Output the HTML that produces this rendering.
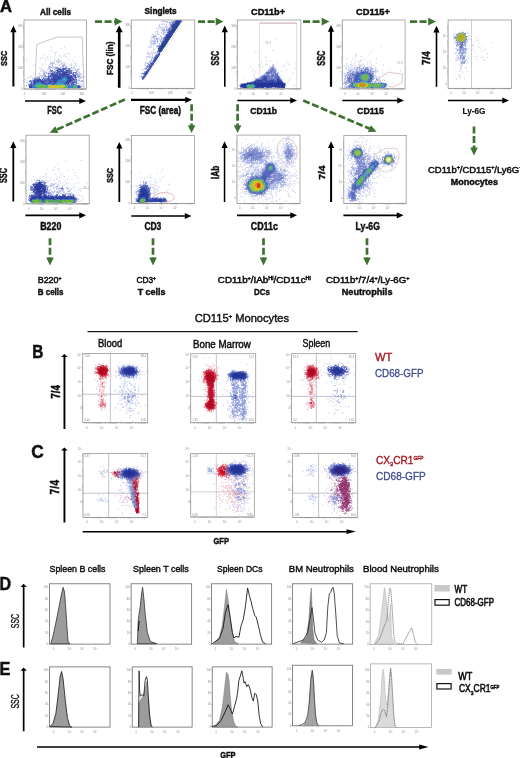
<!DOCTYPE html>
<html><head><meta charset="utf-8"><style>
html,body{margin:0;padding:0;background:#fff;width:520px;height:758px;overflow:hidden}
svg{display:block;font-family:"Liberation Sans", sans-serif}
</style></head><body>
<svg width="520" height="758" viewBox="0 0 520 758">
<defs><filter id="bl" x="-5%" y="-5%" width="110%" height="110%"><feGaussianBlur stdDeviation=".35"/></filter><filter id="tx" x="0" y="0" width="100%" height="100%"><feGaussianBlur stdDeviation=".25"/></filter></defs>
<rect width="520" height="758" fill="#fff"/>
<rect x="24" y="20" width="62.5" height="69" fill="#fff" stroke="#9a9a9a" stroke-width="0.8"/>
<rect x="131.3" y="20" width="63.4" height="68.4" fill="#fff" stroke="#9a9a9a" stroke-width="0.8"/>
<rect x="237.3" y="20" width="63.5" height="68.8" fill="#fff" stroke="#9a9a9a" stroke-width="0.8"/>
<rect x="342.3" y="20" width="62.8" height="68.8" fill="#fff" stroke="#9a9a9a" stroke-width="0.8"/>
<rect x="448.1" y="20" width="63.4" height="68.4" fill="#fff" stroke="#9a9a9a" stroke-width="0.8"/>
<rect x="26" y="135.2" width="63.2" height="68.6" fill="#fff" stroke="#9a9a9a" stroke-width="0.8"/>
<rect x="131.4" y="135.4" width="63" height="68" fill="#fff" stroke="#9a9a9a" stroke-width="0.8"/>
<rect x="237" y="135.1" width="63" height="68.3" fill="#fff" stroke="#9a9a9a" stroke-width="0.8"/>
<rect x="343.8" y="135.4" width="62.4" height="68" fill="#fff" stroke="#9a9a9a" stroke-width="0.8"/>
<path d="M12.4 86.6V32.3H10.3L13.4 25.6L16.5 32.3H14.4V86.6Z" fill="#000"/>
<path d="M117.9 87.8V32.2H115.7L119.2 25.5L122.7 32.2H120.5V87.8Z" fill="#000"/>
<path d="M224 86.7V32.2H221.7L224.8 25.5L227.9 32.2H225.6V86.7Z" fill="#000"/>
<path d="M329.9 86.7V31.7H327.9L331 25L334.1 31.7H332.1V86.7Z" fill="#000"/>
<path d="M435.7 86.7V32.5H433.4L436.5 25.8L439.6 32.5H437.3V86.7Z" fill="#000"/>
<path d="M25 100.2H79.3V97.9L86 101L79.3 104.1V101.8H25Z" fill="#000"/>
<path d="M131 98.7H185.3V96.7L192 99.8L185.3 102.9V100.9H131Z" fill="#000"/>
<path d="M237.3 99.7H290.3V97.4L297 100.5L290.3 103.6V101.3H237.3Z" fill="#000"/>
<path d="M342.3 99.7H397.3V97.4L404 100.5L397.3 103.6V101.3H342.3Z" fill="#000"/>
<path d="M448 99.7H502.3V97.4L509 100.5L502.3 103.6V101.3H448Z" fill="#000"/>
<path d="M12.4 201.5V148H10.2L13.3 141.3L16.4 148H14.2V201.5Z" fill="#000"/>
<path d="M118.4 202V148.6H116.2L119.3 141.9L122.4 148.6H120.2V202Z" fill="#000"/>
<path d="M223.8 202V148H221.5L224.6 141.3L227.7 148H225.3V202Z" fill="#000"/>
<path d="M330.1 202V148H328L331.1 141.3L334.2 148H332.1V202Z" fill="#000"/>
<path d="M25.4 214.5H79.3V212.2L86 215.3L79.3 218.4V216.2H25.4Z" fill="#000"/>
<path d="M131.3 215.2H184.8V212.9L191.5 216L184.8 219.1V216.8H131.3Z" fill="#000"/>
<path d="M237 214.5H290.3V212.2L297 215.3L290.3 218.4V216.2H237Z" fill="#000"/>
<path d="M343.4 214.5H396.8V212.2L403.5 215.3L396.8 218.4V216.2H343.4Z" fill="#000"/>
<line x1="95" y1="21.6" x2="115.2" y2="21.6" stroke="#3f7232" stroke-width="2.7" stroke-dasharray="7 2.6"/>
<path d="M122.5 21.6L114.7 25.4L114.7 17.8Z" fill="#3f7232"/>
<line x1="198" y1="21.6" x2="216.2" y2="21.6" stroke="#3f7232" stroke-width="2.7" stroke-dasharray="7 2.6"/>
<path d="M223.5 21.6L215.7 25.4L215.7 17.8Z" fill="#3f7232"/>
<line x1="303" y1="21.6" x2="322.2" y2="21.6" stroke="#3f7232" stroke-width="2.7" stroke-dasharray="7 2.6"/>
<path d="M329.5 21.6L321.7 25.4L321.7 17.8Z" fill="#3f7232"/>
<line x1="410" y1="21.6" x2="428.7" y2="21.6" stroke="#3f7232" stroke-width="2.7" stroke-dasharray="7 2.6"/>
<path d="M436 21.6L428.2 25.4L428.2 17.8Z" fill="#3f7232"/>
<line x1="125" y1="99.4" x2="56.4" y2="129.8" stroke="#3f7232" stroke-width="2.7" stroke-dasharray="7 2.6"/>
<path d="M49.7 132.8L55.3 126.2L58.4 133.1Z" fill="#3f7232"/>
<line x1="191.6" y1="104.2" x2="191.6" y2="125.7" stroke="#3f7232" stroke-width="2.7" stroke-dasharray="7 2.6"/>
<path d="M191.6 133L187.8 125.2L195.4 125.2Z" fill="#3f7232"/>
<line x1="237.6" y1="104.2" x2="237.6" y2="125.7" stroke="#3f7232" stroke-width="2.7" stroke-dasharray="7 2.6"/>
<path d="M237.6 133L233.8 125.2L241.4 125.2Z" fill="#3f7232"/>
<line x1="303.2" y1="100.5" x2="369.9" y2="128.8" stroke="#3f7232" stroke-width="2.7" stroke-dasharray="7 2.6"/>
<path d="M376.6 131.7L367.9 132.1L370.9 125.2Z" fill="#3f7232"/>
<line x1="474" y1="126.4" x2="474" y2="148.1" stroke="#3f7232" stroke-width="2.7" stroke-dasharray="7 2.6"/>
<path d="M474 155.4L470.2 147.6L477.8 147.6Z" fill="#3f7232"/>
<line x1="50" y1="238.2" x2="50" y2="258.1" stroke="#3f7232" stroke-width="2.7" stroke-dasharray="7 2.6"/>
<path d="M50 265.4L46.2 257.6L53.8 257.6Z" fill="#3f7232"/>
<line x1="153" y1="238.2" x2="153" y2="258.1" stroke="#3f7232" stroke-width="2.7" stroke-dasharray="7 2.6"/>
<path d="M153 265.4L149.2 257.6L156.8 257.6Z" fill="#3f7232"/>
<line x1="263.5" y1="238.2" x2="263.5" y2="258.1" stroke="#3f7232" stroke-width="2.7" stroke-dasharray="7 2.6"/>
<path d="M263.5 265.4L259.7 257.6L267.3 257.6Z" fill="#3f7232"/>
<line x1="367" y1="238.2" x2="367" y2="258.1" stroke="#3f7232" stroke-width="2.7" stroke-dasharray="7 2.6"/>
<path d="M367 265.4L363.2 257.6L370.8 257.6Z" fill="#3f7232"/>
<rect x="87.5" y="331.1" width="270.2" height="1.1" fill="#000"/>
<path d="M63.5 429V356.9H61.1L64.4 354L67.8 356.9H65.4V429Z" fill="#000"/>
<path d="M63.5 522.5V450.4H61.1L64.4 447.5L67.8 450.4H65.4V522.5Z" fill="#000"/>
<rect x="82.7" y="353.4" width="65" height="69.3" fill="#fff" stroke="#9a9a9a" stroke-width="0.8"/>
<rect x="190.7" y="353.7" width="65" height="69" fill="#fff" stroke="#9a9a9a" stroke-width="0.8"/>
<rect x="291.4" y="353.7" width="64.3" height="69" fill="#fff" stroke="#9a9a9a" stroke-width="0.8"/>
<rect x="83" y="453.4" width="64.7" height="64" fill="#fff" stroke="#9a9a9a" stroke-width="0.8"/>
<rect x="190.7" y="453.4" width="63.6" height="63.6" fill="#fff" stroke="#9a9a9a" stroke-width="0.8"/>
<rect x="292.7" y="453.4" width="65" height="64" fill="#fff" stroke="#9a9a9a" stroke-width="0.8"/>
<path d="M82.7 530.9H346.5V529.2L355.9 531.6L346.5 534V532.4H82.7Z" fill="#000"/>
<path d="M22.8 647.5V587H20.5L23.6 583.8L26.8 587H24.5V647.5Z" fill="#000"/>
<path d="M22.8 731.2V670.7H20.5L23.6 667.5L26.8 670.7H24.5V731.2Z" fill="#000"/>
<rect x="49.4" y="583.8" width="60.6" height="60.3" fill="#fff" stroke="#555" stroke-width="0.7"/>
<rect x="131.1" y="583.8" width="60.6" height="60.3" fill="#fff" stroke="#555" stroke-width="0.7"/>
<rect x="211.5" y="583.8" width="60.2" height="60.3" fill="#fff" stroke="#555" stroke-width="0.7"/>
<rect x="292.5" y="583.8" width="60.2" height="60.3" fill="#fff" stroke="#555" stroke-width="0.7"/>
<rect x="49.4" y="666.9" width="60.6" height="60.2" fill="#fff" stroke="#555" stroke-width="0.7"/>
<rect x="132.2" y="666.9" width="59.9" height="60.2" fill="#fff" stroke="#555" stroke-width="0.7"/>
<rect x="212.2" y="666.9" width="59.9" height="60.2" fill="#fff" stroke="#555" stroke-width="0.7"/>
<rect x="292.5" y="665.2" width="59.9" height="60.6" fill="#fff" stroke="#555" stroke-width="0.7"/>
<rect x="370.1" y="583.8" width="61.7" height="60.6" fill="#fff" stroke="#9a9a9a" stroke-width="0.7"/>
<rect x="370.5" y="663.9" width="61" height="63.5" fill="#fff" stroke="#9a9a9a" stroke-width="0.7"/>
<rect x="434.4" y="585" width="15.4" height="6.5" fill="#c8c8c8"/>
<rect x="435" y="599.6" width="14.2" height="5.6" fill="#fff" stroke="#111" stroke-width="1.2"/>
<rect x="436.3" y="669" width="15.4" height="5.6" fill="#c8c8c8"/>
<rect x="436.9" y="683.6" width="14.2" height="5.4" fill="#fff" stroke="#111" stroke-width="1.2"/>
<path d="M37 746.2H419.1V744.6L428.5 747L419.1 749.4V747.8H37Z" fill="#000"/>
<path d="M36.8 44.6L56.3 37.2L82.2 37L84 88.3L34.8 88.3Z" fill="none" stroke="#a8a0a8" stroke-width="0.6"/>
<g filter="url(#bl)">
<path stroke="#c2c8ea" stroke-width="1" d="M64 46.8h1m-14 .2h1m8.4 1.2h1m-10.5 2.6h1m3.8 1.5h1m-2.5 .1h1m.1 1.2h1m10.8 0h1m1.4 .7h1m-6.7 .3h1m-20.8 .4h1m14 .6h1m-5.1 .1h1m6.4 .3h1m1.3 0h1m.4 .4h1m-19.8 .4h1m12.1 .6h1m13 0h1m-28.9 .1h1m2.7 0h1m-9 .3h1m-3 .8h1m16.5 0h1m-3.9 .1h1m-10.5 .1h1m11.4 .5h1m9.8 0h1m-21.8 .2h1m9.5 .2h1m12.8 .3h1m-22.5 .3h1m-6.4 .1h1m8 0h1m-29.2 .2h1m27.3 .5h1m-4.5 .1h1m7.8 .1h1m-1.6 .3h1m13.9 0h1m-35.3 .3h1m24.4 .2h1m-2.6 .6h1m-6.3 .3h1m16.8 .1h1m-5.7 .6h1m1.8 .1h1m-30.9 .1h1m21.9 0h1m7.3 .2h1m-6.3 .4h1m-15.6 .1h1m25.3 .2h1m-23.2 .1h1m10.7 .1h1m-38.6 .1h1m7.9 0h1m27.8 .5h1m2.5 .2h1m.3 0h1m1.7 .8h1m-5.5 .6h1m-34.4 .8h1m-2.7 .3h1m39 .4h1m-39.2 .5h1m2.3 .7h1m-4.7 .3h1m41.6 1h1m.5 .5h1m-45.4 .1h1m-2.7 1.2h1m41.9 .8h1m-49.2 .2h1m1.5 .7h1m2.3 .1h1m42.2 .2h1m-52.3 1.2h1m-.1 .3h1m51.9 .2h1m-57.2 .4h1m54.9 .1h1m-55.4 .4h1m-3.7 .4h1m-3.1 1.4h1m.3 1.5h1m-.8 1.4h1m54.5 1.5h1m-57.4 1.6h1m56.5 1.2h1"/>
<path stroke="#98a2da" stroke-width="1" d="M53.9 62.7h1m-3.7 .3h1m-.2 0h1m-3 .1h1m10.6 .1h1m-9.4 .2h1m-2.1 .5h1m-2.7 .1h1m9.8 0h1m1.8 0h1m-15.6 .3h1m13.2 .1h1m-2 .6h1m-11.7 .1h1m-1.1 .1h1m6.3 0h1m4.1 0h1m-3.2 .4h1m1.9 0h1m-2.9 .2h1m-2.2 .3h1m-14.4 .2h1m3.1 .1h1m-4.5 .3h1m-.2 .1h1m4.2 .3h1m-5.4 .1h1m-3 .1h1m17 .1h1m3.3 0h1m-21.2 .1h1m1.7 0h1m19 0h1m-20 .3h1m-6.9 .5h1m-.8 0h1m22.8 .3h1m-21.3 .2h1m17.2 0h1m-22.1 .1h1m24.2 .3h1m-21.2 .1h1m22.9 0h1m-2.1 .3h1m-2.9 .2h1m-29 .1h1m26.5 .2h1m-33.5 .2h1m28.9 .1h1m3.6 .1h1m-24.1 .4h1m22.8 0h1m-35.6 .4h1m32.5 0h1m-.8 .1h1m-32.7 .5h1m3 .1h1m27.6 .1h1m.9 0h1m-36.6 .2h1m1 .1h1m-3.2 .4h1m1.7 .1h1m31.8 .1h1m-34.4 .1h1m1.3 .1h1m-6.3 .2h1m.4 0h1m1.7 .3h1m29.5 .3h1m-38.9 .1h1m3.3 0h1m35.2 .1h1m-1 .2h1m-37.9 .6h1m35.2 .1h1m-39.4 .4h1m-1.3 .2h1m4.2 .3h1m32.6 .1h1m-37.9 .1h1m-5.9 .2h1m42 0h1m-42.9 .1h1m1.4 .7h1m38.5 .1h1m-2.8 .1h1m-38.4 .1h1m39.7 0h1m-48.5 .1h1m44.9 .8h1m-49.3 .3h1m.9 0h1m43.8 .2h1m-1.3 1.2h1m-1.8 .2h1m.3 .1h1m1.8 .2h1m-.8 0h1m-2.1 .5h1m-.1 .1h1m-5.5 .2h1m1.5 .2h1m1.1 .2h1m-56.3 1.3h1m51.8 .2h1m.3 1.7h1m-.2 0h1m-56.4 .7h1m54.3 .5h1"/>
<path stroke="#6474c2" stroke-width="1" d="M62.9 66.6h1m2 .5h1m-2.1 .1h1m-5.5 .2h1m-4.8 .1h1m-.1 0h1m-2.2 .3h1m-.7 0h1m4.9 0h1m-8 .3h1m12.7 .2h1m-12.3 .1h1m0 .1h1m4.9 0h1m-.1 0h1m-7.5 .1h1m-.4 0h1m8.3 .1h1m-14.6 .2h1m5.2 0h1m3.5 0h1m.2 0h1m0 0h1m-1.1 .3h1m.2 0h1m-13.5 .1h1m11.5 0h1m-1.4 .4h1m-20.2 .3h1m-.7 .1h1m-.2 .3h1m-.1 .1h1m-2.5 .1h1m19.6 0h1m-20.1 .1h1m17.7 .1h1m-20.4 .5h1m-1.4 .1h1m19.2 0h1m-.8 .1h1m-19.9 .2h1m17.5 0h1m-.5 0h1m-21.6 .1h1m-2.2 .1h1m.1 0h1m1.6 0h1m20 .6h1m-.1 .1h1m-.2 0h1m-3.8 .2h1m-1.3 .2h1m-.6 0h1m-3 .1h1m.8 0h1m-.8 .2h1m-2.8 .2h1m-24.3 .1h1m-.4 0h1m25.8 .1h1m-.1 0h1m-28.8 .3h1m22.8 0h1m-25.2 .3h1m28.5 0h1m-3 .1h1m-33.2 .7h1m.3 0h1m31 .3h1m-29.4 .1h1m25.7 .2h1m-31.2 .2h1m32.5 0h1m-35.5 .3h1m3.2 .2h1m-2.6 .1h1m29.9 .1h1m-.1 .1h1m-.9 0h1m-34.4 .1h1m1.8 0h1m26.7 0h1m-33.1 .7h1m31.8 .1h1m-38.6 .1h1m3.6 0h1m-8 .2h1m1.7 0h1m35.9 0h1m-1.1 .2h1m-33.4 .1h1m.2 .2h1m-2.4 .1h1m-9.5 .1h1m.4 .1h1m38.2 .2h1m-.3 .4h1m-1 .1h1m-.8 .3h1m-1.5 .1h1m-44 .3h1m42.3 .2h1m-43.8 .2h1m-4 .1h1m44.9 0h1m-1.7 .2h1m-46.6 .2h1m-.2 .1h1m-.6 .1h1m-2.2 .1h1m.3 0h1m-.9 .1h1m-2.9 .2h1m-1 0h1m45.3 0h1m-46.6 .1h1m-.8 0h1m44.4 .1h1m-1.1 .1h1m-.5 .5h1m-.8 .4h1m.5 .4h1m-48.7 .5h1m-2.4 .8h1m-1 .5h1"/>
<path stroke="#4050ae" stroke-width="1" d="M63.6 68.4h1m-1.6 .2h1m-.5 .1h1m-1.7 .2h1m-1.3 .1h1m-.6 0h1m-.7 0h1m.1 .1h1m-.9 0h1m-8.2 .1h1m0 0h1m3 0h1m1.4 0h1m-.5 .1h1m-7.1 .2h1m.2 0h1m-1.4 .1h1m-.3 0h1m-2.6 .1h1m3.1 0h1m-5.4 .2h1m1.5 0h1m-3.6 .1h1m.8 0h1m1.8 0h1m-3.1 .1h1m-5.4 .1h1m5.5 0h1m-6.2 .1h1m1.4 0h1m.2 0h1m4.6 0h1m-2.4 .1h1m2.8 0h1m-13.9 .1h1m11.1 0h1m-13.7 .1h1m8.7 0h1m-4.2 .1h1m2.5 0h1m.1 0h1m0 0h1m-8.7 .1h1m4.9 0h1m.4 0h1m-11.7 .1h1m9.5 0h1m-8.6 .1h1m.5 .1h1m-.4 0h1m2.5 0h1m-11.4 .1h1m1 .1h1m1.4 0h1m5.1 0h1m-9.2 .1h1m-.3 0h1m.3 0h1m2.7 0h1m-6.6 .1h1m1.2 0h1m0 0h1m-.9 0h1m.6 0h1m3.4 0h1m-3.9 .1h1m3.7 0h1m-.1 0h1m-12.8 .1h1m1 0h1m8.3 0h1m-12.4 .1h1m2.4 0h1m.3 .1h1m2.2 0h1m-.7 0h1m1.5 0h1m-12.5 .1h1m5.5 0h1m4.8 0h1m-12.5 .1h1m-.2 0h1m.6 0h1m-7 .1h1m3.3 0h1m-5.1 .1h1m3.9 0h1m10.2 0h1m-14.5 .1h1m8.4 0h1m-1.7 .1h1m.3 0h1m-.6 0h1m-12.6 .1h1m-.1 0h1m1.7 0h1m5.5 .1h1m-9.7 .1h1m.8 0h1m8.5 0h1m-.6 0h1m-10.1 .1h1m9.3 0h1m-11 .1h1m-8.8 .1h1m-1 0h1m.3 0h1m2.9 0h1m9.2 0h1m2.1 0h1m-.7 0h1m-15 .1h1m8.2 0h1m-13.7 .1h1m1.1 0h1m-2 .1h1m12.7 0h1m0 0h1m-19.7 .1h1m-.9 0h1m-.8 0h1m1 0h1m5.2 0h1m-8.5 .2h1m4.5 0h1m1 0h1m6.1 0h1m-10.7 .1h1m1.1 0h1m-6.3 .1h1m1.6 0h1m2.7 0h1m-7.7 .2h1m5 0h1m13.2 0h1m-20.9 .1h1m14.8 0h1m-18.9 .1h1m3.3 0h1m.9 0h1m9.6 .1h1m4.2 0h1m-23.3 .1h1m15.7 0h1m-13.9 .1h1m1.2 0h1m-.4 0h1m-.3 0h1m.3 0h1m-.5 0h1m6.3 0h1m-14.8 .1h1m14.6 0h1m2.5 0h1m-21.1 .1h1m16.1 0h1m-19.3 .1h1m-.2 0h1m.2 0h1m-.7 0h1m.6 0h1m-3.6 .1h1m2 0h1m-5.4 .1h1m.8 0h1m18.8 0h1m.8 0h1m-24.7 .1h1m-.3 0h1m21.8 .1h1m-.5 0h1m-.8 0h1m-23.6 .1h1m14.8 0h1m-17.7 .2h1m17.5 0h1m-18.9 .1h1m18 0h1m-22.3 .1h1m.9 0h1m20.9 0h1m.4 0h1m-26 .1h1m1.7 .1h1m17.5 0h1m.7 0h1m-3 .1h1m1.1 0h1m.5 .2h1m-26.2 .1h1m-.3 0h1m23.9 0h1m-26.3 .2h1m2.2 0h1m-2.5 .1h1m18.6 0h1m.1 0h1m1.7 .1h1m-4.2 .1h1m-20.3 .1h1m-5.5 .1h1m-.2 0h1m-1.3 .1h1m-.7 .2h1m3.2 0h1m20.7 0h1m-3.9 .1h1m2.6 0h1m-4.9 .1h1m0 0h1m-23.5 .1h1m.4 .1h1m22 0h1m-26.9 .1h1m23.3 .1h1m-36.1 .1h1m34 0h1m-27.9 .1h1m1.1 0h1m-9.8 .2h1m8 0h1m-1 0h1m22.7 0h1m-21 .1h1m-6.4 .1h1m25.7 0h1m-25.3 .1h1m1.7 0h1m20.7 0h1m-24.5 .1h1m.8 .1h1m-.2 0h1m-4.7 .1h1m-11.8 .1h1m10.2 0h1m-15.5 .1h1m6.7 0h1m3.4 0h1m24.2 0h1m-33.9 .1h1m-.9 0h1m8.5 0h1m23.6 0h1m-38.7 .1h1m1.1 0h1m-.7 0h1m1.9 0h1m30.1 0h1m-.3 0h1m1.2 0h1m-28 .1h1m2.6 0h1m-12.7 .1h1m4.4 0h1m26.2 0h1m1.3 0h1m-35.7 .1h1m-.3 0h1m.9 0h1m7.6 0h1m-.9 0h1m21.5 0h1m-.8 0h1m-38.3 .1h1m.1 0h1m5.4 0h1m-.3 0h1m1.7 0h1m-.7 0h1m.5 0h1m-.9 0h1m2.1 0h1m-9 .1h1m0 0h1m2.7 0h1m.1 0h1m.8 0h1m20.3 0h1m-37.4 .1h1m9.5 0h1m.1 0h1m-.9 0h1m.2 0h1m-8.1 .1h1m5 0h1m-14.9 .1h1m12.9 0h1m.8 0h1m-18 .1h1m9.5 0h1m27.6 0h1m-31 .1h1m1.1 0h1m-.4 0h1m27.8 0h1m-41.5 .1h1m11.9 0h1m-5.8 .1h1m-7.6 .1h1m6.2 0h1m2.2 0h1m4.2 0h1m-5 .1h1m-12.9 .1h1m-.8 0h1m9.9 0h1m24.5 0h1m-.1 0h1m-25 .1h1m.9 0h1m19.5 0h1m-29 .1h1m-.4 0h1m26.9 0h1m-39.4 .1h1m13.2 0h1m1.2 0h1m20.5 0h1m.5 0h1m1.7 0h1m-31.1 .1h1m3.5 0h1m-.5 0h1m-6.2 .1h1m-12.7 .1h1m11.7 0h1m4.4 0h1m-8.9 .1h1m.4 0h1m.4 0h1m2.1 0h1m-.2 0h1m.2 0h1m19.1 0h1m-24.1 .1h1m2.3 .1h1m-18.7 .1h1m14.7 0h1m21.8 0h1m.7 0h1m-41.3 .1h1m-.9 0h1m13 0h1m25.8 0h1m-29 .1h1m25.2 0h1m-26.2 .1h1m24.7 0h1m-42.6 .1h1m13.6 .1h1m22.7 0h1m3.8 0h1m-.8 .1h1m-5.5 .1h1m-22.6 .1h1m-5.1 .1h1m27.4 0h1m-25.6 .1h1m-3.7 .1h1m22.2 0h1m1.4 0h1m.1 0h1m-.3 0h1m-42.8 .1h1m.3 .1h1m39.1 0h1m-27.2 .1h1m.4 0h1m27.3 .1h1m-4.6 .1h1m-5 .1h1m1 0h1m.6 0h1m-27.5 .1h1m.1 0h1m26 0h1m-43.7 .1h1m39.4 0h1m-25.7 .1h1m-15.5 .1h1m-3.3 .1h1m.7 0h1m-1.6 .3h1m-1.3 .2h1m-.7 .1h1m-3 .5h1m0 .4h1m-2 .2h1m.1 .1h1m47.9 0h1m-1.3 .1h1m-1.2 .1h1m0 .2h1m-1.9 .1h1m-.5 .3h1m-.4 0h1m-.8 .1h1m-2 .1h1m-1.1 .1h1m-50 .1h1m-.9 0h1m-.7 0h1m48.3 0h1m-1.3 .1h1m-.1 .1h1m-51.3 .1h1m48 .1h1"/>
<path stroke="#3444a4" stroke-width="1" d="M62.5 72.1h1m-.9 .1h1m1 .3h1m-.8 .1h1m-3.4 .2h1m.6 0h1m-2.3 .1h1m1 0h1m-3.5 .1h1m.5 0h1m-.7 0h1m-.4 0h1m.3 0h1m-4.6 .1h1m.2 .2h1m-3.3 .1h1m2.5 .1h1m-2.8 .2h1m.3 0h1m-2.6 .1h1m-.5 0h1m-.5 0h1m-1 0h1m-.7 0h1m-2.8 .2h1m-.3 0h1m1.6 0h1m-.1 .1h1m-7.2 .1h1m.5 0h1m1.1 0h1m-2.6 .1h1m2 0h1m.4 0h1m-6.6 .1h1m-.5 0h1m4 0h1m-3.2 .1h1m-5.1 .1h1m3.3 0h1m-1.5 .1h1m1 .1h1m-4.5 .1h1m-8.1 .1h1m6.4 0h1m2.4 0h1m-.8 0h1m.7 0h1m-15.1 .1h1m4.3 0h1m1.3 0h1m-6.8 .1h1m2.7 0h1m3.9 0h1m-12.2 .1h1m6.2 0h1m.9 .1h1m4.5 0h1m-1 0h1m-12.5 .1h1m-.6 0h1m5 0h1m.6 0h1m1.7 0h1m-13.4 .1h1m-.4 0h1m-.2 0h1m.2 0h1m7.4 0h1m-11.5 .1h1m5.8 0h1m0 0h1m.8 0h1m-5.8 .1h1m0 0h1m2 0h1m-1.9 .1h1m2.5 0h1m.1 0h1m-10.2 .1h1m.6 0h1m-.1 0h1m2.6 0h1m-11.4 .1h1m10.9 0h1m1.7 0h1m-14.3 .1h1m-.1 0h1m.3 0h1m-.5 0h1m2.5 0h1m1.9 0h1m-12.2 .1h1m3.7 0h1m8.9 0h1m-.5 0h1m.4 0h1m-15.1 .1h1m7.4 0h1m-9.4 .1h1m-.3 0h1m2 0h1m7.5 0h1m-13.9 .1h1m3.4 0h1m2.2 0h1m0 0h1m-.4 0h1m-.7 0h1m.7 0h1m-12.6 .1h1m-.1 0h1m1.5 0h1m3.8 0h1m1.6 0h1m-.8 0h1m-13.2 .1h1m4.1 0h1m-.9 0h1m1.1 0h1m0 0h1m-.8 0h1m-.6 0h1m1.5 0h1m2.9 0h1m.3 0h1m-12.9 .1h1m.5 0h1m3 0h1m.4 0h1m-.9 0h1m-.8 0h1m.9 0h1m.1 0h1m-15.8 .1h1m.8 0h1m.8 0h1m9.7 0h1m-15.5 .1h1m5.5 0h1m-.9 0h1m5.5 0h1m2.8 0h1m-.3 0h1m-17.4 .1h1m6.5 0h1m-.4 0h1m1.5 0h1m2.8 0h1m-16 .1h1m.8 0h1m.5 0h1m-1 0h1m-.1 0h1m8.3 0h1m-.7 0h1m-.2 0h1m-9.5 .1h1m5 0h1m-.8 0h1m3.8 0h1m-16 .1h1m.3 0h1m1.9 0h1m1.9 0h1m5.3 0h1m-.3 0h1m-16.9 .1h1m3.6 0h1m-.5 0h1m-.5 0h1m2.1 0h1m-1 0h1m-2 .1h1m3 0h1m.6 0h1m1.5 0h1m-17.9 .1h1m1.6 0h1m2.5 0h1m8.2 0h1m-.8 0h1m.7 0h1m-12.5 .1h1m-.5 0h1m5.3 0h1m2.4 0h1m-16 .1h1m.9 0h1m1.8 0h1m1.7 0h1m.7 0h1m3.2 0h1m.4 0h1m-.3 0h1m-15.2 .1h1m1.9 0h1m7.3 0h1m-1 0h1m.4 0h1m1.9 0h1m-19.4 .1h1m13.9 0h1m-13.5 .1h1m1 0h1m-.3 0h1m.8 0h1m1.5 0h1m6 0h1m.2 0h1m-.6 0h1m-11.2 .1h1m5.1 0h1m-8.9 .1h1m-.3 0h1m6.6 0h1m-8 .1h1m-.5 0h1m7.6 0h1m-16.2 .1h1m2.4 0h1m-.2 0h1m1.9 0h1m-.1 0h1m-.6 0h1m7 0h1m-18.2 .1h1m.1 0h1m.2 0h1m1.6 0h1m-.6 0h1m.9 0h1m0 0h1m-1 0h1m-.9 0h1m6.1 0h1m-16.1 .1h1m-.6 0h1m3.8 0h1m2.7 0h1m4.2 0h1m-14.1 .1h1m-.5 0h1m1.8 0h1m.2 0h1m-.9 0h1m8.1 0h1m-.5 0h1m-16.2 .1h1m4.6 0h1m-1 0h1m8.6 0h1m-14.8 .1h1m.3 0h1m2.9 0h1m6.9 0h1m.7 0h1m-17.8 .1h1m-.3 0h1m2.8 0h1m-.7 0h1m11.5 0h1m-.8 0h1m-.3 0h1m-16.2 .1h1m-.4 0h1m-.6 0h1m-.2 0h1m1.5 0h1m6.5 0h1m-12.5 .1h1m-.2 0h1m3.3 0h1m7.2 0h1m.1 0h1m-16.9 .1h1m-2.6 .1h1m2.6 0h1m3.5 0h1m-.9 0h1m9.1 0h1m-18 .1h1m-.8 0h1m-.9 0h1m-1 0h1m.3 0h1m-.3 0h1m.1 0h1m-.9 .1h1m-4.3 .1h1m0 0h1m-.3 0h1m-.3 0h1m-19 .1h1m11.7 0h1m.4 0h1m-.1 0h1m-.4 0h1m-18 .1h1m-.1 0h1m28 0h1m-28 .1h1m13.7 0h1m10.4 0h1m.4 0h1m-.6 0h1m.9 0h1m-34 .1h1m.9 0h1m.1 0h1m15.4 0h1m12.1 0h1m-.4 0h1m-1 0h1m-13.3 .1h1m.7 0h1m10.4 0h1m-16.8 .1h1m12.1 0h1m-32.5 .1h1m-.1 0h1m-.6 0h1m16.4 0h1m1.5 0h1m9.5 0h1m1.3 0h1m-34.1 .1h1m16.3 0h1m-.7 0h1m3.8 0h1m5.3 0h1m.1 0h1m.1 0h1m-32 .1h1m.9 0h1m12.2 0h1m-.2 0h1m-.5 0h1m2.5 0h1m-.8 0h1m10.1 0h1m-.2 0h1m-33.3 .1h1m15.8 0h1m-.5 0h1m-.4 0h1m10.3 0h1m.6 0h1m.4 0h1m-36 .1h1m-.1 0h1m5 0h1m13.4 0h1m-20.8 .1h1m.2 0h1m-.5 0h1m1.8 0h1m11 0h1m.1 0h1m12.3 0h1m1.8 0h1m-33.8 .1h1m1.2 0h1m-.3 0h1m11.5 0h1m-.3 0h1m1 0h1m-21.2 .1h1m5.9 0h1m8.7 0h1m.4 0h1m13.2 0h1m1.3 0h1m-31.9 .1h1m-4.2 .1h1m3.8 0h1m.4 0h1m9.2 0h1m14.8 0h1m-30.3 .1h1m2.8 0h1m12.8 0h1m.6 0h1m-3.2 .1h1m-.4 0h1m-.6 0h1m.1 0h1m11.4 0h1m-36 .1h1m2.3 0h1m16.5 0h1m10 0h1m0 0h1m0 0h1m-34.8 .1h1m4.1 0h1m.5 0h1m8.3 0h1m4.2 0h1m-.9 0h1m.5 0h1m7.3 0h1m-31.6 .1h1m.1 0h1m-.3 0h1m3.7 0h1m-.8 0h1m-.7 0h1m-.9 0h1m11.2 0h1m10.3 0h1m-.4 0h1m-32.7 .1h1m8.4 0h1m5.2 0h1m1 0h1m3.2 0h1m-.7 0h1m7 0h1m1.6 0h1m-32.5 .1h1m3.6 0h1m-.2 0h1m-.7 0h1m12.7 0h1m-.9 0h1m.9 0h1m-.9 0h1m9.5 0h1m-.1 0h1m-.4 0h1m-33.5 .1h1m2.4 0h1m1.9 0h1m20.7 0h1m1 0h1m.2 0h1m-29.1 .1h1m9.7 0h1m2.9 0h1m9.7 0h1m-25.5 .1h1m.3 0h1m-.5 0h1m1 0h1m4.3 0h1m-.5 0h1m13.2 0h1m1.3 0h1m-31.8 .1h1m-.8 0h1m-.4 0h1m-.5 0h1m3.4 0h1m10.1 0h1m11 0h1m-22.8 .1h1m8.3 0h1m0 0h1m.3 0h1m.2 0h1m8.7 0h1m.3 0h1m.2 0h1m-34.4 .1h1m-.1 0h1m0 0h1m-.1 0h1m1.3 0h1m-.2 0h1m2 0h1m5.5 0h1m16.4 0h1m-.7 0h1m-34.4 .1h1m4.4 0h1m26.3 0h1m0 0h1m-25.3 .1h1m19.7 0h1m1.1 0h1m-3.5 .1h1m-30.5 .1h1m8.8 0h1m4.2 0h1m1.9 0h1m12.9 0h1m-.9 0h1m.3 0h1m-27 .1h1m.1 0h1m7 0h1m3.1 0h1m8.4 0h1m-.6 0h1m-21 .1h1m3 0h1m2.3 0h1m.4 0h1m7.2 0h1m2.9 0h1m-31.9 .1h1m7.9 0h1m-.3 0h1m4.6 0h1m-.9 0h1m.4 0h1m3 0h1m8.1 0h1m-.6 0h1m.9 0h1m.1 0h1m-.8 0h1m-35.3 .1h1m19.4 0h1m-21 .1h1m-.5 0h1m7.5 0h1m-.9 0h1m18 0h1m.5 0h1m-21.5 .1h1m-9.2 .1h1m6.1 0h1m2.5 0h1m1.9 0h1m4.6 0h1m1.2 0h1m9.3 0h1m-32.2 .1h1m17.1 0h1m12.5 0h1m-33.4 .1h1m-.9 0h1m14.7 0h1m23.5 0h1m-6.4 .1h1m5.4 0h1m-30.4 .1h1m-2.3 .1h1m1.5 0h1m4.2 0h1m17.5 0h1m-39 .1h1m10.9 0h1m4 0h1m16.4 0h1m.1 0h1m-16 .1h1m18.9 0h1m-1 0h1m-39.8 .1h1m17.4 .1h1m17.2 0h1m.2 0h1m-.4 0h1m-21 .1h1m12.8 0h1m1.3 .3h1m7.9 0h1m-47.4 .2h1m39.8 0h1m-1 0h1m-41.7 .1h1m-1.6 .1h1m-.3 0h1m38.9 0h1m-39.7 .1h1m-2.3 .1h1m35.9 0h1m.2 0h1m-38.9 .1h1m-.7 0h1m-1.3 .1h1m44.9 .1h1m-1.1 .1h1m-48.6 .1h1m.7 0h1m44.5 0h1m-1 0h1m-48.2 .1h1m-1.8 .1h1m-.4 0h1m-1 0h1m-.9 0h1m.8 0h1m44.5 0h1m-.3 0h1m-.9 0h1m-49.7 .1h1m-1 0h1m-.9 0h1m.2 0h1m-.2 0h1m-3.3 .1h1m1.3 0h1m-2.2 .1h1m-.9 0h1m-.7 0h1m-2.1 .1h1m.7 0h1m1.5 0h1m33.1 0h1m-.5 0h1m-38.9 .1h1m1 0h1m-.4 0h1m.4 0h1m-.1 0h1m-.4 0h1m31 0h1m-.2 0h1m1.9 0h1m5 0h1m-.9 0h1m-47.1 .1h1m2.3 0h1m-1 0h1m-.7 0h1m36.2 0h1m-.3 0h1m-1 0h1m3.8 0h1m-48.7 .1h1m-.5 0h1m-.1 0h1m-.1 0h1m-.5 0h1m-.4 0h1m-.3 0h1m-.7 0h1m-.3 0h1m31.4 0h1m-.8 0h1m-.6 0h1m-.8 0h1m-.7 0h1m2.7 0h1m4.3 0h1m-47.2 .1h1m1.2 0h1m-.6 0h1m-.9 0h1m0 0h1m-1 0h1m-.4 0h1m31.2 0h1m-.4 0h1m-.6 0h1m2.6 0h1m-42.4 .1h1m36.7 0h1m2.7 0h1m3.6 0h1"/>
<path stroke="#3c84c4" stroke-width="1" d="M64.7 77h1m-.8 .1h1m-1.3 .1h1m-2.2 .3h1m-1.4 .3h1m.8 0h1m-2.8 .2h1m-1 0h1m-.9 0h1m1.4 0h1m-1.5 .1h1m-1.9 .1h1m-.8 0h1m.6 0h1m-4.2 .2h1m-.8 0h1m-1 .1h1m-.8 0h1m-.9 .2h1m-.2 0h1m0 0h1m-.4 0h1m-.8 0h1m-3.1 .1h1m.3 0h1m-3.2 .1h1m.8 0h1m-.1 0h1m-3.6 .2h1m1.7 0h1m-.8 0h1m-5.1 .1h1m2.8 0h1m.3 0h1m-6.6 .1h1m3.9 .1h1m-1.6 .1h1m-.4 0h1m-5.4 .1h1m.2 0h1m1.4 0h1m-4.5 .1h1m3 0h1m-4.2 .1h1m-2.5 .1h1m.5 0h1m-.8 0h1m1.5 0h1m-1 .1h1m-8.1 .1h1m1.2 .1h1m.7 0h1m-2.5 .1h1m.8 0h1m-.5 0h1m.5 0h1m.5 0h1m-2 .1h1m-.9 0h1m-.6 0h1m-5.2 .1h1m1.9 0h1m-1.4 .1h1m-1 0h1m-.9 .1h1m-.6 0h1m-2.8 .1h1m-2.1 .1h1m.1 0h1m-.1 0h1m-.4 0h1m.2 0h1m-8 .1h1m3.6 0h1m-5.2 .1h1m-1 0h1m3.7 0h1m0 0h1m.1 0h1m-7.9 .1h1m2.2 0h1m-1 0h1m-4 .1h1m-.3 0h1m-.4 0h1m-2.5 .1h1m2.7 0h1m-6.1 .1h1m.3 0h1m-.7 0h1m-.6 0h1m-.2 0h1m1 0h1m-.8 0h1m.1 0h1m-.1 0h1m0 .1h1m-5.9 .1h1m-.3 0h1m0 0h1m.4 0h1m-6.8 .1h1m.4 0h1m-.6 0h1m-.8 0h1m.1 0h1m.4 0h1m-1 0h1m1.1 0h1m-.3 0h1m.1 0h1m-9.2 .1h1m-.2 0h1m2.2 0h1m.3 0h1m-26.3 .1h1m18.8 0h1m.2 0h1m-.5 0h1m1.7 0h1m-.3 0h1m-6.3 .1h1m.5 0h1m.5 0h1m-1 0h1m1 0h1m-.2 0h1m-25.7 .1h1m19.5 0h1m-.8 0h1m3 0h1m-25.4 .1h1m18.5 0h1m-.5 0h1m.3 0h1m1.6 0h1m-24.9 .1h1m23.3 0h1m-.4 0h1m-7 .1h1m2.3 0h1m-3.5 .1h1m2 0h1m-.6 0h1m-2.7 .1h1m1.3 0h1m-5.5 .1h1m1.2 0h1m1.5 0h1m-25.5 .1h1m20.3 0h1m1.8 0h1m.9 0h1m-25.3 .1h1m16 0h1m-.6 0h1m-.8 0h1m3.2 0h1m-26.5 .1h1m-.7 0h1m2.4 0h1m-.7 0h1m15.6 0h1m-.7 0h1m-20.8 .1h1m19.9 0h1m0 0h1m-.8 0h1m-22.3 .1h1m18.4 0h1m.7 0h1m-24 .1h1m-.1 0h1m-.6 0h1m-.6 0h1m-.7 0h1m20.4 0h1m-.5 0h1m-24.9 .1h1m-.1 0h1m-.4 0h1m.7 0h1m-.4 0h1m15.7 0h1m-21.3 .1h1m1.4 0h1m-.3 0h1m-.4 0h1m16.4 0h1m-.7 0h1m2.3 0h1m-26.4 .1h1m0 0h1m1 0h1m-.9 0h1m-.7 0h1m-.4 0h1m-.7 0h1m15.5 0h1m-.3 0h1m-21.9 .1h1m2.8 0h1m-.1 0h1m17.7 0h1m-.2 0h1m-.4 0h1m-25.4 .2h1m.2 0h1m.5 0h1m.3 0h1m-.8 0h1m10 0h1m12.2 0h1m-30.6 .1h1m-.7 0h1m6.2 0h1m11 0h1m-20.6 .1h1m13.9 0h1m.5 0h1m3.5 0h1m-.5 0h1m6.2 0h1m-.9 0h1m-.4 0h1m-30 .1h1m4.8 0h1m8.5 0h1m3 0h1m4.4 0h1m4.2 0h1m-24.6 .1h1m.4 0h1m10.5 0h1m7 0h1m-7.4 .1h1m-.9 0h1m-14.8 .1h1m20.4 0h1m-21.2 .1h1m11.1 0h1m8.5 0h1m-30.5 .1h1m4.2 0h1m1.6 0h1m16 0h1m0 0h1m2.2 0h1m-22.4 .1h1m20.1 0h1m-.5 0h1m.6 .1h1m-20.9 .1h1m-1 .1h1m-14.8 .1h1m13.6 0h1m17.6 0h1m-.1 0h1m-34.6 .1h1m-.3 0h1m39.1 0h1m-.4 0h1m-28.3 .1h1m-.9 0h1m18.2 .1h1m-22.1 .1h1m29 0h1m-1.6 .1h1m-.8 0h1m-3 .1h1m-.3 0h1m-41.7 .1h1m32.7 0h1m-.3 0h1m-.8 0h1m.6 0h1m1.4 0h1m-.2 0h1m-41 .1h1m-.5 0h1m-.6 0h1m0 0h1m-.9 0h1m32.4 0h1m-.5 0h1m-37.6 .1h1m-.7 0h1m.3 0h1m35.6 0h1m.8 0h1m3.2 0h1m-44.3 .1h1m36.1 0h1m-.5 0h1m-1 0h1m-.8 0h1m-.7 0h1m-37.5 .1h1m31.8 0h1m-.2 0h1m.4 0h1m.6 0h1m-.7 0h1m-.7 0h1m3.8 0h1m-.7 0h1m-.9 0h1m-45.8 .1h1m-1 0h1m-.6 0h1m-1 0h1m-.7 0h1m.5 0h1m33.6 0h1m-.4 0h1m-.8 0h1m-.4 0h1m-.9 0h1m-.9 0h1m1.2 0h1m2.6 0h1m-45.4 .1h1m.7 0h1m32.8 0h1m0 0h1m-.2 0h1m.8 0h1m.4 0h1m-.8 0h1m3.1 0h1m-45.6 .1h1m-.6 0h1m-1 0h1m.3 0h1m-.8 0h1m-.7 0h1m32.7 0h1m3.8 0h1m-1 0h1m-41.5 .1h1m-.3 0h1m-.9 0h1m-.2 0h1m32.3 0h1m-.9 0h1m-1 0h1m-.5 0h1m-.4 0h1m.2 0h1m-.2 0h1m-.8 0h1m5.2 0h1m-44.7 .1h1m-.3 0h1m-.3 0h1m32.2 0h1m-1 0h1m1.1 0h1m-.6 0h1m-.9 0h1m-1 0h1m-.6 0h1m-.1 0h1m-.6 0h1m-.5 0h1m-36.6 .1h1m-.5 0h1m30.8 0h1m1.5 0h1m-.1 0h1m2.1 0h1m-.4 0h1m-.7 0h1m-41.3 .1h1m-.5 0h1m-.9 0h1m28.5 0h1m-.6 0h1m1.9 0h1m-.7 0h1m-1 0h1m-.3 0h1m1.7 0h1m-.7 0h1m-.1 0h1m-.5 0h1m-.8 0h1m-.7 0h1m-.5 0h1m-40.8 .1h1m.4 0h1m30.6 0h1m-.8 0h1m-.1 0h1m-.7 0h1m2.4 0h1m-.9 0h1m-.9 0h1m-.4 0h1m-.7 0h1m-39.2 .1h1m7.6 0h1m22.6 0h1m0 0h1m-1 0h1m3.4 0h1m.5 0h1m-1 0h1m-1 0h1m-1 0h1m-.3 0h1m-1 0h1m-40.3 .1h1m-.9 0h1m-.9 0h1m6.7 0h1m-.8 0h1m19.9 0h1m1.9 0h1m-.8 0h1m-.5 0h1m2 0h1m1.2 0h1m-.9 0h1m-.3 0h1m-.9 0h1m-11.2 .1h1m-.2 0h1m1.3 0h1m.4 0h1m-.7 0h1"/>
<path stroke="#44aac4" stroke-width="1" d="M63.8 79.2h1m-.9 0h1m-1.1 .1h1m-.4 0h1m-.5 0h1m-2.3 .1h1m.4 0h1m-1 0h1m-2.3 .2h1m-.3 .2h1m-.5 0h1m-2.7 .1h1m-.5 0h1m-.2 .1h1m-7.5 3.4h1m-.1 .2h1m-1.8 .1h1m-.8 0h1m-1.2 .2h1m-.5 0h1m-21 .1h1m0 0h1m17.1 0h1m-20.1 .1h1m-.9 0h1m-.8 0h1m-.4 0h1m-.9 0h1m-1 0h1m18.8 0h1m-.7 0h1m-24.1 .1h1m2.7 0h1m16.2 0h1m-20.1 .1h1m20.2 0h1m-24.5 .1h1m3.3 0h1m16 .1h1m.7 0h1m-23.9 .1h1m-.1 0h1m19.5 0h1m-.9 0h1m-22.5 .1h1m21.7 0h1m-.4 0h1m-20.7 .1h1m-4.4 .1h1m-.1 0h1m-.3 0h1m18.2 0h1m1.7 0h1m-23.6 .1h1m27.5 .1h1m-31.3 .1h1m12.1 0h1m15.6 .1h1m-30.9 .1h1m12.7 0h1m-14.1 .3h1m-1.8 .1h1m8.8 .1h1m2.2 .1h1m-.2 0h1m25.5 0h1m-39.5 .1h1m8.3 0h1m-1 0h1m19.1 0h1m-31.1 .1h1m36.7 0h1m-39.3 .1h1m8.8 0h1m0 0h1m27.7 0h1m-.4 0h1m-.7 0h1m-41.3 .1h1m9.5 0h1m19.1 0h1m-.8 0h1m5.7 0h1m1.2 0h1m-.6 0h1m-31 .1h1m-.9 0h1m19.5 0h1m-.6 0h1m-.8 0h1m5.5 0h1m-.9 0h1m.5 0h1m-.7 0h1m-.9 0h1m-41 .1h1m-.8 0h1m-1 0h1m8.5 0h1m-1 0h1m-1 0h1m-.9 0h1m-.5 0h1m19.3 0h1m6.8 0h1m.3 0h1m-.7 0h1m-.8 0h1m-1 0h1m-.9 0h1m-40.2 .1h1m35.7 0h1m-.7 0h1m.8 0h1m-40.1 .1h1m7.9 0h1m-.7 0h1m-.9 0h1m-.2 0h1m-.8 0h1m-.7 0h1m-.9 0h1m18.6 0h1m-1 0h1m5.4 0h1m-.9 0h1m-.2 0h1m.3 0h1m-40.8 .1h1m-.4 0h1m-.9 0h1m-.4 0h1m9.2 0h1m25.5 0h1m-1 0h1m-.8 0h1m-35.8 .1h1m1.6 0h1m-.6 0h1m-.5 0h1m.3 0h1m-.2 0h1m.5 0h1m-.6 0h1m27.8 0h1m-.9 0h1m-.4 0h1m-37.6 .1h1m-.9 0h1m-.7 0h1m-.9 0h1m2 0h1m-.6 0h1m-.5 0h1m-.7 0h1m1.3 0h1m-.9 0h1m-.9 0h1m-.9 0h1m-.8 0h1m-.6 0h1m-.4 0h1m-.9 0h1m16.3 0h1m-1 0h1m-.8 0h1m-.4 0h1m-28.6 .1h1m-.8 0h1m-.2 0h1m-.7 0h1m-.7 0h1m-.6 0h1m-.6 0h1m-.6 0h1m-.8 0h1m.5 0h1m-.5 0h1m3.3 0h1m-1 0h1m-.6 0h1m16.4 0h1m-27.8 .1h1m-.7 0h1m.9 0h1m.6 0h1m-.7 0h1m-.7 0h1m.1 0h1m-.9 0h1m-.3 0h1m.9 0h1m-.9 0h1m-.8 0h1m-.9 0h1m-.9 0h1m17 0h1m-27.4 .1h1m1.9 0h1m.5 0h1m.3 0h1m.9 0h1m-.9 0h1m-.7 0h1m-.7 0h1m-9.8 .1h1m-.9 0h1m-.9 0h1m2.3 0h1m1.8 0h1m2 0h1"/>
<path stroke="#66b850" stroke-width="1" d="M41.5 85h1m1 0h1m16 0h1m-19.5 .1h1m20 0h1m-2.7 .1h1m-26.1 .1h1m4.6 0h1m6.9 0h1m.9 0h1m-16.6 .1h1m-.2 0h1m-.2 0h1m-.1 .1h1m21.4 0h1m-.7 0h1m-25.8 .1h1m-.8 0h1m-1 0h1m3.5 0h1m-.6 0h1m0 0h1m6.8 0h1m-.5 0h1m6.8 0h1m-.8 0h1m-.3 0h1m-.9 0h1m-16.9 .1h1m7.5 0h1m1.9 0h1m.9 0h1m.6 0h1m-20.1 .1h1m3.3 0h1m8.8 0h1m-.6 0h1m1.6 0h1m-.6 0h1m-.3 0h1m.4 0h1m1.1 0h1m0 0h1m-26.5 .1h1m-.9 0h1m0 0h1m-.3 0h1m2.4 0h1m-.8 0h1m7.8 0h1m4.5 0h1m.8 0h1m-.3 0h1m-.5 0h1m.9 0h1m-.9 0h1m-.9 0h1m0 0h1m.5 0h1m-1 0h1m-.2 0h1m-27.9 .1h1m.2 0h1m-.5 0h1m-1 0h1m-.8 0h1m.2 0h1m-.4 0h1m-.5 0h1m-.9 0h1m.6 0h1m5.6 0h1m-.2 0h1m1.5 0h1m.8 0h1m-.7 0h1m6.8 0h1m-.5 0h1m-.4 0h1m-28.6 .1h1m-.8 0h1m0 0h1m-.6 0h1m0 0h1m-.9 0h1m.4 0h1m-.9 0h1m-1 0h1m-.7 0h1m-.7 0h1m-1 0h1m1.2 0h1m19.2 0h1m8.9 0h1m-37 .1h1m-.9 0h1m.4 0h1m0 0h1m-.7 0h1m-.2 0h1m-.4 0h1m-.8 0h1m1 0h1m-8.3 .1h1m-.3 0h1m0 0h1m-.5 0h1m-.9 0h1m-.9 0h1m.4 0h1m-.7 0h1m1.2 0h1m.2 0h1m19.3 0h1m-.5 0h1m7.6 0h1m-36.6 .1h1m-.7 0h1m.2 0h1m-.3 0h1m2.8 0h1m-.8 0h1m1.3 0h1m-.6 0h1m16 0h1m-.9 0h1m-.8 0h1m-.1 0h1m7.9 0h1m-36.9 .1h1m-.8 0h1m-.3 0h1m-.7 0h1m0 0h1m-1 0h1m-.5 0h1m-.2 0h1m-.5 0h1m-.7 0h1m-.8 0h1m-1 0h1m-.9 0h1m-.7 0h1m-.9 0h1m-.9 0h1m2.5 0h1m-.8 0h1m-.6 0h1m15.8 0h1m.2 0h1m7.1 0h1m-.8 0h1m-38.1 .1h1m-.9 0h1m-.4 0h1m.1 0h1m-1 0h1m.2 0h1m-.8 0h1m-.8 0h1m-.8 0h1m-1 0h1m0 0h1m-.9 0h1m-.6 0h1m-.1 0h1m.3 0h1m-.7 0h1m18.9 0h1m-.2 0h1m-28.3 .1h1m-1 0h1m2.4 0h1m.6 0h1m-.8 0h1m-.6 0h1m-1 0h1m-.9 0h1m19.4 0h1m-.4 0h1m-.9 0h1m-.2 0h1m7.7 0h1m-37.5 .1h1m-.1 0h1m.8 0h1m-.6 0h1m-.6 0h1m1 0h1m-.1 0h1m-.9 0h1m2.2 0h1m15.5 0h1m-1 0h1m-.5 0h1m-.7 0h1m-.1 0h1m7.2 0h1m-.8 0h1m-.9 0h1m-.7 0h1m-1 0h1m-37.6 .1h1m-.3 0h1m-.5 0h1m-.5 0h1m.3 0h1m-.6 0h1m-.4 0h1m-1 0h1m-.7 0h1m-.3 0h1m-.5 0h1m2.5 0h1m-.7 0h1m-.8 0h1m15.8 0h1m-.7 0h1m-.6 0h1m-.5 0h1m-.7 0h1m7.4 0h1m-.9 0h1m-.8 0h1m-1 0h1m-37.9 .1h1m-.7 0h1m3.1 0h1m.1 0h1m-.8 0h1m-.9 0h1m-.8 0h1m-.8 0h1m-1 0h1m0 0h1m-.9 0h1m1.4 0h1m7 0h1m.1 0h1m-.2 0h1m.2 0h1m.1 0h1m-.7 0h1m-.9 0h1m-1 0h1m.6 0h1m-.8 0h1m-.6 0h1m-.9 0h1m.4 0h1m-.8 0h1m-.4 0h1m-.9 0h1m.5 0h1m-18.4 .1h1m-.9 0h1m-.8 0h1m-.9 0h1m-1 0h1m2.3 0h1m-.7 0h1m-.1 0h1m-.1 0h1m-.7 0h1m-.9 0h1m1.4 0h1m-.9 0h1m.3 0h1m-.9 0h1m-.6 0h1m-.1 0h1m-.2 0h1m0 0h1m.1 0h1m-1 0h1m-.9 0h1m-1 0h1m-.1 0h1m-.7 0h1m-.8 0h1m-.6 0h1m-1 0h1m-17.6 .1h1m-.1 0h1m-.3 0h1m1.4 0h1m-.4 0h1m-.4 0h1m-.9 0h1m-.1 0h1m-.4 0h1m-.8 0h1m-.5 0h1m.2 0h1m-.9 0h1m-.8 0h1m-.2 0h1m-.7 0h1m.1 0h1m-.9 0h1m0 0h1m-.4 0h1m-.7 0h1m-.8 0h1m-.7 0h1m-.3 0h1m-.6 0h1m-.6 0h1m-.9 0h1m-.8 0h1m-.6 0h1m-.8 0h1m-1 0h1m-16 .1h1m-.8 0h1m-.7 0h1m3.6 0h1m-1 0h1m-.6 0h1m-.9 0h1m.3 0h1m-.9 0h1m-.7 0h1m.1 0h1m.4 0h1m1.5 0h1m-.7 0h1m-1 0h1m-.2 0h1m0 0h1m.2 0h1m-16.9 .1h1m-.6 0h1m-.7 0h1m2.4 0h1m-.3 0h1m-.9 0h1m-.7 0h1m-.2 0h1m-.4 0h1m-.5 0h1m-.9 0h1m-.5 0h1m.4 0h1m-.6 0h1m-.6 0h1m1.4 0h1m.5 0h1m-.9 0h1m-.8 0h1m-.7 0h1m-.7 0h1m.1 0h1m-12.9 .1h1m.2 0h1m0 0h1m.9 0h1m-.3 0h1m-.7 0h1m-.3 0h1m.5 0h1m-.8 0h1m-.4 0h1"/>
<path stroke="#c4cc34" stroke-width="1" d="M49.7 86h1m1.3 0h1m-.2 0h1m2.2 0h1m1 0h1m2.5 0h1m.5 0h1m-15.5 .1h1m-1 0h1m-1 0h1m.4 0h1m2.3 0h1m.4 0h1m.9 0h1m.1 0h1m-.8 0h1m.1 0h1m2.3 0h1m-.3 0h1m-.2 0h1m-16.5 .1h1m4.7 0h1m-.5 0h1m-.9 0h1m-.1 0h1m.6 0h1m-.4 0h1m-.3 0h1m.9 0h1m-.6 0h1m-.2 0h1m.9 0h1m-.7 0h1m-15.3 .1h1m1.8 0h1m-.3 0h1m-.8 0h1m-.7 0h1m-.8 0h1m.4 0h1m-.1 0h1m3 0h1m-.7 0h1m-1 0h1m.7 0h1m0 0h1m-.8 0h1m-.8 0h1m-1 0h1m-.5 0h1m-16.4 .1h1m-.8 0h1m-.9 0h1m3.7 0h1m.8 0h1m2.2 0h1m.5 0h1m0 0h1m-.4 0h1m-1 0h1m0 0h1m.1 0h1m-15.7 .1h1m-.6 0h1m-1 0h1m-.4 0h1m2.4 0h1m-1 0h1m-.1 0h1m.8 0h1m-.7 0h1m-.7 0h1m-.9 0h1m-.6 0h1m-.6 0h1m-.7 0h1m-.3 0h1m-1 0h1m-.4 0h1m-.7 0h1m-.5 0h1m-.2 0h1m0 0h1m.1 0h1m-.8 0h1m-15.3 .1h1m-.5 0h1m-1 0h1m-.9 0h1m2 0h1m-.9 0h1m-.4 0h1m-.5 0h1m-.5 0h1m-.7 0h1m.2 0h1m-.9 0h1m-.6 0h1m-1 0h1m.1 0h1m.1 0h1m-.3 0h1m-.9 0h1m-.5 0h1m-.8 0h1m-.9 0h1m-.8 0h1m-.6 0h1m-.5 0h1m-.2 0h1m-.6 0h1m-.5 0h1m-1 0h1m-.9 0h1m-.5 0h1m-1 0h1m-.9 0h1m-15 .1h1m-.7 0h1m-.6 0h1m1.2 0h1m-.9 0h1m-.1 0h1m-.8 0h1m-.9 0h1m-.6 0h1m-1 0h1m-.6 0h1m-.4 0h1m.6 0h1m-.4 0h1m-.6 0h1m-.7 0h1m1.1 0h1m-.7 0h1m-.9 0h1m-.7 0h1m-.9 0h1m-.9 0h1m.4 0h1m-14.7 .1h1m-.3 0h1m-.9 0h1m-.9 0h1m-.7 0h1m-.9 0h1m-.8 0h1m1.8 0h1m-.9 0h1m-1 0h1m-.7 0h1m-1 0h1m-.6 0h1m-.5 0h1m-.3 0h1m-.8 0h1m-.7 0h1m-.9 0h1m-.9 0h1m-.6 0h1m-.8 0h1m-.1 0h1m-.7 0h1m-1 0h1m-.8 0h1m-.7 0h1m.3 0h1m0 0h1m-.5 0h1m-.9 0h1m-.8 0h1m.1 0h1m-.7 0h1m-14.7 .1h1m.1 0h1m-.7 0h1m1.6 0h1m-.3 0h1m-.5 0h1m-.8 0h1m-.7 0h1m-.5 0h1m-.5 0h1m-1 0h1m-.8 0h1m-.8 0h1m1.4 0h1m-1 0h1m-.4 0h1m-.9 0h1m.6 0h1m-.2 0h1m.5 0h1m-.9 0h1m-.7 0h1m-15 .1h1m-.6 0h1m1.4 0h1m-.5 0h1m.2 0h1m0 0h1m.5 0h1m-.9 0h1m-.8 0h1m2.6 0h1m-10.9 .1h1m-.4 0h1m-.3 0h1m-.5 0h1m-.9 0h1m-1.8 .1h1m-.8 0h1m-.8 0h1m-.7 0h1m-.9 0h1m-2.1 .1h1m-.9 0h1m-.8 0h1m-.6 0h1m-2.3 .1h1m-.9 0h1m-.9 0h1m-.4 0h1m-1.5 .1h1m-.8 0h1m.1 0h1m-.9 0h1"/>
<path stroke="#f0b424" stroke-width="1" d="M50 86h1m.8 0h1m-1.5 .1h1m-1.3 .1h1m-1.7 .2h1m-.9 0h1m-.3 0h1m-.7 .1h1m-2.4 .1h1m.1 0h1m-.5 0h1m-.8 0h1m-2.1 .1h1m-.9 0h1m-.9 0h1m-1.9 .1h1m-1 0h1m-.8 0h1m-.8 0h1m-.9 0h1m-.5 0h1m-.3 0h1m-2.2 .1h1m-.9 0h1m-.8 0h1m-.9 0h1m-.4 0h1m-.7 0h1m-1 0h1m-1 0h1m-2.7 .1h1m-.7 0h1m-.1 0h1m-.9 0h1m-.7 0h1"/>
</g>
<path d="M143.8 80.5L163 52.5L183.5 20.3" fill="none" stroke="#efe2b8" stroke-width="0.8"/>
<g filter="url(#bl)">
<path stroke="#b8c0e8" stroke-width="1" d="M165 20.9h1m-2.8 .1h1m-3.2 .1h1m1.3 .3h1m1.1 0h1m-4.9 .1h1m.3 0h1m0 0h1m2.1 .1h1m-.8 0h1m-1.1 .7h1m.6 .1h1m-3.6 .1h1m2.1 0h1m-4.1 .3h1m-3.7 .8h1m-.3 .7h1m-3.3 .1h1m-3.6 .1h1m1.5 0h1m3.5 .1h1m-3.5 .1h1m-5.7 .9h1m-1.4 .7h1m5.3 0h1m-5.7 .7h1m.6 .1h1m-3.7 .1h1m2.3 0h1m-2.6 .1h1m1.7 0h1m-8.3 1.2h1m3.2 0h1m-3.4 .4h1m-1.1 .1h1m2.4 .6h1m-1.5 .8h1m-5 1h1m-.6 0h1m-3.3 .3h1m1.1 .5h1m3.2 .2h1m-4.8 .7h1m-2.7 .4h1m5.1 .1h1m-5 .5h1m-.8 .1h1m-6.6 .3h1m1.5 .2h1m2.4 .2h1m.7 1.1h1m-.1 0h1m-1.6 .3h1m-5.1 .4h1m-5.6 .4h1m-.5 .9h1m6.4 0h1m.3 0h1m-3.9 .1h1m.1 1h1m-9.3 .1h1m.7 .8h1m-3.2 .5h1m-.8 .2h1m-.3 1h1m-2.4 .8h1m-.9 .1h1m6.2 .2h1m-1.3 .2h1m-6.7 .2h1m-1.3 .8h1m1.9 .5h1m-3.6 .1h1m1 .7h1m1.8 .1h1m-6.5 .5h1m4.7 .2h1m-6.8 .4h1m-2.4 .4h1m.4 0h1m.1 .7h1m-3.9 .1h1m4 1.4h1m-.9 .4h1m-1.7 1.6h1m-6.6 .9h1m2.6 .3h1m-.3 .2h1m2.1 .5h1m-8.2 .1h1m4.4 0h1m.2 .1h1m.3 0h1m-4.1 .1h1m-4.2 .2h1m-2 .1h1m-2.1 .4h1m.4 0h1m2.1 0h1m-3 .3h1m1.6 1.2h1m-3.3 .6h1m-1.9 .2h1m-1.9 .2h1m3.5 .1h1m-2.6 .2h1m-5.5 .2h1m-.7 .2h1m.2 0h1m.5 .5h1m.7 .8h1m-5.9 .4h1m-1.8 3.5h1m.8 .5h1m-1.7 .5h1m-2.5 .2h1m-1.8 1.3h1m-.9 3.9h1m-2 .9h1m-2.8 .9h1m-1.6 3h1m-.5 1.1h1m-3.4 1.2h1"/>
<path stroke="#96a0da" stroke-width="1" d="M171.3 21.2h1m.8 .2h1m-2.8 .2h1m-1.4 .7h1m-2 .1h1m-1.5 1.1h1m-.7 1h1m-.6 .5h1m-2.3 .1h1m-3.9 .9h1m.5 .8h1m-2.6 .6h1m-.7 0h1m-1.1 .1h1m1.9 .1h1m-4 .3h1m-3.3 .5h1m3.2 .3h1m-.7 0h1m-.9 0h1m-5.4 .5h1m1.8 0h1m-.9 .3h1m-5.9 .1h1m1 .1h1m-1.5 .3h1m-1.3 .2h1m2.2 0h1m-1.4 .2h1m-4.2 .2h1m.4 0h1m-2.5 .9h1m1.6 .3h1m-2.3 .4h1m-.1 .6h1m-2.6 .2h1m-1 .6h1m-1.2 .4h1m.3 1h1m-10.7 .8h1m-2.1 .2h1m-1.5 .2h1m-.6 .1h1m-1.2 .3h1m.2 0h1m-.1 .1h1m7.6 0h1m-13.4 .3h1m1.6 .1h1m-1.6 .4h1m7 .2h1m-6.5 .8h1m-.2 0h1m-3.7 .2h1m1.9 0h1m3.4 .3h1m-.1 0h1m-8.5 .1h1m.3 .2h1m3.5 .3h1m-3.9 .1h1m-1.8 .8h1m-.8 .3h1m2.3 0h1m-8.6 .2h1m.7 0h1m4.2 0h1m-8.8 .1h1m1.9 0h1m1.5 0h1m-4.5 .5h1m.4 0h1m3.9 0h1m-7.3 .1h1m2.5 0h1m-3.7 1.1h1m-1.3 .5h1m-2.7 .1h1m-.4 .3h1m5.1 0h1m-5.6 .1h1m-3.1 .1h1m5.4 0h1m-.7 .6h1m-3.1 1.4h1m.2 0h1m-1.5 .1h1m-2.2 1.3h1m-2.2 5.3h1m.8 .4h1m-6.6 4.7h1m-.6 .2h1m-1.7 2.3h1m-1.6 .5h1m-2.3 .8h1m-1.6 .9h1m-2.2 1h1m-.9 .5h1m-.6 .4h1m-3.8 1.2h1m-.4 1.7h1m-1.4 .3h1m-.3 .4h1m-2.2 .1h1m-1.4 .9h1m-.7 0h1m-3.9 4.1h1m-2 3.6h1m-1.4 .8h1"/>
<path stroke="#6a7ac6" stroke-width="1" d="M180.2 20.8h1m-.9 .1h1m-.6 0h1m-1.3 .1h1m-1 0h1m-.7 0h1m-7.4 .1h1m5.1 0h1m-6.4 .1h1m4.4 .1h1m-7.7 .3h1m-.6 0h1m-.1 .1h1m-2.5 .5h1m-2 .2h1m-1.3 .1h1m-.4 0h1m-1.6 .8h1m-.8 .3h1m-.7 0h1m-3.1 .3h1m.4 .5h1m-2 .4h1m-1.2 .6h1m-1.4 .8h1m-1 .5h1m-.5 .1h1m-2.2 .9h1m-.5 .1h1m-2.3 .6h1m-1.2 .6h1m-1.1 .3h1m-.8 .2h1m-1.9 .4h1m-2.6 .2h1m.8 .2h1m-.2 0h1m-.7 .3h1m-3 .3h1m-.2 .1h1m-1.7 .9h1m-1.1 .7h1m-1.4 .1h1m-.9 .4h1m-1.7 1.3h1m-1.6 .3h1m-2.9 2.8h1m-1.6 .8h1m.1 .4h1m-2.5 .1h1m-.5 .4h1m-2.5 1.8h1m-.9 .8h1m-.9 0h1m-2.2 1.4h1m-4.3 3.3h1m-1.1 5.9h1m-2 1.8h1m-1.7 1h1m-1.3 .3h1m-1.5 .8h1m-.9 0h1m-.8 .2h1m-2 .9h1m-1.2 .3h1m-3.6 2.6h1m-.8 .3h1m-2.4 1.6h1m-.3 .5h1m-2 .6h1m-.5 .1h1m-2.8 1h1m-.5 .3h1m-2.6 .9h1m-1.7 .5h1m-1.3 .5h1m-.1 .2h1m-1.7 .5h1m-.3 .1h1m-2.7 1h1m-.3 1h1m-2.1 2.6h1m-2.3 .1h1m-1.9 1.5h1m-1.2 .2h1m-1.3 .2h1m-1.7 2.6h1m-.9 1.6h1m-.7 .6h1m-1.2 .1h1m-1.1 .1h1m-.5 0h1m-.8 .1h1"/>
<path stroke="#4858b0" stroke-width="1" d="M176.7 20.8h1m-2.1 .3h1m-.5 0h1m2.8 0h1m-5.4 .1h1m-.8 0h1m3.6 0h1m-1 .4h1m-1.9 .1h1m-4.6 .1h1m3.3 0h1m-1.4 .2h1m-5.6 .1h1m3.4 0h1m-1.1 .7h1m-6.5 .2h1m4.5 0h1m-6.7 .2h1m4.2 1h1m-7.6 .1h1m-.9 .1h1m-.3 .1h1m-2.6 .9h1m-.8 .1h1m-.7 .3h1m-.7 0h1m-1.9 .2h1m-.6 0h1m-1.2 .6h1m-1 .3h1m-.5 .1h1m-1.3 .5h1m-.9 .3h1m-2.6 1.4h1m-.9 .4h1m-2.1 .5h1m4.3 .1h1m-6.5 1.4h1m-1.5 .1h1m-.7 .2h1m-1.3 .1h1m-1.9 .3h1m0 .1h1m-.9 0h1m-2.1 .3h1m-.4 .1h1m-.2 0h1m-1 0h1m-1.9 .9h1m-1.6 .3h1m2.8 0h1m-5.1 .3h1m-.2 0h1m-2 .1h1m3.5 0h1m-.5 0h1m-6.3 .1h1m-.5 0h1m3.2 .1h1m-5.7 .1h1m-.3 0h1m-1.9 .1h1m.4 .1h1m-2.7 .1h1m-1 0h1m4.1 0h1m-6.6 .2h1m4.2 0h1m-1 0h1m-1.2 .1h1m-1.4 .2h1m-1 0h1m-5.7 .2h1m3.7 0h1m-1 0h1m-.6 .1h1m-5.8 .3h1m3.3 .4h1m-6 .3h1m-.4 0h1m-2.1 .5h1m-.6 .1h1m-1.7 .2h1m-.5 .1h1m-.9 .2h1m-1.4 .6h1m-.9 0h1m-.8 .5h1m2.5 0h1m-5.5 .3h1m3.3 .2h1m-5.1 .5h1m-1.4 .1h1m-.7 .3h1m-1.6 .4h1m-1.8 .1h1m-.2 0h1m-1.3 .4h1m-1.2 .3h1m-1.6 .1h1m-.2 0h1m-2.5 .3h1m-.7 0h1m-1.2 1.1h1m-1.4 .1h1m-1.3 .8h1m-.1 0h1m2.7 0h1m-5.5 .7h1m-1.1 .2h1m-2.7 1.1h1m-1.9 .3h1m-.3 .3h1m-1.5 .6h1m-.5 .5h1m-1 .1h1m-2.5 .5h1m-.4 .2h1m-1.1 1.8h1m1.4 .8h1m-4.3 .1h1m-.9 .5h1m.5 .5h1m-1.3 1.6h1m-.7 0h1m-.9 .2h1m-.8 0h1m-2.4 .1h1m-.4 .1h1m-.8 0h1m-.7 0h1m-1 .1h1m-1.7 .1h1m-.6 .1h1m-.9 0h1m-1.4 .1h1m-1 0h1m-.9 0h1m-.7 .2h1m-3.3 .2h1m.1 .1h1m-1 0h1m-.1 0h1m-2.2 .1h1m-.9 0h1m-.9 0h1m-.1 .1h1m-1.6 .1h1m-.8 .2h1m-1.4 .1h1m-.8 0h1m-1.1 .1h1m-.7 0h1m-2.4 .1h1m.5 0h1m-1.7 .1h1m-.4 .1h1m-3.1 .1h1m.5 0h1m-.7 .1h1m-1 0h1m-.9 0h1m-1.2 .1h1m-1.6 .2h1m-.4 0h1m-1.3 .1h1m-2.7 .1h1m.6 .1h1m-1 0h1m-1.6 .1h1m-.8 .1h1m-1.7 .1h1m-2.6 .1h1m1.5 0h1m-.8 0h1m-1.9 .1h1m-2.1 .1h1m.3 0h1m-1 0h1m-2.5 .1h1m-1 0h1m-.1 .1h1m-.8 0h1m-.8 0h1m-1.2 .2h1m-2.1 .2h1m.2 .1h1m-.7 .1h1m-1.5 .1h1m-.8 0h1m-3.7 .2h1m1.3 0h1m-.5 0h1m-1.7 .1h1m-.8 0h1m-1.8 .1h1m-.1 0h1m-.8 0h1m-1.3 .1h1m-.7 0h1m-2.9 .4h1m.5 .1h1m-3 .3h1m.8 0h1m-1.1 .3h1m-1.5 .1h1m-2.1 .1h1m-.9 0h1m-.4 0h1m-.5 0h1m-1.1 .1h1m-.9 0h1m-.9 .1h1m-1.4 .1h1m-1.2 .1h1m-.7 0h1m-.9 0h1m-2.8 .1h1m.4 0h1m-.8 0h1m-1 .1h1m-1.4 .1h1m-2 .2h1m.2 0h1m-1.5 .1h1m-.7 0h1m-1.3 .2h1m-.7 0h1m-1.9 .1h1m-.8 .2h1m-.5 0h1m-1.6 .1h1m-.4 0h1m-1.4 .1h1m-1 0h1m-.7 0h1m-2 .1h1m-1 0h1m-.3 0h1m-1.9 .2h1m-1.5 .1h1m-.2 .2h1m-.8 0h1m-1.3 .1h1m-.7 0h1m-1.3 .2h1m-.9 0h1m-.9 .1h1m-.9 0h1m-3.1 .4h1m.6 0h1m-2.5 .1h1m-.7 0h1m-.9 .1h1m-.9 0h1m-.2 0h1m-.6 0h1m-2.9 .1h1m-1 0h1m0 0h1m-1.1 .1h1m-.8 0h1m-.9 0h1m-.5 0h1m-1.2 .1h1m-1.1 .2h1m-1.7 .1h1m-.5 0h1m-3.4 .1h1m.4 0h1m.3 0h1m-1.3 .1h1m-1.5 .1h1m-.9 0h1m-1 0h1m-1 .3h1m-2.2 .3h1m0 0h1m-.9 0h1m-1.7 .1h1m-.7 0h1m-1.4 .1h1m-1.2 .1h1m-.8 0h1m-.7 0h1m-.7 0h1m-.8 0h1m-1.8 .2h1m-.2 0h1m-1.5 .1h1m-3.4 .2h1m-.6 0h1m.1 .1h1m-.1 0h1m-1.7 .3h1m-.5 0h1m-2.5 .1h1m-.4 0h1m-1.4 .1h1m-.6 0h1m-.1 0h1m-3.5 .1h1m-.9 0h1m1 0h1m-.9 .1h1m-1 0h1m-1.4 .2h1m-2 .1h1m-.3 0h1m-1.2 .1h1m-.5 .1h1m-.8 0h1m-1.2 .1h1m-1.8 .1h1m-.4 0h1m-1.7 .1h1m-.7 0h1m-.7 .1h1m-.9 0h1m-2.3 .1h1m.2 0h1m-.9 0h1m-1 .1h1m-2.2 .1h1m-.2 .2h1m-1.7 .1h1m-.6 0h1m-1 0h1m-.9 0h1m-1.2 .6h1m-2 .1h1m-.2 0h1m-1.5 .2h1m-.6 0h1m-1.3 .1h1m-.5 0h1m-1.5 .1h1m-2.2 .1h1m-.2 0h1m-1.2 .1h1m-.9 0h1m-.3 0h1m-1.8 .1h1m-1.6 .1h1m0 .1h1m-1.3 .1h1m-1.1 .2h1m-1.6 .2h1m-.7 .1h1m-2.2 .1h1m.2 0h1m-1.6 .1h1m-.2 0h1m-.8 0h1m-1 0h1m-1 .1h1m-2.1 .1h1m-.5 0h1m-.6 0h1m-.8 0h1m-2.3 .2h1m-.5 .1h1m-.9 .2h1m-.8 0h1m-1.6 .1h1m-.9 0h1m-2.2 .1h1m-.5 0h1m-.2 .1h1m-1.3 .2h1m-.5 0h1m-1.1 .1h1m-2.8 .1h1m.6 0h1m-2.9 .1h1m.4 0h1m-.8 0h1m-.8 0h1m-3.5 .1h1m.8 0h1m-.7 0h1m-1.4 .1h1m-.9 0h1m-.9 .4h1m-1.9 .2h1m0 .1h1m-2.4 .1h1m-1.7 .1h1m.9 .2h1m-1.1 .1h1m-3 .2h1m-1.8 .1h1m.3 0h1m-1.1 .4h1m-.3 0h1m-1 0h1m-.8 0h1m-1 .1h1m-.8 0h1m-1.8 .1h1m-.8 .1h1m-1 .2h1m-1 0h1m-1.3 .2h1m-.9 .1h1m-1.6 .2h1m-.8 0h1m-.8 0h1m-1.5 .1h1m-1 0h1m-.7 0h1m-1.5 .1h1m-.2 0h1m-.8 0h1m-1.3 .1h1m-1.4 .1h1m-.9 .2h1m-1.3 .1h1m-1.7 .1h1m0 .1h1m-1.4 .2h1m-.7 0h1m-1.5 .2h1m-.7 0h1m-1.7 .2h1m-.3 0h1m-2.2 .1h1m-.4 0h1m-.8 .1h1m-1.5 .1h1m-.5 0h1m-.9 .1h1m-.9 0h1m-2.1 .3h1m-1.4 .1h1m-.4 0h1m-.9 0h1m-1 0h1m-.9 .1h1m-1.1 .1h1m-1.2 .1h1m-.9 0h1m-.9 0h1m-1.3 .1h1m-1 .1h1m-1 0h1m-.9 .1h1m-.9 0h1m-1.3 .1h1m-1.3 .1h1m-1.1 .1h1m-.7 .1h1m-.9 0h1m-1.2 .1h1m-.7 0h1"/>
<path stroke="#3444a2" stroke-width="1" d="M177.2 21h1m-.4 0h1m-.5 .1h1m-.3 0h1m-2 .1h1m-.8 0h1m-.7 0h1m-3.2 .1h1m-.5 0h1m-.6 .1h1m.2 0h1m-2.8 .1h1m.3 0h1m-.7 0h1m-1.2 .1h1m-2.5 .1h1m-.6 0h1m0 0h1m-.4 0h1m-2.6 .1h1m1.2 0h1m-2.9 .1h1m-.1 0h1m-3.5 .1h1m-.5 0h1m.3 .1h1m.6 0h1m-2.6 .1h1m-.8 0h1m-2.1 .1h1m.5 0h1m-1 0h1m-1 .1h1m-.6 0h1m-.2 0h1m-4 .1h1m.2 0h1m-2 .1h1m.7 0h1m-.8 .1h1m-.5 0h1m-3.6 .1h1m-1.6 .1h1m-.8 0h1m0 0h1m0 0h1m-.7 0h1m-3.6 .1h1m.8 0h1m.1 0h1m-.2 0h1m-1.3 .1h1m-4.8 .1h1m-.7 0h1m1.5 0h1m-.7 0h1m-.3 0h1m-4.4 .1h1m1.4 0h1m-.9 0h1m-.8 0h1m-3.3 .1h1m-.6 0h1m1.5 .1h1m-3.8 .1h1m.9 0h1m-1.5 .1h1m-.8 0h1m-1 0h1m-.6 0h1m-.2 .1h1m-5.1 .1h1m-.5 .1h1m-1.9 .1h1m2.1 0h1m-3.7 .1h1m-.9 0h1m0 .1h1m-1.2 .1h1m-.8 0h1m1.3 0h1m-3.5 .1h1m.8 0h1m-4.6 .1h1m1.4 0h1m.3 0h1m-3.6 .1h1m-.6 0h1m-2.6 .2h1m-.6 0h1m.4 0h1m-1 0h1m-.9 0h1m-.9 .1h1m1.2 0h1m-.9 0h1m-5.3 .2h1m1.8 0h1m-4.6 .1h1m-.8 0h1m2.9 0h1m-.8 0h1m-.9 0h1m-5.8 .1h1m-.4 0h1m.8 0h1m.4 0h1m-.1 0h1m-.3 0h1m-5.5 .1h1m.8 0h1m1.1 0h1m-.8 0h1m-1.8 .1h1m-.8 0h1m-3.7 .1h1m1.5 0h1m-4.7 .1h1m-.7 0h1m-.8 0h1m2.9 0h1m-1.6 .2h1m-1 0h1m-3.8 .1h1m1.3 0h1m-.8 0h1m-1.2 .1h1m-3.6 .1h1m1 0h1m.2 0h1m-4.3 .1h1m2.5 0h1m-5.4 .1h1m0 0h1m1 0h1m.2 0h1m-4.2 .1h1m-.6 0h1m-2.7 .1h1m2.3 0h1m-1.4 .1h1m-.1 0h1m-.9 0h1m-4.4 .1h1m-.2 0h1m1.7 0h1m-5 .1h1m-.4 0h1m-1 0h1m0 0h1m.6 0h1m-.9 0h1m-.3 0h1m-2 .1h1m-.8 .1h1m-4.2 .1h1m2.7 .1h1m-4.1 .1h1m-1.5 .1h1m1.9 0h1m-.8 0h1m-.3 0h1m-1.8 .3h1m-3.6 .1h1m-1.3 .1h1m-.4 0h1m.4 0h1m-1 0h1m-.8 0h1m-4.4 .1h1m2.1 0h1m-.1 0h1m-.8 0h1m-5.2 .1h1m-.8 0h1m.4 0h1m1.7 0h1m-1 .2h1m-1.6 .1h1m-.8 0h1m-4 .1h1m1.9 0h1m-3 .1h1m-2.7 .2h1m2.3 .1h1m-.7 0h1m-4.1 .2h1m-1.1 .2h1m2.1 0h1m-1.6 .1h1m-.8 .2h1m-3.6 .2h1m1 .1h1m-.7 0h1m-4.8 .1h1m.8 .1h1m-.5 0h1m-.5 .1h1m-.2 0h1m-3.1 .1h1m-.3 0h1m-.2 0h1m-1 0h1m-.9 0h1m-.7 0h1m-4.5 .1h1m2.1 0h1m-3.5 .1h1m-.6 0h1m.2 0h1m-.9 0h1m-.8 0h1m-.5 0h1m-.6 .1h1m-4.5 .1h1m.1 0h1m-.9 0h1m-.9 0h1m-.1 0h1m-2.1 .1h1m.3 0h1m-1.8 .1h1m.8 0h1m-2.6 .1h1m-3.4 .1h1m.9 0h1m-.6 0h1m-.3 .1h1m-1 0h1m-.6 0h1m-.8 0h1m-3.4 .1h1m-.7 0h1m-2.6 .1h1m.7 0h1m-.5 0h1m-.1 0h1m-.7 0h1m-.7 0h1m-4.2 .1h1m.1 0h1m-.4 0h1m.5 0h1m-.9 .1h1m-.9 0h1m-2.4 .1h1m-3.2 .1h1m-.7 0h1m-.4 0h1m-1.4 .1h1m0 0h1m.3 0h1m-.7 0h1m-.9 0h1m-2.1 .1h1m-3.3 .1h1m-.1 0h1m-.8 0h1m-.3 0h1m-.8 0h1m-2.6 .2h1m-.8 0h1m-.9 0h1m.9 .1h1m-4 .1h1m.5 0h1m.4 0h1m-.6 0h1m-1.6 .2h1m-3.4 .1h1m-.4 0h1m.6 .2h1m-.9 0h1m-.8 0h1m-4.3 .1h1m1.1 0h1m-1 .1h1m-.8 .1h1m-2.7 .1h1m1.6 0h1m-3.5 .1h1m-.3 0h1m.1 0h1m-.5 0h1m-3.6 .1h1m-.5 0h1m1.4 0h1m-2.1 .1h1m-.8 0h1m-2.8 .1h1m.4 0h1m-3.4 .1h1m-.6 0h1m-1.2 .2h1m.5 0h1m-1.1 .2h1m-.6 .3h1m-.7 .1h1m-3.2 .1h1m-1.7 .1h1m-.6 0h1m-.1 0h1m0 0h1m-4.5 .1h1m-.3 0h1m-.1 0h1m.6 .1h1m-2.7 .1h1m.9 0h1m-4.2 .1h1m.9 .1h1m-2.2 .1h1m1.3 0h1m-.9 .1h1m-1.6 .1h1m-4 .1h1m-.6 0h1m.1 0h1m-.1 0h1m-.1 0h1m-.4 0h1m-1.6 .1h1m-3.3 .1h1m-.3 .1h1m-.8 0h1m-2.3 .1h1m-.9 0h1m2.1 0h1m-.8 0h1m-2.8 .1h1m.6 0h1m-.9 .1h1m-4.1 .1h1m-.2 0h1m-.1 0h1m-1.6 .1h1m-.8 0h1m-.2 0h1m-.1 0h1m-4 .1h1m-.9 0h1m-.7 0h1m-.3 .1h1m-.7 0h1m-.9 0h1m.2 0h1m-1 0h1m-5.5 .1h1m2.2 0h1m-.1 0h1m-1.3 .1h1m-.9 0h1m-3.9 .1h1m-.6 0h1m.5 0h1m-.4 0h1m-.5 0h1m-.6 0h1m-2.8 .1h1m-.8 0h1m-2 .2h1m.6 0h1m-.7 0h1m-1 0h1m-.9 0h1m-.9 0h1m-3.5 .2h1m.5 0h1m-2.7 .1h1m.5 0h1m-2.8 .1h1m-.5 0h1m-.4 0h1m.1 0h1m-.7 0h1m-.8 0h1m-.7 0h1m-4.3 .1h1m2.1 0h1m-2.9 .1h1m.1 0h1m-.8 0h1m-3.8 .1h1m-.5 0h1m-1 0h1m.5 .1h1m.1 0h1m-1.6 .1h1m-.5 0h1m-3.5 .1h1m-.5 0h1m-.6 0h1m.9 0h1m-3.1 .1h1m-.9 0h1m.9 0h1m-2.4 .2h1m-.8 0h1m0 0h1m-2.8 .1h1m.4 0h1m-3.9 .1h1m-.4 0h1m1.2 .1h1m-1 0h1m-2.9 .3h1m-1 .1h1m.4 0h1m-3.8 .1h1m2.2 0h1m-3.3 .1h1m1.3 .1h1m-1.2 .2h1m-1 .1h1m-3.8 .1h1m-1 .1h1m1.4 0h1m-3.3 .2h1m-1.2 .2h1m-1.6 .1h1m2.2 0h1m-1.7 .1h1m-.6 .1h1m-1.4 .1h1m-1.2 .1h1m-.8 0h1m-2.6 .2h1m.1 0h1m-.9 .1h1m-.6 0h1m-1 0h1m-3.3 .1h1m-.8 0h1m.7 .1h1m-3.1 .1h1m1.1 0h1m-3.6 .1h1m-.8 0h1m-.7 0h1m-1.5 .1h1m.6 0h1m-.6 0h1m-.7 0h1m-3.5 .2h1m1.6 0h1m-3.4 .2h1m1.1 0h1m-.9 0h1m-1.3 .1h1m-.8 0h1m-3 .1h1m-.7 0h1m.4 0h1m-.8 0h1m-3.7 .1h1m2.5 0h1m-3.6 .1h1m.3 .1h1m-3.7 .1h1m1.1 0h1m-.8 0h1m-.5 0h1m-1.2 .1h1m-2.8 .1h1m.1 0h1m-.3 0h1m-1.6 .1h1m-1.6 .1h1m.3 0h1m-1 0h1m-.7 0h1m-3.3 .1h1m.8 0h1m-2.7 .1h1m-2.1 .1h1m-.9 0h1m-.4 0h1m-.1 0h1m-2 .1h1m-2.2 .1h1m-.8 0h1m.7 0h1m-.2 .1h1m-.2 0h1m-1.2 .2h1m-4 .1h1m1.4 0h1m-.8 0h1m-.8 0h1m-.8 0h1m-3.8 .2h1m1.5 0h1m-3.5 .1h1m1.4 .3h1m-1.6 .2h1m-1 .1h1m-1.1 .1h1m-.3 0h1m-2.3 .1h1m-.4 .1h1m-.7 0h1m-1 0h1m-1.5 .1h1m-.8 .1h1m-.8 .1h1m-.9 .1h1m-5.1 .1h1m-.6 0h1m-1 0h1m-.7 .1h1m1.6 0h1m-3.8 .1h1m2.2 0h1m-4.9 .1h1m-.5 .1h1m-.6 0h1m-.8 .2h1m1.4 .1h1m-4.8 .1h1m-.8 0h1m-.5 0h1m-.8 0h1m1.2 .1h1m-.3 0h1m-4.6 .2h1m-.9 0h1m1.8 0h1m-1.3 .2h1m-.5 0h1m-1 .1h1m-.9 .1h1m-4.5 .1h1m2.3 .1h1m-4.7 .5h1m-1.7 .1h1m-.7 .2h1m-.6 .2h1m-1 0h1m-1.1 .3h1m1.4 0h1m-.8 0h1m-1 0h1m-1.2 .1h1m-3.8 .1h1m1.7 0h1m-.7 0h1m-.9 .2h1m-3.7 .1h1m1.3 .1h1m-.8 0h1m-1 0h1m-4.2 .1h1m-.1 0h1m-1.5 .2h1m1.1 0h1m-.5 0h1m-1.8 .1h1m-.3 0h1m-2.9 .1h1m.2 .1h1m-.8 0h1m-3.3 .1h1m-.8 0h1m-.7 0h1m.8 0h1m-3.2 .1h1m-1 .1h1m.9 0h1m-1 0h1m-.8 0h1m-.7 0h1m-2.9 .1h1m-.9 0h1m.2 0h1m-2.9 .1h1m-.6 0h1m.5 0h1m-2.5 .1h1m-.9 .1h1m-.9 0h1m0 .1h1m-2.1 .1h1m0 .2h1m-1 .1h1m-1 0h1m-1.4 .1h1m-.8 0h1m-.5 0h1m-1.2 .1h1m-.8 0h1m-2 .2h1m-1.5 .1h1m-5 7.1h1m-1 0h1m-.6 .2h1m-1.1 .1h1m-.9 .1h1m-1.2 .1h1m-1.6 .1h1m0 .1h1m-1.9 .2h1m-9.5 13.1h1m-.7 0h1m-1.4 .1h1m-.7 .1h1m-.9 0h1m-1.8 .1h1m-1 .1h1m-.6 0h1m-.9 0h1m-.7 0h1m-1.3 .1h1m-.9 .1h1m-1.4 .1h1m-1 0h1m-.7 .1h1"/>
<path stroke="#2a4a8c" stroke-width="1" d="M176.6 23.2h1m-.5 .5h1m-.9 .2h1m-1 .2h1m-1.8 .1h1m-.4 .1h1m-1.7 .1h1m-.7 0h1m-.4 .1h1m-1.4 .1h1m-.8 0h1m-1.2 .2h1m-.7 0h1m-1.5 .1h1m-1.6 .2h1m-.7 .3h1m-1.3 .1h1m-1.1 .2h1m-1.2 .1h1m-1 0h1m-.6 .1h1m-2.3 .4h1m-.7 0h1m-1.1 .1h1m-.9 .2h1m-1.3 .1h1m-1.2 .1h1m-.8 0h1m-.6 0h1m-.9 .2h1m-2.4 .3h1m-.1 0h1m-2.4 .1h1m.4 0h1m-2.4 .1h1m0 .1h1m-.6 .1h1m-.7 .2h1m-2.5 .1h1m-.9 0h1m-.9 0h1m.2 0h1m-2.6 .1h1m-.3 0h1m-.9 .1h1m-1.9 .1h1m-.7 0h1m-1.3 .3h1m-.2 0h1m-1.2 .1h1m-1.1 .1h1m-.9 0h1m-.9 .1h1m-1.8 .1h1m-1.3 .1h1m-.8 0h1m-.7 .1h1m-.7 0h1m-.6 .1h1m-1.6 .1h1m-.6 0h1m-1 0h1m-1.8 .1h1m-1.4 .1h1m-.1 0h1m-.9 0h1m-.6 0h1m-2.2 .1h1m-.7 0h1m-.4 .1h1m-.6 0h1m-2.5 .1h1m0 0h1m-.8 0h1m-7.6 9.4h1m-2 .1h1m-.4 0h1m-.8 0h1m-1.6 .1h1m-.6 0h1m-.9 .1h1m-1.5 .1h1m-.8 0h1m-1.3 .1h1m-.2 0h1m-2.9 .2h1m-.7 0h1m.2 0h1m-.9 .1h1m-1 0h1m-.8 .1h1m-2.6 .1h1m-.6 0h1m-.2 0h1m-.9 0h1m-1.5 .1h1m-.8 0h1m-1.8 .1h1m.1 .1h1m-2.4 .1h1m.1 .1h1m-.5 0h1m-1 0h1m-1.9 .1h1m-.5 .1h1m-2 .1h1m-.7 0h1m-1.5 .1h1m-.9 0h1m-.7 0h1m-.9 0h1m-1.1 .1h1m-.8 0h1m-.7 0h1m-1.3 .4h1m-1.5 .1h1m-1 0h1m-2 .2h1m-1.2 .1h1m-.7 .1h1m-1 0h1m-1.3 .1h1m-.3 .3h1m-.9 0h1m-1.3 .1h1m-.8 0h1m-1 .2h1m-1.9 1.2h1m-2.2 .1h1m-.4 0h1m-.9 0h1m-.9 .1h1m-1 .1h1m-1.2 .1h1m-.5 0h1m-.7 .1h1m-3 .1h1m-.7 0h1m-1 .1h1m.2 0h1m-2.5 .1h1m-.6 0h1m-1 0h1m-.1 0h1m-.9 0h1m-1.7 .1h1m-2.7 .1h1m-.8 0h1m.3 0h1m-2.2 .1h1m-1.2 .1h1m-.9 0h1m.7 0h1m-2.5 .1h1m0 0h1m-2.3 .1h1m-.1 0h1m-.5 0h1m-.9 0h1m-1.6 .1h1m-1.6 .1h1m-.1 0h1m-.8 0h1m-2.4 .1h1m-.2 .1h1m-.8 0h1m-1.9 .1h1m-.9 .2h1m-1.1 .1h1m.4 0h1m-2.4 .1h1m.1 0h1m-.8 0h1m-2.2 .1h1m-.7 0h1m-.6 0h1m-.9 0h1m-1 0h1m-.3 0h1m-2.4 .2h1m.2 .2h1m-.7 0h1m-.9 0h1m-4 .1h1m.9 0h1m-2.3 .2h1m-1 0h1m-.9 0h1m-.2 0h1m-.7 0h1m-2.1 .1h1m-.8 .1h1m-.5 0h1m-1.4 .1h1m-1.5 .1h1m-.9 0h1m0 0h1m-.6 0h1m-2.3 .1h1m-.9 0h1m-.3 0h1m-1.2 .1h1m-.4 0h1m-1 0h1m-1 .1h1m-2 .2h1m-.9 0h1m-1.3 .2h1m-.7 0h1m-.3 0h1m-3.5 .1h1m-.8 0h1m.1 0h1m-.4 0h1m-.8 0h1m-.4 .1h1m-1.3 .1h1m-2.8 .1h1m-.5 0h1m-.7 0h1m-.7 0h1m-2.7 .1h1m-.9 0h1m-.5 0h1m.6 0h1m-.9 0h1m-.7 0h1m-3.4 .2h1m-.9 0h1m.2 0h1m-1.3 .1h1m-.8 0h1m-2.3 .1h1m.3 0h1m-.7 .1h1m-1 0h1m-2.6 .1h1m-.6 0h1m-.4 0h1m-.6 0h1m-1.7 .1h1m-.7 0h1m-.9 0h1m-.6 0h1m-2.6 .1h1m.6 0h1m-1 0h1m-2.5 .1h1m0 0h1m-.8 0h1m-1.9 .1h1m-1.2 .1h1m-.5 .1h1m0 0h1m-2.4 .2h1m-.6 0h1m-1.7 .1h1m-.3 .1h1m-1.3 .2h1m-.9 .1h1m-1.3 .1h1m-.5 0h1m-1.2 .1h1"/>
</g>
<path d="M259.6 87.7V23.1H296.6V87.7" fill="none" stroke="#d0c4c8" stroke-width=".6"/><path d="M259.6 23.1H296.6" stroke="#c49aa4" stroke-width=".7"/>
<g filter="url(#bl)">
<path stroke="#c2c8ea" stroke-width="1" d="M274.8 39h1m-3.6 11.5h1m-18 1.2h1m2.1 1.2h1m5.9 4.5h1m3.8 3.3h1m-4.7 .1h1m-6.1 1.5h1m14.4 .3h1m9.6 0h1m6.9 1.2h1m-30.3 .3h1m-.3 .1h1m4.7 .2h1m15.3 0h1m-30.6 .3h1m12.6 .1h1m-16 .3h1m14.9 0h1m-9.4 .1h1m17.8 .6h1m-1.3 .6h1m-34.6 .2h1m17.7 0h1m-7.4 .3h1m6.7 0h1m-11.1 .3h1m-.8 .3h1m34 1.3h1m-43.1 .7h1m32 .9h1m-35.1 .7h1m28.3 .7h1m-27.3 .1h1m36.8 1.4h1m-39.9 .8h1m-1.1 .7h1m26.7 1h1m-28.5 1.4h1m-11.2 1.5h1m45 0h1m-37.8 .2h1m28.6 .1h1m4.8 1.2h1m-1.8 2.5h1m5.6 2.8h1"/>
<path stroke="#98a2da" stroke-width="1" d="M273 65.4h1m-2 .8h1m.2 .1h1m-1.8 .4h1m-1.6 .2h1m-.6 .1h1m-.7 0h1m-3 .1h1m.2 .2h1m-.3 0h1m-.1 .6h1m-.6 0h1m-3.9 .1h1m-1.3 .1h1m-.3 0h1m-1.9 .2h1m2.3 0h1m-.7 .3h1m-5.7 .1h1m4.6 .1h1m-5.9 .1h1m4.4 .4h1m-1 .3h1m-6.3 .1h1m-3.2 .1h1m-.2 .2h1m-.6 .2h1m4.6 .1h1m.4 0h1m-2.2 .1h1m-7.4 .1h1m-.6 .1h1m5.6 0h1m-1.2 .1h1m-1.3 .2h1m-.4 .1h1m-8.6 .3h1m-1.1 .2h1m5.9 0h1m-9.6 .5h1m-.8 .1h1m10 .2h1m-1.4 .4h1m-.7 .8h1m-1.3 .1h1m-1.6 .4h1m.3 0h1m-14.3 .1h1m-2 .6h1m-.3 .1h1m-4.1 1.6h1m-1.6 .2h1m-.2 0h1m-3.6 .7h1m20 .3h1m-22.5 .8h1m-3.7 .1h1m1.6 .2h1m-2.9 .3h1m-16.4 5h1m43.9 1.5h1m-47.3 .1h1"/>
<path stroke="#6070c0" stroke-width="1" d="M273.1 68.3h1m-2.8 .1h1m.3 .2h1m-1.5 .3h1m-.9 .1h1m0 .1h1m-3.3 .1h1m-.2 .1h1m-1.3 .2h1m-.1 0h1m-1.7 .2h1m.7 .4h1m-1.3 .1h1m-3.7 .1h1m0 0h1m-.1 .1h1m0 .1h1m-.6 0h1m-4.6 .2h1m.5 .1h1m1.8 .1h1m-6.5 .4h1m.8 0h1m2.2 0h1m-2.3 .1h1m-3.1 .1h1m-.7 0h1m.2 .1h1m-2.2 .1h1m2 .1h1m-.6 0h1m-6.5 .2h1m-1.2 .1h1m2.4 0h1m1.8 0h1m-8.4 .1h1m6.9 0h1m-8.1 .2h1m-.7 0h1m2.1 0h1m-5.6 .1h1m2.4 0h1m2.9 0h1m-6.3 .1h1m1 0h1m-2.9 .1h1m-.9 0h1m.7 0h1m1.5 0h1m-7 .1h1m3 0h1m-4.6 .1h1m-3.1 .2h1m2.8 0h1m.9 0h1m1.2 0h1m-8.8 .1h1m-.7 0h1m-.9 0h1m1 .1h1m-.2 0h1m-2.8 .1h1m-.4 0h1m-1.5 .1h1m-.9 0h1m-.8 0h1m5.4 0h1m.3 .1h1m-.6 0h1m-2.4 .1h1m-.2 0h1m-.9 0h1m-8.9 .1h1m1.7 0h1m-2 .1h1m-3.6 .1h1m3.6 0h1m-5.9 .1h1m5.3 0h1m-.4 0h1m1.2 0h1m.4 0h1m-9.4 .1h1m3.1 .1h1m2.3 .1h1m-3.4 .1h1m2.2 0h1m-.9 0h1m-.8 .1h1m-11.1 .1h1m7.7 0h1m-5.2 .1h1m-.5 0h1m2.6 0h1m.5 0h1m-.5 0h1m-2.8 .1h1m0 0h1m-8.9 .1h1m-.8 0h1m2.7 0h1m-.9 0h1m2.6 0h1m-12.5 .1h1m10.4 0h1m-9.5 .1h1m6.7 0h1m-3.8 .1h1m-4.8 .1h1m3.5 0h1m-.8 .1h1m-.5 0h1m.9 0h1m.6 0h1m-13.7 .1h1m-.7 0h1m1.4 0h1m5.3 0h1m.7 0h1m-10 .1h1m-4.4 .1h1m.7 0h1m-.1 0h1m.6 0h1m4.3 0h1m.9 0h1m-7.5 .1h1m2.6 0h1m-9.7 .1h1m.8 0h1m1.1 0h1m1.3 0h1m.1 0h1m2.8 0h1m.5 0h1m-1 0h1m.3 0h1m.1 0h1m-16.7 .1h1m3.8 0h1m-.5 0h1m3 0h1m-.4 0h1m2.9 0h1m-.2 0h1m-.7 0h1m.5 0h1m-16.7 .1h1m8.1 0h1m.7 0h1m.1 0h1m-.5 0h1m-13.1 .1h1m4.7 0h1m.7 0h1m-.3 0h1m6.4 0h1m-12.5 .1h1m.3 0h1m6.8 0h1m.3 0h1m-1 0h1m-13.2 .1h1m.7 0h1m3 0h1m-9.6 .1h1m-.3 0h1m1.4 0h1m5.4 0h1m1.6 0h1m-13.4 .1h1m-.9 0h1m.7 0h1m6.6 0h1m-10.3 .1h1m2.9 0h1m0 0h1m4.2 0h1m1 0h1m2.6 0h1m-15.6 .1h1m-.1 0h1m.2 0h1m.3 0h1m-1 0h1m.8 0h1m8 0h1m-.1 0h1m-18.3 .1h1m.9 0h1m-.7 0h1m6.5 0h1m.7 0h1m-.4 0h1m-11.5 .1h1m11.2 0h1m1 0h1m-9 .1h1m0 0h1m.6 0h1m3 0h1m-8 .1h1m-.6 0h1m4.1 0h1m2.5 0h1m.2 0h1m-18.2 .1h1m5.9 0h1m2.3 0h1m5.9 0h1m-.9 0h1m-.7 0h1m-2.8 .1h1m0 0h1m-9.7 .1h1m6.1 0h1m.7 0h1m-.6 0h1m-.2 0h1m-3.3 .1h1m-.1 0h1m-12.4 .1h1m.8 0h1m-.7 0h1m8.7 0h1m-10.5 .1h1m5.5 0h1m1.2 0h1m-3 .1h1m-14.6 .1h1m5.4 0h1m-.8 0h1m1.3 0h1m-.8 0h1m4.2 0h1m-16.5 .1h1m10.4 0h1m1.9 0h1m.2 0h1m-17.2 .1h1m6.6 0h1m1 0h1m-1.3 .1h1m8.6 0h1m-20 .1h1m6.7 0h1m-.4 0h1m7.2 0h1m-16.1 .1h1m7.3 0h1m3.1 0h1m-14.8 .1h1m5.9 0h1m2 0h1m2 0h1m-13.4 .1h1m5.5 .1h1m6 0h1m-.9 0h1m5.2 0h1m-10.9 .1h1m.5 0h1m0 0h1m-12.5 .1h1m-.5 0h1m6.9 0h1m1.3 0h1m2.5 0h1m-19.3 .1h1m-.5 0h1m7.9 0h1m7.6 0h1m-.9 0h1m-14.5 .1h1m5.1 0h1m2.5 0h1m1.2 0h1m-7.6 .1h1m6.2 0h1m-18.8 .1h1m1.1 0h1m0 0h1m11.9 0h1m-.6 0h1m-13.9 .1h1m11.9 0h1m-.2 0h1m-.6 0h1m-19.4 .1h1m1.1 0h1m1.8 0h1m7.5 0h1m1.7 0h1m1.8 0h1m-16.6 .1h1m12 0h1m2.6 0h1m-6.3 .1h1m-1.9 .1h1m-14.2 .1h1m-2 .1h1m25.1 0h1m-.9 0h1m-26.1 .1h1m11.3 0h1m11.5 .2h1m-7.5 .1h1m-.5 0h1m4.6 .1h1m-13.2 .1h1m5.9 0h1m-21.5 .1h1m-.9 0h1m11.7 0h1m5 0h1m.7 0h1m-21.9 .1h1m.6 0h1m24.6 .2h1m-29.1 .4h1m-1.2 .1h1m-.8 0h1m-.4 0h1m-4.1 .3h1m-2.6 .5h1m-2.6 .1h1m-1.2 .1h1m2.2 0h1m-1.5 .2h1m-3.3 .1h1m1.7 0h1m33 .3h1m-41.6 .3h1m-1.4 .3h1m39.9 .1h1m-.8 .1h1m-45 .2h1m-.7 .1h1m-1 .4h1m-2.2 .4h1m-.8 .6h1m-.6 .2h1m-1.2 .3h1m-1.1 .1h1m-.6 .8h1"/>
<path stroke="#3848a8" stroke-width="1" d="M263.7 77.1h1m-.2 0h1m-1.9 .1h1m1.1 .1h1m-.5 0h1m-3.2 .1h1m-.3 0h1m0 .1h1m-.7 0h1m-2.7 .1h1m.2 .2h1m-2.7 .1h1m-.8 0h1m-.8 0h1m.5 .1h1m-2.6 .1h1m-2.8 .1h1m13.1 0h1m-14.5 .1h1m-.5 0h1m-.3 0h1m0 .1h1m11.6 0h1m-.7 .1h1m-.7 0h1m-15.5 .3h1m-.9 0h1m-.6 0h1m.4 0h1m-3.7 .2h1m0 0h1m.3 0h1m-1 0h1m-3.6 .1h1m13.5 .1h1m.3 0h1m-14.8 .1h1m11.9 0h1m-13.4 .1h1m-.1 0h1m9.3 0h1m.3 0h1m-14 .1h1m-2.4 .1h1m13.2 0h1m-16.1 .1h1m.9 0h1m-.7 0h1m-.5 0h1m13.2 0h1m-17.5 .1h1m.3 0h1m12.3 0h1m-.3 0h1m-16.1 .1h1m.1 0h1m11.7 0h1m-.7 0h1m-.9 0h1m.8 0h1m-2.1 .1h1m.9 0h1m-24 .1h1m3.4 0h1m2.5 0h1m1.4 0h1m11 0h1m-22.8 .1h1m1.3 0h1m-.2 0h1m8.7 0h1m-.7 0h1m.8 0h1m4.6 0h1m-13.7 .1h1m-.9 0h1m1 0h1m2.6 0h1m-.6 0h1m5.6 0h1m-21.1 .1h1m1.1 0h1m-.3 0h1m.2 0h1m1.2 0h1m-.1 0h1m-.5 0h1m-.8 0h1m5.3 0h1m4.6 0h1m-17 .1h1m-.9 0h1m-.4 0h1m7.7 0h1m.9 0h1m6.6 0h1m-23.9 .1h1m.7 0h1m3.9 0h1m-.9 0h1m2 0h1m9.7 0h1m-21.2 .1h1m-.3 0h1m.1 0h1m-.8 0h1m3.4 0h1m7.4 0h1m2.9 0h1m1.7 0h1m-.5 0h1m-24.1 .1h1m-.4 0h1m1 0h1m5.7 0h1m-.2 0h1m1.8 0h1m-.1 0h1m-.5 0h1m.4 0h1m2.3 0h1m.5 0h1m1 0h1m-.4 0h1m-22.4 .1h1m1.8 0h1m.2 0h1m.6 0h1m6 0h1m-.5 0h1m-.9 0h1m-.8 0h1m-15.4 .1h1m-.7 0h1m-.6 0h1m.4 0h1m-.9 0h1m5.1 0h1m.9 0h1m1.9 0h1m7.8 0h1m-.6 0h1m-21 .1h1m3.9 0h1m-.5 0h1m-.4 0h1m2.2 0h1m7.6 0h1m-.7 0h1m-22.8 .1h1m-.5 0h1m-.9 0h1m5.6 0h1m5 0h1m1.2 0h1m.9 0h1m-1 0h1m.1 0h1m2.4 0h1m1.1 0h1m-.8 0h1m-24.4 .1h1m3.6 0h1m.3 0h1m7.9 0h1m1.6 0h1m1.1 0h1m.5 0h1m-.6 0h1m-.9 0h1m-.7 0h1m0 0h1m-.8 0h1m-.4 0h1m-24.4 .1h1m2.4 0h1m4 0h1m3.8 0h1m.7 0h1m-.5 0h1m3.9 0h1m1.5 0h1m-21.8 .1h1m-.4 0h1m1.3 0h1m.1 0h1m.9 0h1m.7 0h1m-.2 0h1m1.9 0h1m6.9 0h1m-.7 0h1m.9 0h1m-.8 0h1m-24.1 .1h1m-.7 0h1m-.4 0h1m0 0h1m-.3 0h1m1 0h1m-.4 0h1m9.8 0h1m-19.1 .1h1m-.4 0h1m2.5 0h1m-.5 0h1m8.4 0h1m6.6 0h1m-22.7 .1h1m-.7 0h1m-.4 0h1m.4 0h1m-.2 0h1m9 0h1m-.7 0h1m9.4 0h1m-.7 0h1m-.6 0h1m0 0h1m-1 0h1m-.1 0h1m-27 .1h1m5.5 0h1m-1 0h1m7.2 0h1m-.8 0h1m.4 0h1m1.8 0h1m1.6 0h1m2.4 0h1m-29.4 .1h1m2.3 0h1m2.6 0h1m.7 0h1m4.3 0h1m2.8 0h1m6.2 0h1m1.7 0h1m1.1 0h1m-25.2 .1h1m9.6 0h1m.9 0h1m-15.4 .1h1m12 0h1m-.5 0h1m.1 0h1m-19.8 .1h1m4.4 0h1m.4 0h1m8.6 0h1m.7 0h1m2.6 0h1m-20.6 .1h1m-.2 0h1m3.8 0h1m5.3 0h1m.2 0h1m-14.3 .1h1m12.5 0h1m-14.8 .1h1m-.6 0h1m.8 0h1m1 0h1m1.4 0h1m0 0h1m0 0h1m-.3 0h1m.2 0h1m0 0h1m-.2 0h1m5.8 0h1m0 0h1m-.1 0h1m-.2 0h1m6 0h1m-28.8 .1h1m1.6 0h1m.9 0h1m8.1 0h1m1.2 0h1m-.5 0h1m-1 0h1m.2 0h1m1.1 0h1m-17.9 .1h1m0 0h1m.8 0h1m-1 0h1m-.6 0h1m.1 0h1m1.7 0h1m-1 0h1m-.6 0h1m2.6 0h1m-.2 0h1m-14.8 .1h1m.1 0h1m-.5 0h1m.2 0h1m-.1 0h1m6.5 0h1m-.7 0h1m.9 0h1m-.8 0h1m-.1 0h1m1.9 0h1m-.7 0h1m1.2 0h1m-16 .1h1m2.3 0h1m2.8 0h1m2.8 0h1m2.8 0h1m-28.1 .2h1m-2.3 .3h1m-1.3 .1h1m37.2 .1h1m-40.5 .1h1m38.3 0h1m-43 .3h1m-.4 .1h1m-.6 .1h1m-2.1 .2h1m-.5 .3h1m-.8 0h1m-.4 .1h1m-1 0h1m-2.3 .1h1m.7 0h1m-3 .2h1m-1.1 .4h1m-.9 0h1m-1.1 .3h1m-1 0h1m-.9 0h1m-1.4 .1h1m.2 .1h1m-2.1 .2h1m-.2 0h1m-2.3 .2h1m.5 0h1m-2.3 .1h1m-.8 0h1m-.8 0h1m-1.6 .1h1m.5 0h1m-.9 .1h1m-1.1 .1h1m-.8 0h1m-2.2 .1h1m14.9 0h1m-.6 0h1m.4 0h1m8.1 0h1m1.5 0h1m6.9 0h1m.9 0h1m-24.5 .1h1m-.9 0h1m2.1 0h1m10.5 0h1m2.9 0h1m2 0h1m-.6 0h1m-.2 0h1m-23.7 .1h1m2.1 0h1m2.2 0h1m-.9 0h1m1.8 0h1m-.8 0h1m1.3 0h1m-.7 0h1m1.5 0h1m2.7 0h1m1.3 0h1m.5 0h1m4 0h1m-.7 0h1m-.9 0h1m-41.8 .1h1m13 0h1m3 0h1m.2 0h1m-.3 0h1m2.4 0h1m-1 0h1m0 0h1m1.2 0h1"/>
<path stroke="#2a3a9a" stroke-width="1" d="M277.2 82.1h1m-.9 0h1m1.3 0h1m-2.2 .1h1m.8 0h1m-.7 0h1m-6.2 .1h1m.6 0h1m0 .1h1m-.3 0h1m-3.4 .1h1m3.3 0h1m-1 .1h1m-.4 0h1m-3.4 .1h1m.3 0h1m-3.6 .1h1m-.3 0h1m1.8 0h1m-5.5 .1h1m-.1 0h1m.4 0h1m.1 0h1m-25.8 .1h1m14.9 0h1m-.8 0h1m5 0h1m-1 0h1m1.7 0h1m-1 0h1m-.7 0h1m-.7 0h1m-.8 0h1m0 0h1m-.8 0h1m-30.2 .1h1m-.9 0h1m-.3 0h1m.6 0h1m2.4 0h1m3 0h1m.1 0h1m2 0h1m2.3 0h1m1.5 0h1m-.9 0h1m1 0h1m1.2 0h1m.9 0h1m.1 0h1m-25.8 .1h1m1.2 0h1m-.7 0h1m3.2 0h1m-1 0h1m-.9 0h1m-.6 0h1m-.3 0h1m1.4 0h1m-.2 0h1m4.5 0h1m-.3 0h1m-.9 0h1m1.4 0h1m-.7 0h1m1.5 0h1m-.5 0h1m-.9 0h1m3.5 0h1m-.8 0h1m-34.7 .1h1m-.2 0h1m4.2 0h1m.7 0h1m4.2 0h1m-.3 0h1m-.7 0h1m-.2 0h1m-.3 0h1m.2 0h1m8.2 0h1m1.6 0h1m-.1 0h1m-.2 0h1m.3 0h1m.1 0h1m-.3 0h1m-33.5 .1h1m-.4 0h1m2.9 0h1m-.4 0h1m-.9 0h1m-.2 0h1m.2 0h1m.9 0h1m.8 0h1m-.4 0h1m.4 0h1m.3 0h1m.5 0h1m1.8 0h1m-.6 0h1m-.1 0h1m1.9 0h1m-.2 0h1m.2 0h1m-.7 0h1m-.9 0h1m-.4 0h1m2 0h1m-.8 0h1m1.1 0h1m-.6 0h1m.2 0h1m-34.8 .1h1m1.5 0h1m1.2 0h1m-.7 0h1m.5 0h1m3.4 0h1m-.7 0h1m2.2 0h1m1.8 0h1m.3 0h1m1.9 0h1m.6 0h1m-.5 0h1m1.5 0h1m6.5 0h1m.1 0h1m-36.5 .1h1m.9 0h1m-.6 0h1m4.2 0h1m1.4 0h1m.4 0h1m0 0h1m.1 0h1m-.6 0h1m4.5 0h1m1.2 0h1m1.6 0h1m-.3 0h1m-.3 0h1m-.6 0h1m-.3 0h1m-.2 0h1m.5 0h1m.8 0h1m1.5 0h1m-34.2 .1h1m3.2 0h1m1.7 0h1m-.7 0h1m.8 0h1m-.9 0h1m1.6 0h1m.8 0h1m-.7 0h1m-.4 0h1m-.5 0h1m4.4 0h1m-.7 0h1m2 0h1m-.4 0h1m1 0h1m.6 0h1m.3 0h1m-.6 0h1m1.2 0h1m-.1 0h1m-.9 0h1m-33.2 .1h1m.7 0h1m.1 0h1m-.5 0h1m-.5 0h1m6.2 0h1m-.7 0h1m1.6 0h1m-.7 0h1m0 0h1m-.5 0h1m0 0h1m-.5 0h1m-.6 0h1m-.3 0h1m0 0h1m5.6 0h1m-.3 0h1m1 0h1m2.8 0h1m-.6 0h1m-.9 0h1m.1 0h1m-35.6 .1h1m-.9 0h1m2.9 0h1m1.4 0h1m1.1 0h1m-.4 0h1m-.9 0h1m-.8 0h1m2 0h1m-.4 0h1m2.2 0h1m-.6 0h1m.1 0h1m.8 0h1m.6 0h1m-.5 0h1m-.7 0h1m.4 0h1m.4 0h1m-.2 0h1m-.8 0h1m-.5 0h1m-.2 0h1m-.3 0h1m-.4 0h1m-.5 0h1m1 0h1m-.1 0h1m-1 0h1m0 0h1m-.2 0h1m-.9 0h1m.8 0h1m-36.8 .1h1m-.4 0h1m-1 0h1m1.2 0h1m-.3 0h1m.2 0h1m.7 0h1m1.9 0h1m.9 0h1m.3 0h1m-.1 0h1m2.2 0h1m1.5 0h1m.2 0h1m0 0h1m.2 0h1m-.8 0h1m.6 0h1m1.2 0h1m-.7 0h1m-.2 0h1m-.9 0h1m.6 0h1m-.2 0h1m-.9 0h1m-.8 0h1m-.5 0h1m-.3 0h1m.5 0h1m1.3 0h1m.3 0h1m-31.2 .1h1m2.1 0h1m-.3 0h1m2.8 0h1m-1 0h1m-.1 0h1m1.5 0h1m-.4 0h1m.1 0h1m.3 0h1m-.8 0h1m2.2 0h1m-.6 0h1m.1 0h1m-.6 0h1m-.2 0h1m-.7 0h1m1 0h1m-.7 0h1m2 0h1m.1 0h1m-.6 0h1m.4 0h1m.5 0h1m-.6 0h1m-.9 0h1m-39.8 .1h1m.6 0h1m.2 0h1m.3 0h1m-.8 0h1m1 0h1m-.9 0h1m-.1 0h1m.7 0h1m1.8 0h1m-.6 0h1m.1 0h1m-.2 0h1m.8 0h1m-.6 0h1m-.8 0h1m.2 0h1m-.7 0h1m-.5 0h1m-.9 0h1m-1 0h1m-.9 0h1m-.6 0h1m-.5 0h1m-.9 0h1m0 0h1m.2 0h1m-.2 0h1m-.9 0h1m.2 0h1m.7 0h1m1.8 0h1m-.4 0h1m-.1 0h1m-.7 0h1m-.9 0h1m-.2 0h1m-.2 0h1m-.5 0h1m-.7 0h1m-.4 0h1m-.1 0h1m0 0h1m.3 0h1m-.2 0h1m-.9 0h1m-.7 0h1m-.5 0h1m-1 0h1m-41.3 .1h1m4.6 0h1m3.8 0h1m6 0h1m-.9 0h1m-.6 0h1m1.1 0h1m.1 0h1m.1 0h1m-.8 0h1m-.6 0h1m.8 0h1m-.3 0h1m-.8 0h1m-1 0h1m-.9 0h1m-.9 0h1m-.2 0h1m-.3 0h1m.8 0h1m.2 0h1m-.5 0h1m.2 0h1m-.8 0h1m.1 0h1m1.7 0h1m1.8 0h1m-.6 0h1m-36.4 .1h1m-.6 0h1m-.5 0h1m1.3 0h1m0 0h1m1.9 0h1m-.9 0h1m-.1 0h1m.8 0h1m-.6 0h1m.5 0h1m-.2 0h1m-.9 0h1m.3 0h1m-1 0h1m2.4 0h1m-.9 0h1m-.6 0h1m-.1 0h1m.8 0h1m1 0h1m-.5 0h1m-.2 0h1m-.4 0h1m-1 0h1m1.1 0h1m1.3 0h1m.2 0h1m-.2 0h1m-.6 0h1m-.6 0h1m-.8 0h1m-.7 0h1m-.9 0h1m-.5 0h1m-.7 0h1m.8 0h1m.5 0h1m-.7 0h1m-40.3 .1h1m0 0h1m0 0h1m1 0h1m0 0h1m-.6 0h1m-.3 0h1m.3 0h1m1.5 0h1m-.5 0h1m-.6 0h1m2.8 0h1m-.8 0h1m1.4 0h1m.6 0h1m-.5 0h1m-.7 0h1m-.4 0h1m-.8 0h1m.4 0h1m-.9 0h1m-.6 0h1m-.3 0h1m-.5 0h1m-.8 0h1m-.2 0h1m-.4 0h1m-.1 0h1m-.8 0h1m-.9 0h1m-.2 0h1m-.8 0h1m0 0h1m.2 0h1m1.1 0h1m-.7 0h1m-.6 0h1m.6 0h1m-.5 0h1m-.7 0h1m-.6 0h1m0 0h1m-.9 0h1m-.6 0h1m-36.7 .1h1m-.1 0h1m-.7 0h1m.1 0h1m-.2 0h1m-.9 0h1m.3 0h1m.6 0h1m2.3 0h1m-.8 0h1m-.6 0h1m2.1 0h1m1.1 0h1m-.5 0h1m-.8 0h1m-.2 0h1m.2 0h1m-.7 0h1m-.7 0h1m-1 0h1m-.5 0h1m-.5 0h1m-.9 0h1m-.9 0h1m-.1 0h1m.2 0h1m1.4 0h1m1.9 0h1m-.4 0h1m-.3 0h1m.8 0h1m-.4 0h1m-.8 0h1m.9 0h1m-.2 0h1m-1 0h1m.5 0h1m-.2 0h1m-.6 0h1m.3 0h1m-39.9 .1h1m-.6 0h1m0 0h1m-.5 0h1m1.5 0h1m-.1 0h1m-.7 0h1m-1 0h1m1.4 0h1m.2 0h1m2.9 0h1m-.9 0h1m-.2 0h1m3.1 0h1m3.4 0h1m2.4 0h1m-.4 0h1m-.1 0h1m-.4 0h1m.1 0h1m-1 0h1m-.6 0h1m-.9 0h1m-.1 0h1m-.4 0h1m-.4 0h1m-.7 0h1m-.6 0h1m-.6 0h1m.8 0h1m-.6 0h1m.1 0h1m-.2 0h1m-.1 0h1m-.8 0h1m.3 0h1m-41.1 .1h1m1.8 0h1m-.3 0h1m-.7 0h1m-.8 0h1m-.2 0h1m.1 0h1m.2 0h1m-.6 0h1m-.4 0h1m5.1 0h1m-.2 0h1m.6 0h1m-1 0h1m-.7 0h1m-.8 0h1m.9 0h1m-.8 0h1m-.6 0h1m-.6 0h1m-.1 0h1m-.3 0h1m-.4 0h1m-.4 0h1m0 0h1m-.4 0h1m1.1 0h1m-.6 0h1m-1 0h1m.8 0h1m-.8 0h1m3.3 0h1m.1 0h1m-.4 0h1m.1 0h1m0 0h1m-.9 0h1m.2 0h1m.8 0h1m-41 .1h1m2.8 0h1m0 0h1m2.8 0h1m.6 0h1m-1 0h1m-.5 0h1m1.8 0h1m2.5 0h1m-.7 0h1m.3 0h1m-.6 0h1m.7 0h1m-.5 0h1m-.9 0h1m-.9 0h1m1.6 0h1m-.8 0h1m-.9 0h1m-.9 0h1m-.3 0h1m-1 0h1m-.1 0h1m3.6 0h1m.2 0h1m-.5 0h1m-1 0h1m.2 0h1m-1 0h1m0 0h1m-.4 0h1m.6 0h1m-.9 0h1m-.7 0h1m-.1 0h1m-.4 0h1m-.7 0h1m-.7 0h1m-.5 0h1m-39.7 .1h1m3.6 0h1m-.2 0h1m5.2 0h1m-.6 0h1m1 0h1m-.5 0h1m-.6 0h1m-.6 0h1m-.5 0h1m-.6 0h1m.2 0h1m-.6 0h1m.5 0h1m4.1 0h1m2 0h1m.2 0h1m-.4 0h1m-.6 0h1m-.3 0h1m-.7 0h1m.1 0h1m.9 0h1m-.6 0h1m-.3 0h1m.9 0h1m.8 0h1m.1 0h1m-40.6 .1h1m9.1 0h1m1.7 0h1m-.4 0h1m.2 0h1m-.5 0h1m-.5 0h1m-.8 0h1m.4 0h1m-.9 0h1m-.6 0h1m-.1 0h1m-.7 0h1m-.9 0h1m1 0h1m2.8 0h1m2.3 0h1m-.1 0h1m-.6 0h1m3.3 0h1m-.7 0h1m-.9 0h1m-.8 0h1m-.6 0h1m-.2 0h1m-.9 0h1m-.7 0h1m-.3 0h1m-.7 0h1m-.3 0h1m-.2 0h1m-41.8 .1h1m-.4 0h1m-1 0h1m.2 0h1m10.3 0h1m-.8 0h1m-.6 0h1m1.8 0h1m-.8 0h1m.5 0h1m-.6 0h1m-.3 0h1m-.6 0h1m2.6 0h1m.6 0h1m.8 0h1m-1 0h1m.6 0h1m1.8 0h1m-.2 0h1m-.5 0h1m-.2 0h1m-.7 0h1m-1 0h1m-.5 0h1m-.7 0h1m.5 0h1m2.6 0h1m.4 0h1m-.9 0h1m-.9 0h1m-.8 0h1m-.9 0h1m-.9 0h1m-.3 0h1m-41.2 .1h1m-.6 0h1m-.7 0h1m10 0h1m.1 0h1m-.9 0h1m.1 0h1m-.2 0h1m-.3 0h1m.4 0h1m-.3 0h1m-.6 0h1m-.3 0h1m-1 0h1m-.9 0h1m.1 0h1m-.7 0h1m-.8 0h1m1.9 0h1m-.5 0h1m.2 0h1m-1 0h1m.5 0h1m1.4 0h1m-.3 0h1m-.2 0h1m.4 0h1m-.6 0h1m-.3 0h1m-.1 0h1m-.8 0h1m2.8 0h1m-.7 0h1m-.8 0h1m-1 0h1m-.9 0h1m-41.6 .1h1m-.8 0h1m-.2 0h1m-.7 0h1m-.2 0h1m-.5 0h1m0 0h1m-.2 0h1m7.6 0h1m1.4 0h1m2.5 0h1m-.6 0h1m1.5 0h1m2.6 0h1m-.3 0h1m.7 0h1m-.7 0h1m-.5 0h1m-.5 0h1m-.9 0h1m.2 0h1m1.7 0h1m-1 0h1m-.9 0h1m0 0h1m-.8 0h1m-.5 0h1m-.9 0h1m.5 0h1m-.2 0h1m-1 0h1m-.4 0h1m.4 0h1m-.6 0h1m-.2 0h1m-.9 0h1m-40.3 .1h1m.7 0h1m-.9 0h1m9.1 0h1m-1 0h1m-.6 0h1m-1 0h1m-.5 0h1m.7 0h1m.1 0h1m-.6 0h1m-.5 0h1m-.3 0h1m-.9 0h1m.1 0h1m-.7 0h1m-.9 0h1m1 0h1m-.4 0h1m1.2 0h1m-.4 0h1m.3 0h1m.9 0h1m0 0h1m2.1 0h1m.1 0h1m-.4 0h1m-.9 0h1m-.1 0h1m-.5 0h1m-.6 0h1m2.5 0h1m-1 0h1m-1 0h1m-.6 0h1m-1 0h1m-.9 0h1m-.8 0h1m-.8 0h1m-.8 0h1m-42 .1h1m-.6 0h1m1 0h1m-.8 0h1m-.1 0h1m-.5 0h1m-1 0h1m-.9 0h1m-.8 0h1m8.7 0h1m-.8 0h1m-.8 0h1m-.7 0h1m-.7 0h1m-.8 0h1m.8 0h1m.2 0h1m-.8 0h1m-.5 0h1m-.4 0h1m-.7 0h1m-.5 0h1m-.8 0h1m.6 0h1m.7 0h1m-.2 0h1m-.9 0h1m-.6 0h1m-.3 0h1m-.5 0h1m-.7 0h1m-1 0h1m-.7 0h1m.5 0h1m2 0h1m-.1 0h1m-.8 0h1m.8 0h1m-.7 0h1m2.1 0h1m.4 0h1m-.2 0h1m.2 0h1m-40.7 .1h1m-.3 0h1m-.6 0h1m.1 0h1m-.9 0h1m-.9 0h1m-.9 0h1m-.7 0h1m-1 0h1m8.7 0h1m.4 0h1m.8 0h1m-.7 0h1m1.6 0h1m-.7 0h1m-1 0h1m-.5 0h1m-.2 0h1m.2 0h1m-.9 0h1m.4 0h1m-.2 0h1m-.7 0h1m-.2 0h1m.5 0h1m-.7 0h1m-.2 0h1m-.8 0h1m1.5 0h1m1 0h1m-.4 0h1m.8 0h1m-.4 0h1m.2 0h1m1.5 0h1m0 0h1m-.8 0h1m-.9 0h1m-42.7 .1h1m-.7 0h1m.1 0h1m.7 0h1m-1 0h1m.1 0h1m8 0h1m-.4 0h1m-.4 0h1m-.5 0h1m3.7 0h1m0 0h1m-1 0h1m-.7 0h1m2.5 0h1m0 0h1m-.3 0h1m-.3 0h1m-.8 0h1m-.9 0h1m.5 0h1m-.4 0h1m-.7 0h1m-.9 0h1m-.5 0h1m.4 0h1m.3 0h1m-.4 0h1m-.3 0h1m1.8 0h1m-.4 0h1m.9 0h1m-.8 0h1m-.4 0h1m-.7 0h1m-.4 0h1m-.8 0h1m-41.9 .1h1m-1 0h1m2.2 0h1m-.9 0h1m-.8 0h1m-.3 0h1m-.9 0h1m7.2 0h1m.6 0h1m-.3 0h1m-.9 0h1m.1 0h1m1.1 0h1m.8 0h1m1.7 0h1m-.1 0h1m-.4 0h1m-.8 0h1m-1 0h1m1 0h1m.2 0h1m-.4 0h1m-1 0h1m-.9 0h1m-.7 0h1m-.2 0h1m4.6 0h1m4.2 0h1m-.7 0h1m-.9 0h1m.2 0h1m-41.6 .1h1m-.6 0h1m-.9 0h1m-.9 0h1m-.5 0h1m.5 0h1m-.6 0h1m-.8 0h1m7.2 0h1m-.6 0h1m-.2 0h1m-.7 0h1m-.6 0h1m-.6 0h1m1.5 0h1m-.8 0h1m-.6 0h1m-1 0h1m-.1 0h1m.1 0h1m-.8 0h1m1.4 0h1m2.4 0h1m.6 0h1m-.5 0h1m0 0h1m-.8 0h1m-1 0h1m-.9 0h1m-1 0h1m.3 0h1m.5 0h1m-.6 0h1m-.3 0h1m.1 0h1m-.1 0h1m.7 0h1m.2 0h1m-1 0h1m-.3 0h1m-.2 0h1m-.7 0h1m-.9 0h1m-.9 0h1m-.5 0h1m-40.8 .1h1m-.8 0h1m-.2 0h1m10 0h1m-.4 0h1m-.3 0h1m0 0h1m-.8 0h1m-.9 0h1m.2 0h1m-.9 0h1m-1 0h1m-.8 0h1m0 0h1m-.8 0h1m-.6 0h1m1.3 0h1m.9 0h1m-.1 0h1m.7 0h1m-.4 0h1m1.3 0h1m-.7 0h1m.1 0h1m0 0h1m.5 0h1m.8 0h1m-.5 0h1m1.2 0h1m-.4 0h1m-.1 0h1m-.8 0h1m-.5 0h1m-.3 0h1m.6 0h1m-40.9 .1h1m0 0h1m-.6 0h1m-.3 0h1m-.9 0h1m-.5 0h1m-.5 0h1m7.7 0h1m1.3 0h1m1.2 0h1m-.6 0h1m.2 0h1m-.3 0h1m-.3 0h1m-.7 0h1m-.6 0h1m-.6 0h1m-.6 0h1m1.1 0h1m-.4 0h1m-.7 0h1m-.8 0h1m-.4 0h1m.4 0h1m-.5 0h1m-.9 0h1m2.3 0h1m-.8 0h1m-.9 0h1m.5 0h1m-1 0h1m.2 0h1m-.5 0h1m-.4 0h1m.4 0h1m-.4 0h1m-.6 0h1m-.3 0h1m.9 0h1m-.7 0h1m0 0h1m-41.8 .1h1m-.8 0h1m-.7 0h1m-.8 0h1m-.4 0h1m-1 0h1m-.7 0h1m-.6 0h1m.4 0h1m-.9 0h1m-1 0h1m7.5 0h1m-.5 0h1m-.8 0h1m-1 0h1m0 0h1m.4 0h1m.9 0h1m.2 0h1m.8 0h1m.2 0h1m-.9 0h1m-.3 0h1m-.1 0h1m.9 0h1m-.7 0h1m-.7 0h1m.8 0h1m-.1 0h1m0 0h1m.9 0h1m1.9 0h1m0 0h1m.9 0h1m-.4 0h1m0 0h1m-.5 0h1m-.7 0h1m-.5 0h1m-.9 0h1m-40.3 .1h1m.1 0h1m-.7 0h1m.3 0h1m7.5 0h1m-1 0h1m-.6 0h1m-.8 0h1m-.4 0h1m-.6 0h1m0 0h1m1.8 0h1m-.7 0h1m-.5 0h1m.3 0h1m-.8 0h1m.2 0h1m-.8 0h1m-.6 0h1m1 0h1m-.7 0h1m-.3 0h1m.8 0h1m.8 0h1m-.9 0h1m-.8 0h1m1.5 0h1m0 0h1m-.8 0h1m4.5 0h1m-.7 0h1m-.6 0h1m-.8 0h1m-.4 0h1m-.7 0h1m-.5 0h1m-.5 0h1m-.7 0h1m-.8 0h1m-.7 0h1m-1 0h1m-.5 0h1m-41.8 .1h1m-.3 0h1m-.9 0h1m-.9 0h1m-1 0h1m-.9 0h1m-.9 0h1m-.5 0h1m.2 0h1m-.9 0h1m7.3 0h1m-.8 0h1m-.5 0h1m.3 0h1m.3 0h1m.3 0h1m-.7 0h1m1 0h1m-.5 0h1m.4 0h1m-.6 0h1m-.8 0h1m-.7 0h1m-.2 0h1m-.9 0h1m-1 0h1m0 0h1m4.4 0h1m-.4 0h1m-.8 0h1m.7 0h1m.3 0h1m-.3 0h1m2.7 0h1m.3 0h1m-.6 0h1m-.6 0h1m-.8 0h1m-1 0h1m-.2 0h1m-.4 0h1m-.3 0h1m-42.4 .1h1m-.3 0h1m-.7 0h1m-.8 0h1m-.2 0h1m-.5 0h1m-1 0h1m-.8 0h1m-.9 0h1m-.9 0h1m8.1 0h1m2.2 0h1m1.3 0h1m-.6 0h1m-.2 0h1m-.7 0h1m-.3 0h1m.1 0h1m-.1 0h1m-.8 0h1m.3 0h1m.1 0h1m-.5 0h1m-.7 0h1m-.5 0h1m-.2 0h1m-.8 0h1m-.9 0h1m0 0h1m-.8 0h1m1.1 0h1m.3 0h1m2.4 0h1m-.9 0h1m.1 0h1m-.5 0h1m-.8 0h1m-.6 0h1m-.5 0h1m-.6 0h1m-.7 0h1m-1 0h1m-.9 0h1m-.9 0h1m.9 0h1m-.6 0h1m-39.8 .1h1m-.6 0h1m-.2 0h1m-.9 0h1m-1 0h1m-.6 0h1m7.4 0h1m-.3 0h1m-.5 0h1m1 0h1m.1 0h1m-.8 0h1m.4 0h1m-.6 0h1m-.6 0h1m-1 0h1m.5 0h1m2.4 0h1m2.6 0h1m.7 0h1m.6 0h1m1.3 0h1m-1 0h1m0 0h1m-1 0h1m-.7 0h1m1.2 0h1m.9 0h1m-.1 0h1m-.3 0h1m-.4 0h1m.1 0h1m-41.6 .1h1m-.2 0h1m-.7 0h1m9.3 0h1m-.5 0h1m-1 0h1m-.8 0h1m-.6 0h1m-.2 0h1m-.8 0h1m.7 0h1m-.4 0h1m-.8 0h1m.5 0h1m-.9 0h1m.2 0h1m1.3 0h1m.2 0h1m.1 0h1m.7 0h1m2.5 0h1m1.4 0h1m-.6 0h1m3.4 0h1m.3 0h1m-.5 0h1m.3 0h1m-.8 0h1m-41.2 .1h1m-.7 0h1m-.8 0h1m.5 0h1m-1 0h1m-.9 0h1m-.3 0h1m-.5 0h1m-.9 0h1m-1 0h1m-.9 0h1m7.6 0h1m-.9 0h1m-.8 0h1m-.7 0h1m-.5 0h1m1.2 0h1m.5 0h1m.7 0h1m-.7 0h1m-.5 0h1m-.2 0h1m-.6 0h1m-.6 0h1m-1 0h1m2.7 0h1m-.8 0h1m-1 0h1m-.3 0h1m1.6 0h1m.7 0h1m1 0h1m4.4 0h1m-.3 0h1m-.5 0h1m-.9 0h1m-.6 0h1m-.3 0h1m.7 0h1m-41.1 .1h1m.2 0h1m0 0h1m.5 0h1m-.8 0h1m.4 0h1m1.6 0h1m0 0h1m-.8 0h1m.2 0h1m-.6 0h1m-1 0h1m-.9 0h1m-.5 0h1m-.4 0h1m1.2 0h1m-1 0h1m-.7 0h1m.4 0h1m2 0h1m4.8 0h1m6.3 0h1m.5 0h1m.8 0h1m1 0h1m-.6 0h1m-.2 0h1m-.3 0h1m-1 0h1m-.9 0h1m-.2 0h1m-40.1 .1h1m.2 0h1m-.8 0h1m-.9 0h1m-.9 0h1m-.1 0h1m-.6 0h1m-.6 0h1m-.8 0h1m-.9 0h1m-.6 0h1m1.7 0h1m-.9 0h1m-.7 0h1m-.1 0h1m-.9 0h1m.6 0h1m-.3 0h1m-.6 0h1m-12.9 .1h1m-.9 0h1m-.3 0h1m-.1 0h1m-.9 0h1m2.2 0h1m-.7 0h1m-.9 0h1m-.7 0h1m1.1 0h1m-.5 0h1m-.9 0h1m-.2 0h1m-.5 0h1m.4 0h1m.6 0h1m24.5 0h1m-.9 0h1m-.9 0h1m.3 0h1m-35.5 .1h1m1.7 0h1m-.8 0h1m-.5 0h1m-.9 0h1m28.2 0h1"/>
<path stroke="#3a7cc0" stroke-width="1" d="M252.4 85h1m-.9 0h1m-.3 .1h1m-.5 0h1m-7.7 .1h1m4.6 0h1m.2 .1h1m-.8 0h1m-8.3 .1h1m5.6 0h1m-.6 0h1m-8.3 .1h1m-1 0h1m5.1 0h1m-6.5 .1h1m4.7 0h1m-.8 0h1m-7.5 .1h1m-.8 0h1m-.9 0h1m-.7 0h1m-1 0h1m4.4 0h1m-.5 0h1m-1 0h1m-.2 0h1m-7.6 .1h1m-.8 0h1m4.2 0h1m-.8 0h1m-.9 0h1m.2 0h1m-8.4 .1h1m5.3 0h1m-.4 0h1m-7.5 .1h1m-.9 0h1m4.3 0h1m-.3 0h1m-.9 0h1m-.6 0h1m-.9 .1h1m-7.5 .1h1m-.9 0h1m5.1 0h1m-.9 0h1m-1 0h1m-7.9 .1h1m-.4 0h1m5.8 0h1m-8.5 .1h1m-.4 0h1m-.8 0h1m5.5 0h1m-.9 0h1m-.7 0h1m-.9 0h1m-8.6 .1h1m-.8 0h1m-.8 0h1m5.4 0h1m-.7 0h1m-7.9 .1h1m-.8 0h1m-1 0h1m5.4 0h1m-.9 0h1m-.7 0h1m-.6 0h1m-8.9 .1h1m-.5 0h1m-.6 0h1m5.4 0h1m-.9 0h1m-1.5 .1h1m-.8 0h1m-1 0h1m-7.9 .1h1m-.5 0h1m5.3 0h1m-.3 0h1m-4.7 .1h1m-.7 0h1m-.8 0h1m-.7 0h1m1.5 0h1m-5 .1h1m-.9 0h1m-.6 0h1m-.9 0h1m-.7 0h1m-1 0h1m-.7 0h1m-1 0h1m-1 0h1m-.9 0h1m-.8 0h1m-2.6 .1h1m-.7 0h1m-.8 0h1m-.8 0h1m-.6 0h1m-.6 0h1m-1.8 .1h1m-.6 0h1m-.8 0h1"/>
<path stroke="#42a8c0" stroke-width="1" d="M247.8 85.1h1m-.5 0h1m1.6 0h1m0 0h1m-.8 0h1m-1 0h1m-5.2 .1h1m-.5 0h1m-.8 0h1m0 0h1m-.3 0h1m-.5 0h1m-.1 0h1m-.8 0h1m-.9 0h1m-.7 0h1m-5.4 .1h1m-.8 0h1m.8 0h1m-.2 0h1m-4.1 .1h1m-1 0h1m0 0h1m1.5 0h1m0 0h1m-5.2 .1h1m-.7 0h1m-.2 0h1m-1 0h1m-.2 0h1m-.3 0h1m-.9 0h1m.3 0h1m-.9 0h1m-5.5 .1h1m-.8 0h1m-.7 0h1m-1 0h1m-.6 0h1m-.4 0h1m-1 0h1m-.4 0h1m-.6 0h1m-.9 0h1m1.1 0h1m-1 0h1m-5.8 .1h1m-.5 0h1m.3 0h1m.6 0h1m-.9 0h1m-.9 0h1m-.8 0h1m-1 0h1m-.9 0h1m-1 0h1m-.2 0h1m-5.5 .1h1m-.8 0h1m-1 0h1m-.7 0h1m-1 0h1m-.7 0h1m-.7 0h1m-.9 0h1m-.9 0h1m-.6 0h1m-.5 0h1m-.4 0h1m-.9 0h1m.2 0h1m-.9 0h1m-4.7 .1h1m-.2 0h1m.4 0h1m-.9 0h1m-.9 0h1m-.4 0h1m-.9 0h1m-.8 0h1m-.8 0h1m-5.1 .1h1m-.6 0h1m-.9 0h1m-.3 0h1m-.2 0h1m-.7 0h1m-.8 0h1m-.9 0h1m-1 0h1m.8 0h1m-.4 0h1m-.5 0h1m-6.6 .1h1m-.9 0h1m3.4 0h1m-.8 0h1m-.5 0h1m-6 .1h1m-.7 0h1m-.9 0h1m3.2 0h1m-.9 0h1m-.9 0h1m-.3 0h1m-.8 0h1m-6.7 .1h1m-1 0h1m-.7 0h1m2.5 0h1m-.8 0h1m-.8 0h1m-.9 0h1m-.8 0h1m-.8 0h1m-.8 0h1m-.8 0h1m-.9 0h1m-.5 0h1m-6.8 .1h1m-.6 0h1m-1 0h1m-1 0h1m-.9 0h1m-.9 0h1m2.2 0h1m-1 0h1m-.9 0h1m-.9 0h1m-.6 0h1m-.4 0h1m-.7 0h1m-.8 0h1m-.8 0h1m-6.3 .1h1m-.9 0h1m-.8 0h1m-1 0h1m-.9 0h1m2.4 0h1m-.5 0h1m-.5 0h1m-.4 0h1m-6.8 .1h1m-.7 0h1m-1 0h1m-1 0h1m-.7 0h1m2.4 0h1m-.9 0h1m-.5 0h1m-.7 0h1m-.3 0h1m-6.7 .1h1m-.9 0h1m3 0h1m-1 0h1m-.8 0h1m-.8 0h1m-.9 0h1m-.9 0h1m.1 0h1m-1 0h1m-6.5 .1h1m-.8 0h1m2.5 0h1m-.6 0h1m-.6 0h1m-.9 0h1m-5.7 .1h1m-.5 0h1m-.9 0h1m2.2 0h1m-.9 0h1m-.7 0h1m-.7 0h1m-.9 0h1m-5.3 .1h1m-1 0h1m-.9 0h1m-.7 0h1m2.1 0h1m-.5 0h1m-.1 0h1"/>
<path stroke="#66b850" stroke-width="1" d="M248.3 86h1m-1 0h1m-.2 0h1m-.6 0h1m0 0h1m-2.6 .1h1m-1 0h1m-.5 0h1m0 0h1m-.9 0h1m-.2 0h1m-3.9 .1h1m-.8 0h1m-.7 0h1m-.9 0h1m-.9 0h1m-1 0h1m-.7 0h1m-.8 0h1m-1 0h1m-.9 0h1m-.9 0h1m-.3 0h1m-.4 0h1m-3.8 .1h1m-.9 0h1m-.6 0h1m-.7 0h1m-.8 0h1m-.7 0h1m0 0h1m-.7 0h1m-3.4 .1h1m-.5 0h1m-.4 0h1m-.9 0h1m-.8 0h1m-.6 0h1m-.4 0h1m-.6 0h1m-3.5 .1h1m-.4 0h1m-.3 0h1m-1 0h1m-.7 0h1m-.4 0h1m-3.5 .1h1m-.9 0h1m-.3 0h1m.2 0h1m-.9 0h1m-.9 0h1m-.4 0h1m-3.8 .1h1m-.3 0h1m-.5 0h1m-.9 0h1m-.7 0h1m-1 0h1m-.5 0h1m-.8 0h1m-3.4 .1h1m-.4 0h1m-.9 0h1m-.6 0h1m-1 0h1m.5 0h1m-3.2 .1h1m-.9 0h1m-.7 0h1m-.8 0h1m-.4 0h1m-1 0h1m-.3 0h1m-1 0h1m-.7 0h1m-.9 0h1m-3.6 .1h1m-.2 0h1m-.9 0h1m-.7 0h1m-.8 0h1m-1 0h1m-.4 0h1m-.6 0h1m-1 0h1"/>
</g>
<path d="M379.4 78.3L387.5 72.2L402.3 74.2L402.3 82.3L392.8 87.2L381 84Z" fill="none" stroke="#c4a4ac" stroke-width="0.6"/>
<g filter="url(#bl)">
<path stroke="#c2c8ea" stroke-width="1" d="M380.9 46.4h1m-11.7 5.4h1m-14.6 1.6h1m10 .9h1m-13.6 .2h1m-.3 1.1h1m4 1h1m-6.9 .5h1m-9.7 1.3h1m4.7 .5h1m23.2 .2h1m-12.4 .2h1m-3.8 .5h1m-7.8 .8h1m4 .1h1m9.1 .5h1m-10.9 .3h1m6.3 .1h1m-9.3 .1h1m-2.4 .1h1m-7.9 .4h1m23.9 .9h1m-22.9 .1h1m-9 .3h1m23.1 .2h1m-4 .2h1m-5.8 .1h1m-4.1 .2h1m-1 .1h1m11.1 0h1m-8.9 .1h1m-14.2 .2h1m-5.3 .1h1m4.1 .1h1m1.3 .1h1m6.7 .1h1m-11.5 .1h1m-4.2 .1h1m34.7 0h1m-23.3 .1h1m-3.2 .1h1m-7 .2h1m-9.6 .1h1m19.1 .3h1m8.4 0h1m-23.8 .1h1m3.6 0h1m-8.1 .6h1m15 0h1m6.1 0h1m-27 .1h1m8.7 .1h1m11.1 .1h1m3.5 0h1m-26.9 .5h1m4.7 .3h1m-4.4 .1h1m1.1 0h1m3.1 0h1m19.7 0h1m-26.6 .2h1m2.4 .1h1m-8 .1h1m29.8 .1h1m-31.6 .3h1m26.7 0h1m-22.7 .1h1m-.4 0h1m21.3 .3h1m-.6 .1h1m-29.8 .3h1m1.1 .2h1m40.1 .3h1m-42.5 .1h1m26.9 .1h1m5.3 .3h1m-7.6 .3h1m23.3 .3h1m-23.2 .1h1m-.9 .2h1m-2.2 .2h1m-1.9 .9h1m5.7 .3h1m-39.8 .6h1m.6 .1h1m28.5 .1h1m-31.7 .1h1m-.1 0h1m29.1 .3h1m8.9 .5h1m.8 .4h1m-44 .3h1m30.5 .6h1m-1.7 .1h1m-31.4 .1h1m-.9 0h1m32.6 .3h1m0 0h1m-3.7 .3h1m1.7 .8h1m-36.1 2.2h1m38.8 0h1m-40.5 .7h1m39.1 .2h1m-4.9 .2h1m.7 .1h1m9.9 2.4h1m-49.2 3.9h1m-1.4 .2h1m-.2 0h1"/>
<path stroke="#98a2da" stroke-width="1" d="M360 66.2h1m-2.2 .1h1m2.5 .7h1m5.3 .1h1m.1 0h1m-11.8 .1h1m-3.3 .3h1m5.2 0h1m1.1 0h1m-9.4 .1h1m.3 .1h1m7.4 .1h1m-10.1 .1h1m4.8 0h1m2.7 0h1m-.6 0h1m-9 .1h1m10.3 0h1m-5.3 .1h1m-.2 0h1m-1.5 .1h1m.5 .1h1m-11.3 .1h1m4.7 0h1m-6.9 .1h1m1.7 0h1m1.6 0h1m7.2 0h1m-17.3 .1h1m5.5 .1h1m2.8 0h1m-6.5 .1h1m11.7 0h1m-5.3 .1h1m.9 .2h1m.5 .1h1m-8.2 .1h1m-2.5 .1h1m.7 0h1m-9 .1h1m5.1 .1h1m8.1 0h1m-18.9 .1h1m1.8 0h1m1.8 0h1m-9.7 .1h1m5.2 0h1m-.4 0h1m1.1 0h1m8 0h1m1 0h1m-21.8 .1h1m6.6 0h1m-3.4 .1h1m.2 .2h1m3.5 0h1m8.3 0h1m-14.7 .2h1m3.3 0h1m7.7 0h1m-18.7 .1h1m7.5 0h1m9.3 0h1m-19.8 .1h1m17.3 .1h1m-13.3 .2h1m11.1 0h1m.4 0h1m.9 0h1m-21.9 .1h1m22.2 0h1m-27.1 .2h1m21.5 0h1m-23.6 .2h1m.5 0h1m1.8 0h1m19 0h1m-.3 0h1m-20.1 .1h1m-5.9 .1h1m1.8 0h1m18.6 .1h1m-1 .1h1m1.6 0h1m-20.3 .1h1m-6.8 .1h1m-.6 0h1m2.9 .2h1m18 .1h1m-25.7 .1h1m2.5 0h1m-5.8 .1h1m4.6 0h1m19.1 0h1m-21.8 .1h1m-5.1 .2h1m-.4 0h1m2.9 0h1m.1 .1h1m-7.3 .1h1m-.2 0h1m.6 .3h1m-.2 .2h1m21.5 .4h1m-24.4 .1h1m-1 0h1m-3.4 .2h1m-.7 0h1m.3 0h1m-2.9 .2h1m.5 .1h1m23.7 0h1m-26 .2h1m24 .4h1m-25.8 .1h1m-3.6 .3h1m1.9 0h1m-3 .1h1m26.6 .1h1m-27.1 .2h1m-3.6 .4h1m.9 .1h1m-2.5 .2h1m.3 .3h1m-2.9 .3h1m29.3 .1h1m-29.3 .2h1m-.9 0h1m25.7 .7h1m-30.4 .1h1m-.1 .1h1m29.9 .1h1m-30.5 .1h1m28 0h1m-4.2 .1h1m-.5 .4h1m2.2 0h1m-.8 0h1m.6 0h1m-6.3 .3h1m-1.2 .1h1m2.5 0h1m-32.3 .1h1m31.2 0h1m-5 .1h1m3 0h1m-1.2 .4h1m-.5 0h1m-1.4 .2h1m-30.7 .1h1m-2.2 .2h1m31.4 0h1m-2.4 .1h1m-31.4 .4h1m27.6 .1h1m-31.5 .2h1m29.5 .3h1m-.1 .2h1m2.1 0h1m-6.8 .1h1m-28.2 .1h1m-.9 0h1m.8 0h1m-1.7 .2h1m-3.2 .3h1m-2 .1h1m.9 0h1m-1.8 .1h1m-1.4 .1h1m.6 0h1m-1 .1h1m-3.8 .1h1m3.6 0h1m-4.7 .1h1m-2 .1h1m2.5 0h1m37.6 .1h1m-39.7 .2h1m1.3 .8h1m-5 .1h1m-.4 .1h1m2.2 .2h1m-1.8 .7h1m-4.5 .3h1m2.4 .4h1m-3.2 .5h1m-.3 0h1m.6 0h1m-2.9 .1h1m-.8 .1h1m.2 0h1m-.4 .1h1m-.4 .1h1m0 0h1m34.9 0h1m-41.3 .1h1m-.3 0h1m.1 0h1m.7 0h1m-1.5 .1h1"/>
<path stroke="#6a7ac4" stroke-width="1" d="M367.2 69h1m-3.5 .1h1m-.6 .1h1m-.3 0h1m-.6 .1h1m-1.8 .1h1m-.7 0h1m.1 0h1m-1.2 .4h1m-.5 .2h1m-7.1 .2h1m-.5 .1h1m1.8 0h1m2.7 0h1m-3.9 .2h1m-1.5 .1h1m-.3 0h1m-5.3 .1h1m-.9 0h1m-.9 .1h1m.2 0h1m1.5 .1h1m-.8 .2h1m-6.7 .1h1m.5 .1h1m5.5 0h1m-1 0h1m1.4 0h1m-.7 0h1m-12.7 .1h1m1.7 0h1m1.1 0h1m.9 .1h1m.9 0h1m-7.6 .1h1m1.7 0h1m3.2 0h1m-2.8 .1h1m.7 .1h1m-.5 0h1m-11.5 .1h1m3.5 0h1m0 0h1m2.1 0h1m4.2 .2h1m-15.9 .1h1m-.7 0h1m-1.7 .1h1m-.8 .1h1m-.6 0h1m-.7 0h1m-1.6 .1h1m12.5 .1h1m-13.2 .2h1m.6 0h1m.3 0h1m6.3 0h1m-11.9 .1h1m-1 0h1m11.7 0h1m-.2 0h1m-13.5 .1h1m-.7 0h1m-5.3 .2h1m1.2 0h1m.7 0h1m10.8 0h1m-12.5 .1h1m-8 .1h1m17.8 0h1m-13.1 .1h1m11 0h1m-18.8 .2h1m-.9 0h1m0 0h1m1.3 0h1m13.9 0h1m-.9 0h1m.6 0h1m-.5 0h1m-17.4 .1h1m15.3 0h1m-17.4 .1h1m-4.2 .3h1m2.2 0h1m-.7 0h1m-.8 0h1m-3.9 .2h1m-.9 0h1m-.9 0h1m-1.5 .1h1m-1 0h1m17 0h1m-.8 0h1m-19.6 .1h1m0 0h1m-.5 0h1m16.8 0h1m-18.7 .1h1m-5.3 .1h1m2 0h1m1 0h1m.3 .1h1m-6.7 .1h1m.6 0h1m-.1 0h1m-3.8 .1h1m3.9 0h1m-3.8 .1h1m-.1 0h1m-3.3 .1h1m.1 .1h1m-3.3 .1h1m2.7 0h1m.1 0h1m-5.3 .1h1m3.4 .1h1m-.7 0h1m15.8 0h1m-23.4 .1h1m1.4 .1h1m1.3 0h1m-1.4 .2h1m-.9 0h1m18.2 .2h1m-2.3 .1h1m.4 0h1m-2.1 .2h1m-21.2 .2h1m18.8 0h1m-23.4 .1h1m1.3 0h1m-2.2 .1h1m-1.9 .1h1m-.9 .1h1m3.6 0h1m17.6 0h1m-21.7 .1h1m-3.1 .1h1m2.2 .1h1m-.2 0h1m-5.7 .1h1m.4 0h1m.7 0h1m18.5 0h1m-24.4 .1h1m-1.8 .2h1m1.7 0h1m2.3 0h1m-6.2 .1h1m-.4 0h1m3.1 0h1m18.6 0h1m-23.3 .2h1m20.3 0h1m-22.9 .1h1m-.5 0h1m20.9 .2h1m-25.7 .1h1m-.5 0h1m1.8 0h1m-.4 0h1m1.2 0h1m-6.6 .1h1m-.2 .1h1m-.1 0h1m2.8 0h1m-1 .1h1m-.5 0h1m-6.8 .1h1m-.2 0h1m1 0h1m-4.3 .1h1m-.9 .1h1m-1 0h1m21.7 0h1m.2 0h1m-23.5 .1h1m20.4 .1h1m-21.5 .2h1m20 .1h1m-20.8 .1h1m-.8 0h1m-1 0h1m-4.7 .1h1m22.7 0h1m-19.1 .2h1m-5.2 .1h1m.6 0h1m19.7 0h1m-18.8 .1h1m-6.1 .1h1m1.5 0h1m-4 .1h1m.2 0h1m2.8 0h1m17.1 0h1m-21.2 .1h1m1.3 0h1m0 0h1m-1.3 .1h1m-5.5 .1h1m.9 .1h1m-3.4 .1h1m-.9 0h1m-.6 0h1m-2.3 .2h1m0 0h1m2.3 0h1m.7 0h1m-3.6 .1h1m1 .1h1m-6.8 .1h1m5.4 0h1m15.4 0h1m-.7 0h1m-.5 0h1m-23 .1h1m3.5 0h1m16.2 0h1m-20.6 .1h1m18.3 0h1m-20.7 .1h1m-.5 0h1m-.9 0h1m-2.8 .2h1m23.9 .1h1m-27.2 .1h1m-.1 0h1m-.7 .2h1m-.1 0h1m-.2 .3h1m25.7 0h1m-27.7 .2h1m25.7 0h1m-29.4 .2h1m.3 .2h1m-.8 .1h1m-1.6 .1h1m33.2 .5h1m.4 .2h1m-36 .1h1m-1.6 .1h1m-1.1 .3h1m-.4 0h1m33.7 0h1m-37.1 .4h1m-1.8 .8h1m1 .2h1m33.1 0h1m-37.5 .3h1m-.2 .1h1m0 0h1m33.5 0h1m-37.1 .2h1m-1.2 .2h1m-.5 .1h1m-.9 0h1m33.6 .1h1m-.5 0h1m-.9 0h1m-34.9 .1h1m-.4 0h1m-.4 0h1m31 0h1"/>
<path stroke="#4a5ab2" stroke-width="1" d="M363.7 72.1h1m-.5 0h1m.2 0h1m-5.1 .1h1m.3 .1h1m-.6 0h1m1.4 0h1m-5.2 .1h1m-1 0h1m.9 0h1m1.1 0h1m1 0h1m-5.7 .2h1m1.3 0h1m-.7 0h1m.1 0h1m-5 .1h1m-2.7 .1h1m.6 0h1m-2.1 .1h1m1.4 0h1m.8 0h1m-7.8 .1h1m1.4 0h1m.8 0h1m2.1 0h1m-4.9 .1h1m-.8 0h1m-.7 0h1m-3.2 .1h1m2.8 0h1m-3.5 .1h1m.7 0h1m-1.9 .1h1m4.6 0h1m-1.6 .1h1m-.7 0h1m-9.1 .1h1m-1 0h1m6.4 0h1m1.4 0h1m-6.6 .1h1m1.9 0h1m-3.8 .1h1m2.2 0h1m.2 0h1m-9.3 .1h1m5.7 0h1m-.4 0h1m-9.8 .1h1m1.1 0h1m-.8 0h1m1.6 0h1m3.4 0h1m-11.1 .1h1m-.8 0h1m10 0h1m-.7 0h1m-12 .2h1m9.4 0h1m-.3 0h1m-13.4 .1h1m.7 0h1m9.4 0h1m-11.8 .1h1m10.3 0h1m-.6 0h1m-.6 .1h1m-13 .1h1m10.4 0h1m-11 .1h1m8.8 0h1m-.7 0h1m-10.7 .1h1m-1.5 .1h1m-.7 0h1m-.4 0h1m8.1 .1h1m.1 .2h1m-15.2 .1h1m.3 0h1m-.6 0h1m11.3 0h1m-14.2 .1h1m-.9 .1h1m12.9 0h1m-14.1 .1h1m-.1 0h1m9.9 0h1m.4 0h1m-13.4 .1h1m11.3 0h1m-16.2 .1h1m0 0h1m-.8 0h1m-.8 0h1m12.5 0h1m-1.4 .1h1m-17.1 .1h1m.7 0h1m-1.1 .1h1m12.8 0h1m-.3 0h1m-.8 0h1m-15.8 .1h1m-.5 0h1m-.4 0h1m-.4 0h1m-.4 0h1m-3.9 .1h1m13.2 0h1m-14.5 .1h1m.2 0h1m12.5 0h1m-14.5 .1h1m1.1 0h1m9.2 0h1m-.7 0h1m-.7 0h1m-13.1 .1h1m-1.9 .1h1m12.7 0h1m-12.7 .1h1m-.9 .1h1m-1.1 .1h1m-4.3 .2h1m-.4 0h1m1.2 0h1m11.4 0h1m-15.3 .1h1m-.9 0h1m13.3 .1h1m-17.1 .1h1m.9 0h1m.9 0h1m10.1 0h1m-13.8 .1h1m-1.2 .1h1m-2.9 .1h1m3.2 0h1m10.8 0h1m-16.8 .1h1m3.2 0h1m9.8 .1h1m-16.2 .1h1m13.8 0h1m-.1 0h1m-15.7 .1h1m0 .1h1m-.1 0h1m-.8 0h1m-.8 .1h1m-4 .1h1m-.1 0h1m13.4 0h1m-.4 0h1m-14.6 .1h1m.1 0h1m-.3 0h1m9.7 0h1m-16.3 .1h1m-.4 0h1m-.4 0h1m-1.1 .1h1m1.6 0h1m9.3 .1h1m-.7 0h1m-14.7 .1h1m.7 0h1m-.9 0h1m1.2 0h1m8.1 0h1m-13.1 .1h1m-.2 0h1m1 0h1m9.6 0h1m-14.7 .1h1m2 0h1m-5.1 .1h1m2.4 0h1m0 0h1m9.5 0h1m-16.3 .1h1m13.1 0h1m.4 0h1m-16.3 .1h1m2.9 0h1m8.9 0h1m-.8 0h1m-15.4 .1h1m.1 0h1m1 0h1m-3.9 .1h1m4.3 0h1m7.5 0h1m.6 0h1m-14.9 .1h1m-.9 0h1m-.8 0h1m1.4 0h1m-3.4 .1h1m.4 0h1m9.8 0h1m-14.9 .1h1m1.5 0h1m2.6 0h1m-6.2 .1h1m12.4 .1h1m-13.2 .1h1m1.4 0h1m-.3 0h1m-.7 0h1m8.1 0h1m-9.8 .1h1m8.3 0h1m-14.2 .1h1m-2.3 .2h1m3.6 0h1m7.9 0h1m-14.8 .1h1m1 .1h1m11.4 0h1m-1 0h1m-13.8 .1h1m-.9 0h1m1.6 0h1m7.3 0h1m-12.5 .2h1m2.1 0h1m.8 0h1m-7.1 .1h1m-.3 0h1m-.2 0h1m11.9 0h1m-15.6 .1h1m-.2 0h1m11.2 0h1m-11.3 .2h1m-2.2 .1h1m.8 0h1m.1 0h1m7.7 0h1m.1 0h1m-14 .1h1m4.3 0h1m-4.4 .1h1m1.4 0h1m7.8 0h1m-13.7 .1h1m-4.5 .2h1m4.4 0h1m10.7 0h1m-17.6 .1h1m-.6 0h1m14.1 0h1m-15.7 .2h1m-1 .3h1m.4 0h1m-.4 0h1m.6 0h1m-1.6 .1h1m22.9 0h1m-.4 .1h1m-10.5 .1h1m-21 .1h1m18.7 0h1m9.9 0h1m-31.7 .2h1m27.3 0h1m-9.4 .1h1m7.6 0h1m-.2 0h1m-1.4 .1h1m-.4 .1h1m-1 0h1m.3 0h1m-5 .1h1m.7 .1h1m2.1 0h1m-32.6 .1h1m32.2 0h1m-1.8 .3h1m-33.4 .1h1m31.9 .3h1m-1.4 .1h1m-.8 0h1m-.9 0h1m-.6 0h1m-1.3 .2h1m-34.2 .3h1m-.5 .1h1m32 0h1m-35.6 .1h1m33.5 0h1m-35.3 .1h1m-.6 0h1m.2 0h1m-1.1 .1h1m31.2 0h1m-33.4 .3h1m31.2 0h1m-1.4 .1h1m-32.5 .1h1m30.5 0h1m-32.5 .1h1m30.5 .1h1m-33.4 .3h1m1.2 .2h1m1.4 0h1m14.2 0h1m-.5 0h1m.8 0h1m2.7 0h1m-.4 0h1m.3 0h1m-26.9 .1h1m-.9 0h1m-1 0h1m3.7 0h1m8.4 0h1m-.6 0h1m1.5 0h1m.4 0h1m-.5 0h1m6 0h1m-.6 0h1m-1 0h1m.8 0h1m-.1 0h1m-.3 0h1m-31.6 .1h1m-.6 0h1m-1 0h1m1.1 0h1m.2 0h1m10.2 0h1m.5 0h1m.8 0h1m-.5 0h1m-.6 0h1m-.2 0h1m-.9 0h1m.1 0h1m-1 0h1m2.2 0h1m5.4 0h1m-30.1 .1h1m2.6 0h1m11.9 0h1m2.7 0h1m2 0h1"/>
<path stroke="#4a80bc" stroke-width="1" d="M364.7 73h1m-.3 .1h1m-.8 0h1m-1.8 .1h1m-.5 .1h1m-1.6 .3h1m.1 .1h1m-1.3 .1h1m-.8 0h1m-.6 .1h1m-.9 0h1m-.9 0h1m-6.2 .1h1m2.7 0h1m-4.7 .1h1m1.4 0h1m2 0h1m-3.9 .1h1m2.1 0h1m-4.7 .2h1m-2.9 .1h1m-.6 0h1m-.6 0h1m-.3 0h1m-3.1 .1h1m-.9 0h1m4.7 0h1m-.5 0h1m-5.6 .1h1m.7 0h1m1.6 0h1m-7.2 .1h1m1 0h1m0 0h1m-.2 0h1m1.7 0h1m-7.2 .1h1m2.7 0h1m-5.5 .1h1m-.2 0h1m-.7 .1h1m-.7 0h1m6.7 .2h1m-.9 0h1m-1.4 .1h1m-8.5 .1h1m6.5 0h1m-1 .1h1m-9.8 .1h1m.1 0h1m-1 0h1m-.7 0h1m-2.1 .1h1m-.6 0h1m-2.1 .1h1m8.3 0h1m-10.3 .1h1m-.8 .1h1m7.9 0h1m-1 0h1m-1 .4h1m-1 0h1m-.5 0h1m-10.4 .2h1m8.2 .1h1m-10.3 .1h1m8.7 .1h1m-1.8 .1h1m-9.9 .2h1m8.2 0h1m-.8 0h1m-10.4 .3h1m-.9 0h1m7.8 0h1m-.9 0h1m-9.5 .1h1m-.8 .2h1m-.9 0h1m7.8 0h1m-1 0h1m-10.5 .2h1m.7 0h1m-2.9 .1h1m8.6 0h1m-9.4 .1h1m-.5 0h1m6.9 0h1m-9.2 .1h1m-2 .2h1m-.8 .1h1m.2 0h1m-1.5 .1h1m6.6 .2h1m-.4 0h1m-9.2 .1h1m5.7 0h1m-7.5 .2h1m-.7 .1h1m5.9 0h1m-1.8 .1h1m-7.1 .1h1m-.6 0h1m-.5 0h1m4.4 0h1m-7.3 .1h1m-.1 .1h1m-.8 0h1m-1.1 .2h1m.1 0h1m2.1 0h1m-5.2 .1h1m-.8 0h1m3.9 0h1m-.6 0h1m-6.9 .2h1m4.8 0h1m-6.9 .1h1m3.6 0h1m.5 0h1m-1.9 .1h1m-.9 0h1m-6.4 .1h1m-.8 0h1m-.8 0h1m4.3 0h1m-.8 0h1m-5.7 .1h1m3.6 0h1m-1.5 .2h1m-6.3 .1h1m1.6 0h1m-.1 0h1m.8 0h1m-5.5 .1h1m-.2 0h1m.7 0h1m-.1 0h1m-4.2 .1h1m-.2 0h1m-.2 0h1m.2 0h1m-2.8 .1h1m1.9 0h1m-5.2 .1h1m.8 0h1m-.4 .1h1m-2.2 .1h1m-2.5 .1h1m-1.2 .1h1m-.1 0h1m.1 0h1m2.4 0h1m-4.3 .1h1m.9 0h1m.2 0h1m-9.2 .1h1m.3 0h1m2.2 0h1m.5 0h1m1.5 .3h1m-.3 0h1m-9.9 .2h1m7.4 .1h1m-9.9 .1h1m8.1 .1h1m-2 .1h1m-7.5 .1h1m8.9 .1h1m-16.7 .1h1m13.4 0h1m4.7 .1h1m.2 0h1m-7.7 .1h1m3.8 .1h1m-5.2 .1h1m-16.1 .1h1m13.4 0h1m6 0h1m-.1 0h1m-4.1 .1h1m-.2 0h1m.9 0h1m.1 0h1m-24.5 .1h1m18.5 0h1m-.9 0h1m1.5 0h1m-.5 0h1m.1 0h1m-1 0h1m-9.9 .1h1m.4 0h1m2.4 0h1m3.3 0h1m5 0h1m-3.4 .1h1m.2 .1h1m-.1 0h1m-.8 0h1m-31.8 .1h1m28.6 0h1m-.3 0h1m-32 .1h1m-.8 0h1m-.3 0h1m29.4 0h1m-2.1 .1h1m-30.2 .1h1m27.5 0h1m-.5 0h1m-.9 0h1m-.6 0h1m-.8 0h1m-2.1 .1h1m-.8 0h1m-.9 0h1m-.9 0h1m-.6 0h1m.4 0h1m-1 0h1m-3.1 .1h1m.4 0h1m-3 .1h1m-.1 0h1m-.3 0h1m-.7 0h1m-.9 0h1m-.2 0h1m-32.7 .1h1m-.5 0h1m-.8 .1h1m29.3 0h1m-1 .1h1m-31.9 .1h1m-.8 0h1m-.8 0h1m29.5 0h1m-.4 0h1m-32.4 .1h1m29.9 0h1m-31.7 .1h1m-.9 0h1m29.4 0h1m-31.6 .1h1m-1 0h1m30.1 0h1m-32.4 .1h1m-.9 0h1m-.6 0h1m29.7 0h1m-1 0h1m-.5 .1h1m-32.8 .1h1m-.8 .1h1m-.3 0h1m-.8 .1h1m25.9 0h1m.2 0h1m-.1 0h1m-29.9 .1h1m16.4 0h1m7.4 0h1m.1 0h1m-.1 0h1m-.6 0h1m-30.1 .1h1m-1 0h1m-.7 0h1m-.2 0h1m24.8 0h1m-.8 0h1m-.9 0h1m-.9 0h1m0 0h1m.5 0h1m-1 0h1m-.9 0h1m-29.9 .1h1m-.4 0h1m24.3 0h1m-.6 0h1m-.3 0h1m.8 0h1m-29.8 .1h1m-.8 0h1m16.5 0h1m-.7 0h1m6.7 0h1m.5 0h1m0 0h1m.3 0h1m-2.8 .1h1m-29.5 .1h1m16.7 0h1m9.1 0h1m.5 0h1m-.9 0h1m-29.9 .1h1m17.2 0h1m8.6 0h1m.3 0h1m-.9 0h1m-3.7 .1h1m.2 0h1m-.6 0h1m-.2 0h1m-16.7 .1h1m-.7 0h1m3 0h1m-13 .1h1m4.6 0h1m1 0h1m-.6 0h1m7.2 0h1m-.2 0h1m-.8 0h1m-18.2 .1h1m1.2 0h1m3.3 0h1m-.3 0h1m-.7 0h1m-.3 0h1m-.9 0h1m7.2 0h1"/>
<path stroke="#5aa8a8" stroke-width="1" d="M365.6 74.1h1m-2.1 .5h1m.5 .1h1m-2.6 .2h1m-.3 .1h1m.1 0h1m.3 0h1m-5.8 .1h1m3.1 0h1m-5.7 .1h1m0 0h1m2.3 0h1m-5.1 .1h1m3.7 0h1m-.9 0h1m-1 0h1m-1.2 .1h1m-.3 0h1m-.5 0h1m-7.7 .1h1m-.8 0h1m-.6 0h1m4.7 0h1m-7 .1h1m5.2 0h1m-.8 0h1m-6.6 .1h1m3.6 0h1m-1.4 .1h1m-.6 0h1m-.6 0h1m-6.9 .1h1m-.7 0h1m-.7 0h1m-2 .1h1m5.1 0h1m-6.7 .1h1m-1 0h1m5.5 0h1m-8.5 .1h1m-.9 0h1m-.6 0h1m-.4 0h1m5.4 0h1m-7.8 .1h1m0 0h1m4.1 0h1m-8 .1h1m.1 .1h1m-.8 0h1m-.8 0h1m4.5 0h1m-6.7 .2h1m4.9 0h1m-7.7 .1h1m-.7 0h1m-.5 0h1m-1.7 .1h1m-.4 0h1m5 0h1m-.4 0h1m-7.1 .1h1m-.9 .1h1m-1 0h1m-1.9 .2h1m-.9 0h1m5.4 .1h1m-8 .1h1m.2 0h1m-2.5 .1h1m-.7 0h1m-.9 0h1m-.4 0h1m-.7 0h1m-1 0h1m-.9 0h1m4.8 0h1m-.6 0h1m-7 .2h1m4.8 0h1m-1.3 .1h1m-7.8 .1h1m-.3 0h1m-.9 0h1m5.6 0h1m-7.6 .1h1m5.6 0h1m-7.7 .1h1m5.2 0h1m-1.1 .2h1m-7.3 .1h1m-.5 0h1m-.6 0h1m4.9 0h1m-1.4 .1h1m-7 .3h1m.2 .1h1m1.9 0h1m.2 0h1m-2.3 .1h1m-3.6 .1h1m-.7 0h1m1.3 0h1m.4 0h1m-5.2 .1h1m-.9 0h1m1.6 0h1m-2.8 .1h1m1.1 0h1m-.5 0h1m-4.7 .1h1m2 0h1m-.4 0h1m-4.3 .1h1m-.8 0h1m1.8 0h1m-.4 0h1m-1 0h1m-4.9 .1h1m1.9 0h1m-2.4 .1h1m.3 0h1m-.8 0h1m-3.8 .1h1m1.6 0h1m-.6 0h1m-.2 0h1m-4.1 .1h1m0 .1h1m-.8 0h1m-.4 0h1m-2.8 .1h1m-1.1 .1h1m-.2 .1h1m-.1 0h1m-.2 0h1m-.7 0h1m-3.4 .2h1m-.2 0h1m-2.3 .1h1m-.5 0h1m-1.4 .1h1m1.6 0h1m-.9 0h1m-4.9 1.2h1m-.2 .1h1m-1.7 .1h1m.6 0h1m.6 0h1m-1 0h1m-4.3 .1h1m2.8 0h1m-2.3 .1h1m.3 0h1m-4.8 .1h1m2.7 .2h1m-5.1 .1h1m2.1 0h1m-.4 .1h1m-9.4 .5h1m0 0h1m-1.7 .1h1m-1.1 .1h1m-1.7 .1h1m.2 0h1m9.3 0h1m-13.5 .2h1m-.4 0h1m-.6 0h1m-4.1 .1h1m13.6 0h1m4.2 0h1m-21.1 .1h1m-.7 0h1m16.8 0h1m1.6 0h1m-21.6 .1h1m16.8 0h1m-.8 0h1m6.2 0h1m-.1 0h1m.6 0h1m-11.9 .1h1m2.1 0h1m3.9 0h1m.2 0h1m-.2 0h1m-27.8 .1h1m-1 0h1m-.1 0h1m14.4 0h1m-.3 0h1m.2 0h1m5.6 0h1m-.1 0h1m-.7 0h1m-26.9 .1h1m-.8 0h1m15.5 0h1m-.8 0h1m-.3 0h1m.9 0h1m4.1 0h1m-7.6 .1h1m.1 0h1m-.3 0h1m-.5 0h1m-.7 0h1m2.4 0h1m-.9 0h1m-.8 0h1m.1 0h1m-.5 0h1m-.7 0h1m-27.3 .1h1m-.1 0h1m-1 0h1m15.8 0h1m5.6 0h1m.6 0h1m-.7 0h1m-.7 0h1m-.1 0h1m-28.5 .1h1m15.9 0h1m.6 0h1m5 0h1m1.1 0h1m.2 0h1m-10.8 .1h1m.4 0h1m-.4 0h1m-1 0h1m-.3 0h1m-1 0h1m2.4 0h1m-.7 0h1m-1 0h1m.6 0h1m.1 0h1m-.7 0h1m-28.2 .1h1m16.1 0h1m-.3 0h1m-.9 0h1m-.9 0h1m-.9 0h1m-.7 0h1m.7 0h1m-.9 0h1m-1 0h1m6.2 0h1m-.9 0h1m-28.2 .1h1m16.6 0h1m8.1 0h1m1.1 0h1m-.5 0h1m-30.6 .1h1m-.5 0h1m17 0h1m-1 0h1m6.9 0h1m-.2 0h1m-1 0h1m-.6 0h1m-.7 0h1m-.5 0h1m-.3 0h1m-12.1 .1h1m-.7 0h1m-.5 0h1m6.3 0h1m-1 0h1m-.9 0h1m-.4 0h1m1.3 0h1m-30.1 .1h1m-.9 0h1m17.6 0h1m6.6 0h1m-.7 0h1m-.1 0h1m.5 0h1m-29.8 .1h1m-1 0h1m17.3 0h1m6.4 0h1m.4 0h1m-1 0h1m.3 0h1m-1 0h1m.1 0h1m-30.2 .1h1m15.3 0h1m.2 0h1m-.7 0h1m-1 0h1m7.4 0h1m-.2 0h1m-28.5 .1h1m17.6 0h1m-.9 0h1m7.5 0h1m.8 0h1m-.7 0h1m-12.3 .1h1m7 0h1m-27.1 .1h1m-.9 0h1m17.4 0h1m6.4 0h1m-.6 0h1m-25.7 .1h1m16.9 0h1m2.5 0h1m-.4 0h1m-.2 0h1m.7 0h1m1.5 0h1m-.8 0h1m-.2 0h1m-26.8 .1h1m10.3 0h1m.8 0h1m1.8 0h1m-.6 0h1m-.3 0h1m2.6 0h1m-.1 0h1m-24.6 .1h1m.7 0h1m11.6 0h1m2.3 0h1m-.9 0h1m-.3 0h1m2.4 0h1m-23.2 .1h1m.4 0h1m-.7 0h1m11.1 0h1m8.1 0h1m.1 0h1m-24 .1h1m-.1 0h1m11.2 0h1m-.9 0h1m3.3 0h1m-.5 0h1m2 0h1m-.7 0h1m.6 0h1m-11.3 .1h1m9 0h1m-.6 0h1m-6.6 .1h1m2.4 0h1m-.3 0h1m-.5 0h1m-.5 0h1m-24 .1h1m.5 0h1m-1 0h1m15 0h1m-.7 0h1m-.5 0h1m3.8 0h1m-23.4 .1h1m-.2 0h1m18.6 0h1m-.1 0h1m-.7 0h1m-.7 0h1m-.9 0h1m-22.2 .1h1m11.3 0h1m-.5 0h1m2.3 0h1m2.6 0h1m-15.3 .1h1m6.4 0h1m2.5 0h1m-.6 0h1m-12.5 .1h1m-1.2 .1h1m.3 0h1m-1 0h1m-.8 0h1m-2 .1h1m.1 0h1"/>
<path stroke="#78b850" stroke-width="1" d="M364.5 75.1h1m-.7 0h1m-2.4 .1h1m-.3 0h1m-.5 0h1m-.7 0h1m.3 0h1m-2.9 .1h1m-.8 0h1m.1 0h1m-2.5 .1h1m.1 0h1m-.4 .1h1m-3.3 .1h1m-.7 0h1m.8 0h1m-3.2 .1h1m.7 0h1m-.9 0h1m-2.3 .1h1m-1 0h1m1.1 0h1m-.8 0h1m-3.9 .1h1m.3 0h1m-.6 0h1m.1 0h1m-4.2 .1h1m-.3 0h1m-.7 0h1m-.7 0h1m1.1 0h1m-2.8 .1h1m0 0h1m.4 0h1m-3.3 .1h1m-.5 0h1m.6 0h1m-3.3 .1h1m-.5 0h1m-.2 0h1m-.6 0h1m-.5 0h1m-5 .1h1m-.8 0h1m-.6 0h1m-.2 0h1m-1 0h1m-.3 0h1m-.1 0h1m-2.8 .1h1m1.2 0h1m.2 0h1m-4.8 .1h1m.1 0h1m.4 0h1m.1 0h1m-3.7 .1h1m-.2 0h1m-.6 0h1m-.9 0h1m-.8 0h1m-.9 0h1m.1 0h1m-5.1 .1h1m-.2 0h1m.7 0h1m.4 0h1m-1 0h1m-4.7 .1h1m.9 0h1m-.8 0h1m-.5 0h1m-.3 0h1m-.8 0h1m-4.3 .1h1m.7 0h1m0 0h1m-3.5 .1h1m-.4 0h1m1.2 0h1m-.3 0h1m-5.2 .1h1m.2 0h1m.1 0h1m-.4 0h1m-1 0h1m.5 0h1m-5.6 .1h1m.1 0h1m-.8 0h1m-.7 0h1m-.3 0h1m-.8 0h1m-.9 0h1m1 0h1m-3 .1h1m-.9 .1h1m-3.7 .1h1m-.6 0h1m-.7 0h1m-.9 0h1m-.2 0h1m-1 0h1m-.5 0h1m0 0h1m.2 0h1m-.9 0h1m-4.2 .1h1m-.1 0h1m-3.2 .1h1m-.2 0h1m-.3 0h1m2.3 0h1m-3.9 .1h1m-.1 0h1m-.9 0h1m-.3 0h1m-.8 0h1m-.3 0h1m-2.9 .1h1m-.9 0h1m-.7 0h1m0 0h1m-4.1 .1h1m.2 0h1m-2.7 .1h1m-.3 0h1m-.1 0h1m-.8 0h1m0 0h1m-.4 0h1m-1 0h1m-.4 0h1m-4.3 .1h1m1.9 0h1m-4.9 .1h1m-.2 0h1m.4 0h1m-1 0h1m-.5 0h1m-.9 0h1m-3.7 .1h1m-.4 0h1m.3 0h1m.4 0h1m-4.5 .1h1m-1 0h1m2.5 0h1m-.9 .1h1m-4.6 .1h1m-.6 0h1m-1.4 .1h1m1.1 0h1m.5 0h1m-.4 0h1m-3.5 .1h1m-.9 0h1m-.8 0h1m-.9 0h1m-.8 0h1m-.6 .1h1m-1.2 .2h1m-1.5 .2h1m-1.2 .1h1m-.2 0h1m-.8 .2h1m-1.8 .1h1m-.9 0h1m-3.5 3.1h1m-2.4 .2h1m.6 .1h1m.2 .1h1m-6.2 .1h1m6.1 0h1m.3 0h1m-8.6 .1h1m1.8 0h1m2.5 0h1m-5.3 .1h1m-.8 0h1m3.7 0h1m-6.9 .1h1m5.1 0h1m-8.1 .1h1m-.2 0h1m-.8 0h1m-.7 0h1m.4 0h1m1.9 0h1m1.1 0h1m-12.8 .1h1m2.7 0h1m.3 0h1m.4 0h1m1 0h1m-.7 0h1m2 0h1m-.6 0h1m8.3 0h1m-22.6 .1h1m11.5 0h1m8.8 0h1m-22.8 .1h1m-.3 0h1m10.9 0h1m-.7 0h1m6.3 0h1m-21.7 .1h1m-.9 0h1m-1 0h1m-.9 0h1m-.6 0h1m-.5 0h1m11.6 0h1m-.7 0h1m-.6 0h1m6.2 0h1m-.6 0h1m-22.8 .1h1m-.4 0h1m.4 0h1m9.7 0h1m.6 0h1m5.2 0h1m-.1 0h1m-21.8 .1h1m.5 0h1m10.5 0h1m-.6 0h1m-.8 0h1m5 0h1m-21.4 .1h1m.1 0h1m-.3 0h1m10.9 0h1m-.9 0h1m-.9 0h1m6.1 0h1m-.7 0h1m-.2 0h1m-22.7 .1h1m-.4 0h1m.3 0h1m10.5 0h1m5.7 0h1m-.8 0h1m0 0h1m-.5 0h1m-23.6 .1h1m-.6 0h1m-.4 0h1m-.9 0h1m-.8 0h1m11.6 0h1m6.7 0h1m-.7 0h1m-21.8 .1h1m-.9 0h1m-.6 0h1m.2 0h1m10.3 0h1m5.3 0h1m-1 0h1m.3 0h1m-.4 0h1m-1 0h1m-.7 0h1m-23.6 .1h1m.3 0h1m-.5 0h1m-.9 0h1m-1 0h1m-1 0h1m-.7 0h1m-.8 0h1m-1 0h1m9.8 0h1m-.7 0h1m.4 0h1m-.9 0h1m2 0h1m1.3 0h1m-.7 0h1m-.9 0h1m-.9 0h1m.2 0h1m-.7 0h1m-1 0h1m.2 0h1m-.6 0h1m-.6 0h1m-25.1 .1h1m-.3 0h1m-.3 0h1m-.4 0h1m9.9 0h1m-1 0h1m-.5 0h1m-.3 0h1m0 0h1m2.1 0h1m.4 0h1m-.5 0h1m-.8 0h1m-.9 0h1m0 0h1m-1 0h1m1.6 0h1m-.6 0h1m-24.1 .1h1m-.2 0h1m10.6 0h1m-.6 0h1m-.9 0h1m-.5 0h1m-.4 0h1m-.9 0h1m1.6 0h1m-.7 0h1m-.7 0h1m-.4 0h1m.1 0h1m-.8 0h1m-.7 0h1m-.8 0h1m-.9 0h1m-.9 0h1m-.6 0h1m-.9 0h1m-1 0h1m-.2 0h1m-1 0h1m.1 0h1m-24.9 .1h1m-1 0h1m.1 0h1m.4 0h1m10.4 0h1m-.9 0h1m-.7 0h1m-1 0h1m.3 0h1m1.7 0h1m.8 0h1m-.7 0h1m1.1 0h1m-.9 0h1m-.7 0h1m-.9 0h1m-.1 0h1m-.1 0h1m-24.4 .1h1m-.6 0h1m-.9 0h1m0 0h1m-1 0h1m9.6 0h1m-.8 0h1m-.5 0h1m-.9 0h1m-.6 0h1m-.4 0h1m3.1 0h1m-.9 0h1m-.9 0h1m-.4 0h1m-.4 0h1m-.6 0h1m-.6 0h1m1.7 0h1m-25.2 .1h1m-.5 0h1m-.9 0h1m-.6 0h1m-.9 0h1m-.3 0h1m-.2 0h1m9.4 0h1m-.1 0h1m-1 0h1m.3 0h1m-.7 0h1m-1 0h1m1.4 0h1m-.4 0h1m-.9 0h1m-.6 0h1m-.9 0h1m-.9 0h1m0 0h1m-.6 0h1m-1 0h1m-.8 0h1m2.1 0h1m-.2 0h1m-25.8 .1h1m.8 0h1m-1 0h1m-.6 0h1m-.6 0h1m9.9 0h1m-1 0h1m6.6 0h1m.2 0h1m.4 0h1m-.9 0h1m-.2 0h1m-.9 0h1m-25.7 .1h1m-.8 0h1m12.9 0h1m-.2 0h1m-.8 0h1m-.5 0h1m1.8 0h1m-.9 0h1m.6 0h1m-.7 0h1m-.1 0h1m-.4 0h1m0 0h1m.4 0h1m-24.1 .1h1m-.6 0h1m-.8 0h1m10.2 0h1m-.6 0h1m-.9 0h1m-.3 0h1m-.2 0h1m-.9 0h1m-.7 0h1m-.7 0h1m-.8 0h1m2.9 0h1m-.6 0h1m-.3 0h1m-.7 0h1m-.4 0h1m-.7 0h1m-.4 0h1m-.9 0h1m-21.4 .1h1m-.7 0h1m-.9 0h1m9.5 0h1m0 0h1m-.4 0h1m-.8 0h1m-.1 0h1m2.4 0h1m-.2 0h1m-.9 0h1m-.5 0h1m-1 0h1m1.7 0h1m0 0h1m-25.2 .1h1m.6 0h1m1.5 0h1m6.5 0h1m1.2 0h1m-.1 0h1m-.6 0h1m5 0h1m-.8 0h1m.4 0h1m0 0h1m-.8 0h1m-13 .1h1m-.1 0h1m-.9 0h1m6.3 0h1m-.7 0h1m-.8 0h1m-18.9 .1h1m-.3 0h1m7 0h1m.2 0h1m-.9 0h1m-9.5 .1h1m5.7 0h1m1.2 0h1m6 0h1m-.5 0h1m-18.9 .1h1m7.7 0h1m-9.5 .1h1m-.4 0h1m-.2 0h1m5.5 0h1m1.1 0h1m-.4 0h1m5.6 0h1m-.8 0h1m0 0h1m-.9 0h1m-1 0h1m-18 .1h1m-1 0h1m15.2 0h1m-.2 0h1m-1 0h1m-19.8 .1h1m9.4 0h1m6.3 0h1m-18.5 .1h1m7.1 0h1m.6 0h1m-.2 0h1m5.4 0h1m-.8 0h1m-18.2 .1h1m.6 0h1m6.8 0h1m6.5 0h1m.7 0h1m-19.7 .1h1"/>
<path stroke="#b0c438" stroke-width="1" d="M362.7 83.3h1m-.8 .1h1m-.8 .5h1m-.9 0h1m-5.6 .1h1m3.2 0h1m-6.2 .1h1m7.1 0h1m-8.8 .1h1m-.4 0h1m6.9 0h1m-.2 0h1m-.9 0h1m-10 .1h1m-.4 0h1m-2.5 .1h1m-1 0h1m-.4 0h1m6.8 0h1m.1 0h1m-8.7 .1h1m5.5 0h1m-.5 0h1m-.9 0h1m-.7 0h1m-.8 0h1m-.9 0h1m-10.5 .1h1m-.7 0h1m-.8 0h1m-.2 0h1m-.7 0h1m-.9 0h1m6.2 0h1m-.2 0h1m-9.6 .1h1m-.8 0h1m5.8 0h1m-.8 0h1m-.6 0h1m-.7 0h1m-9.2 .1h1m-.9 0h1m-.1 0h1m-.9 0h1m5.4 0h1m-.8 0h1m-.3 0h1m-.6 0h1m-10 .1h1m-.6 0h1m-1 0h1m6 0h1m-.9 0h1m-.8 0h1m-.6 0h1m-9.3 .1h1m-.7 0h1m6.2 0h1m-.6 0h1m.1 0h1m-9.8 .1h1m-.9 0h1m7.3 0h1m-.9 0h1m-9.4 .1h1m7.4 0h1m-.5 0h1m-10.2 .1h1m-.9 0h1m-.8 0h1m7.3 0h1m-.9 0h1m-10.2 .1h1m-.7 .1h1m7.7 0h1m-.9 0h1m-.6 0h1m-.6 0h1m-10.5 .2h1m7.6 0h1m-.6 0h1m-10.3 .1h1m-.9 0h1m7.9 0h1m-.6 0h1m-.7 0h1m-10.3 .1h1m7.6 0h1m-7.9 .1h1m1.5 0h1m.3 0h1m-.3 0h1m-.7 0h1m-.7 0h1m-.6 0h1m-6 .1h1m-.8 0h1m-.9 0h1m.3 0h1m-.9 0h1m-.6 0h1m-.9 0h1m-.8 0h1m.5 0h1m-.8 0h1m.2 0h1m-6.1 .1h1m.3 0h1m-.7 0h1m-.8 0h1m-.8 0h1m.9 0h1m-.7 0h1m-.6 0h1m-6.2 .1h1m0 0h1m-1 0h1m-.8 0h1m-.3 0h1m-.4 0h1m-1.6 .1h1m-.3 0h1m-3.2 .1h1m2.2 0h1m-4.1 .1h1m-.7 0h1m1.6 0h1m-.7 0h1m-.9 0h1m-.3 0h1m-.9 0h1m-.4 0h1m-.5 0h1m-6.5 .1h1m-.8 0h1m-.8 0h1m3.7 0h1m-.8 0h1m-6.4 .1h1m1.5 0h1m-.2 0h1m.6 0h1m-5.6 .1h1m1.2 0h1m-.3 0h1m-1 0h1m-1.7 .1h1m.1 0h1m.9 0h1"/>
<path stroke="#d8c030" stroke-width="1" d="M364.8 84.1h1m-.7 0h1m-6.2 .1h1m3.9 0h1m-1.2 .1h1m-.4 0h1m-6.9 .1h1m-.2 0h1m4.2 0h1m-6.8 .1h1m-.5 0h1m3.5 0h1m-.9 0h1m-1 0h1m-6.2 .1h1m-.4 0h1m-.8 0h1m3.4 0h1m-.9 0h1m-.7 0h1m-6.7 .1h1m-.8 0h1m4.3 0h1m-.9 0h1m-6.6 .1h1m-.9 0h1m-.2 0h1m3.1 0h1m-.8 0h1m-.9 0h1m-.8 0h1m-6.3 .1h1m-.3 0h1m3.3 0h1m-.9 0h1m-.3 0h1m-6.9 .1h1m-1 0h1m-1 0h1m-1 0h1m4.3 0h1m-7.2 .1h1m5 0h1m-.4 0h1m.1 0h1m-8.7 .1h1m-.8 0h1m5.2 0h1m-.5 0h1m-1 0h1m-7.4 .1h1m5.8 0h1m-.6 0h1m-8.7 .1h1m-.8 0h1m-.6 0h1m-.9 0h1m-.9 0h1m4.6 0h1m-.7 0h1m-.4 0h1m-.7 0h1m-8.7 .1h1m-.5 0h1m-.9 0h1m-.8 0h1m4.2 0h1m-1 0h1m-.7 0h1m-.9 0h1m-.7 0h1m-7.5 .1h1m-.9 0h1m-.4 0h1m6 0h1m-8.7 .1h1m-.6 0h1m4.5 0h1m-.6 0h1m-.9 0h1m-.8 0h1m-.9 0h1m-1 0h1m-.8 0h1m-.6 0h1m-8.4 .1h1m-.6 0h1m4.6 0h1m-6.8 .1h1m-.9 0h1m-.7 0h1m4.8 0h1m-.1 0h1m-.8 0h1m-.9 0h1m-.9 0h1m-8.6 .1h1m-.6 0h1m4.5 0h1m.3 0h1m-.6 0h1"/>
<path stroke="#c89428" stroke-width="1" d="M360.4 84h1m-.4 0h1m-1.5 .1h1m2.6 0h1m-4.7 .1h1m-.5 0h1m-.6 0h1m-.4 0h1m-.9 0h1m-.2 0h1m-.5 0h1m-.3 0h1m-4 .1h1m-.1 0h1m-.3 0h1m.1 0h1m-4 .1h1m-.8 0h1m.8 0h1m-.9 0h1m-.9 0h1m-.8 0h1m-.7 0h1m-.9 0h1m-.6 0h1m-4.2 .1h1m-.9 0h1m-.9 0h1m.6 0h1m.1 0h1m-4.1 .1h1m-.3 0h1m-.5 0h1m-1 0h1m-.3 0h1m-.8 0h1m.5 0h1m-4.7 .1h1m-.7 0h1m1 0h1m-.8 0h1m-.9 0h1m-.5 0h1m-.5 0h1m-3.1 .1h1m-.9 0h1m.3 0h1m-.9 0h1m-.9 0h1m-3.3 .1h1m-.5 0h1m-.9 0h1m-.8 0h1m-.9 0h1m-.8 0h1m-.9 0h1m-.9 0h1m-.9 0h1m-.7 0h1m-.9 0h1m-.7 0h1m-.4 0h1m-.9 0h1m-5.2 .1h1m-.8 0h1m-.5 0h1m-1 0h1m0 0h1m-.5 0h1m-.8 0h1m-.8 0h1m-.2 0h1m-.9 0h1m-.2 0h1m-5.5 .1h1m-.9 0h1m-.2 0h1m-.3 0h1m-.8 0h1m-.8 0h1m-.7 0h1m-1 0h1m.7 0h1m-.8 0h1m-.6 0h1m-5 .1h1m-.8 0h1m-.8 0h1m-1 0h1m-.9 0h1m-.7 0h1m-.7 0h1m-.6 0h1m-.9 0h1m-.9 0h1m-.2 0h1m-.8 0h1m-.7 0h1m-.8 0h1m-.6 0h1m-.7 0h1m-.8 0h1m-5.8 .1h1m-1 0h1m-.8 0h1m-.3 0h1m-.5 0h1m.3 0h1m-.9 0h1m-.4 0h1m-.8 0h1m-.9 0h1m-.3 0h1m-5.5 .1h1m-.9 0h1m-1 0h1m0 0h1m-.6 0h1m-.9 0h1m.2 0h1m-.7 0h1m-.9 0h1m-.6 0h1m-.7 0h1m-.8 0h1m-.2 0h1m-5.9 .1h1m-.9 0h1m-.9 0h1m-.8 0h1m-.1 0h1m-.9 0h1m-.8 0h1m-.2 0h1m-.7 0h1m-.7 0h1m-.6 0h1m.1 0h1m-4 .1h1m-1 0h1m-.9 0h1m-.2 0h1m0 0h1m-.8 0h1m-.6 0h1m-.9 0h1m-.9 0h1m-.9 0h1m-.4 0h1m-5.3 .1h1m-.3 0h1m-.7 0h1m-.8 0h1m.5 0h1m-.9 0h1m-.8 0h1m-.7 0h1m-4.5 .1h1m-.9 0h1m.3 0h1m-.9 0h1m-.3 0h1m-.9 0h1m-.7 0h1m-.2 0h1m-.4 0h1m-4.5 .1h1m-1 0h1m-.9 0h1m.4 0h1m-.3 0h1m-.6 0h1m-.8 0h1m-.1 0h1m-.8 0h1m-5.2 .1h1m0 0h1m.6 0h1m-.9 0h1m-.7 0h1"/>
</g>
<rect x="471" y="20" width=".6" height="68.4" fill="#aaa"/>
<g filter="url(#bl)">
<path stroke="#c2c8ea" stroke-width="1" d="M468.2 30.2h1m-8.9 .2h1m5.7 1.7h1m-13.8 1.3h1m11.6 .1h1m-14.2 .6h1m-1.6 1.1h1m14.4 0h1m-2.3 1.3h1m-15.4 .3h1m22.2 1h1m-9.1 .6h1m-15 .7h1m12.8 .3h1m1.1 .2h1m7.5 .5h1m-2.7 .2h1m-6.4 .7h1m-17.8 .6h1m18.4 .2h1m-19.7 .5h1m35.4 .4h1m-14.6 .2h1m-24.3 .5h1m16.8 1.5h1m8.4 .1h1m-10.9 .2h1m-.4 .8h1m-17.3 .2h1m8.2 .3h1m11.7 .9h1m.7 .7h1m-24.5 .2h1m-2 .2h1m12 0h1m-3.1 .2h1m-10.5 .6h1m14.2 0h1m11.8 .1h1m-29.3 .7h1m9.5 0h1m13.6 .8h1m-8.2 .4h1m-18.9 .7h1m8.6 0h1m-1.3 .9h1m-12 .1h1m-.1 0h1m-1.8 .3h1m1.7 0h1m28.5 .7h1m-23.4 .3h1m.9 .8h1m-10.9 .6h1m-.4 .1h1m-.3 .8h1m17.6 0h1m-3.8 .2h1m6 .1h1m.7 .5h1m3.9 0h1m-31.5 .4h1m-1.8 .2h1m11.7 0h1m-11.8 .3h1m8.7 .6h1m8 .4h1m-22.5 .1h1m.6 0h1m-1.9 .2h1m1.1 0h1m7.1 .1h1m17.2 .1h1m-27.2 .2h1m6.3 0h1m-.6 0h1m16.7 .2h1m-24.3 .1h1m-4.9 .4h1m2.9 .6h1m5.9 1h1m-1.8 .6h1m-6.3 1.2h1m-2.9 .8h1m2 .5h1m-2 .2h1m-1.6 .7h1m-.9 .1h1m4 .9h1m-5.9 .6h1m-.4 .5h1m3.3 .2h1m-5.2 1.4h1m-2.1 .1h1m5.7 1.2h1m-8.4 .2h1m2 .7h1m-5.7 2.7h1m1.7 0h1m-2.3 1.4h1m-.8 1.2h1m-4.2 1.4h1m6.9 0h1"/>
<path stroke="#8a98d4" stroke-width="1" d="M462.8 32.3h1m.6 .9h1m-.6 .3h1m-1.3 .3h1m-9.5 .7h1m9.6 2.2h1m-13.6 .3h1m-1.1 .2h1m.1 .7h1m-1.5 .4h1m-1.9 .2h1m.9 1.8h1m-.5 .2h1m8.7 .5h1m.2 0h1m-3.3 1h1m-9.3 .2h1m.6 .1h1m-2.6 .3h1m-.1 .1h1m-.8 .2h1m7.7 0h1m-1.9 .2h1m-7.4 .1h1m-3.1 .1h1m6.8 0h1m-.8 .6h1m-6.7 .1h1m-.8 .1h1m-3.1 .1h1m-1.1 .1h1m2 0h1m1.8 0h1m-6.1 .2h1m6.2 .1h1m-6.9 .1h1m-3.7 .1h1m.1 0h1m1.6 0h1m1.3 0h1m.7 .1h1m-8.5 .4h1m2.3 0h1m3.4 0h1m-2.4 .1h1m-.8 0h1m-6 .1h1m5.9 .2h1m-.9 0h1m-9.1 .1h1m-1.8 .1h1m2.6 .7h1m-1.5 .2h1m2.3 .2h1m-4.7 .2h1m-.8 .1h1m1.6 .1h1m-.8 .4h1m.1 0h1m-5.2 .1h1m-.5 0h1m-1 .3h1m2.9 0h1m.9 0h1m-5.3 .1h1m-2.2 .1h1m3.4 0h1m-.1 .3h1m-.6 .1h1m-3.4 .1h1m-1.3 .1h1m-1.1 .2h1m-2.3 .1h1m-1.3 .1h1m.6 0h1m-.6 0h1m2 .1h1m-9 .1h1m1.2 0h1m3.4 0h1m-.9 .1h1m-6.1 .1h1m.8 0h1m-3.2 .1h1m-.1 .1h1m-.7 0h1m.2 .1h1m-5.2 .1h1m4.2 0h1m0 .2h1m-4.3 .1h1m1.9 0h1m.7 0h1m-6.9 .1h1m.2 0h1m-.8 .2h1m-4 .2h1m1.9 .4h1m2 .2h1m-1.9 .2h1m1.3 0h1m-6.4 .2h1m3 0h1m-4.1 .1h1m.5 0h1m2.2 .2h1m-1.6 .1h1m-5.8 .1h1m-.7 0h1m.2 .1h1m-.6 .4h1m-.5 0h1m.4 0h1m-2.5 .1h1m-.6 0h1m1.9 .3h1m-3.7 .1h1m-4.2 .2h1m-1.9 .1h1m.6 0h1m2.4 0h1m-2.2 .5h1m-1.6 .1h1m-2.9 .7h1m1.7 0h1m-1.4 .2h1m-1.9 .1h1m2.5 .2h1m-5 .1h1m-1.1 .1h1m2 .3h1m-1.1 .2h1m-4 .1h1m3.5 .1h1m-2.3 .2h1m-4.1 .1h1m1.1 .1h1m-.1 0h1m-3.2 .1h1m2.2 .1h1m-2.4 .3h1m-3.5 .1h1m-.4 0h1m1.6 .1h1m-2.5 .1h1m-4.7 .2h1m.6 0h1m2 .4h1m-.1 0h1m-2.5 .1h1m-3.3 .3h1m-1.7 .1h1m2.8 0h1m-.8 0h1m-.3 .2h1m-2.7 .2h1m-1.9 .1h1m-.8 0h1m.1 .6h1m-1.8 .1h1m1.2 1.2h1m-.3 .1h1m-2.2 .1h1m.3 0h1m-4.2 .2h1m-.8 .2h1m-.8 .3h1m.9 .2h1m-2 .1h1m-2.8 .3h1m1.6 .1h1m-3.6 .1h1m-1.3 .1h1m1.7 .1h1m-4.3 .2h1m2.1 0h1m-.8 .1h1m-2.9 .4h1"/>
<path stroke="#5868b8" stroke-width="1" d="M462 32.4h1m-4.5 .9h1m-.8 .5h1m-.7 0h1m3.8 0h1m-1.6 .2h1m.7 .6h1m-9 .4h1m-.9 .1h1m-2.5 .9h1m9.2 .5h1m-1.1 .1h1m-1.3 .6h1m-10.7 .2h1m-.6 .2h1m-1.1 .5h1m-1.2 .2h1m8.9 .4h1m-10.8 .2h1m9.1 .2h1m-1.7 .3h1m-.6 0h1m-1.4 .2h1m-9.9 .5h1m6.9 .2h1m-.8 0h1m-.8 .1h1m-8.4 1.3h1m-.8 0h1m4.9 0h1m-.9 0h1m.3 .2h1m-2.1 .1h1m-2 .1h1m-4.2 .1h1m.8 0h1m-1.9 .1h1m-.8 0h1m-.2 0h1m-1.5 .1h1m.6 .1h1m.3 .1h1m-2.9 .2h1m-.9 .3h1m-3 .2h1m.7 .3h1m-.5 .1h1m-2.6 .2h1m.2 .4h1m-1.7 .1h1m-.8 0h1m-1.4 .7h1m-.5 0h1m-1.1 .3h1m-1.1 .4h1m-.4 .1h1m-2.2 .4h1m-.3 .2h1m-2.1 .1h1m-.7 .2h1m.4 0h1m-1.7 .2h1m-1.9 .1h1m-.5 .6h1m-.9 .2h1m-.8 0h1"/>
<path stroke="#7fa6b8" stroke-width="1" d="M459.8 33h1m-1.6 .1h1m1 .2h1m-2.2 .1h1m-1 .1h1m2.1 .1h1m-3.7 .1h1m-2 .1h1m-.3 0h1m.3 0h1m.7 0h1m-3.4 .1h1m1.3 0h1m-6.2 .1h1m3.1 0h1m0 0h1m-6.5 .2h1m-1.2 .4h1m-.5 .1h1m-.7 0h1m4.5 0h1m-1 .2h1m-.6 0h1m-.6 .5h1m-1.1 .4h1m-9 .2h1m-.2 0h1m6.3 0h1m-.4 .2h1m-9.4 .2h1m-.6 0h1m6.8 0h1m-1.5 .1h1m-.3 0h1m-1.6 .1h1m-8.3 .1h1m6.5 0h1m-8.7 .1h1m6.4 0h1m-.3 0h1m-1.7 2.3h1m-.5 0h1m-.6 .2h1m-1.9 .1h1m-.7 0h1m-9.2 .2h1m.3 .6h1m-.6 0h1m5 0h1m-1.6 .1h1m-6.8 .2h1m-.7 0h1m4.2 .1h1m-4.5 .5h1m-.9 .2h1m-1.2 .2h1m-1.4 .1h1m-1 0h1m-.4 0h1m1.8 .1h1m-4.4 .1h1m0 0h1m-1.8 .1h1"/>
<path stroke="#98b460" stroke-width="1" d="M458.4 34h1m3.5 .1h1m-1.3 .1h1m-5 .1h1m2.5 0h1m-.4 .1h1m-.9 0h1m-5.2 .3h1m3.2 .1h1m-1.6 .1h1m.9 .2h1m-7.3 .1h1m5 0h1m-7 .1h1m4.5 .1h1m-.7 .1h1m-7 .1h1m-.7 0h1m4.9 .1h1m-.8 0h1m-7.2 .1h1m-1 0h1m-1 0h1m-1.7 .1h1m-.5 0h1m-1.8 1.1h1m6.9 0h1m-8.8 .1h1m6.5 .1h1m-1 0h1m-.7 .1h1m-8.7 .1h1m6.2 0h1m-.9 0h1m-1 0h1m-.8 0h1m-.6 0h1m-9 .1h1m-.9 0h1m6.4 0h1m-9.3 .2h1m-.5 0h1m-1.5 .1h1m-.6 0h1m-.4 0h1m-1.6 .1h1m-.9 0h1m-1 .1h1m-.9 0h1m-1 0h1m7.2 0h1m-9 .1h1m6.4 0h1m-8.2 .2h1m-2 .1h1m-1 .1h1m7.1 0h1m-9 .1h1m7 0h1m-.7 0h1m-.9 0h1m-.8 .2h1m-9.3 .1h1m-.3 .2h1m-.9 0h1m-.7 0h1m-.5 0h1m4.9 0h1m-1 .2h1m-7.5 .1h1m4.8 0h1m-7 .1h1m-.9 0h1m-1 0h1m-.8 0h1m-1.2 .1h1m4.8 0h1m-6.7 .1h1m5.5 0h1m-7 .1h1m4.4 0h1m-6.7 .1h1m-.6 0h1m-.7 .3h1m-.5 0h1m2.2 0h1m-.6 0h1m-.4 0h1m-2 .1h1m-.5 0h1m-.6 0h1m-5.8 .1h1m3.3 .1h1m-.7 0h1m-1.2 .1h1m-.6 .1h1m-2.3 .3h1m-.9 0h1m-2.3 .1h1m-.9 0h1m-1.4 .1h1m.4 0h1m-.7 .2h1m-.8 .1h1m-1.3 .1h1m-.8 0h1m-1.4 .1h1"/>
<path stroke="#aab83c" stroke-width="1" d="M459.7 34h1m.7 .1h1m-.5 0h1m-3.7 .1h1m-.3 0h1m-.9 .1h1m-1 0h1m-.7 0h1m-.5 0h1m-.8 0h1m-.5 0h1m-2 .1h1m-.5 0h1m-.7 0h1m-.5 0h1m-3.1 .1h1m0 0h1m-.5 0h1m-2.7 .1h1m-1 0h1m1.3 0h1m-1 0h1m-.9 0h1m-.9 0h1m-.9 0h1m-3 .1h1m-.1 0h1m.1 0h1m-2.6 .1h1m0 0h1m-.8 0h1m-2.9 .1h1m-.4 0h1m-.9 0h1m-.9 0h1m-1 0h1m-2.8 .1h1m-.7 0h1m.2 0h1m.7 0h1m-.4 0h1m-2.5 .1h1m-.8 0h1m-3.9 .1h1m-.3 0h1m-.9 0h1m-.8 0h1m-.7 0h1m-.9 0h1m1.9 0h1m-5 .1h1m-.6 0h1m-.7 0h1m2 0h1m-1 0h1m-5 .1h1m2.4 0h1m-.2 0h1m-.8 0h1m-2 .1h1m.1 0h1m-5.5 .1h1m.2 0h1m-1 0h1m1.1 0h1m.4 0h1m-6 .1h1m-.9 0h1m-.5 0h1m-.8 0h1m-.7 0h1m2.1 0h1m-4.4 .1h1m-.6 0h1m-.9 0h1m2.5 0h1m-5.7 .1h1m-.7 0h1m-.4 0h1m-.5 0h1m1.2 0h1m-2.8 .1h1m.1 0h1m.8 0h1m-.8 0h1m-.5 0h1m-5.6 .1h1m2.1 0h1m-.7 0h1m-.7 0h1m-.2 0h1m-.9 0h1m-6.1 .1h1m-.7 0h1m-.9 0h1m2.9 0h1m-6.6 .1h1m.8 0h1m3 0h1m-.5 0h1m-6.8 .1h1m.2 0h1m2.8 0h1m0 0h1m-5.7 .1h1m2.2 0h1m-5.8 .1h1m4 0h1m-.4 0h1m-.2 0h1m-6.7 .1h1m3.2 0h1m-1 0h1m-.1 0h1m-6.8 .1h1m-.2 0h1m-.6 0h1m2.7 0h1m-.4 0h1m-.3 0h1m-.8 0h1m-7.5 .1h1m-.9 0h1m3.7 0h1m-.1 0h1m-.9 0h1m-6.3 .1h1m3.7 0h1m-.4 0h1m-.1 0h1m-7.5 .1h1m4 0h1m-5.6 .1h1m-1.1 .1h1m4.6 0h1m-7.2 .1h1m-.2 0h1m3.3 0h1m.1 0h1m-.7 0h1m-.8 0h1m-2.8 .1h1m0 0h1m-.3 0h1m-7.4 .1h1m-.8 0h1m5.5 0h1m-2.1 .1h1m-.7 0h1m-6.4 .1h1m-1.5 .1h1m3.9 0h1m.2 0h1m-7.2 .1h1m4.9 0h1m-1 0h1m-.9 .1h1m-6.7 .1h1m-.4 0h1m-.7 0h1m2.9 0h1m-1 0h1m-.8 0h1m-6.2 .1h1m-1 0h1m-.7 0h1m-.5 0h1m2.9 0h1m-.6 0h1m-5.2 .1h1m3.1 0h1m0 0h1m-6.3 .1h1m3.7 0h1m-.8 0h1m-.8 0h1m-6.8 .1h1m-.9 0h1m.1 0h1m4.1 0h1m-.9 0h1m-6.2 .1h1m-.9 0h1m2.8 0h1m.6 0h1m-7 .1h1m0 0h1m3 0h1m-6.8 .1h1m-.5 0h1m-.9 0h1m4.7 0h1m-7 .1h1m-.2 0h1m-.6 0h1m1.5 0h1m.2 0h1m-1 0h1m-.8 0h1m-.7 0h1m-.6 0h1m-.9 0h1m-5.1 .1h1m.8 0h1m.3 0h1m-4.3 .1h1m-.5 0h1m-.7 0h1m.3 0h1m-.7 0h1m-.1 0h1m-1 0h1m-.8 0h1m-.8 0h1m-1.4 .1h1m-4.6 .1h1m2.3 0h1m-.6 0h1m-.6 0h1m-5.5 .1h1m-.4 0h1m-.7 0h1m-.3 0h1m.5 0h1m-4 .1h1m-.8 0h1m-.4 0h1m-.9 0h1m2.2 0h1m-4.2 .1h1m2.3 0h1m-.9 0h1m-4.8 .1h1m-.8 0h1m-.6 0h1m1.2 0h1m-.8 0h1m-.7 0h1m-.4 0h1m-1.8 .1h1m-4.9 .1h1m1 0h1m-.1 0h1m.4 0h1m-3.2 .1h1m-.5 0h1m-.7 0h1m-.7 0h1m-.6 0h1m-3.6 .1h1m-1 0h1m-.9 0h1m-.9 0h1m-.5 0h1m-.8 0h1m-.9 0h1m-.2 0h1m-.5 0h1m-.9 0h1m-2.9 .1h1m-.7 0h1m-.5 0h1m0 0h1m-.5 0h1m-3.6 .1h1m-.4 0h1m-1 0h1m-1.7 .1h1m-.6 0h1m-.2 0h1m-.5 0h1m-2.7 .1h1m.2 0h1m-.9 0h1m-.7 0h1m0 0h1m-3 .1h1m.9 0h1m-.8 0h1m-3.1 .1h1m.4 0h1m-1 0h1m-.9 0h1m-1.6 .1h1m-1 0h1m-2.2 .1h1m1.1 0h1"/>
<path stroke="#b4ac30" stroke-width="1" d="M460.3 35h1m-.5 .1h1m-1.3 .1h1m-.9 0h1m-.8 0h1m-1.4 .1h1m-.6 .1h1m-.9 0h1m-.8 0h1m-1.1 .1h1m-1.2 .1h1m-1.7 .1h1m-.9 0h1m-1 .2h1m-.5 0h1m-1.7 .1h1m-.1 0h1m-.8 0h1m-.9 0h1m-1.9 .1h1m-1 0h1m-1.8 .1h1m1.5 0h1m-1.7 .1h1m-1.3 .1h1m-.5 0h1m-.9 0h1m-3.3 .1h1m-.6 0h1m-.9 0h1m-.9 0h1m-.3 0h1m-2.1 .1h1m-.6 0h1m-.6 0h1m-.8 0h1m-2.4 .1h1m0 0h1m-.3 0h1m-.3 0h1m-.8 0h1m-3.4 .1h1m-.8 0h1m-.9 0h1m-.5 0h1m.5 0h1m-2.6 .1h1m-.8 0h1m-2.8 .1h1m1 0h1m.3 0h1m-4.5 .1h1m-1 0h1m-.5 0h1m-.3 0h1m-.7 0h1m-.8 0h1m-.6 0h1m-1 0h1m-.5 0h1m-1 0h1m-.9 0h1m-3.6 .1h1m-.5 0h1m.6 0h1m-1 0h1m-.8 0h1m-1 0h1m-2.4 .1h1m0 0h1m-.8 0h1m-.3 0h1m-.3 0h1m-4.1 .1h1m-.9 0h1m-.5 0h1m-.5 0h1m.6 0h1m-.9 0h1m-.9 0h1m-.9 0h1m-4.1 .1h1m-.5 0h1m-.8 0h1m.3 0h1m-.2 0h1m-4.2 .1h1m-.2 0h1m-.2 0h1m-.2 0h1m-.5 0h1m-.2 0h1m-4.6 .1h1m-.8 0h1m-1 0h1m-1 0h1m-.7 0h1m-.6 0h1m-.6 0h1m-1.6 .1h1m-.5 0h1m-.9 0h1m-.7 0h1m.2 0h1m-3.2 .1h1m-.7 0h1m-.1 0h1m-.7 0h1m-1 0h1m-.8 0h1m-.4 0h1m-.7 0h1m-1.8 .1h1m-.7 0h1m-.9 0h1m-.6 0h1m-2.4 .1h1m-.9 0h1m.4 0h1m-.6 0h1m-3.5 .1h1m1.6 0h1m-3.6 .1h1m.3 0h1m-.4 0h1m-2.9 .1h1m-.8 0h1m1.1 0h1m-.9 0h1m-2.1 .1h1m-.8 0h1m-.9 0h1m-.2 0h1m-3.6 .1h1m-.8 0h1m-.6 0h1m-.5 0h1m-.9 0h1m-2.4 .1h1m-.7 0h1m-1 0h1m-.2 0h1m-.5 0h1m.1 0h1m-3.4 .1h1m-.1 0h1m-.6 0h1m0 0h1m-2 .1h1m-.6 0h1m-1.6 .1h1m-1.4 .1h1m-.8 .1h1m-.6 .1h1m-1.4 .2h1m-.7 0h1m-.9 0h1m-1.1 .1h1m-1.3 .2h1m-.9 0h1m-.3 0h1"/>
</g>
<ellipse cx="75" cy="198.5" rx="8.5" ry="3.5" fill="none" stroke="#cfc4c4" stroke-width="0.5" transform="rotate(0 75 198.5)"/>
<g filter="url(#bl)">
<path stroke="#c2c8ea" stroke-width="1" d="M65.2 160.2h1m13.4 0h1m.7 .1h1m-24.6 4h1m-3.9 3.5h1m2.9 1h1m-13.2 .6h1m10.5 .1h1m-6.6 .3h1m18.9 .1h1m-20.5 .3h1m13.8 .1h1m6.1 2.5h1m-15.8 .2h1m-15.3 .9h1m16.2 .2h1m-18.8 .3h1m9.3 0h1m4.3 1.2h1m13.1 0h1m-32.7 .8h1m19.5 .2h1m-23 .2h1m-9.7 .1h1m30.3 .1h1m-8.5 .1h1m19.6 .2h1m-19 .3h1m-14.9 .2h1m3.4 .2h1m-11 .1h1m-3.8 .4h1m19.2 0h1m-18.8 .5h1m31.2 .1h1m-16.3 .4h1m9.7 .2h1m-36.6 .3h1m31.4 0h1m-30.6 .4h1m15.1 0h1m2.8 0h1m-9.8 .1h1m12.8 .1h1m-12.6 .3h1m9.3 .3h1m-11.1 .4h1m-20.4 .1h1m36.4 .7h1m-6.7 .2h1m-6 .2h1m12.1 0h1m6.5 0h1m-13.3 .1h1m14.2 0h1m7.4 .2h1m-37.1 .4h1m14.3 .2h1m-11.4 .1h1m3.1 0h1m-3.4 .1h1m14.4 .2h1m-15.5 .5h1m4.7 .7h1m-36.7 .3h1m32.8 .6h1m9.6 .6h1m.4 0h1m-22.3 .7h1m23.8 .3h1m-25.3 .5h1m-.5 .2h1m16.8 0h1m7.2 0h1m6.3 .1h1m-18.5 .3h1m-20.7 .4h1m4.9 .2h1m13.8 .2h1m9.1 0h1m-3.2 .2h1m-51.8 .3h1m22.5 0h1m22 .2h1m-5.1 .2h1m-3.1 .3h1m10.9 .4h1m-14.1 .4h1m8.6 .3h1m-48.4 .8h1m48.5 6.8h1"/>
<path stroke="#98a2da" stroke-width="1" d="M36.5 180.3h1m4.9 .2h1m-1.5 .1h1m-6.7 .1h1m-.5 0h1m3.5 .3h1m1.7 .8h1m.9 .7h1m-1.3 .3h1m-1.5 .1h1m-1 .3h1m5.4 .6h1m1.4 .3h1m-2.4 .2h1m0 0h1m-2.1 .8h1m-3.3 .2h1m6.7 .2h1m-8.9 .2h1m.3 0h1m-21.7 .3h1m15.8 0h1m-17.3 .1h1m21.3 .1h1m8 .1h1m-6.1 .3h1m-7.5 .2h1m4.4 0h1m-.3 0h1m-9.5 .2h1m6.1 .2h1m-8.9 .3h1m18.1 0h1m-5.7 .1h1m-4.4 .1h1m.7 .4h1m5.4 0h1m-11.2 .3h1m2.4 .2h1m-2.1 .2h1m3.7 0h1m3.5 .1h1m-1.8 .1h1m-10.3 .4h1m3.9 .5h1m-15.1 .3h1m9.6 .1h1m.5 0h1m.7 .1h1m-32.8 .1h1m17.1 .2h1m19.4 .5h1m-15.7 .1h1m1.8 .1h1m2 .1h1m-7.2 .1h1m5 0h1m1.6 0h1m-12 .1h1m15.4 0h1m-13 .3h1m1.8 0h1m4.1 .1h1m-12.6 .1h1m5.7 0h1m-29.2 .4h1m18.1 0h1m2.7 .1h1m3.1 0h1m-.9 .1h1m4.4 .1h1m-7.6 .1h1m-6.1 .2h1m8.2 0h1m4.7 .1h1m3.3 0h1m-10.9 .1h1m6.5 .2h1m1 .1h1m-6.8 .1h1m4.3 0h1m-38.8 .1h1m36.3 .1h1m-12.1 .1h1m13.1 0h1m-20.6 .1h1m13.7 .2h1m-.6 0h1m4.1 .1h1m-44.7 .2h1m42.2 .3h1m-18.5 .2h1m18.3 .1h1m-46.8 1.9h1m-.6 .7h1m48 .8h1"/>
<path stroke="#6070c0" stroke-width="1" d="M38.3 180.4h1m-.4 .1h1m-1 0h1m-1 1.3h1m.1 .2h1m-.3 0h1m1.8 .2h1m-1.6 .1h1m-2.9 .1h1m.5 .1h1m-7.2 .1h1m-.9 .1h1m6.4 0h1m-.4 0h1m-10.3 .1h1m5.6 .1h1m-7.1 .2h1m7.1 .3h1m-.9 .2h1m-11.1 .3h1m0 .1h1m-3.3 .2h1m.2 0h1m9.5 .1h1m-11.6 .1h1m-2 .1h1m-.7 0h1m10.5 .4h1m.3 .5h1m-1.4 .1h1m-.6 .5h1m-1.2 .3h1m-15.5 .2h1m0 .3h1m-.7 0h1m-.6 .1h1m-3.1 .3h1m15 0h1m-.7 .2h1m-16.3 .1h1m-1.9 .2h1m-.9 .2h1m-.5 .4h1m28.9 .1h1m-1 .1h1m-.1 0h1m-33 .1h1m1 0h1m-.1 .1h1m28.5 0h1m-17 .2h1m13.8 .1h1m-31.3 .1h1m14.5 0h1m-.5 0h1m13.8 .1h1m-30.3 .3h1m-.6 .1h1m12.9 0h1m-17.6 .1h1m15.3 0h1m-1 .2h1m-16.2 .1h1m-.6 .4h1m-1.3 .1h1m.2 0h1m13.3 .3h1m-14.8 1h1m12.2 0h1m-14.2 .3h1m13 0h1m-15.5 .1h1m15.4 0h1m-1.7 .1h1m-15.9 .3h1m11.1 .1h1m-.9 .1h1m3.1 .5h1m-3.9 .1h1m.9 .3h1m-1.1 .1h1m-1.7 .1h1m-2.7 .1h1m9.3 .3h1m7.8 0h1m-20.8 .1h1m4.5 0h1m10.3 0h1m6.7 .1h1m-14.2 .1h1m4.9 0h1m-.7 0h1m-33 .1h1m1.2 .1h1m15.6 .2h1m6.5 .1h1m-10.6 .1h1m0 0h1m6.3 0h1m2.4 .1h1m12.7 0h1m-25.5 .3h1m6.2 0h1m15.9 0h1m-44.5 .2h1m21.4 0h1m-.3 0h1m14.6 0h1m-39.6 .1h1m.1 0h1m18.6 0h1m14.1 0h1m5.4 0h1m-3.2 .1h1m-39.3 .1h1m27.1 0h1m-6.5 .1h1m16.8 0h1m-42.3 .1h1m42.3 .7h1m-.9 .1h1m-45.3 .1h1m44.6 .1h1m-1.3 .6h1m.4 .1h1m-1 1.1h1m-1.5 .2h1m-.8 0h1m-.4 .2h1m-.6 .3h1m-49.5 .1h1m46.3 1.9h1"/>
<path stroke="#3848a8" stroke-width="1" d="M40.8 182.3h1m-3.4 .1h1m-.1 0h1m-1.5 .1h1m.2 .4h1m-3 .2h1m-.4 0h1m-2.2 .1h1m-.6 .1h1m1.4 .3h1m-3.8 .1h1m-1 .3h1m3.1 .2h1m-8.1 .1h1m-.2 0h1m-.5 0h1m-.9 .1h1m-2.4 .3h1m6.6 0h1m-.8 0h1m.1 0h1m-10.2 .1h1m.7 0h1m4.4 .2h1m-9.1 .2h1m-1 .1h1m-.7 .1h1m8.5 .1h1m-1.2 .2h1m-.6 0h1m-.3 .1h1m-2.7 .3h1m.6 0h1m.2 0h1m-2.5 .1h1m-.3 0h1m-11.3 .4h1m8.8 0h1m-.4 .2h1m-1.4 .1h1m-.7 .4h1m-1.1 .1h1m.2 0h1m-2.3 .3h1m.3 0h1m-1.3 .2h1m-2.7 .1h1m-.4 .1h1m-1 .3h1m.2 .3h1m-2.3 .2h1m-.2 0h1m-.6 0h1m-12.7 .2h1m-.9 .1h1m10.2 .2h1m-11.2 .2h1m9.1 0h1m-10.8 .1h1m-1.1 .2h1m9.6 .1h1m-11.4 .2h1m8.4 .1h1m-.5 0h1m-.6 0h1m-12.5 .6h1m-.8 0h1m-1.6 .3h1m-.8 0h1m10 0h1m-11.6 .1h1m7.7 0h1m.7 0h1m-12 .1h1m9.8 .3h1m-1.6 .1h1m0 0h1m-.7 0h1m-.1 0h1m-.5 0h1m-12.2 .2h1m-.4 0h1m6 0h1m-9.8 .1h1m10.6 0h1m-.6 .1h1m-12.1 .2h1m6.8 0h1m.3 0h1m-1.1 .1h1m-.2 .1h1m-10.7 .5h1m6.9 0h1m-8.8 .1h1m6.9 0h1m-8.4 .1h1m-.7 0h1m6.6 0h1m-7.5 .1h1m-2.8 .1h1m6.6 0h1m-.6 0h1m-2 .1h1m-.9 0h1m1.3 0h1m-2.7 .1h1m-7.7 .1h1m6.8 0h1m-10.3 .1h1m-.3 .1h1m7.8 .2h1m-8.4 .1h1m6.5 0h1m-.7 .3h1m-9.1 .1h1m-1.4 .1h1m.8 0h1m6.4 0h1m-2.7 .1h1m-9.4 .1h1m5.8 0h1m-5.6 .1h1m-5.1 .1h1m3.1 0h1m-4.3 .1h1m10.4 0h1m17.9 0h1m-.8 0h1m-30.1 .1h1m-.7 0h1m7.2 0h1m-1.6 .1h1m-.8 0h1m12.6 0h1m-12.6 .1h1m1.8 0h1m-17.4 .1h1m2.5 0h1m7.5 0h1m1.4 0h1m9.6 0h1m4.2 0h1m-.3 0h1m-1 0h1m.5 0h1m-2.3 .2h1m.3 0h1m-.8 0h1m-33.7 .1h1m-.5 0h1m-.2 0h1m.3 0h1m6.3 0h1m3.1 0h1m1.3 0h1m14.1 0h1m-32.1 .1h1m3.4 0h1m6.5 0h1m19.3 0h1m-30.8 .1h1m9.7 0h1m3.4 0h1m-16.6 .1h1m7.6 0h1m6.4 0h1m.8 0h1m2.2 0h1m.1 0h1m13.1 0h1m-20.8 .1h1m3.9 0h1m4 0h1m4.3 0h1m.3 0h1m1.8 0h1m.3 0h1m-40.3 .1h1m25.8 0h1m1.1 0h1m9.5 0h1m1.2 0h1m-43.5 .1h1m.1 0h1m2.2 0h1m14.6 0h1m.1 0h1m.1 0h1m2.2 0h1m1.9 0h1m1.4 0h1m2.3 0h1m4.1 0h1m1.9 0h1m-32.1 .1h1m10.1 0h1m-.7 0h1m4.3 0h1m5.3 0h1m3.6 0h1m.1 0h1m-39.6 .1h1m1.3 0h1m16.6 0h1m3.6 0h1m2 0h1m-.6 0h1m-.6 0h1m1.2 0h1m4.4 0h1m-37.5 .1h1m20.8 0h1m-.8 0h1m4.2 0h1m10.5 0h1m-27.8 .1h1m3.7 0h1m-.9 0h1m-.3 0h1m2.2 0h1m1.4 0h1m.4 0h1m1.1 0h1m-.2 0h1m2 0h1m1.9 0h1m3.1 0h1m-.9 0h1m-35.1 .1h1m15.7 0h1m8.2 0h1m-.2 0h1m3.8 0h1m.3 0h1m-25.6 .1h1m13.2 0h1m4.7 0h1m9.3 0h1m-18.9 .1h1m-.8 .4h1m17.6 0h1m-.5 0h1m-2.8 .1h1m-42.2 .2h1m40.2 .1h1m-.2 0h1m-5.7 .1h1m-40.1 .1h1m-.3 .2h1m43.3 .2h1m-.3 .1h1m-46.7 1.2h1m-.4 .4h1m-.9 .5h1m45.1 0h1"/>
<path stroke="#2c3c9c" stroke-width="1" d="M38.4 183.3h1m-.4 0h1m-.7 .1h1m-1.3 .1h1m-.5 .1h1m-2.4 .1h1m.6 0h1m-1.7 .1h1m-.2 .2h1m-2.1 .1h1m-1.5 .1h1m-.8 0h1m-.8 0h1m0 0h1m.2 .1h1m-.9 0h1m-1 .1h1m-5.2 .1h1m-1.4 .1h1m.9 0h1m-1.3 .1h1m1.2 0h1m-4.3 .1h1m2.9 0h1m-2.2 .1h1m-3.7 .3h1m2.2 0h1m-4.8 .1h1m.2 0h1m.3 0h1m1 0h1m-5.1 .1h1m-1.1 .1h1m.2 0h1m.6 0h1m1.7 0h1m-4.7 .1h1m-.2 0h1m1.4 0h1m-5.9 .1h1m1.4 0h1m1.5 0h1m-5.3 .1h1m2.2 0h1m-2.6 .1h1m.7 0h1m-5.2 .1h1m4.7 0h1m-7.9 .1h1m3.4 0h1m-5.6 .1h1m.2 0h1m.6 0h1m2.4 0h1m-.4 0h1m-8.2 .1h1m-.1 0h1m-.5 0h1m.4 0h1m-.1 0h1m-.3 0h1m3 0h1m-8 .1h1m-2.4 .1h1m3.9 0h1m-6.1 .1h1m2.3 0h1m-.4 0h1m-.9 0h1m3.6 0h1m-9.4 .1h1m-.1 0h1m.6 0h1m-3.8 .1h1m4.4 0h1m.1 0h1m-.7 0h1m-1.9 .1h1m-6.5 .1h1m1.3 0h1m1.6 0h1m.3 0h1m-7.4 .1h1m1.3 0h1m-.7 0h1m0 0h1m-.7 0h1m-.7 0h1m-.5 0h1m.1 0h1m1.4 0h1m-7.4 .1h1m-1.9 .1h1m-.3 0h1m-.3 0h1m.9 0h1m.6 0h1m-4 .1h1m-1 0h1m3.4 0h1m-7.4 .1h1m.2 0h1m-.8 0h1m1.7 0h1m-.8 0h1m-.7 0h1m-.8 0h1m-6.9 .1h1m-.3 0h1m.8 0h1m.1 0h1m.1 0h1m.3 0h1m-1.9 .1h1m1.3 0h1m-7.9 .1h1m.4 0h1m.4 0h1m-3 .1h1m.6 0h1m.9 0h1m.8 0h1m-.2 0h1m-7.1 .1h1m-.6 0h1m-.7 0h1m.4 0h1m-.5 0h1m0 0h1m-.9 0h1m2.8 0h1m-3.3 .1h1m-7.1 .1h1m2.2 0h1m2.5 0h1m-1 0h1m-7.8 .1h1m1.2 0h1m1.6 0h1m.7 0h1m-7 .1h1m1.1 0h1m.1 0h1m-1 0h1m-3.5 .1h1m.4 0h1m-.5 .1h1m1.2 0h1m-.4 0h1m-.9 .1h1m-.4 0h1m0 0h1m-5 .1h1m1 0h1m1.6 0h1m-7.6 .1h1m2.1 .1h1m-.9 0h1m-.6 0h1m-.9 0h1m-.7 0h1m1.3 0h1m-7.7 .1h1m.6 0h1m0 0h1m0 0h1m-5 .1h1m0 .1h1m-.7 0h1m0 0h1m3.9 0h1m-4.6 .1h1m2.6 0h1m-.6 0h1m-.3 0h1m-9.5 .1h1m0 0h1m.9 0h1m-.1 0h1m-.7 0h1m3.2 0h1m-8.8 .1h1m.3 0h1m-.8 0h1m-.3 0h1m5 0h1m-8.1 .1h1m2.5 0h1m1.4 0h1m-.1 0h1m-7.3 .1h1m.9 0h1m-.5 0h1m-1 0h1m-4.6 .1h1m2.3 0h1m-2 .1h1m3 0h1m-.9 0h1m-5.1 .1h1m3.5 0h1m-5.4 .1h1m.2 0h1m-.3 0h1m-4 .1h1m-.6 0h1m2.2 0h1m-3.1 .1h1m.3 0h1m-.2 0h1m.4 0h1m.8 0h1m-9.5 .1h1m-.5 0h1m0 0h1m-.2 0h1m4 0h1m.2 .1h1m-9.8 .1h1m.1 0h1m-.5 0h1m2.4 0h1m-1 0h1m-5.2 .1h1m1.1 .1h1m.1 0h1m2.5 0h1m-7.2 .1h1m.3 0h1m0 0h1m0 0h1m-2.5 .1h1m4.3 0h1m-2.7 .1h1m.2 0h1m-3.2 .1h1m-1.7 .1h1m-.5 0h1m-4.6 .1h1m.3 0h1m0 0h1m-3.5 .1h1m-.2 0h1m.2 0h1m-.8 0h1m1.3 0h1m-.9 0h1m-3.1 .1h1m-2.4 .1h1m1.2 0h1m-1.8 .1h1m.5 0h1m-5.3 .1h1m-.8 0h1m-.9 .1h1m-1.9 .1h1m.5 0h1m1.9 .1h1m-1 0h1m-2.9 .1h1m-.1 0h1m-.8 0h1m-3.4 .1h1m-.5 0h1m.6 0h1m-1.5 .1h1m-.7 .1h1m-.8 0h1m-3.9 .1h1m-.8 0h1m-.3 .1h1m.8 0h1m-3 .1h1m2.8 0h1m-5.6 .1h1m0 0h1m.6 0h1m-1.1 .2h1m-.1 .3h1m-1 .3h1m-.8 0h1m-3.2 .1h1m0 0h1m-1 0h1m-.6 0h1m-.9 0h1m-.9 0h1m.1 0h1m-.4 0h1m-4.8 .1h1m2.7 0h1m-2.4 .1h1m-.6 0h1m-1 .1h1m-1 0h1m-.4 0h1m-3.4 .3h1m.8 .1h1m-1 0h1m-2 .1h1m.9 0h1m-3.2 .2h1m-.9 .1h1m-1.6 .2h1m-.5 0h1m.3 0h1m-.8 .3h1m-2.8 .3h1m-.3 .1h1m-2.4 .1h1m1.4 .1h1m0 0h1m-9.7 .1h1m2 0h1m.6 0h1m.3 0h1m1.6 0h1m1.6 0h1m-.1 0h1m-8.9 .1h1m-.9 0h1m.5 0h1m-.5 0h1m4.4 0h1m-.3 0h1m.5 0h1m-.5 0h1m-9.5 .1h1m.7 0h1m-.8 0h1m3.6 0h1m-6 .2h1m4 0h1m.9 0h1m-11.7 .1h1m1.6 0h1m5.7 0h1m16.9 0h1m-27.5 .1h1m2.1 0h1m22.7 0h1m-18.4 .1h1m16.9 0h1m-24.5 .1h1m-.4 0h1m-7.5 .1h1m.2 0h1m2.6 0h1m.5 0h1m1 0h1m1.2 0h1m9.4 0h1m-22.6 .1h1m.7 0h1m7.5 0h1m-.3 0h1m-.9 0h1m-.9 0h1m3.5 0h1m1.6 0h1m-.2 0h1m-.3 0h1m1.6 0h1m.6 0h1m-.1 0h1m-.8 0h1m.9 0h1m.4 0h1m0 0h1m5.5 0h1m.6 0h1m-34.2 .1h1m.7 0h1m3.3 0h1m1 0h1m1.2 0h1m1.9 0h1m4.3 0h1m-.8 0h1m.2 0h1m-.5 0h1m-.8 0h1m1.9 0h1m-.5 0h1m-.1 0h1m1 0h1m.6 0h1m-.1 0h1m-.7 0h1m-.7 0h1m1.5 0h1m-39.5 .1h1m1.3 0h1m1.6 0h1m.8 0h1m-1 0h1m-.8 0h1m-.6 0h1m3.7 0h1m.2 0h1m10.7 0h1m-.2 0h1m1.6 0h1m5.7 0h1m2.7 0h1m-.7 0h1m-40.4 .1h1m-.8 0h1m-.1 0h1m-.1 0h1m1.8 0h1m1.3 0h1m2.1 0h1m2.8 0h1m-.5 0h1m-.7 0h1m-.6 0h1m4.3 0h1m-.5 0h1m4.2 0h1m5.8 0h1m4.2 0h1m-39.3 .1h1m4.9 0h1m-.5 0h1m-.8 0h1m-.1 0h1m-.4 0h1m1.9 0h1m3.1 0h1m2 0h1m1.7 0h1m3.4 0h1m-.7 0h1m-.6 0h1m2.8 0h1m3.1 0h1m4.4 0h1m-36.8 .1h1m1.5 0h1m-.8 0h1m-.3 0h1m1.1 0h1m2 0h1m.9 0h1m.7 0h1m5 0h1m-.9 0h1m-.4 0h1m9.2 0h1m1.7 0h1m-36.2 .1h1m.7 0h1m-.6 0h1m2.9 0h1m-.4 0h1m.2 0h1m-.7 0h1m-.7 0h1m-.3 0h1m-.7 0h1m3.5 0h1m.2 0h1m2.7 0h1m8.5 0h1m3.2 0h1m1.3 0h1m2.4 0h1m-26.1 .1h1m-.1 0h1m-.8 0h1m-.6 0h1m8.5 0h1m-.7 0h1m1.7 0h1m1.9 0h1m-.8 0h1m-.5 0h1m.3 0h1m-31.8 .1h1m-1 0h1m-.9 0h1m-.8 0h1m.3 0h1m2 0h1m.1 0h1m1.8 0h1m.6 0h1m-.9 0h1m-.1 0h1m3.8 0h1m-.9 0h1m.3 0h1m3.1 0h1m5.1 0h1m-.5 0h1m2.4 0h1m1.7 0h1m4.5 0h1m-35.3 .1h1m-.7 0h1m2.4 0h1m-.1 0h1m1.7 0h1m2.5 0h1m0 0h1m.4 0h1m1.5 0h1m1.6 0h1m4.7 0h1m-.4 0h1m.7 0h1m.1 0h1m3.3 0h1m1.6 0h1m-.9 0h1m-40.7 .1h1m-.1 0h1m1.5 0h1m4 0h1m2.3 0h1m.4 0h1m.7 0h1m5 0h1m2.3 0h1m5.6 0h1m-.1 0h1m-31.8 .1h1m-.1 0h1m-.5 0h1m-.7 0h1m.2 0h1m-.9 0h1m2.3 0h1m-.7 0h1m7.7 0h1m.2 0h1m-.3 0h1m.2 0h1m-.6 0h1m3.5 0h1m-.4 0h1m2.2 0h1m1.4 0h1m8.9 0h1m-41 .1h1m1 0h1m.2 0h1m1.5 0h1m.1 0h1m-.4 0h1m-.9 0h1m3.9 0h1m-.4 0h1m4 0h1m-.7 0h1m6.8 0h1m7.7 0h1m.6 0h1m.6 0h1m-40.4 .1h1m7 0h1m2.4 0h1m3.4 0h1m.2 0h1m.9 0h1m1.5 0h1m3.6 0h1m.7 0h1m1.9 0h1m.4 0h1m-.6 0h1m3 0h1m-.1 0h1m-38.1 .1h1m2.7 0h1m2.3 0h1m1.5 0h1m1.4 0h1m3.8 0h1m10.2 0h1m.9 0h1m.8 0h1m2.3 0h1m-.8 0h1m3.5 0h1m-.8 0h1m-39.6 .1h1m-.7 0h1m0 0h1m1.3 0h1m-.9 0h1m7.3 0h1m-.7 0h1m1 0h1m-.3 0h1m2.7 0h1m.8 0h1m5.2 0h1m4.8 0h1m.1 0h1m-.4 0h1m-1 0h1m3.5 0h1m-.2 0h1m.2 0h1m-41 .1h1m-.2 0h1m-.8 0h1m-.2 0h1m.3 0h1m6.7 0h1m1.3 0h1m2.5 0h1m5.2 0h1m-.6 0h1m3.6 0h1m7.6 0h1m1.7 0h1m-41.1 .1h1m.2 0h1m3.6 0h1m7.6 0h1m-.5 0h1m3.8 0h1m2 0h1m1.5 0h1m-.4 0h1m5.2 0h1m-.5 0h1m-1 0h1m.1 0h1m-.7 0h1m-.3 0h1m-37.9 .1h1m-.9 0h1m-.2 0h1m-.4 0h1m-.9 0h1m.3 0h1m1.8 0h1m1.7 0h1m1 0h1m-.6 0h1m.7 0h1m1.3 0h1m.3 0h1m-.4 0h1m-.2 0h1m-.6 0h1m-.7 0h1m4.1 0h1m.4 0h1m3.9 0h1m-.4 0h1m6.3 0h1m5.3 0h1m-44.5 .1h1m-.9 0h1m-.9 0h1m5.4 0h1m6 0h1m2.2 0h1m22 0h1m.1 0h1m-.5 0h1m.9 0h1m-33.5 .1h1m.9 0h1m-.1 0h1m23.7 0h1m5.2 0h1m-23.6 .1h1m.8 0h1m-.9 0h1m4.9 0h1m-.8 0h1m7.1 0h1m4.1 0h1m-32.4 .1h1m-.2 0h1m6.3 0h1m10.6 0h1m-30.9 .1h1m10.2 0h1m-.9 0h1m6 0h1m-20.6 .1h1m21.9 0h1m-2.3 .1h1m.5 0h1m-.3 0h1m-.7 0h1m6.2 0h1m-19.2 .1h1m-12.8 .1h1m18.1 0h1m7.5 0h1m-29.8 .1h1m37.2 0h1m-38.9 .3h1m42.3 .2h1m-1 .1h1m-45 .3h1m-.4 0h1m42.7 0h1m-44.8 .1h1m41.3 .2h1m-43.1 .1h1m41.4 .1h1m-.6 0h1m-43.8 .1h1m-1 0h1m41.1 0h1m-.9 0h1m-.9 .1h1m-.1 0h1m-.9 0h1m-44.5 .1h1m41.6 0h1m-.4 0h1m-1.3 .1h1m-.7 0h1m-30.8 .3h1m11.4 0h1m.9 0h1m1.2 0h1m-.8 0h1m.3 0h1m-10.8 .1h1m4.4 0h1m.9 0h1m4.8 0h1"/>
<path stroke="#3a70b8" stroke-width="1" d="M37.3 198.2h1m-1.3 .2h1m-.4 .1h1m-1.4 .1h1m-.8 0h1m-.9 0h1m-1.3 .1h1m-.5 .2h1m-1.5 .1h1m-2.8 .2h1m1 0h1m-.7 0h1m5.6 0h1m12.2 0h1m3.9 0h1m.4 0h1m3 0h1m.7 0h1m-36.4 .1h1m5.2 0h1m3.1 0h1m1 0h1m1.3 0h1m8.7 0h1m4.7 0h1m6.5 0h1m-40.5 .1h1m-.2 0h1m-.1 0h1m12.3 0h1m8.1 0h1m5.1 0h1m6 0h1m-37.3 .1h1m1.9 0h1m3.3 0h1m3.5 0h1m.5 0h1m8.4 0h1m-.8 0h1m-.6 0h1m9.6 0h1m-35.6 .1h1m.8 0h1m-.2 0h1m3.2 0h1m-.3 0h1m0 0h1m24.4 0h1m.2 0h1m-32.9 .1h1m20.9 0h1m6.3 0h1m5.5 0h1m-.8 0h1m-37.4 .1h1m-.9 0h1m10.4 0h1m.2 0h1m15.7 0h1m-32 .1h1m3.2 0h1m10.7 0h1m6.5 0h1m.7 0h1m4 0h1m1.7 0h1m3.4 0h1m-37.8 .1h1m5.3 0h1m6 0h1m8.2 0h1m.8 0h1m-.6 0h1m5.7 0h1m3.1 0h1m-1 0h1m-30.1 .1h1m2.9 0h1m2.8 0h1m.7 0h1m13.3 0h1m-1 0h1m5.2 0h1m-.3 0h1m-33.9 .1h1m18.1 0h1m-.2 0h1m6.6 0h1m1.4 0h1m-25.4 .1h1m-12.9 .1h1m40.7 0h1m-.4 0h1m-32.4 .1h1m-11.4 .1h1m40.3 0h1m-32.7 .1h1m-.9 0h1m-.3 0h1m-.9 0h1m.6 0h1m-13.3 .1h1m11.3 0h1m28.5 0h1m-42.8 .1h1m-.9 0h1m9.5 0h1m30.6 0h1m-43.7 .1h1m-.6 0h1m-.8 0h1m-1 0h1m8.6 0h1m-1 0h1m.2 0h1m-.5 0h1m-.3 0h1m-.9 0h1m28.4 0h1m-.9 0h1m-.9 0h1m-1 0h1m-43.3 .1h1m-.8 0h1m-.9 0h1m9.6 0h1m-.7 0h1m-.3 0h1m-.5 0h1m28.4 0h1m-.8 0h1m-.7 0h1m-.5 0h1m-43.8 .1h1m-.8 0h1m-.8 0h1m8.6 0h1m-1 0h1m-.8 0h1m.4 0h1m-1 0h1m-.9 0h1m-.8 0h1m.5 0h1m-1 0h1m-14.6 .1h1m-.6 0h1m8.7 0h1m1.2 0h1m-.6 0h1m-.5 0h1m-.7 0h1m-1 0h1m-.8 0h1m-14.5 .1h1m-.9 0h1m-.4 0h1m-.9 0h1m8.6 0h1m-.8 0h1m-.9 0h1m0 0h1m-.1 0h1m-.9 0h1m-.7 0h1m-.5 0h1m-.9 0h1m-14.4 .1h1m-1 0h1m-.9 0h1m-.7 0h1m8.3 0h1m-.8 0h1m-.9 0h1m-.3 0h1m-.7 0h1m-.7 0h1m-.9 0h1m-.8 0h1m0 0h1m-.5 0h1m-14.4 .1h1m9.4 0h1m-1 0h1m.5 0h1m-.5 0h1m-.7 0h1m-.4 0h1m-.4 0h1m-4.6 .1h1m1 0h1m-3.3 .1h1m-.8 0h1m0 0h1m-.1 0h1m-.4 0h1m.2 0h1m-14.4 .1h1m-.9 0h1m11.9 0h1m-3 .1h1m-.8 0h1m-2 .1h1m-11.1 .1h1m11.7 0h1"/>
<path stroke="#58a860" stroke-width="1" d="M36.2 199.3h1m-.9 .4h1m-.9 .1h1m-1 0h1m-.8 0h1m-.6 .1h1m-1.3 .2h1m-5.4 .1h1m15.9 0h1m5.8 0h1m-8.6 .1h1m4.2 0h1m.4 0h1m1.9 0h1m1.7 0h1m2.1 0h1m4.5 0h1m2.3 0h1m-26.4 .1h1m-.6 0h1m3.9 0h1m1.4 0h1m.3 0h1m-17 .1h1m6.1 0h1m5.3 0h1m1.4 0h1m1.3 0h1m-26.5 .1h1m5.9 0h1m-.1 0h1m-.7 0h1m5.3 0h1m1 0h1m.9 0h1m0 0h1m2 0h1m1.1 0h1m3.8 0h1m.8 0h1m3.7 0h1m-36.7 .1h1m5.2 0h1m-.9 0h1m-.8 0h1m-.1 0h1m-.8 0h1m-.9 0h1m4.1 0h1m-.6 0h1m1.1 0h1m-.6 0h1m-.3 0h1m-.4 0h1m-.3 0h1m.7 0h1m-.2 0h1m2.7 0h1m-.3 0h1m.7 0h1m-.9 0h1m-.8 0h1m1.2 0h1m.6 0h1m-.1 0h1m0 0h1m2.2 0h1m-.9 0h1m-.3 0h1m-.3 0h1m1.5 0h1m-40.7 .1h1m6 0h1m-.9 0h1m-.4 0h1m4.7 0h1m.2 0h1m-.4 0h1m-1 0h1m0 0h1m2.4 0h1m-.2 0h1m-.1 0h1m-1 0h1m1.1 0h1m-.2 0h1m-.5 0h1m.6 0h1m-.8 0h1m-.2 0h1m.4 0h1m-.6 0h1m-.8 0h1m.7 0h1m.5 0h1m3.4 0h1m-.9 0h1m-.6 0h1m1.1 0h1m-.8 0h1m-.9 0h1m-.9 0h1m-41.4 .1h1m-.1 0h1m4.3 0h1m.6 0h1m3.5 0h1m.2 0h1m-.7 0h1m-.9 0h1m-1 0h1m-.9 0h1m1 0h1m-.8 0h1m-.2 0h1m-.2 0h1m-.9 0h1m-1 0h1m.9 0h1m-.4 0h1m-.1 0h1m-.1 0h1m.4 0h1m-.8 0h1m-.6 0h1m-1 0h1m-.8 0h1m-.7 0h1m-.1 0h1m-.9 0h1m-.4 0h1m-1 0h1m-.1 0h1m-1 0h1m0 0h1m-.7 0h1m-.5 0h1m0 0h1m0 0h1m.9 0h1m2.6 0h1m-.6 0h1m-.6 0h1m-.9 0h1m-.8 0h1m-37.9 .1h1m4.4 0h1m.2 0h1m-.5 0h1m0 0h1m-.8 0h1m2.9 0h1m0 0h1m2.7 0h1m-1 0h1m-.6 0h1m-.6 0h1m.3 0h1m-.7 0h1m-1 0h1m-.8 0h1m-.7 0h1m0 0h1m-.9 0h1m-.8 0h1m-1 0h1m-.6 0h1m-.7 0h1m-.5 0h1m-.3 0h1m-.8 0h1m0 0h1m-.1 0h1m.2 0h1m-.8 0h1m-.7 0h1m-.8 0h1m-.6 0h1m-.7 0h1m.4 0h1m.6 0h1m-.2 0h1m-.4 0h1m-.9 0h1m2.6 0h1m-.8 0h1m-.8 0h1m2.4 0h1m-41 .1h1m-.5 0h1m-.8 0h1m4.9 0h1m-.9 0h1m-.7 0h1m-.8 0h1m-.1 0h1m3.3 0h1m-1 0h1m-.4 0h1m-.6 0h1m.5 0h1m-.5 0h1m-.9 0h1m-.7 0h1m-.6 0h1m-.8 0h1m-.5 0h1m-.2 0h1m-1 0h1m-1 0h1m-.6 0h1m-1 0h1m-.8 0h1m-.7 0h1m-.6 0h1m-1 0h1m-.3 0h1m-.2 0h1m-.1 0h1m-.4 0h1m-.7 0h1m-.2 0h1m-.5 0h1m0 0h1m-.7 0h1m-.4 0h1m-.9 0h1m-.7 0h1m-1 0h1m-.6 0h1m-.8 0h1m-.9 0h1m-.9 0h1m-.7 0h1m-.7 0h1m-.7 0h1m.1 0h1m-.6 0h1m.7 0h1m-.3 0h1m-.7 0h1m-.9 0h1m-.8 0h1m-.4 0h1m2.7 0h1m-.3 0h1m2 0h1m-.7 0h1m-1 0h1m-.9 0h1m-40.4 .1h1m-.6 0h1m-.9 0h1m.1 0h1m2 0h1m-1 0h1m0 0h1m-.8 0h1m0 0h1m-.7 0h1m-.7 0h1m-.9 0h1m2.9 0h1m-.7 0h1m-.3 0h1m-.9 0h1m-.5 0h1m-.7 0h1m-.7 0h1m-.7 0h1m-1 0h1m-.9 0h1m-.6 0h1m-.7 0h1m-.2 0h1m-1 0h1m-.5 0h1m-.9 0h1m-.3 0h1m-.7 0h1m-.8 0h1m-.3 0h1m-1 0h1m-.4 0h1m1 0h1m-1 0h1m-.2 0h1m-.5 0h1m-.9 0h1m-.6 0h1m-.6 0h1m-.9 0h1m-.6 0h1m-.7 0h1m-1 0h1m-.8 0h1m-.5 0h1m-.7 0h1m-.9 0h1m-.9 0h1m-.4 0h1m-.9 0h1m.2 0h1m-1 0h1m-.3 0h1m-.8 0h1m-.8 0h1m-1 0h1m-1 0h1m1.1 0h1m-.7 0h1m-.7 0h1m-.7 0h1m.6 0h1m.3 0h1m-.8 0h1m-.4 0h1m0 0h1m.6 0h1m-.8 0h1m-.8 0h1m.9 0h1m-.9 0h1m-41.7 .1h1m-.9 0h1m-.8 0h1m-.8 0h1m-.8 0h1m0 0h1m-.5 0h1m-.8 0h1m-.9 0h1m-.8 0h1m1.2 0h1m-.8 0h1m-.8 0h1m-.5 0h1m-.6 0h1m-.6 0h1m-.9 0h1m-.8 0h1m-.9 0h1m-.2 0h1m-.7 0h1m-.7 0h1m-.8 0h1m3.9 0h1m-.6 0h1m-.9 0h1m-.3 0h1m-.5 0h1m-.8 0h1m-.9 0h1m0 0h1m-1 0h1m-.6 0h1m-.8 0h1m-.4 0h1m-.9 0h1m.2 0h1m-.6 0h1m-.7 0h1m-.7 0h1m-1 0h1m-.7 0h1m-.8 0h1m-1 0h1m-.9 0h1m-.7 0h1m-.9 0h1m-1 0h1m-.9 0h1m0 0h1m-.5 0h1m-.8 0h1m-.7 0h1m.5 0h1m-1 0h1m-.9 0h1m-.7 0h1m-.8 0h1m-.8 0h1m-.9 0h1m-.9 0h1m.3 0h1m-.8 0h1m-.8 0h1m-.9 0h1m-1 0h1m-.5 0h1m-.1 0h1m-.8 0h1m-.7 0h1m-.8 0h1m-1 0h1m-.9 0h1m-1 0h1m-.9 0h1m.1 0h1m-.6 0h1m-.6 0h1m-1 0h1m-1 0h1m-.9 0h1m-.6 0h1m-.7 0h1m-1 0h1m-.3 0h1m-.4 0h1m.3 0h1m-1 0h1m-1 0h1m-1 0h1m-.4 0h1m-.8 0h1m-.5 0h1m-.8 0h1m-.5 0h1m-1 0h1m-.9 0h1m-1 0h1m-.5 0h1m-.7 0h1m-.8 0h1m-1 0h1m-.4 0h1m-.6 0h1m-.8 0h1m.1 0h1m-41.5 .1h1m-.5 0h1m-.6 0h1m-.7 0h1m-.3 0h1m-.6 0h1m2.3 0h1m-.7 0h1m-.8 0h1m-.3 0h1m-.7 0h1m-.8 0h1m-.7 0h1m-.7 0h1m-.5 0h1m-1 0h1m3.6 0h1m-.7 0h1m-1 0h1m-.8 0h1m-1 0h1m-.1 0h1m-1 0h1m0 0h1m-.3 0h1m-.2 0h1m-.4 0h1m-.9 0h1m-.5 0h1m-.7 0h1m-.6 0h1m-.7 0h1m-.9 0h1m-.3 0h1m-.7 0h1m-.8 0h1m-.5 0h1m-1 0h1m-.3 0h1m-.4 0h1m-.8 0h1m-.7 0h1m1.6 0h1m-.6 0h1m-.4 0h1m-.8 0h1m-.9 0h1m-.9 0h1m-.6 0h1m-.6 0h1m.4 0h1m-.2 0h1m.9 0h1m0 0h1m-.9 0h1m-.5 0h1m-.6 0h1m-.8 0h1m.9 0h1m-.8 0h1m-.8 0h1m-.2 0h1m-.6 0h1m-.4 0h1m-.5 0h1m-.7 0h1m.1 0h1m-.9 0h1m-.6 0h1m-.9 0h1m-41.2 .1h1m-1 0h1m-.4 0h1m-.5 0h1m-.5 0h1m2.3 0h1m-.8 0h1m.2 0h1m-.9 0h1m.3 0h1m-.7 0h1m-.5 0h1m-.9 0h1m3.3 0h1m-.9 0h1m-.6 0h1m.3 0h1m1.1 0h1m-.7 0h1m-.6 0h1m-.3 0h1m-.7 0h1m-.8 0h1m-1 0h1m-.9 0h1m-.2 0h1m-.6 0h1m-.9 0h1m-.1 0h1m-.2 0h1m-.6 0h1m-.9 0h1m-.8 0h1m-.2 0h1m-.9 0h1m-1 0h1m-.6 0h1m-1 0h1m-.8 0h1m.8 0h1m-.5 0h1m-.5 0h1m-.8 0h1m0 0h1m-.5 0h1m-.8 0h1m2.8 0h1m-.2 0h1m.7 0h1m-.9 0h1m-.4 0h1m-1 0h1m-.9 0h1m-.9 0h1m.3 0h1m-.1 0h1m-.8 0h1m-.4 0h1m-.8 0h1m-.7 0h1m-.9 0h1m-.9 0h1m-1 0h1m-.9 0h1m-.9 0h1m-.9 0h1m-40.2 .1h1m-1 0h1m-1 0h1m.1 0h1m-.9 0h1m3.3 0h1m.1 0h1m4.7 0h1m-.6 0h1m-.5 0h1m.4 0h1m-.6 0h1m-.5 0h1m-.6 0h1m-.3 0h1m-.5 0h1m-.3 0h1m-.3 0h1m.2 0h1m-.8 0h1m.2 0h1m-.9 0h1m-.2 0h1m-.5 0h1m-.7 0h1m-1 0h1m-1 0h1m-.9 0h1m-.9 0h1m-.5 0h1m-.7 0h1m.8 0h1m.2 0h1m-.5 0h1m-.7 0h1m-.5 0h1m-.1 0h1m.2 0h1m-.1 0h1m-.9 0h1m-.6 0h1m-.7 0h1m-.5 0h1m-.9 0h1m.5 0h1m-.4 0h1m-1 0h1m-.1 0h1m.3 0h1m-.2 0h1m-.7 0h1m-.6 0h1m-.3 0h1m-.9 0h1m-1 0h1m-38.8 .1h1m2.6 0h1m-.7 0h1m-.7 0h1m0 0h1m.1 0h1m-1 0h1m-.8 0h1m3.4 0h1m.9 0h1m-.9 0h1m1.5 0h1m-.9 0h1m-.3 0h1m-.9 0h1m-.8 0h1m-.9 0h1m-.1 0h1m-.4 0h1m-.9 0h1m-.8 0h1m-.7 0h1m0 0h1m-.3 0h1m-.4 0h1m-.9 0h1m-.4 0h1m2.7 0h1m-.3 0h1m-.1 0h1m.8 0h1m-.7 0h1m-.8 0h1m-.5 0h1m-.3 0h1m0 0h1m.2 0h1m1 0h1m-.6 0h1m-.9 0h1m-.3 0h1m-1 0h1m.4 0h1m-.9 0h1m-.7 0h1m-.6 0h1m-.9 0h1m-41 .1h1m.2 0h1m-.9 0h1m3 0h1m-.9 0h1m-.9 0h1m-.8 0h1m-.3 0h1m-.1 0h1m-.9 0h1m-.7 0h1m-.7 0h1m3.6 0h1m1.1 0h1m-.1 0h1m1.1 0h1m-.1 0h1m2.9 0h1m-.9 0h1m-.5 0h1m-.7 0h1m1.3 0h1m.6 0h1m-.8 0h1m-.8 0h1m-.8 0h1m-.9 0h1m3.8 0h1m1.2 0h1m-.7 0h1m.4 0h1m-.2 0h1m0 0h1m-.5 0h1m-38.9 .1h1m.1 0h1m1.3 0h1m.6 0h1m-.3 0h1m-.9 0h1m-.1 0h1m4.6 0h1m-.6 0h1m-.9 0h1m2 0h1m0 0h1m.3 0h1m.8 0h1m-.1 0h1m-.6 0h1m2.3 0h1m2.2 0h1m2.9 0h1m2 0h1m.7 0h1m1.1 0h1m-.2 0h1m-33.8 .1h1m7.6 0h1m-.4 0h1m1.5 0h1m-.3 0h1m1.4 0h1m3.3 0h1m.8 0h1m10.1 0h1m-.5 0h1m-40.5 .1h1m-.8 0h1m-.8 0h1m-.6 0h1m.1 0h1m1.5 0h1m15.9 0h1m10.5 0h1m-33 .1h1m4.8 0h1m7.3 0h1m16.9 0h1m3.8 0h1"/>
<path stroke="#7ab840" stroke-width="1" d="M34.3 200.2h1m0 .1h1m9.8 0h1m-.8 0h1m19.3 0h1m3.5 0h1m-25.5 .1h1m19 0h1m-33.8 .1h1m11.7 0h1m-.6 0h1m17.4 0h1m4.6 0h1m-36.4 .1h1m1 0h1m27.2 0h1m3.8 0h1m.3 0h1m-39.8 .1h1m2.1 0h1m-.4 0h1m-1 0h1m-.3 0h1m8.1 0h1m14.7 0h1m-1 0h1m-.3 0h1m1.2 0h1m-.8 0h1m0 0h1m-.3 0h1m-.4 0h1m2.7 0h1m-34.9 .1h1m-1 0h1m-.6 0h1m24 0h1m-.9 0h1m2.7 0h1m-33.9 .1h1m-.9 0h1m-.5 0h1m-.6 0h1m-.9 0h1m-.8 0h1m-.8 0h1m.4 0h1m-.9 0h1m-1 0h1m-.9 0h1m8.4 0h1m-.9 0h1m-.9 0h1m-.8 0h1m14.6 0h1m-.4 0h1m-.9 0h1m1.3 0h1m0 0h1m-.9 0h1m-1 0h1m-.9 0h1m-.9 0h1m.3 0h1m1.4 0h1m-.4 0h1m-.7 0h1m-.3 0h1m-38.5 .1h1m-1 0h1m-.7 0h1m-1 0h1m-.2 0h1m-.4 0h1m-.8 0h1m-1 0h1m-.5 0h1m-.6 0h1m-.7 0h1m7.9 0h1m-.4 0h1m-.9 0h1m14.9 0h1m1.3 0h1m-.8 0h1m.8 0h1m-.6 0h1m3 0h1m-39.2 .1h1m-1 0h1m-.8 0h1m-1 0h1m-.9 0h1m-.4 0h1m-.6 0h1m-1 0h1m-.6 0h1m-.4 0h1m-.4 0h1m.4 0h1m7.5 0h1m15.2 0h1m1.7 0h1m.2 0h1m-.5 0h1m-1 0h1m-.9 0h1m-.4 0h1m-.8 0h1m-.9 0h1m1.6 0h1m-1 0h1m-.9 0h1m-.5 0h1m-.9 0h1m-1 0h1m-.1 0h1m-40 .1h1m.8 0h1m-.7 0h1m-.9 0h1m-.8 0h1m-.4 0h1m-1 0h1m-.9 0h1m-.5 0h1m-.2 0h1m24 0h1m-.9 0h1m-.9 0h1m-.9 0h1m1.6 0h1m-.8 0h1m-.4 0h1m-.8 0h1m-.1 0h1m1.9 0h1m-.5 0h1m-.8 0h1m-.2 0h1m-1 0h1m-37.4 .1h1m-.6 0h1m-.6 0h1m-.9 0h1m-.9 0h1m-.6 0h1m-.9 0h1m24.4 0h1m-.5 0h1m-1 0h1m-.7 0h1m-.9 0h1m2.4 0h1m-32.4 .1h1m-.4 0h1m-.5 0h1m-1 0h1m-.7 0h1m-1 0h1m-.6 0h1m24.6 0h1m-.9 0h1m-.5 0h1m2.1 0h1m-.9 0h1m-.5 0h1m-.9 0h1m-32.5 .1h1m-.4 0h1m-.4 0h1m-.8 0h1m-.7 0h1m-1 0h1m24 0h1m-.7 0h1m-.6 0h1m-.7 0h1m3 0h1m-32.3 .1h1m-.8 0h1m-.6 0h1m-.8 0h1m-.7 0h1m24.7 0h1m-.9 0h1m2.7 0h1m-.4 0h1m-32.4 .1h1m-.8 0h1m-.8 0h1m-.1 0h1m28.6 0h1m-31.7 .1h1m0 0h1m24.7 0h1m2.9 0h1m-.6 0h1m-5 .1h1m-.8 0h1m-1 0h1m2.2 0h1m-1 0h1m-.7 0h1m-31.6 .1h1m.1 0h1m28.4 0h1m-.7 .1h1"/>
</g>
<ellipse cx="164.3" cy="197.3" rx="10" ry="4.7" fill="none" stroke="#d89090" stroke-width="0.6" transform="rotate(0 164.3 197.3)"/>
<g filter="url(#bl)">
<path stroke="#c2c8ea" stroke-width="1" d="M162.4 169.1h1m-2.4 2.3h1m-22.8 1.4h1m16.7 .6h1m-7.9 2.4h1m11.4 1.3h1m-13.7 .3h1m-3.3 .1h1m2.9 .3h1m-11.4 .5h1m17.7 .3h1m-16.4 .1h1m9.3 1.1h1m4.1 1.4h1m-20.6 .2h1m9.5 .1h1m-3 .2h1m7 .2h1m-3.1 .5h1m.3 .2h1m-6.5 1.2h1m16.7 .2h1m-29.2 .2h1m11.8 .3h1m-15.1 .4h1m29.5 0h1m-19.4 .1h1m-1.9 .2h1m-13.9 .1h1m17.4 .1h1m-2.3 .1h1m-19.2 .1h1m.4 .6h1m20.4 .4h1m-26.1 .1h1m17.3 .1h1m4.6 .2h1m-5.4 .2h1m.6 .6h1m-3.2 .4h1m4.4 .7h1m-3.2 .2h1m-.8 .4h1m12.5 .3h1m-16.9 .1h1m-.1 .2h1m10.7 .1h1m-31.9 .6h1m20.9 .2h1m-4.3 .2h1m1.8 .7h1m9.5 .1h1m-13.6 .4h1m-20.7 .2h1m18.3 .2h1m7.1 .5h1m-28.5 .1h1m17.3 0h1m-.6 .2h1m-18 .2h1m17.3 .6h1m-1.4 .5h1m2.3 1h1m-4.9 .5h1m11.6 .7h1m-32.9 1.3h1"/>
<path stroke="#98a2da" stroke-width="1" d="M143 181.7h1m1.2 0h1m-.9 0h1m-3.3 .5h1m-.7 0h1m1.7 .4h1m-3.8 .2h1m-1.2 .1h1m-.5 0h1m1.6 .1h1m-6.6 1.8h1m-1.5 .4h1m-.6 0h1m5.2 0h1m-8.5 .3h1m-.1 .4h1m-1 0h1m8.7 1.3h1m-.8 .4h1m-1.1 1h1m-13 .2h1m-1.4 1.7h1m11.3 .1h1m-13.2 .4h1m-1.9 .4h1m-.2 .1h1m-2.2 .1h1m-1.1 1.1h1m12.5 .4h1m-14 1.8h1m-.2 .9h1m-1.8 1h1m15 0h1m-16.4 .3h1m22 .2h1m2.7 1.1h1m-29.3 .4h1m-.7 .1h1m-1.2 .1h1m-1.3 2.3h1m-.7 .4h1m29.1 0h1"/>
<path stroke="#6070c0" stroke-width="1" d="M145 183.7h1m-.8 .1h1m-1 .2h1m-3 1.1h1m-.5 0h1m-1.1 .1h1m-1.8 .1h1m.4 0h1m-.6 0h1m-3 .2h1m1.6 0h1m1 0h1m-3.2 .2h1m-.5 0h1m-.6 0h1m-.4 0h1m-3.6 .2h1m-3.5 .1h1m1.8 0h1m-1 0h1m0 0h1m-.7 0h1m0 0h1m-5.7 .1h1m.7 0h1m2.1 0h1m-3.9 .1h1m-2.2 .1h1m1.4 0h1m-4 .1h1m3.2 0h1m-5.8 .1h1m-2 .1h1m.4 0h1m4 .1h1m-7 .1h1m4.5 0h1m-4.8 .1h1m2.6 0h1m-.3 0h1m-7.3 .1h1m5.4 0h1m-.3 .1h1m-.9 0h1m-1.4 .2h1m-8.7 .1h1m6.5 0h1m-8.6 .1h1m7.9 .4h1m-1.3 .3h1m-1.4 .2h1m-.1 .2h1m-1.4 .3h1m-.7 .1h1m-9.5 .2h1m-.7 0h1m7.3 .2h1m-.7 0h1m-.7 .2h1m-2.1 .3h1m0 .2h1m-11.6 .2h1m8.2 .2h1m-.7 .1h1m-.3 .2h1m-.7 .3h1m-11.3 .4h1m8.9 .1h1m-11 .3h1m9.8 0h1m-11.1 .4h1m8.6 .2h1m-11.1 .1h1m8.9 .4h1m-.7 .1h1m-11.4 .2h1m10.6 .2h1m-11.9 .2h1m-2.7 .4h1m11.7 .1h1m-12.1 .1h1m9.3 .1h1m-1.7 .2h1m-11.8 .1h1m9.9 0h1m-.1 0h1m-2.2 .4h1m-.4 .3h1m-.3 .5h1m-12.7 .3h1m-1 0h1m9.7 0h1m-1.4 .9h1m-.2 .4h1m6 0h1m-8.6 .1h1m-.2 0h1m-.4 0h1m4.7 .1h1m.9 .1h1m-5.8 .1h1m9.1 0h1m-15.4 .1h1m-1 .1h1m13.6 0h1m-6.9 .1h1m-1.3 .1h1m-4.7 .1h1m10 .1h1m-.3 0h1m-15.1 .2h1m11.8 .1h1m-28.1 .1h1m24.2 0h1m0 .1h1m.2 .1h1m-1.6 .1h1m-1.9 .1h1m-.4 0h1m-13.3 .1h1m12.2 0h1m.2 .1h1m-.7 .6h1m-1.6 .1h1m-.5 0h1m-.6 0h1m-2 .1h1m.4 0h1m-1.8 .2h1m-1.4 .2h1m-.9 0h1m-1.4 .1h1m-.8 .3h1m-2.1 .1h1m1.3 .1h1m-.8 0h1m-18.7 .1h1m12.6 0h1m.2 0h1m-15.4 .1h1m14.5 0h1m-2.4 .1h1m-13.9 .1h1m11 0h1m-13.4 .1h1m-.4 0h1m-.9 0h1m12.7 0h1"/>
<path stroke="#3848a8" stroke-width="1" d="M142.6 186.6h1m.9 .1h1m-.4 .3h1m-.7 .3h1m-4.7 .1h1m-.4 .1h1m.2 0h1m-.6 0h1m-3.4 .1h1m.9 0h1m.8 .1h1m-3.3 .1h1m-2.4 .3h1m-1.3 .1h1m-.6 0h1m.1 0h1m2.2 0h1m-5.8 .2h1m.3 0h1m-2.1 .1h1m1 0h1m-1 0h1m-1.5 .1h1m.2 0h1m1.4 0h1m-6.2 .1h1m-.3 0h1m1.8 0h1m.3 0h1m.3 0h1m-5.7 .1h1m.6 0h1m-4.3 .1h1m1 0h1m-.8 0h1m-2.9 .2h1m-.9 0h1m.1 .1h1m.5 0h1m0 0h1m-5.3 .1h1m-.4 0h1m-.4 0h1m1.4 0h1m.6 0h1m-2.3 .1h1m.2 0h1m-6.7 .1h1m.3 0h1m-1 0h1m2.6 0h1m-6.1 .1h1m4.4 0h1m-6.3 .2h1m4.2 0h1m-.6 0h1m-.3 0h1m-.3 0h1m-1.3 .1h1m-7.9 .1h1m-.8 0h1m-.1 0h1m4.8 0h1m-8 .1h1m4.1 0h1m-.6 0h1m-6.2 .1h1m3.6 0h1m-.9 0h1m-.1 0h1m-.4 .1h1m-5.7 .1h1m3.2 0h1m-6.4 .2h1m4.8 .2h1m-6.7 .1h1m4.8 0h1m.2 0h1m-2 .1h1m-1.8 .1h1m-.4 0h1m-.8 0h1m-7.4 .1h1m-.6 .1h1m4.8 0h1m.5 .1h1m-.5 0h1m-9.2 .1h1m-1 .1h1m4.5 .2h1m1 0h1m-.7 0h1m-1.1 .2h1m-1.4 .1h1m-.7 0h1m-2.7 .3h1m-6.9 .1h1m5.6 0h1m.1 0h1m-1.9 .2h1m-1 .2h1m-7.9 .2h1m6 .2h1m-1.2 .3h1m.4 .2h1m-2.4 .1h1m-.7 0h1m-8.3 .1h1m6.3 .1h1m-.7 0h1m-.5 0h1m-.8 .2h1m-9.2 .1h1m6.4 0h1m-.3 .1h1m-.5 .4h1m-1.4 .1h1m-10.4 .2h1m8.4 .3h1m-.6 .1h1m-10.5 .4h1m7.6 .3h1m-.4 .1h1m-10.4 .2h1m-.6 .2h1m8.2 0h1m-1.8 .3h1m0 0h1m-11 .1h1m-.2 .1h1m-2 .6h1m12.5 .5h1m-.7 0h1m-4.3 .1h1m4.7 0h1m.3 0h1m-18.4 .1h1m20.3 0h1m-22.9 .2h1m12.7 0h1m2.7 0h1m-4.1 .1h1m1.3 0h1m-.9 0h1m5.3 0h1m-.8 0h1m-3.3 .1h1m-.1 0h1m-10.4 .1h1m-13.1 .1h1m8.8 0h1m5.2 0h1m-.9 0h1m.2 0h1m-.4 0h1m.6 0h1m1 0h1m-.9 0h1m-13 .1h1m4.5 0h1m-.5 0h1m5.3 0h1m-11.1 .1h1m-.7 0h1m4.5 0h1m.6 0h1m.3 0h1m-.3 0h1m-.4 0h1m-8.9 .1h1m.7 0h1m4 0h1m4.8 0h1m-28.9 .1h1m15.4 0h1m3.4 0h1m-5.6 .1h1m3.4 0h1m-.3 0h1m-.5 0h1m.6 0h1m3.2 0h1m-15.6 .1h1m-.7 0h1m8.8 0h1m1.3 0h1m.1 0h1m-.1 0h1m-16.4 .1h1m1.3 0h1m1 0h1m-.5 0h1m1.7 0h1m4.2 0h1m-.6 0h1m-.3 0h1m-11.9 .1h1m-.4 0h1m.2 0h1m-.6 0h1m1.4 0h1m-.7 0h1m1.1 0h1m1.4 0h1m-.7 0h1m-13.7 .1h1m-.8 0h1m.7 0h1m4.8 0h1m-.8 0h1m2.3 0h1m.6 0h1m1.3 0h1m-8.1 .1h1m-.7 0h1m1.2 0h1m-23.1 .1h1m11 0h1m3.2 0h1m.2 0h1m1.6 0h1m.4 0h1m-.5 0h1m-.8 0h1m-.9 0h1m-.6 0h1m-12.8 .1h1m1.6 0h1m5.7 0h1m-.2 0h1m1.6 0h1m3.1 0h1m-14.2 .1h1m-.2 0h1m.5 0h1m.6 0h1m-.1 0h1m1.4 0h1m2.5 0h1m-.9 0h1m-26.6 .1h1m12.7 0h1m-.8 0h1m.2 0h1m.7 0h1m.8 0h1m.1 0h1m3.7 0h1m.1 0h1m-.7 0h1m-14.9 .1h1m1.6 0h1m4.5 0h1m5.9 0h1m-16.7 .1h1m-.7 0h1m-.6 0h1m-.7 0h1m.4 0h1m-.3 0h1m-.9 0h1m.5 0h1m.1 0h1m0 0h1m-.9 0h1m1.9 0h1m4.4 0h1m-13.2 .1h1m-.9 0h1m-.9 0h1m2.2 0h1m1 0h1m.8 0h1m3 0h1m.3 0h1m-27.6 .1h1m9.9 0h1m3.1 0h1m-.1 0h1m7.3 0h1m-.5 0h1m0 0h1m-.1 0h1m-26.9 .1h1m-.9 0h1m9.3 0h1m1.4 0h1m.3 0h1m.1 0h1m-.8 0h1m-.4 0h1m-.4 0h1m-.9 0h1m-.7 0h1m-.3 0h1m-.4 0h1m-.1 0h1m.8 0h1m-22.1 .1h1m10.7 0h1m-.1 0h1m1.9 0h1m-.5 0h1m1.7 0h1m.1 0h1m4.2 0h1m-12.6 .1h1m.8 0h1m1.5 0h1m0 0h1m-.9 0h1m-.4 0h1m-.7 0h1m-.1 0h1m-.3 0h1m3 0h1m-10.7 .1h1m1.3 0h1m-.9 0h1m.4 0h1m3.3 0h1m-24.2 .1h1m14.4 0h1m.2 0h1m-1 0h1m1.1 0h1m.1 0h1m-.7 0h1m-.2 0h1m0 0h1m-13.9 .1h1m5 0h1m4.4 0h1m-.9 0h1m.3 0h1m-12.7 .1h1m-.7 0h1m2.7 0h1m2.8 0h1m4.5 0h1m-24.3 .1h1m7.8 0h1m5.1 0h1m1.3 0h1m4.3 0h1m-.5 0h1m-.9 0h1m-23.8 .1h1"/>
<path stroke="#2c3c9c" stroke-width="1" d="M143.8 189.4h1m-2.7 .2h1m1.1 .1h1m-1.9 .1h1m-.3 .1h1m-3 .2h1m0 0h1m-.4 .1h1m-1.9 .1h1m-.4 0h1m-.1 0h1m-2.2 .1h1m-1.7 .1h1m1 0h1m-1 .1h1m-3.7 .1h1m1.6 0h1m.1 .1h1m-4.6 .1h1m1.1 0h1m-.7 0h1m-2 .1h1m.5 0h1m-4.1 .2h1m-.7 0h1m1.6 0h1m-3.3 .1h1m-1.1 .1h1m-.6 0h1m-.8 0h1m-3.1 .1h1m-.3 0h1m-.1 0h1m1.9 0h1m-5.5 .1h1m-.3 0h1m-.6 0h1m0 .1h1m-.5 0h1m.6 0h1m-4.9 .1h1m-.8 0h1m.7 .1h1m.1 0h1m-3.7 .1h1m.7 0h1m0 0h1m-.7 0h1m-.8 0h1m-4.2 .1h1m0 0h1m-.3 0h1m1.5 0h1m-4.3 .2h1m.5 0h1m.4 0h1m-.7 0h1m-4.6 .1h1m-.4 0h1m-.5 0h1m2 .1h1m-4.9 .1h1m1.4 0h1m0 0h1m-2.6 .1h1m.4 0h1m-4.5 .1h1m-.6 0h1m1.3 0h1m1 0h1m-.9 0h1m-6.1 .1h1m0 .1h1m-.5 .1h1m.2 0h1m-3.7 .1h1m-.4 0h1m-.8 0h1m-.3 0h1m-1 0h1m-2.5 .1h1m.1 0h1m-.8 0h1m1.5 0h1m-.7 0h1m-.3 .1h1m-.8 0h1m-6.3 .1h1m-.5 0h1m.3 0h1m.5 0h1m.4 0h1m-3.5 .1h1m-.9 0h1m-.5 0h1m-.2 0h1m-1 0h1m-.3 0h1m-4.1 .1h1m2.5 0h1m-6.1 .1h1m1.3 0h1m-1.1 .1h1m.6 0h1m-.8 0h1m-.8 0h1m-5.2 .1h1m.1 0h1m.8 0h1m.6 0h1m-.2 0h1m-5.1 .1h1m-.4 0h1m.9 0h1m-.9 0h1m-.8 0h1m-3 .1h1m-.2 0h1m1.8 0h1m-6.7 .1h1m.1 0h1m-.4 0h1m-.4 0h1m-.6 0h1m-.3 0h1m-.8 0h1m.1 0h1m-5.5 .1h1m-.4 0h1m2 0h1m-3.5 .1h1m-.4 0h1m.8 0h1m-.1 0h1m-.2 0h1m-5.6 .1h1m-1 0h1m.8 0h1m-.2 0h1m-.5 0h1m.4 0h1m-7.3 .1h1m2.9 0h1m-.6 0h1m1.9 0h1m-5.5 .1h1m-.5 .1h1m1.7 0h1m-.7 .1h1m.1 0h1m-6.6 .1h1m1 0h1m-.9 0h1m-.8 0h1m.4 0h1m-.5 0h1m-.3 0h1m-6.5 .1h1m2.1 0h1m-.9 0h1m-.9 0h1m.9 0h1m-7.1 .1h1m-.9 0h1m-.6 0h1m-.4 0h1m-.7 0h1m-.4 0h1m.8 0h1m-.9 0h1m-1 0h1m-.8 0h1m-.8 0h1m-.2 0h1m-.3 0h1m-4.5 .1h1m.3 0h1m-.3 0h1m-1 0h1m.7 0h1m-6.7 .1h1m.3 0h1m.9 0h1m1.9 0h1m-7.1 .1h1m2.4 0h1m-4.7 .1h1m4.1 0h1m-.8 0h1m.9 0h1m-7.9 .1h1m-.6 0h1m.4 0h1m1 0h1m.6 0h1m-.5 0h1m-7.2 .1h1m.8 0h1m.9 0h1m1.8 0h1m-7.6 .1h1m-.1 0h1m-.6 0h1m.8 0h1m.8 0h1m-.8 0h1m-.8 0h1m-4.6 .1h1m-.9 0h1m-.1 0h1m-.7 0h1m-.8 0h1m-3.4 .1h1m3 0h1m-.7 0h1m1.3 0h1m-.7 0h1m-1 0h1m-7.5 .1h1m-.9 0h1m-.5 0h1m-.7 0h1m-.6 0h1m.2 0h1m.1 0h1m-.1 0h1m1.2 0h1m-8.2 .1h1m-.7 0h1m.3 0h1m1.2 0h1m-.5 0h1m-5.8 .1h1m2 0h1m-.2 0h1m-.5 0h1m-1 0h1m.2 0h1m-5.5 .1h1m.6 0h1m-.8 0h1m-.2 0h1m0 0h1m-.7 0h1m-.7 0h1m-.2 0h1m-6.8 .1h1m-.6 0h1m-.2 0h1m.8 0h1m-1 0h1m.2 0h1m.1 0h1m-1 0h1m-4.9 .1h1m.5 0h1m0 0h1m.1 0h1m.1 0h1m-4.1 .1h1m-.7 0h1m1.3 0h1m-6.5 .1h1m.6 0h1m1.3 0h1m-.2 0h1m1.5 0h1m-1 0h1m-5.4 .1h1m-.5 0h1m-.5 0h1m-.9 0h1m-.1 0h1m-1.3 .1h1m-.6 0h1m-.2 0h1m-4 .1h1m-.6 0h1m1.9 0h1m-6.4 .1h1m-.5 0h1m.2 0h1m-.3 0h1m.4 .1h1m-1 0h1m.7 0h1m-.9 0h1m-.6 0h1m-.5 0h1m-8.7 .1h1m6 0h1m-8 .1h1m-.3 0h1m-1.9 .1h1m4.7 0h1m.3 0h1m-1.9 .1h1m-5.8 .1h1m3.9 0h1m-.4 0h1m-7.1 .1h1m-.4 0h1m3.4 0h1m-6.1 .1h1m.2 0h1m-.9 0h1m2.5 0h1m-.9 0h1m0 0h1m-.5 0h1m-1.8 .1h1m-5.2 .1h1m-3.2 .1h1m4.9 0h1m-.6 0h1m-.3 0h1m-.9 0h1m-.3 0h1m-8.7 .1h1m4.7 0h1m1.3 0h1m-8.2 .1h1m3.6 0h1m0 0h1m-7.2 .1h1m-1.4 .1h1m4.5 0h1m-.1 0h1m-.6 0h1m-7.5 .1h1m-.9 0h1m5.6 0h1m0 0h1m-8.1 .1h1m4.3 0h1m.4 0h1m-9.1 .1h1m7.6 0h1m-9.5 .1h1m-.9 0h1m-.2 0h1m-.8 0h1m-.7 0h1m5.4 0h1m-9.3 .1h1m.6 0h1m-.7 0h1m4.6 0h1m-8.3 .1h1m6.2 0h1m-.6 0h1m8 0h1m-17.3 .1h1m7.6 0h1m-.4 0h1m5.9 0h1m-10.1 .1h1m-7.6 .1h1m6.6 0h1m.2 0h1m-.9 0h1m5.7 0h1m-17.7 .1h1m-.3 .1h1m15 0h1m-17.3 .1h1m6.7 0h1m-.6 0h1m-1 0h1m.8 0h1m-.9 0h1m-11.7 .1h1m0 0h1m6.1 0h1m-.8 0h1m-.9 0h1m-.3 0h1m.7 0h1m5.3 0h1m-.9 0h1m-.5 0h1m-17.6 .1h1m-1 0h1m-.6 0h1m-.8 0h1m-.9 0h1m5.6 0h1m-.1 0h1m-.8 0h1m-.8 0h1m-.2 0h1m-4 .1h1m-.5 0h1m8.8 0h1m2.2 0h1m-1 0h1m.2 0h1m-21.6 .1h1m4.5 0h1m-.7 0h1m.3 0h1m12.6 0h1m-.9 0h1m-.7 0h1m-22.9 .1h1m6.5 0h1m.5 0h1m12.1 0h1m-23.7 .1h1m.1 0h1m-.9 0h1m-.6 0h1m4.2 0h1m-8 .1h1m-.9 0h1m-.6 0h1m-.1 0h1m7.1 0h1m-9.9 .1h1m5.3 0h1m-.8 0h1m-.8 0h1m-.6 0h1m13 0h1m-.5 0h1m-.6 0h1m-22.7 .1h1m-.7 0h1m-.9 0h1m-.7 0h1m4.3 0h1m-.9 0h1m-.6 0h1m1.1 0h1m10.4 0h1m-.4 0h1m-.6 0h1m-21.6 .1h1m6.7 0h1m11.7 0h1m-.5 0h1m-.9 0h1m-22.9 .1h1m-.1 0h1m5.5 0h1m.8 0h1m10.5 0h1m-22 .1h1m6.5 0h1m-.1 0h1m11.4 0h1m.1 0h1m-21.2 .1h1m.1 0h1m2.3 0h1m-.9 0h1m-.1 0h1m-.3 0h1m-1 0h1m-.1 0h1m11.4 0h1m-19.7 .1h1m2.5 0h1m-.7 0h1m-.8 0h1m-.7 0h1m-.9 0h1m-1 0h1m0 0h1m-7.3 .1h1m-.4 0h1m-.9 0h1m2.6 0h1m.6 0h1m.2 0h1m-8.1 .1h1m-.9 0h1m3.3 0h1m-.8 0h1m-.9 0h1m-.7 0h1m-.2 0h1m-7.2 .1h1m.2 0h1m-.7 0h1m-.8 0h1m3.5 0h1m-.1 0h1"/>
<path stroke="#3a70b8" stroke-width="1" d="M142.3 197.4h1m.4 0h1m-2 .1h1m-1.3 .1h1m-.6 0h1m-.9 .1h1m-1.6 .2h1m-.6 0h1m.5 0h1m-3.6 .1h1m.2 0h1m-.8 0h1m-.9 0h1m-.4 0h1m-.5 0h1m-3.8 .1h1m-.9 .1h1m0 0h1m.6 0h1m-.8 0h1m-2.3 .1h1m.2 0h1m-3.3 .1h1m-1 0h1m-.5 0h1m-1 0h1m.7 0h1m-4.2 .1h1m.2 0h1m-2.6 .1h1m1.9 0h1m-2.2 .1h1m-1.8 .1h1m-.4 0h1m-.1 0h1m-.7 0h1m-2.5 .1h1m-.6 0h1m-.2 0h1m-3.1 .1h1m.4 0h1m-.1 0h1m-.9 0h1m-.2 0h1m-4.6 .1h1m-.8 0h1m-1 0h1m.7 0h1m-.8 0h1m-1.9 .1h1m-.8 0h1m0 0h1m-.8 0h1m-.7 0h1m-.7 0h1m-2.7 .1h1m.1 0h1m-1.9 .1h1m-3.5 .2h1m-.9 0h1m-.7 0h1m-1.4 .1h1m-.8 .1h1m-.5 .1h1m3.9 0h1m-1.5 .1h1m-.6 .1h1m-1.4 .1h1m-.5 0h1m-6.7 .1h1m-.7 0h1m-.9 0h1m3.9 0h1m-1 0h1m-.7 0h1m-.7 0h1m-6.3 .2h1m-.9 0h1m2.5 0h1m-.5 0h1m-5.5 .1h1m-.8 0h1m-.8 0h1m-1.5 .1h1m-.5 0h1m-.8 0h1m2.4 0h1m-5 .1h1m-.7 0h1m-.7 .1h1m-1 0h1m2.5 0h1m-5.1 .1h1m2.8 0h1m-4.7 .1h1m-.5 0h1m2.6 0h1m-4.9 .1h1m-.9 0h1m-.8 0h1m2.8 0h1m-5.6 .1h1m-.8 0h1m3.5 0h1m-5 .1h1m-.8 0h1m-.8 0h1m-.6 0h1m-1 0h1m-.6 0h1m.7 0h1m-.2 0h1m-4.4 .1h1m-.9 0h1m-.9 0h1m-1 0h1m-.6 0h1m.6 0h1m-.8 0h1m-.8 0h1m-3.4 .1h1m-.3 0h1m.4 0h1m-.9 0h1m-3.4 .1h1m-.9 0h1m-1 0h1m-.8 0h1m-.7 0h1m-.8 0h1m.6 0h1m-.9 0h1m-.9 0h1m-3.6 .1h1m-.7 0h1m-1 .1h1m-.6 0h1m1 0h1"/>
<path stroke="#58a860" stroke-width="1" d="M144.3 199.4h1m-4.5 .3h1m-.8 0h1m-1 0h1m-.9 .1h1m-1 0h1m1.6 0h1m-4.2 .1h1m-1 0h1m-.5 0h1m1.8 0h1m-.5 0h1m-1.4 .1h1m-.6 0h1m-1.4 .3h1m-1.1 .1h1m-.5 0h1m-3.2 1h1m-.9 0h1m-.8 0h1m-1.7 .1h1m-.9 0h1m-.6 0h1m-1.6 .1h1m-1 0h1m-.8 0h1m-.7 0h1m-1.5 .1h1m-.9 0h1m-.8 0h1m-.8 0h1m-.9 0h1m-.9 0h1m-1.8 .1h1m-.9 0h1m-.6 0h1m-1.5 .1h1m-.9 0h1m-.7 0h1"/>
<path stroke="#7ab840" stroke-width="1" d="M141.7 199.4h1m-.3 0h1m-.7 .2h1m-.9 0h1m-2.2 .1h1m-.2 0h1m-.1 0h1m-.9 0h1m-2.7 .1h1m-.8 0h1m-.8 0h1m-1.3 .1h1m-.6 0h1m-.5 0h1m-1 .1h1m-1 0h1m-.3 0h1m-2.6 .1h1m.4 0h1m-2 .1h1m-.9 0h1m0 0h1m-1 0h1m-2.9 .1h1m-.8 0h1m-.7 0h1m-.9 0h1m-.3 0h1m-.8 0h1m-.6 0h1m-3 .1h1m-1.2 .1h1m.1 0h1m-.8 0h1m-.9 0h1m-.6 0h1m-3.4 .1h1m-.3 0h1m-.9 0h1m-.9 0h1m-.8 0h1m-.9 0h1m-.9 0h1m-.6 0h1m-.9 0h1m-.7 0h1m-.6 0h1m-.8 0h1m-3.6 .1h1m-.9 0h1m-.9 0h1m-.2 0h1m-.6 0h1m-.8 0h1m-.2 0h1m-2.3 .1h1m-.6 0h1m-.6 0h1m-.9 0h1m-.8 0h1m-.8 0h1m-.7 0h1m-3.5 .1h1m-.3 0h1m-1 0h1m.1 0h1m-.8 0h1m-.7 0h1m-.7 0h1m-4 .1h1m.7 0h1m-.9 0h1m-.7 0h1m-3.1 .1h1m-.9 0h1m-.2 0h1m-1 0h1m-.9 0h1m-1 0h1m-.8 0h1m-.9 0h1m-.5 0h1m-.5 0h1m-.6 0h1m-.7 0h1m-2.1 .1h1m-.9 0h1m-.1 0h1m-3.9 .1h1m-.6 0h1m-.2 0h1m-.8 0h1m-1 0h1m-.7 0h1m-.2 0h1m-.7 0h1m-1 0h1m-1 0h1m-1.8 .1h1m-.7 0h1m-.9 0h1m-.7 0h1m-.8 0h1"/>
</g>
<ellipse cx="287.2" cy="150.8" rx="10" ry="12.8" fill="none" stroke="#c8b0b8" stroke-width="0.6" transform="rotate(-10 287.2 150.8)"/>
<g filter="url(#bl)">
<path stroke="#c8cdeb" stroke-width="1" d="M289.8 135.9h1m-3.3 .9h1m-.2 .2h1m3.2 .5h1m-34.4 .1h1m26.9 .6h1m1.2 0h1m-3.2 .1h1m-43 .8h1m40 .3h1m-12.6 .1h1m12.6 .3h1m-2 .1h1m.3 0h1m-3.8 .1h1m-1.4 .2h1m2.2 .6h1m2.5 0h1m-37 .3h1m15.4 .1h1m9.6 0h1m2.5 .1h1m1.3 .6h1m-22.4 .1h1m21.1 .2h1m-28.8 .2h1m26.4 .2h1m-48.7 .1h1m15.3 .5h1m33.4 .1h1m-2.4 .2h1m-43 .2h1m12.5 0h1m19.9 0h1m-30 .2h1m30.3 .1h1m3.4 0h1m.7 0h1m-41.3 .4h1m32.7 0h1m-32.3 .3h1m6.3 0h1m-14.9 .1h1m3.2 .1h1m0 0h1m31.2 .1h1m-33.8 .1h1m39.1 .3h1m-42.6 .1h1m33.7 0h1m-9.1 .1h1m-21.1 .2h1m4.1 0h1m19.4 .2h1m-21.6 .1h1m21.6 0h1m-31.2 .1h1m37.4 0h1m-45.8 .2h1m34.4 0h1m-32.6 .1h1m4 0h1m1.9 0h1m33.8 0h1m-46.1 .4h1m-8.7 .1h1m15.2 .1h1m2.9 0h1m6.3 0h1m15.5 0h1m-21 .1h1m2.4 0h1m27 .1h1m-54.7 .2h1m-.6 0h1m2.9 0h1m13.5 0h1m-3.6 .1h1m-17 .1h1m1.2 0h1m1 0h1m14.7 .1h1m16.8 0h1m2.3 0h1m-17.7 .1h1m6.3 .1h1m-12.2 .1h1m12.2 .1h1m5.3 .2h1m-19.2 .2h1m-23.9 .3h1m-1.2 .1h1m17.9 0h1m22.5 .2h1m9.2 0h1m-30.5 .2h1m-.5 .1h1m-24.8 .1h1m23.4 .1h1m4 0h1m22.6 0h1m-12.8 .1h1m10.7 0h1m-25.4 .1h1m7.1 .3h1m1.5 .2h1m-3.3 .2h1m15.1 .2h1m-24.8 .5h1m5.1 0h1m-39.1 .2h1m-1.5 .4h1m-.7 .4h1m.8 0h1m30.6 0h1m4.2 0h1m-7 .1h1m24.6 .5h1m-22.4 .1h1m2.8 0h1m-8.3 .1h1m3.7 .1h1m5.1 0h1m-5.5 .1h1m-40 .2h1m55.5 .1h1m-14.2 .1h1m12.2 .3h1m-17.2 .3h1m-40.7 .5h1m30.1 .1h1m7.9 0h1m2.5 0h1m11.9 0h1m-24.4 .5h1m8.2 .2h1m-1.6 .3h1m2 .4h1m-7.7 .1h1m-4.4 .1h1m21.8 0h1m-24.9 .1h1m-3 .2h1m6.3 .1h1m2.5 0h1m-11.5 .2h1m2 .1h1m4.1 .5h1m-41.1 .1h1m40.7 0h1m13.4 0h1m-56.6 .2h1m28.2 0h1m1.6 0h1m-1.7 .2h1m-.7 .1h1m-33.5 .1h1m28.6 .1h1m3.9 0h1m9.7 0h1m-8.2 .1h1m-37.8 .1h1m53.4 0h1m-14.3 .2h1m.4 0h1m13.6 .3h1m-57 .1h1m52.1 0h1m-.6 .1h1m-28 .2h1m3.8 .4h1m-35 .1h1m30.4 0h1m7.3 .1h1m.1 0h1m-2.6 .5h1m-4.7 .1h1m1 0h1m-5.7 .1h1m-31 .2h1m28.2 0h1m-32.5 .2h1m52.1 0h1m-54.2 .2h1m39.3 .2h1m11.9 .1h1m-14.8 .1h1m-3.2 .1h1m6.1 .1h1m9.2 .1h1m-14 .1h1m-38.5 .2h1m49.8 0h1m-11.4 .1h1m.7 .1h1m9.6 0h1m-14.1 .2h1m.3 .1h1m-8.4 .1h1m-.9 .1h1m1.2 0h1m1.5 0h1m7.6 .1h1m1.7 .1h1m-12.5 .1h1m-35.3 .3h1m42.4 0h1m-12.7 .1h1m2.2 0h1m7.2 0h1m.3 0h1m-52 .1h1m45 0h1m-2.1 .1h1m-41.9 .5h1m9.6 .1h1m32.1 0h1m.1 .2h1m-49.4 .1h1m19.8 0h1m-16.9 .1h1m33.4 0h1m3.5 0h1m6.2 .1h1m-2.5 .1h1m-47.3 .3h1m38.3 0h1m-24.9 .1h1m17.5 0h1m6.9 0h1m-.4 0h1m6.2 0h1m-37.4 .3h1m29.6 .1h1m-38.6 .2h1m-.5 0h1m4.5 .1h1m1.3 0h1m18.5 0h1m3 0h1m-32.2 .1h1m7.7 0h1m21.1 .1h1m10.2 0h1m-36.5 .1h1m36.9 0h1m-55.7 .1h1m.7 0h1m-3.4 .1h1m41.1 0h1m3.7 0h1m-38.4 .1h1m6.6 0h1m5.8 0h1m13.7 0h1m9 0h1m2.6 0h1m-30.8 .1h1m18 0h1m-28.1 .1h1m3.2 0h1m25.4 0h1m2.4 0h1m-47.3 .2h1m4.2 0h1m6.8 0h1m24.2 0h1m-33.3 .1h1m36.3 .1h1m-36.9 .2h1m5.8 0h1m-5.4 .1h1m.3 0h1m30.4 0h1m-39.6 .2h1m2.2 0h1m29.4 .1h1m-21.9 .2h1m-8.4 .3h1m8.8 .2h1m19.3 0h1m2.2 .1h1m-30.5 .1h1m40 .2h1m-42.3 .1h1m-6 .2h1m-4 .1h1m-4.6 .1h1m1.5 0h1m5.6 0h1m33.1 0h1m.6 .4h1m-.4 0h1m-40.2 .1h1m36.7 .2h1m-44.3 .2h1m8.9 0h1m-4.4 .1h1m-1.2 .2h1m-10.6 .2h1m4.9 .1h1m49.8 .1h1m-50 .1h1m5.2 0h1m32.7 0h1m.1 .1h1m-38.5 .2h1m-3.9 .1h1m3.4 .1h1m-12.9 .1h1m-2.7 .1h1m8.5 0h1m-3.3 .1h1m42.5 .1h1m-41.3 .4h1m-7.2 .1h1m46.2 .1h1m3.2 .3h1m-.6 .1h1m-7.5 .1h1m5.5 .2h1m-52.4 .2h1m42.8 .3h1m-1.1 .2h1m-45.4 .2h1m-1.3 .5h1m-2.3 .1h1m50.6 0h1m-54.7 .1h1m1.1 .1h1m49.1 0h1m4.4 .1h1m-9.6 .3h1m.1 0h1m2 0h1m1.1 0h1m.3 .3h1m-55.8 .2h1m51 0h1m-52.4 .1h1m-2.9 .1h1m6.8 .2h1m41.4 0h1m-49.7 .3h1m-3.1 .1h1m5.7 .1h1m-1.5 .3h1m50.5 .2h1m-6.5 .1h1m-51.8 .1h1m.7 .1h1m46.2 .2h1m-49.3 .1h1m56.1 0h1m-10.9 .3h1m8.1 0h1m-52.8 .1h1m40 0h1m-48 .1h1m45.6 .1h1m3.2 0h1m-5.2 .1h1m-44.1 .3h1m43.8 0h1m-49.1 .2h1m2 .3h1m.4 .5h1m41.6 .1h1m.1 .1h1m3.3 .3h1m1.2 0h1m-51.8 .2h1m44.7 .2h1m-50 .2h1m54.3 0h1m-54.6 .4h1m47.3 .3h1m-48 .2h1m41.5 .3h1m.4 0h1m8.3 0h1m1.2 .2h1m-9.8 .5h1m-.8 .2h1m3.2 0h1m-52.8 .3h1m43 0h1m3.8 .3h1m3.7 .1h1m-10.2 .1h1m-48.9 .1h1m52.5 0h1m-4.7 .3h1m-.3 .1h1m-4.2 .3h1m.6 .2h1m-2.9 .3h1m-8.6 .3h1m1.5 0h1m6.5 0h1m1.2 .2h1m-7.6 .1h1m-3.5 .1h1m11.1 0h1m-8 .5h1m2.3 0h1m-.7 0h1m-48.5 .6h1m35.6 0h1m.9 .1h1m0 0h1m-38.7 .2h1m-1.7 .1h1m37.7 .4h1m5.5 .2h1m-45.1 .5h1m-5 .2h1m1.8 .2h1m32.5 .2h1m-2.9 .1h1m1.3 0h1m-1.6 .2h1m15.8 0h1m-12.9 .3h1m3.3 .1h1m-7.3 .1h1m-.9 0h1m.6 0h1m10.7 0h1m-12.7 .2h1m-10.6 .2h1m-1 .2h1m4.4 .2h1m1.4 0h1m-35.1 .1h1m47.9 0h1m-25.9 .4h1m9.2 .1h1m-11.5 .1h1m9.5 0h1m6.9 .1h1m3.3 0h1m-50.5 .1h1m1.1 0h1m26.3 .1h1m-26.9 .3h1m-4.5 .1h1m32.8 .1h1m18.5 0h1m-24.8 .3h1m15.9 .2h1m-41.2 .1h1m-1.7 .2h1m-.2 0h1m-9.4 .1h1m29 .1h1m-1 .1h1m-26.2 .3h1m30 0h1m-9.1 .2h1m-23.5 .1h1m.3 0h1m23.1 0h1m16.8 .3h1m-18.2 .2h1m4.8 .3h1m-5.6 .8h1m-22.1 .1h1m1.1 .1h1m1.2 .1h1m15.1 0h1m17 0h1m-39.9 .2h1m12.2 0h1m23.6 0h1m0 .1h1m-50 .1h1m9.9 0h1m9 0h1m2.3 0h1m9.5 .1h1m-23.8 .1h1m1.2 0h1m16.9 0h1m-8.5 .1h1m-23.5 .2h1m8.7 .1h1m3.9 .1h1m2.6 .1h1m-2.4 .2h1m9.3 .1h1m-9.2 .2h1m4.8 .2h1m11.8 .1h1m-10.8 .1h1m1 .4h1m-19.5 .1h1m11.6 .1h1m-13.3 .2h1m13.3 0h1m10.2 .2h1m-15.2 .2h1m-8.1 .2h1m-7.6 .2h1m1.3 .1h1m-15.7 .3h1m17.2 0h1m4.4 0h1m12.4 .2h1m9 .3h1m-20.7 .2h1m-22.8 .1h1m30.2 .2h1m7.3 .1h1m-25.5 .3h1m10.2 0h1m.8 0h1"/>
<path stroke="#a2acde" stroke-width="1" d="M286.5 143.1h1m-.9 .4h1m-.7 .2h1m-1.6 .1h1m1.8 .6h1m-3.5 .3h1m.6 .2h1m1.1 .1h1m-.4 .1h1m-4 .5h1m-2.8 .2h1m.1 0h1m3.2 .3h1m-5.7 .1h1m.7 0h1m-1.4 .2h1m1.2 0h1m-42.2 .2h1m-.9 0h1m37.2 0h1m-1.5 .1h1m1.6 0h1m-3.4 .1h1m1.3 0h1m.4 0h1m-3.3 .2h1m-3.3 .1h1m2.4 0h1m-3.1 .1h1m4.1 0h1m-44.1 .1h1m-2.2 .2h1m5.1 .1h1m32.3 0h1m-37.3 .1h1m2.4 0h1m.5 0h1m-.1 0h1m26.5 0h1m1.5 .2h1m-40.7 .2h1m42 0h1m-39.5 .1h1m33.2 0h1m-37.5 .1h1m.5 0h1m.1 0h1m-.9 0h1m1.6 .1h1m-.4 0h1m.9 0h1m33.2 0h1m-1.6 .1h1m-45.6 .1h1m2 0h1m4 0h1m3.4 0h1m27.2 0h1m-31.6 .1h1m-8.4 .1h1m36.8 0h1m3.4 .1h1m-46.4 .1h1m4.3 0h1m34.8 0h1m3.8 0h1m-44.5 .1h1m.9 0h1m3.4 0h1m-5.6 .1h1m.3 0h1m8.3 0h1m1 0h1m21.4 0h1m-29.3 .1h1m.2 0h1m-7.7 .1h1m4.4 0h1m.1 0h1m31.8 0h1m-48 .1h1m.2 0h1m3.1 0h1m-.5 0h1m35 0h1m4 0h1m-.1 0h1m.3 .1h1m-31.3 .1h1m-17.2 .1h1m1.3 0h1m7.7 0h1m.7 0h1m-10.5 .1h1m40.4 0h1m-48 .2h1m13.9 .1h1m2.9 0h1m28.1 0h1m-33.7 .2h1m6.3 0h1m1.1 0h1m-10 .1h1m7 0h1m24.7 0h1m-.7 0h1m-48.7 .1h1m37.8 0h1m-18 .1h1m22.4 0h1m-46.3 .1h1m0 0h1m.6 0h1m11.6 0h1m.8 0h1m5.5 0h1m-24.9 .1h1m.2 0h1m46.1 0h1m-50 .1h1m1 .1h1m36.2 0h1m6.9 0h1m-49.1 .2h1m15.8 0h1m30.3 0h1m-30.9 .1h1m3.3 0h1m18 0h1m-2.6 .1h1m-19.1 .1h1m-20.5 .1h1m15.8 0h1m19.9 0h1m-40.6 .1h1m23.8 0h1m-23.8 .1h1m21.1 0h1m-25.8 .1h1m18.2 0h1m.6 0h1m18.5 0h1m7 0h1m-51.4 .1h1m19.6 0h1m-.5 0h1m2.3 0h1m3.1 0h1m20.9 .1h1m1.2 0h1m-53.6 .1h1m25.5 0h1m-1 0h1m-.2 0h1m.2 0h1m22.1 0h1m-52.2 .1h1m.4 0h1m1.8 0h1m46 0h1m-50.5 .1h1m22.1 .1h1m-24.3 .1h1m19.5 0h1m-.9 0h1m-21.4 .1h1m21.9 0h1m-23.9 .1h1m49.1 0h1m-30.2 .1h1m19.2 0h1m-.1 0h1m5.8 0h1m-53.6 .1h1m.7 0h1m3.9 0h1m17.4 0h1m1.7 0h1m16 0h1m-20.9 .1h1m-1.3 .1h1m5 0h1m22.3 0h1m.7 0h1m-50.9 .1h1m39.2 0h1m6 .1h1m-.1 0h1m-53.6 .1h1m43.2 0h1m5.7 0h1m-29.8 .1h1m4.3 0h1m1.2 .1h1m-26.3 .1h1m38.5 0h1m9.3 0h1m-53.8 .1h1m25.5 0h1m-.6 0h1m-27.1 .2h1m24.1 0h1m-4.9 .1h1m3.9 .1h1m22.7 0h1m-29.3 .2h1m-.9 0h1m-1.3 .1h1m4.4 0h1m-27.6 .1h1m22.3 0h1m-24.1 .1h1m21.8 .2h1m26.3 0h1m-52.6 .1h1m0 0h1m-.3 0h1m41.3 0h1m-.7 0h1m6.2 0h1m-.8 0h1m-50.9 .1h1m42.1 0h1m-44.2 .1h1m48.8 0h1m-29.4 .2h1m28.7 0h1m-27.8 .1h1m-4.6 .1h1m1.1 .1h1m-3.1 .1h1m1.7 0h1m17.4 0h1m8.1 0h1m-54.1 .1h1m22.2 0h1m1.1 0h1m.1 0h1m24 .1h1m-53 .1h1m27.7 .1h1m15.9 0h1m-22.5 .1h1m.1 0h1m25.9 0h1m-51.5 .2h1m19.5 0h1m28.3 .1h1m-24.3 .1h1m16.6 0h1m-24.6 .1h1m4.5 0h1m-26.4 .1h1m41 0h1m-22.1 .2h1m2.6 .2h1m-26.9 .1h1m21.1 .1h1m1.3 0h1m-24.8 .1h1m.6 0h1m18.7 0h1m26.5 0h1m-48 .1h1m41.5 0h1m-46.4 .1h1m.1 .1h1m42.6 0h1m1.7 0h1m3.9 0h1m-32.2 .1h1m4.1 0h1m22.8 0h1m-5.2 .2h1m2.4 0h1m-48.3 .1h1m44.3 .1h1m.8 0h1m-.9 0h1m1.1 0h1m-28.5 .1h1m21.8 0h1m-26.3 .1h1m3.1 0h1m-.8 .1h1m19 0h1m-.5 0h1m-44.4 .1h1m-.1 0h1m45.4 0h1m.5 0h1m-51.9 .1h1m19.5 0h1m23.7 0h1m0 0h1m-42.8 .1h1m-.6 0h1m1.8 .1h1m38.9 0h1m-.2 0h1m-45.4 .2h1m16.4 0h1m26.9 0h1m-46.7 .1h1m15.7 .1h1m-18.9 .1h1m20.3 0h1m-2.9 .1h1m-.4 0h1m24.7 .1h1m-2.5 .1h1m-45.4 .1h1m-.3 0h1m4.8 0h1m7.4 0h1m5 0h1m21.9 0h1m.2 0h1m-43.5 .1h1m1.3 0h1m-1 0h1m5.3 0h1m6 0h1m-8.3 .1h1m.3 0h1m-8.9 .1h1m2.5 0h1m8.9 0h1m.9 0h1m1.5 0h1m-15.5 .1h1m7.9 0h1m3.5 0h1m-21.2 .1h1m-.4 0h1m2 0h1m6.4 0h1m-.7 0h1m30.4 0h1m-.5 0h1m3.2 0h1m-45.5 .1h1m7.2 0h1m4.6 .1h1m.2 0h1m23.3 0h1m-38.1 .1h1m-.6 0h1m6.9 0h1m4.1 0h1m2.9 0h1m-24.5 .1h1m-.7 0h1m13.4 0h1m-10.4 .2h1m1.5 0h1m-.4 0h1m-.7 0h1m7.2 0h1m2.1 0h1m-8.1 .1h1m31.5 0h1m-28.2 .1h1m-.8 0h1m-.5 0h1m-.3 .1h1m23.6 0h1m-45.7 .1h1m2.9 0h1m5.3 0h1m11.8 0h1m-.4 0h1m.3 0h1m-24.2 .1h1m2.9 0h1m6.6 0h1m8.9 0h1m23.1 0h1m-40.7 .1h1m8 0h1m6.2 0h1m-.4 0h1m2.3 0h1m-8.2 .1h1m-.4 0h1m2.8 .1h1m4 0h1m-25.2 .1h1m7.8 0h1m3.2 0h1m10.2 0h1m14.6 0h1m-42.4 .1h1m-.2 0h1m3.4 0h1m.9 0h1m5.8 0h1m6.6 .1h1m2.3 0h1m-.9 0h1m16.9 0h1m-28.4 .1h1m8.7 0h1m-23.1 .1h1m.1 0h1m1.1 0h1m-7.8 .1h1m8 0h1m18.3 0h1m12.7 0h1m-41.3 .1h1m17.1 0h1m8.7 0h1m-22.2 .1h1m2.1 0h1m12 0h1m-26.1 .1h1m5.7 0h1m4.6 0h1m10.7 0h1m-22 .2h1m2.4 0h1m-1 0h1m1.4 0h1m9.4 0h1m-1.5 .1h1m-12.7 .1h1m7.3 0h1m4.2 0h1m-13.3 .1h1m.6 0h1m3.3 0h1m-.8 0h1m-11.2 .1h1m6.9 0h1m-5.4 .1h1m7.6 0h1m4.1 0h1m-19.6 .2h1m26.2 0h1m-19.8 .1h1m1.3 .1h1m6 0h1m9.5 0h1m-.5 0h1m-2.4 .5h1m-24.4 .1h1m11.9 .1h1m-1.7 .3h1m.5 .4h1m-15 .2h1m24.5 0h1m-27.1 .2h1m1.3 0h1m-1 0h1m10.9 .1h1m-14.5 .8h1m23.6 0h1m-26.6 .1h1m25.1 .2h1m-21.5 .7h1m7.2 .1h1m-3.8 .2h1m1.4 .2h1m-1.5 .1h1m12.7 .1h1m-22.4 .1h1m7.2 0h1m12.1 .1h1m-.2 0h1m-16.4 .3h1m13.2 0h1m4.2 .1h1m-1.5 .1h1m-27.9 .1h1m2.9 0h1m21.6 0h1m-21 .1h1m.5 0h1m16.8 0h1m3.2 0h1m-30.8 .2h1m28.7 0h1m-27 .1h1m3.8 0h1m-7 .1h1m22.5 .1h1m-18.5 .2h1m-6 .1h1m2.8 0h1m14.3 0h1m-22.4 .1h1m21.3 0h1m1.7 0h1m1.4 .1h1m-26.5 .2h1m26.7 .1h1m-25.3 .1h1m22.4 .1h1m-30.8 .1h1m2 0h1m-3.3 .1h1m-.5 0h1m20.4 0h1m7 0h1m-4.4 .1h1m.5 0h1m-6.2 .1h1m-19.2 .1h1m17 0h1m3.3 0h1m-24.7 .1h1m2.5 0h1m-2.4 .1h1m23.2 .1h1m-8.4 .1h1m1.1 .2h1m3.7 .1h1m-5.2 .1h1m-24.5 .3h1m2.4 0h1m20.4 0h1m-3.3 .1h1m-27 .2h1m4.1 0h1m-.5 0h1m18 0h1m2.7 .1h1m-21.4 .1h1m-1 0h1m-10.5 .1h1m.2 .1h1m-.2 0h1m6.3 0h1m20.9 0h1m-36.1 .1h1m2.5 0h1m1.8 0h1m-6.9 .1h1m4.2 0h1m1.7 0h1m.3 0h1m-11.7 .1h1m13.1 0h1m-6.8 .1h1m25.3 0h1m-31.2 .2h1m6.3 0h1m22.3 0h1m-35.8 .1h1m35.8 0h1m-1 0h1m-23.8 .1h1m19.5 0h1m1.7 0h1m-.1 0h1m-33.4 .1h1m3.6 0h1m-.6 0h1m.3 0h1m-7.1 .1h1m-6.5 .1h1m2.8 0h1m8 .1h1m20.7 0h1m-34.3 .1h1m3.3 0h1m-7.3 .1h1m4.2 .1h1m-6.2 .1h1m4.3 0h1m3.2 0h1m-.1 0h1m25.2 0h1m-28.3 .1h1m-3.9 .1h1m31.3 0h1m-39.6 .1h1m9.1 0h1m26.4 .1h1m-39.1 .1h1m4.6 0h1m32 0h1m-41 .1h1m-.6 0h1m37 0h1m-31.4 .1h1m32.7 0h1m-1.6 .1h1m-.8 0h1m.1 0h1m-.9 0h1m-32.9 .1h1m-11.7 .1h1m7.3 .1h1m-10.2 .1h1m7.2 0h1m-9.6 .3h1m-.9 0h1m39 .2h1m-36.4 .1h1m-.5 0h1m2.1 0h1m33 0h1m-2.4 .2h1m-33.7 .2h1m30.7 .1h1m-34.8 .2h1m33.8 .3h1m-34.6 .1h1m32.9 0h1m-36 .1h1m-2.3 .4h1m36.2 .1h1m-3.1 .3h1m-.8 0h1m-36.6 .2h1m-.6 .6h1m-2.7 .1h1m.3 0h1m-1.5 .2h1m35.7 0h1m0 .2h1m-40.3 .2h1m36.5 0h1m-.4 .2h1m-38.4 .5h1m34.8 .1h1m-37.3 .1h1m-1 .1h1m-1.4 .1h1m-.3 0h1m34.5 0h1m-.9 0h1m.6 .1h1m-38 .1h1m-1.3 .2h1m34.8 0h1m.2 .1h1m.3 0h1m-.7 0h1m-39.2 .4h1m32.4 0h1m1.6 0h1m-8.3 .1h1m3.6 0h1m-5 .1h1m3.2 0h1m-5.7 .1h1m2.3 0h1m3.2 0h1m-5.8 .3h1m1.7 0h1m2.7 0h1m-40.8 .1h1m31.7 0h1m2.9 0h1m1.4 0h1m.8 0h1m-11.3 .2h1m1 0h1m-.4 0h1m-.1 0h1m1.5 0h1m-3.5 .1h1m.8 .1h1m-36.5 .1h1m29.9 0h1m.9 .1h1m-4.9 .1h1m9.1 .1h1m-12 .2h1m1.9 0h1m-32.1 .1h1m30.6 0h1m.4 0h1m.2 0h1m.6 .1h1m-6.6 .2h1m-.5 0h1m4.2 .1h1m3.8 .1h1m-13.2 .1h1m8.9 0h1m-38.8 .1h1m37.9 0h1m-41.4 .1h1m38.2 0h1m-12.8 .1h1m3.3 0h1m1.7 .1h1m2.5 .1h1m1.1 0h1m-40.5 .1h1m37 0h1m-38 .1h1m24.5 0h1m-.6 .1h1m-.2 0h1m-.8 0h1m10.1 .1h1m-9.6 .1h1m-.5 0h1m-3.4 .1h1m2.4 0h1m-5.1 .1h1m2.1 0h1m5.5 .1h1m-.4 0h1m-9.8 .1h1m-4.7 .4h1m2.8 0h1m.9 .1h1m-6 .2h1m2.3 0h1m7 0h1m-6.8 .2h1m.4 .1h1m4.8 0h1m-9.4 .1h1m-4.1 .1h1m-.3 .1h1m.3 .3h1m2.7 0h1m-2.6 .1h1m-5.1 .1h1m.9 0h1m2.1 0h1m-6.9 .1h1m-.5 0h1m1 .3h1m1.7 0h1m-3.4 .1h1m-6 .1h1m.6 .1h1m2.8 0h1m-2.7 .2h1m-.2 0h1m-28.4 .1h1m23.1 0h1m-24.8 .1h1m24.4 .1h1m1.2 .2h1m-2.5 .1h1m-28.1 .1h1m23.2 .1h1m-2.2 1.4h1m-1.6 .3h1m-20 .2h1m-2.6 .2h1m18.7 .2h1m-2.7 .7h1m-1 .4h1m-.3 .3h1m-1.6 .2h1m.2 .2h1m-16.5 .2h1m13.9 .3h1m-3.6 .1h1m.2 0h1m-15 .3h1m-.2 .1h1m13.4 .3h1m-3.3 .1h1m-8.7 .1h1m6.6 .2h1m-10.9 .2h1m3 0h1m3.6 0h1m-1.1 .1h1m-7.4 .1h1m-2.9 .1h1m1.5 0h1m6.9 .1h1m-8.9 .1h1"/>
<path stroke="#7886ca" stroke-width="1" d="M288.4 148.3h1m-1.2 .5h1m-.9 0h1m-.9 .2h1m-2.3 .1h1m-33.7 .1h1m0 .1h1m-.5 0h1m30.7 0h1m-36 .4h1m.7 0h1m32 0h1m-34 .1h1m-.1 .1h1m30.4 0h1m1.9 0h1m-37.2 .1h1m-2.2 .1h1m34.5 0h1m-34.9 .2h1m34.1 0h1m-36.2 .1h1m34.1 0h1m-37.4 .1h1m-.5 0h1m3.1 0h1m-7.8 .1h1m4.3 0h1m29.7 0h1m-.7 .1h1m.7 0h1m.2 0h1m-.9 0h1m-41.4 .1h1m-.4 0h1m4.6 .1h1m32.8 .1h1m-33.8 .1h1m28.8 0h1m-.5 0h1m1.2 0h1m-41.2 .1h1m2.1 0h1m-.9 0h1m0 0h1m32 .1h1m1.1 0h1m-37.4 .1h1m3.9 0h1m0 0h1m30 0h1m.9 0h1m-36.8 .1h1m1.6 0h1m31.9 0h1m-40.2 .2h1m1.7 0h1m-.3 0h1m-5.6 .1h1m-.9 0h1m.7 0h1m3.5 0h1m29.7 0h1m-34.1 .1h1m-.3 0h1m29.9 0h1m-.3 0h1m-38.1 .1h1m3.3 0h1m-2.3 .1h1m1.5 0h1m-.2 0h1m.6 0h1m2.6 0h1m27.1 0h1m-32 .1h1m-.6 0h1m-12.5 .1h1m8.8 0h1m-.7 0h1m-1 0h1m2.1 0h1m28.8 0h1m-30.8 .1h1m25.8 0h1m-38.6 .1h1m.1 0h1m8 0h1m1.2 0h1m23.3 0h1m-40.1 .1h1m5.5 0h1m-.2 0h1m5.1 0h1m24.7 0h1m1.7 0h1m-37.8 .1h1m0 0h1m-5.8 .1h1m-.3 0h1m-1 0h1m3.4 0h1m.1 0h1m4.7 0h1m28.1 0h1m-.2 0h1m0 0h1m-44.4 .1h1m1.2 0h1m4.1 0h1m30.1 0h1m2 0h1m-36.8 .1h1m0 0h1m3.3 0h1m1 0h1m26.8 0h1m-37.8 .1h1m-.9 0h1m-.8 0h1m4.2 0h1m28.6 0h1m1.1 0h1m1.2 0h1m-42.6 .1h1m0 0h1m3.2 0h1m.6 0h1m.5 0h1m.1 0h1m-10.7 .1h1m-.8 0h1m10.5 0h1m26.2 0h1m-.1 0h1m-36 .1h1m-.6 0h1m.5 0h1m1.8 0h1m26.8 0h1m3 0h1m-.7 0h1m-38 .1h1m-.8 0h1m-.7 0h1m2.1 0h1m0 0h1m-11.1 .1h1m-1 0h1m1.2 0h1m8.2 0h1m.2 0h1m1.2 0h1m25.6 0h1m-36.1 .1h1m.7 0h1m32.7 0h1m-35.1 .1h1m-.5 0h1m1.2 0h1m27.3 0h1m.8 0h1m.5 0h1m-43.7 .1h1m4.3 0h1m4.1 0h1m-1 0h1m1.9 0h1m.4 0h1m-.9 0h1m-17.1 .1h1m2.9 0h1m-.1 0h1m2.6 0h1m4.1 0h1m-12.5 .1h1m-.2 0h1m11.7 0h1m-17.6 .1h1m3.2 0h1m5.1 0h1m.3 0h1m2.4 0h1m.6 0h1m24.6 0h1m2 0h1m-43.2 .1h1m7.8 0h1m1.8 0h1m32.3 0h1m-35.3 .1h1m-.2 0h1m-.8 0h1m29.6 0h1m-45.4 .1h1m-.5 0h1m2.1 0h1m3.2 .1h1m3 0h1m32.5 0h1m-47.2 .1h1m-.5 0h1m3.2 0h1m5.8 0h1m-7.7 .1h1m2.8 0h1m-.1 0h1m33.7 0h1m-42.9 .1h1m5.6 0h1m.9 0h1m-.6 0h1m3.8 0h1m.1 0h1m-15.2 .1h1m-.1 0h1m-.4 0h1m3 0h1m.8 0h1m32.2 0h1m1.5 0h1m-46.9 .1h1m10.2 0h1m4.3 0h1m1.2 0h1m27.3 0h1m-.4 0h1m-45.7 .1h1m1.1 0h1m11.1 0h1m27.3 0h1m-42.7 .1h1m2.3 0h1m8.2 0h1m-13.6 .1h1m.7 0h1m.8 0h1m3.6 0h1m-.7 0h1m.3 0h1m28.9 0h1m2.4 0h1m-48.3 .1h1m9.2 0h1m-.1 0h1m-1 0h1m7 0h1m23.4 0h1m.2 0h1m-42.6 .1h1m.9 0h1m.7 0h1m4.4 0h1m2.9 0h1m-7.3 .1h1m1.9 0h1m6.2 0h1m-20.2 .1h1m-.1 0h1m.4 0h1m7.5 0h1m2.6 0h1m28.3 0h1m-.8 0h1m2.7 0h1m-39.2 .1h1m1.3 0h1m5.1 .1h1m28.3 0h1m-43.9 .1h1m-.2 0h1m-.8 0h1m1.6 0h1m-.2 0h1m2.6 0h1m-11.9 .1h1m.2 0h1m1.6 0h1m1.8 0h1m5 0h1m1 0h1m29.6 0h1m-.4 0h1m-37.5 .1h1m-.6 0h1m33.6 0h1m-.4 0h1m-46.6 .1h1m4.8 0h1m6.2 0h1m-.4 0h1m.4 0h1m-.5 0h1m-11.7 .1h1m.1 0h1m.5 0h1m.5 0h1m3.7 0h1m-.2 0h1m-.6 0h1m1.9 0h1m23.6 0h1m3.2 0h1m-46.6 .1h1m.7 0h1m.1 0h1m.1 0h1m.6 0h1m-.1 0h1m3.3 0h1m0 0h1m1.1 0h1m.9 0h1m24.8 0h1m-42.4 .1h1m-.2 0h1m1.5 0h1m9.9 0h1m.5 0h1m25.6 0h1m-.7 0h1m1.8 0h1m-44 .1h1m-.3 0h1m12.3 0h1m23.5 0h1m-41.9 .1h1m6 0h1m-.6 0h1m5.5 0h1m26.7 0h1m-43.9 .1h1m1.7 0h1m.2 0h1m4.2 0h1m4 0h1m1.4 0h1m-14.9 .1h1m-.3 0h1m2.3 0h1m0 0h1m7 0h1m25.5 0h1m1.5 0h1m-43.1 .1h1m-.9 0h1m3.4 0h1m0 0h1m-.7 0h1m1.7 0h1m.2 0h1m.6 0h1m-11.1 .1h1m4.8 0h1m1.9 0h1m.5 0h1m1.6 0h1m25.7 0h1m-44 .1h1m6.2 0h1m.6 0h1m6.5 0h1m-14.3 .1h1m-.2 0h1m7.3 0h1m1.4 0h1m1.3 0h1m-9 .1h1m.8 0h1m1.2 0h1m-13.3 .1h1m0 0h1m41.6 0h1m.6 0h1m-45.9 .1h1m2.8 0h1m4.4 0h1m.7 0h1m1.6 0h1m-2.8 .1h1m.9 0h1m28.2 0h1m-40 .1h1m8.1 0h1m-7.8 .1h1m3.9 0h1m.4 0h1m30 0h1m-40.6 .1h1m3.2 0h1m5.6 .1h1m-.2 0h1m-8.6 .1h1m.6 0h1m-.8 0h1m-10.7 .1h1m1.3 0h1m3.7 0h1m-.5 0h1m1.5 0h1m2.8 0h1m-.5 0h1m-13.4 .1h1m3.4 0h1m-.8 0h1m2.8 0h1m-.6 0h1m-9.5 .1h1m2.9 0h1m3 0h1m-2.5 .1h1m.8 0h1m-.1 0h1m-13 .1h1m1.2 0h1m-.8 0h1m-.9 0h1m4.4 0h1m0 0h1m-3.7 .1h1m.9 0h1m.6 0h1m-10.1 .1h1m7.5 0h1m1.2 0h1m-.3 0h1m-6.9 .2h1m-.3 0h1m4 0h1m2 0h1m-5.4 .1h1m1.5 0h1m-.9 0h1m.5 0h1m0 0h1m-10.1 .4h1m3.9 .1h1m-6.4 .1h1m.2 0h1m.6 0h1m-.7 0h1m3.2 0h1m.8 0h1m-9.1 .1h1m-.1 .7h1m13.8 2.4h1m1.2 .1h1m.4 0h1m.7 0h1m-5.1 .3h1m0 0h1m1.7 0h1m-2.8 .1h1m-.6 .2h1m-3.7 .2h1m-.8 0h1m4.3 0h1m-8.6 .3h1m1.1 0h1m3.5 0h1m-7 .1h1m-.7 0h1m.5 .1h1m-3.8 .1h1m6.3 .1h1m-6.9 .2h1m5.5 0h1m-7.3 .2h1m5.6 0h1m0 0h1m-9.1 .1h1m6.5 .3h1m-8.2 .2h1m-2 .1h1m7.1 0h1m-8.9 1h1m-.8 .2h1m-2 .1h1m0 .1h1m-1.6 .2h1m-1 .1h1m-1.6 .1h1m8.4 0h1m-.3 0h1m-11 .3h1m-.1 .2h1m7.3 0h1m.2 .1h1m-1.9 .2h1m-1.2 .1h1m-9.3 .2h1m-3.3 .5h1m10.1 0h1m-11.1 .1h1m9.4 0h1m-11 .5h1m9.2 0h1m-11.7 .3h1m10.2 0h1m-2.6 .3h1m-.7 0h1m-12.8 .1h1m-.9 0h1m.1 0h1m9.7 0h1m-.1 .1h1m-1.8 .1h1m-12.5 .1h1m.6 .1h1m9.3 0h1m-.5 0h1m-1.7 .1h1m-1.3 .2h1m-1.6 .1h1m.6 .2h1m-1.9 .1h1m-12.8 .1h1m12.5 0h1m-2.5 .1h1m-13 .1h1m11.8 0h1m-2.5 .1h1m-13.7 .2h1m12.9 0h1m-3.8 .2h1m1.4 0h1m-13.6 .1h1m9.5 .2h1m0 0h1m-12.6 .3h1m14.8 .1h1m-.2 .1h1m-18.4 .1h1m12.4 0h1m-.1 0h1m1.4 0h1m-7.6 .1h1m-.8 0h1m.3 0h1m-.5 0h1m1 0h1m-.3 0h1m-1.4 .1h1m-14.8 .1h1m8.6 0h1m5.2 0h1m.4 0h1m-8.9 .1h1m4.9 0h1m1.5 .1h1m-7.5 .1h1m-.5 0h1m.2 0h1m-3 .1h1m3.3 .1h1m-7.8 .1h1m8.8 0h1m-10.7 .2h1m4.9 .1h1m1 0h1m-5.2 .2h1m3 0h1m.5 0h1m-1.1 .2h1m-.9 0h1m-5.6 .1h1m-18.1 .1h1m13.6 0h1m2.3 0h1m.9 0h1m.2 0h1m1.3 0h1m-.8 0h1m-27.1 .1h1m4.4 0h1m0 0h1m10.3 0h1m-.2 0h1m.2 0h1m.4 0h1m-.1 0h1m-20.5 .1h1m15.8 0h1m1.9 0h1m1.1 0h1m-20.5 .1h1m18.3 0h1m.8 0h1m-.8 0h1m-24.4 .1h1m13.5 0h1m-2.3 .1h1m2.7 0h1m-3.2 .1h1m1.4 0h1m-20.8 .1h1m14.1 0h1m2.4 0h1m-.4 0h1m2.5 0h1m.8 0h1m-22.5 .1h1m-.4 0h1m-1 0h1m19.5 0h1m.4 0h1m-27.3 .1h1m4.7 0h1m13.1 0h1m4 0h1m.1 0h1m-30 .1h1m21 0h1m.7 0h1m-19 .1h1m11.6 0h1m3.1 0h1m-.8 0h1m2.3 0h1m-22.1 .1h1m12.5 0h1m-.6 0h1m1.6 0h1m3.8 0h1m-23.5 .1h1m21.9 0h1m-21.4 .1h1m2.2 0h1m13.9 0h1m4.2 0h1m-28.4 .1h1m.1 0h1m1.2 0h1m21.6 0h1m-28.4 .1h1m7.3 0h1m8.1 0h1m.4 0h1m-.1 0h1m1.8 0h1m2 0h1m-23 .1h1m.3 0h1m-.2 0h1m-.4 0h1m11.3 0h1m-19.6 .1h1m-.1 0h1m17.5 0h1m2 0h1m.8 0h1m.4 0h1m-21.5 .1h1m11.2 0h1m1.8 0h1m8.4 0h1m-32.2 .1h1m16.8 0h1m2 0h1m.1 0h1m-.8 0h1m6 0h1m2.9 0h1m-33.3 .1h1m-.3 0h1m.6 0h1m13.7 0h1m.4 0h1m-17.7 .1h1m17.3 0h1m9.2 0h1m.7 0h1m-13.3 .1h1m-1.3 .1h1m1.9 0h1m2.2 0h1m.6 0h1m-.7 0h1m2.9 0h1m-8.4 .1h1m4.1 0h1m-.3 0h1m-.4 .1h1m.2 0h1m-13 .1h1m-4 .1h1m-17.9 .1h1m.6 0h1m17.5 0h1m2.5 0h1m-5.9 .1h1m3.7 0h1m.8 0h1m2.7 0h1m-30.7 .1h1m29.6 0h1m-14.9 .1h1m-.8 0h1m11.4 0h1m1.2 0h1m-.2 0h1m-13.1 .1h1m5.8 0h1m-1.8 .1h1m.5 0h1m1.9 0h1m-.1 0h1m-.6 0h1m-15.8 .1h1m1.3 0h1m-.8 0h1m3 0h1m1.2 0h1m5.1 0h1m-5.4 .1h1m2.2 0h1m-31.1 .1h1m19.1 0h1m4.4 0h1m.5 0h1m-.4 0h1m.7 0h1m-12.2 .1h1m5.5 0h1m-.2 0h1m-1.6 .1h1m4.2 0h1m-6 .1h1m.1 0h1m1 0h1m-2.1 .1h1m-10.3 .1h1m-.1 0h1m-.4 0h1m3.6 0h1m.4 0h1m2.1 0h1m-.9 0h1m.6 0h1m-.4 0h1m-33.6 .1h1m.6 0h1m16.8 0h1m2.4 0h1m-1 0h1m-.2 0h1m4.2 0h1m-29.4 .1h1m.3 0h1m20 0h1m6.3 0h1m-5.3 .1h1m-25.2 .1h1m17.5 0h1m9.2 0h1m-29.9 .1h1m22.3 0h1m3.2 0h1m.9 0h1m-.6 0h1m-31.9 .1h1m16.9 0h1m0 0h1m2.9 0h1m-.1 0h1m1.7 0h1m2 0h1m-10.2 .1h1m4.8 0h1m3.8 0h1m.3 0h1m-9.2 .1h1m-.6 0h1m1.8 0h1m-3.9 .1h1m4.8 0h1m-6.3 .1h1m4 .1h1m-4.8 .1h1m1.3 0h1m-5.2 .1h1m.9 0h1m-.5 0h1m0 0h1m2 0h1m.8 0h1m-14.1 .3h1m.9 0h1m2.4 0h1m-.5 0h1m2.7 0h1m-29.1 .1h1m18.6 .1h1m4.5 0h1m-7.2 .1h1m1.1 0h1m1.2 0h1m.6 0h1m3.9 0h1m-31.7 .1h1m18.5 0h1m2.9 0h1m5.3 0h1m-11.5 .1h1m3.1 0h1m-4.2 .1h1m-.7 0h1m2.7 0h1m1.6 0h1m-28 .1h1m17.6 .3h1m3 0h1m-.6 0h1m4.3 0h1m-8.8 .2h1m1.9 .1h1m-1.1 .1h1m-.6 0h1m-.5 0h1m-.2 0h1m-.8 .2h1m-26.7 .1h1m19.1 0h1m-2 .1h1m5.5 0h1m-26.8 .1h1m-1.6 .1h1m20.9 0h1m1.2 0h1m.1 0h1m0 0h1m-4.2 .2h1m1 .1h1m-26.3 .1h1m21 0h1m.1 .1h1m.3 0h1m-4.1 .3h1m1.4 0h1m-24.1 .1h1m24.3 0h1m-25.8 .1h1m19.4 0h1m1.6 .2h1m-25.8 .3h1m23 0h1m-23.5 .2h1m19.4 0h1m.3 0h1m-22.7 .1h1m-2.3 .1h1m-1.2 .2h1m22.6 0h1m-23.9 .2h1m20.3 0h1m-.6 0h1m-.1 0h1m-22.8 .1h1m21.3 0h1m-23.2 .2h1m20.9 .4h1m-22.8 .3h1m19.5 .2h1m-21.5 .1h1m20.1 0h1m-22.6 .1h1m20.1 .1h1m-.6 .3h1m-.1 0h1m-22.9 .1h1m-2.2 .2h1m21.9 .1h1m-23.1 .1h1m19.9 0h1m-21.6 .2h1m20.7 .3h1m-23 .1h1m19.4 0h1m-21.6 .1h1m-1.2 .2h1m-.4 .2h1m18.7 .1h1m-.4 .2h1m-21.5 .1h1m.2 .1h1m-2.6 .1h1m0 0h1m17.9 0h1m-20.7 .1h1m.2 .1h1m18.1 0h1m-2.1 .1h1m0 .1h1m-2 .1h1m-18.8 .1h1m16.7 .2h1m-1.3 .1h1m-17.4 .3h1m-1.3 .1h1m.4 .5h1m-1.5 .6h1m14.3 .2h1m-17.1 .1h1m13.6 .1h1m-14.4 .1h1m-.5 .1h1m11 0h1m-13.4 .1h1m13.2 0h1m-15.4 .1h1m-.2 .3h1m3.2 .3h1m4.6 0h1m2.8 0h1m-13.8 .1h1m-.5 0h1m-.1 0h1m-.3 0h1m1 0h1m3.9 0h1m-8.5 .1h1m2 0h1m4.5 0h1m-.4 0h1m-10.2 .1h1m7.1 0h1m-7.6 .1h1m7 .1h1m.3 0h1m-12.3 .1h1m.5 .1h1m5.7 .1h1m-.5 0h1m-5.3 .2h1m3.2 0h1m-2.9 .1h1m-.9 0h1m1.9 0h1m-6.4 .4h1m-.4 .1h1m-1.6 .1h1m1.4 0h1"/>
<path stroke="#5a6abb" stroke-width="1" d="M251.7 154.1h1m-2.3 .1h1m-.7 0h1m-.6 .2h1m-.6 .1h1m-3.3 .1h1m1.7 0h1m-2.7 .1h1m-.7 0h1m-1.1 .1h1m-.1 0h1m-1.1 .1h1m-2.5 .1h1m-.8 0h1m-.5 0h1m18.9 9.2h1m-3 .1h1m1.3 0h1m.2 0h1m-1.8 .1h1m-3.1 .1h1m1.7 .1h1m-4.3 .1h1m-.8 0h1m.1 .1h1m-.8 0h1m.2 .1h1m-1.3 .1h1m-3.9 .2h1m4 0h1m-6.6 .1h1m4.6 0h1m-6 .1h1m-1.3 .2h1m-.5 0h1m3.3 0h1m-6 .3h1m4.2 0h1m-.7 0h1m-.8 .1h1m-1 0h1m-.8 .1h1m-.6 .1h1m-1.5 .3h1m-.7 0h1m-8.4 .1h1m6.3 0h1m-8.1 .4h1m6.6 .1h1m-8.4 .4h1m-.8 .1h1m-1.1 .1h1m5.6 .3h1m-.4 .2h1m-1.2 .2h1m-.9 0h1m-.8 .1h1m-8.6 .2h1m-.9 0h1m6.6 .2h1m-1.8 .1h1m-.1 .1h1m-9.9 .1h1m7.6 0h1m-1.4 .1h1m-.5 .1h1m-1.7 .2h1m-8.3 .1h1m-.6 0h1m6.6 0h1m-9.7 .1h1m.7 0h1m-2 .1h1m-.7 .1h1m-.9 .2h1m6.3 0h1m-8.9 .2h1m-1.5 .1h1m6 0h1m-.6 0h1m-1.1 .2h1m-8.3 .1h1m.4 0h1m-1 0h1m-1.5 .1h1m-1.6 .1h1m4.8 .1h1m.5 0h1m-3.3 .1h1m1 0h1m-8.1 .1h1m-.5 0h1m5.6 0h1m-6.7 .1h1m2.5 0h1m-.4 0h1m-.9 0h1m.4 .1h1m-2.6 .1h1m-.8 0h1m-.3 0h1m.1 0h1m-9.5 .1h1m-1 0h1m-.7 0h1m1.7 .1h1m-3.5 .1h1m-.2 0h1m4.1 0h1m-.9 0h1m.9 0h1m-8.2 .1h1m3.9 0h1m-2.6 .1h1m2.2 0h1m-4.8 .1h1m-.1 0h1m-5.7 .1h1m-.7 0h1m0 0h1m.8 0h1m-.9 0h1m-3.3 .1h1m2 0h1m1.1 0h1m-7.8 .1h1m3.8 0h1m-5.3 .1h1m-.3 .1h1m1.9 0h1m-5.3 .1h1m.9 0h1m-.3 0h1m0 0h1m-.5 0h1m-.8 0h1m-.7 0h1m2.1 0h1m-.2 0h1m-1.4 .2h1m-8.7 .1h1m1.5 0h1m-.9 0h1m3.1 0h1m-7.2 .1h1m3.7 0h1m-.5 0h1m-.3 0h1m-7.7 .1h1m3.2 0h1m-6.3 .1h1m1 0h1m-.4 0h1m.3 0h1m-.9 0h1m1.5 0h1m0 0h1m-.4 0h1m-8.2 .2h1m1 0h1m.9 0h1m0 0h1m.1 0h1m-6.2 .2h1m-.3 0h1m4.1 0h1m-6.9 .1h1m-.7 0h1m3.9 0h1m0 0h1m-8.3 .1h1m2.8 0h1m-.5 0h1m-5.7 .1h1m.3 0h1m-.9 0h1m-.3 0h1m.1 0h1m1.8 0h1m-6.1 .1h1m2.3 0h1m.1 0h1m-.8 0h1m-.9 0h1m-5.2 .1h1m.4 0h1m.4 0h1m.5 0h1m0 0h1m-5.5 .1h1m.1 0h1m-.3 0h1m1.7 0h1m-6.5 .1h1m-.9 0h1m-1 0h1m2.1 0h1m1.8 0h1m-8.5 .1h1m1.3 0h1m.6 0h1m-.8 0h1m-.1 0h1m-5.5 .1h1m-.2 0h1m-.2 0h1m1.2 0h1m1.5 0h1m-.3 0h1m-2.9 .1h1m-6.5 .1h1m-.1 0h1m.8 0h1m-.4 .2h1m.5 0h1m1.1 0h1m-1.2 .1h1m-2.4 .1h1m-.8 0h1m-2 .1h1m-4.9 .1h1m1.7 0h1m2.3 0h1m-7.3 .1h1m4.9 0h1m-6.8 .1h1m5.4 0h1m-1.3 .1h1m-3 .1h1m-.6 0h1m-1.8 .1h1m.6 .1h1m-7.7 .1h1m2.9 0h1m-.9 0h1m1.1 0h1m-5.6 .3h1m4.6 0h1m-7.4 .1h1m-.4 0h1m-.6 0h1m2.5 0h1m-6 .1h1m.5 0h1m2.1 0h1m-.9 0h1m0 0h1m-.7 0h1m-1.9 .2h1m.9 0h1m-6.8 .1h1m-4.3 .1h1m.3 0h1m-.2 0h1m-.7 0h1m6.3 0h1m-16.7 .1h1m2.1 0h1m-1.3 .1h1m9.7 0h1m-11.5 .1h1m4.7 0h1m-5.6 .1h1m6.7 0h1m-.3 0h1m-11 .1h1m-.1 0h1m2.3 0h1m-.4 0h1m-7.9 .1h1m11.6 0h1m-8.4 .2h1m1.8 0h1m-7.5 .1h1m4.1 .1h1m-.5 0h1m-9.3 .1h1m-1.5 .2h1m-.2 0h1m11.3 .1h1m-.8 0h1m-14.3 .1h1m11.5 0h1m-.8 0h1m-14.1 .2h1m-1 0h1m-.2 .1h1m11.1 0h1m-14.2 .1h1m-.7 0h1m12.4 0h1m-.8 0h1m-1.7 .1h1m.5 .1h1m-1.6 .1h1m-1.5 .2h1m-15.8 .1h1m13.6 0h1m-.1 .1h1m-.9 0h1m-2.3 .4h1m-1 .1h1m-.9 0h1m-15.6 .2h1m-1.4 .1h1m13.7 0h1m-.4 0h1m-15.9 .2h1m13.3 .3h1m-.2 .1h1m-.7 0h1m-17.8 .5h1m14.7 0h1m-.3 0h1m-17.9 .2h1m-.9 .2h1m-.1 0h1m-1.3 .1h1m16 .2h1m-19 .9h1m-1.5 .1h1m17.1 0h1m-18.3 .1h1m17 0h1m-.8 .1h1m-1.6 .1h1m-18.7 .1h1m-1.4 .3h1m17.6 0h1m-.1 0h1m-1.2 .2h1m-.9 .2h1m-1.6 .3h1m-1 .2h1m-1.2 .1h1m-19.6 .1h1m-.5 0h1m-1.1 .1h1m-1.8 .2h1m-.4 .2h1m17.6 0h1m-19.9 .2h1m17.7 0h1m-1 .2h1m-19.2 .4h1m17.3 .1h1m-19.8 .1h1m-1.1 .1h1m-.9 .4h1m16.8 0h1m-.1 .1h1m-1.7 .1h1m-.5 0h1m-.9 .1h1m-.2 0h1m-2.2 .2h1m0 .1h1m-19.8 .1h1m18 0h1m-1 .1h1m-20.2 .8h1m17.3 .1h1m-2.2 .7h1m-.9 .2h1m-16.2 .4h1m-1 .1h1m12.4 0h1m-.5 .1h1m-.7 0h1m-1.6 .1h1m-14.9 .2h1m13.1 .1h1m.1 .1h1m-15.8 .2h1m13.1 .1h1m-14.3 .1h1m-.9 0h1m10.7 .2h1m-12.7 .1h1m11.2 0h1m-.8 0h1m-1.9 .1h1m-13 .2h1m12.7 0h1m-13.9 .3h1m7.9 .1h1m-.9 0h1m-8.6 .1h1m1.6 0h1m3.9 0h1m.7 0h1m-11 .1h1m0 0h1m1.1 0h1m3.7 0h1m.4 0h1m-1.4 .1h1m-.5 0h1m-.1 0h1m-8.8 .1h1m5.5 0h1m.4 .1h1m-8.2 .1h1m-3.8 .1h1m1.9 0h1m4.6 0h1m-.9 0h1m-1.9 .1h1m-3.1 .1h1m-1 .2h1m-.8 .1h1m-.6 0h1m-.7 .2h1m-.4 0h1m-.2 .1h1m-1.1 .1h1"/>
<path stroke="#4a64b4" stroke-width="1" d="M268.1 165.3h1m.3 0h1m-.1 0h1m-.1 0h1m-.7 0h1m-2.9 .1h1m-1.5 .1h1m-.5 0h1m-1.9 .1h1m-.5 0h1m.8 0h1m-1 .3h1m-.2 0h1m-1.2 .1h1m-5.2 .1h1m-.7 0h1m0 0h1m.7 0h1m-.3 0h1m-3.6 .1h1m-.6 0h1m-2.8 .1h1m4.7 .1h1m-1.6 .1h1m-4.9 .2h1m-.4 0h1m-1.1 .1h1m-1 0h1m2.6 0h1m-6.3 .2h1m.4 .1h1m3.2 .3h1m-6 .1h1m4 .1h1m-6.6 .2h1m-.7 .1h1m-.6 0h1m-1.1 .2h1m3.3 0h1m-.7 0h1m-.6 0h1m-6.4 .1h1m-.4 0h1m3.2 0h1m-1 0h1m-5.6 .1h1m-1 0h1m-.8 .1h1m-.8 0h1m3.9 .2h1m-.9 0h1m-6.6 .2h1m3 .3h1m-.8 .1h1m-.6 0h1m-5.5 .1h1m2.9 0h1m-.3 .1h1m-.4 0h1m-5.9 .2h1m4.3 0h1m-1.6 .2h1m-5.9 .1h1m-.8 0h1m-1.5 .1h1m-.5 .1h1m-.6 .1h1m-.1 0h1m-.7 0h1m-1.7 .2h1m.6 0h1m-.9 0h1m-.5 0h1m-3.9 .1h1m0 0h1m-1.4 .1h1m.1 .1h1m-.1 0h1m-.3 0h1m-4 .1h1m-1 0h1m2.7 0h1m-5 .2h1m-.9 0h1m.9 0h1m-.9 .1h1m-2.8 .2h1m.4 0h1m-1.8 .1h1m-1.6 .2h1m.6 .1h1m-2.8 .1h1m.4 0h1m-.6 0h1m-2.2 .1h1m-1 .1h1m-5.5 3.4h1m-.3 0h1m-2.8 .1h1m0 0h1m-.1 .1h1m-2.2 .2h1m.2 .2h1m-2.3 .1h1m-1.5 .2h1m.1 0h1m-2 .1h1m0 .1h1m-1.6 .1h1m-.4 0h1m-1.8 .1h1m-.9 0h1m-.3 0h1m-2.2 .1h1m.4 0h1m-.9 0h1m-.7 0h1m-2.7 .1h1m.1 0h1m-1.2 .1h1m-1 0h1m-2.6 .1h1m-.9 0h1m.1 .3h1m-.9 0h1m-.1 0h1m-3.5 .1h1m-.3 0h1m.6 .1h1m-1.7 .2h1m.1 .1h1m-1 0h1m-.9 0h1m-3.1 .1h1m-1 0h1m.9 0h1m-3.6 .1h1m-5.3 .1h1m2.9 0h1m-.9 0h1m-.6 0h1m-.4 .1h1m0 0h1m-10.3 .1h1m-.7 0h1m-.7 0h1m.2 0h1m.2 0h1m3.8 0h1m-5.6 .1h1m-.1 0h1m1.8 0h1m-6.4 .1h1m.4 0h1m-2.3 .1h1m.4 0h1m-.7 0h1m4.1 0h1m-.7 0h1m-.7 0h1m-.5 0h1m-9.5 .1h1m-.7 0h1m1.5 0h1m-.6 0h1m-1 0h1m.4 0h1m-.4 0h1m-7.4 .1h1m-.4 0h1m-.8 0h1m3.4 0h1m-.8 0h1m-.7 0h1m-7.8 .1h1m.4 0h1m-.6 0h1m-.4 0h1m3.1 0h1m2 0h1m-.3 0h1m-2.8 .1h1m.1 0h1m-10.9 .1h1m9.7 0h1m-2.2 .1h1m-.8 .1h1m-1 0h1m-12.4 .1h1m-.6 0h1m.3 .1h1m-.9 0h1m8.4 0h1m0 0h1m-12.8 .1h1m-.6 0h1m9.3 .1h1m.2 0h1m-1.4 .1h1m-.3 0h1m-12.5 .1h1m-.4 0h1m9.2 .1h1m-13.1 .2h1m12 0h1m-1.1 .5h1m-15.1 .3h1m-.6 0h1m12.2 0h1m-1.2 .2h1m-.8 0h1m-1 0h1m-14.3 .2h1m12.1 0h1m-.5 0h1m-14.7 .1h1m12.6 0h1m-1.2 .1h1m-1.1 .1h1m-.6 0h1m-.9 .3h1m-16.3 .1h1m-.6 0h1m-.8 0h1m14.3 .3h1m-.6 .2h1m-1.5 .2h1m-.3 .2h1m-17.6 .1h1m-.4 .2h1m14.9 0h1m-.9 0h1m-1.7 .2h1m-16.4 .3h1m-.9 .1h1m14.2 0h1m-.2 0h1m-.1 .1h1m-17.9 .1h1m-1.7 .1h1m-.6 .1h1m-.8 0h1m16.1 0h1m-18.6 .1h1m-1 0h1m15.8 0h1m-17.4 .1h1m-.9 0h1m15.4 .1h1m-17.4 .1h1m15.3 0h1m-.4 0h1m-17.8 .1h1m15.2 .9h1m-.6 .2h1m-1.1 .2h1m-.6 0h1m-1.8 .4h1m-.6 0h1m-1.2 .4h1m-.6 0h1m-1.4 .1h1m-18 .2h1m-1 .2h1m-.9 .2h1m-.8 .1h1m-.6 0h1m-1.4 .2h1m-.8 0h1m-1 .1h1m-1 .1h1m14.6 0h1m-.5 .1h1m-17.5 .2h1m-.7 .1h1m-.8 0h1m14.6 0h1m-1.3 .2h1m-16.8 .1h1m-.8 .1h1m-.9 0h1m-.9 0h1m15 0h1m-2.4 .1h1m-1 .1h1m-14.6 .1h1m-1.6 .2h1m13.2 0h1m-14.9 .4h1m13.2 .1h1m-15.6 .1h1m13.4 0h1m-13.5 .1h1m-1.6 .5h1m-.4 0h1m10.8 0h1m-13.3 .2h1m-.5 0h1m-1.6 .1h1m11.4 0h1m-12.3 .1h1m-.6 .1h1m-.5 .1h1m0 0h1m5.3 0h1m-9.4 .1h1m.6 0h1m5.9 0h1m-.1 0h1m-.1 0h1m-2.9 .1h1m-.7 0h1m-.6 0h1m-9.3 .1h1m-.7 0h1m6.1 0h1m-.5 0h1m-7.9 .1h1m-.4 0h1m-.7 0h1m5.3 0h1m-9.4 .1h1m-.4 0h1m-.1 0h1m4.9 0h1m-.7 0h1m-.9 0h1m-7.7 .1h1m5.2 0h1m.5 .1h1m-3.4 .1h1m-3.6 .1h1m-.6 0h1m-.4 0h1m-.3 0h1m-.9 0h1m-1.9 .2h1m-.5 0h1m-.5 .1h1m-2 .1h1m-.6 .1h1m-1.5 .1h1m-1.2 .2h1m-2.1 .1h1"/>
<path stroke="#5a9cb4" stroke-width="1" d="M269.9 166.1h1m-.9 0h1m-.8 .1h1m-.6 0h1m-1 0h1m0 0h1m-2.8 .1h1m.4 0h1m-.4 0h1m-1.7 .1h1m-1.6 .1h1m-.1 0h1m-.7 0h1m-2.5 .1h1m-.4 0h1m-2.1 .1h1m-.2 0h1m-.9 .1h1m-.1 0h1m-.9 0h1m-2.5 .2h1m-.5 0h1m-1.4 .1h1m0 0h1m-.8 0h1m-4.2 .2h1m-.3 0h1m-1.7 .1h1m-.4 0h1m1.7 .3h1m-4.5 .1h1m2.1 0h1m-3.4 .1h1m1.5 0h1m-4 .2h1m-.8 0h1m1.8 0h1m-1.3 .2h1m-2.9 .1h1m-.1 0h1m-.8 0h1m-.4 0h1m.2 0h1m-4.9 .1h1m.5 0h1m-.9 0h1m1 0h1m-2.9 .1h1m.8 0h1m-2.7 .1h1m-.8 0h1m-1 0h1m-.3 0h1m-.6 0h1m-.6 0h1m-3.2 .1h1m-.8 0h1m-.1 0h1m-.7 0h1m-1 0h1m-.9 .1h1m-.8 0h1m-.8 0h1m-3.5 .1h1m-.6 0h1m-.6 0h1m-.8 0h1m-.3 0h1m-.6 0h1m-.6 0h1m-.7 0h1m-.6 0h1m-4 .1h1m-.3 0h1m.2 0h1m-2.4 .1h1m-1.6 .1h1m-1.6 .1h1m1 0h1m-2.5 .1h1m-1 .1h1m-.5 0h1m-1.4 .1h1m.5 0h1m-.7 0h1m-3.4 .2h1m-.3 .1h1m-.6 0h1m-.8 0h1m-.7 0h1m-2.7 .1h1m-15.8 9h1m2.4 0h1m1.6 0h1m-6 .1h1m.7 0h1m-.6 0h1m3.5 0h1m-.7 0h1m-6.9 .1h1m2.5 0h1m1.9 0h1m-8.6 .1h1m5.3 0h1m-.6 0h1m-.9 0h1m-8.7 .1h1m-.8 0h1m-.5 0h1m-.2 0h1m0 0h1m.2 0h1m.2 0h1m-.8 0h1m.8 0h1m-7.5 .1h1m.3 0h1m.1 0h1m-.8 0h1m0 0h1m-1 0h1m0 0h1m2.5 0h1m-8 .1h1m-.9 0h1m3.8 0h1m-.4 0h1m-7 .1h1m0 0h1m-.7 0h1m.7 0h1m-.7 0h1m.2 0h1m-6.3 .1h1m-.9 0h1m-.6 0h1m-1 0h1m-.5 0h1m1.7 0h1m-.7 0h1m-.7 0h1m.4 0h1m-.1 0h1m-6.8 .1h1m.3 0h1m1.6 0h1m-.8 0h1m-.1 0h1m-.5 0h1m-.8 0h1m-.7 0h1m-3.6 .1h1m-.2 0h1m3.3 0h1m-12.7 .1h1m10.1 .1h1m-2 .1h1m-.5 0h1m-1 0h1m-.6 0h1m-.4 0h1m-11.8 .1h1m-1.1 .1h1m-.9 0h1m8.4 0h1m-.5 0h1m-10.9 .1h1m-.9 0h1m9.6 0h1m-.5 0h1m-12.6 .1h1m9 0h1m-.5 0h1m-.9 .1h1m-.6 0h1m-2 .1h1m-.8 0h1m-11.6 .1h1m9.6 0h1m-.5 0h1m-.8 .1h1m-.8 0h1m-.9 .3h1m-13.2 .2h1m-.7 0h1m10.5 .1h1m-.7 .1h1m-12.7 .1h1m-2.3 .1h1m11.6 0h1m.1 0h1m-14.5 .1h1m12 0h1m-.6 0h1m-.6 .1h1m-15.1 .1h1m-.7 0h1m12.4 0h1m-.6 0h1m-15 .1h1m12.4 0h1m-14.9 .1h1m12.9 0h1m-14.3 .1h1m-.9 0h1m11.8 0h1m-13.8 .1h1m12.4 0h1m-2 .1h1m-.6 0h1m-.8 0h1m0 .1h1m-15.2 .2h1m13.2 0h1m-15.4 .1h1m12.8 0h1m-14.2 .1h1m-1.7 .1h1m-.9 .1h1m13.4 0h1m-1.6 .1h1m-.1 0h1m-2 .1h1m.9 .4h1m-1.6 .1h1m-.8 0h1m-1.3 .1h1m-.7 .2h1m-1 0h1m-1 .3h1m-16.7 .3h1m14.3 0h1m-.2 0h1m-17.8 .1h1m-1 0h1m15 0h1m-1 0h1m-16.4 .1h1m14.8 0h1m-.7 0h1m-1.8 .1h1m-.6 0h1m-1.3 .1h1m-16.5 .1h1m-.9 .1h1m15 .1h1m-.7 .1h1m-1.8 .1h1m-.6 0h1m-16.7 .4h1m-1.8 .1h1m-.2 .3h1m-.5 .2h1m13.9 0h1m-15.3 .1h1m-1 0h1m13.3 0h1m-.8 0h1m-15.5 .2h1m13.8 0h1m-16.4 .2h1m-1 0h1m-1.1 .1h1m-1.2 .1h1m-.7 0h1m-.9 0h1m-.7 0h1m13.5 0h1m-1 0h1m-16 .1h1m13.1 .3h1m-.9 0h1m-14.7 .2h1m-.5 0h1m11.9 0h1m-13.7 .1h1m11.9 0h1m-.4 0h1m-15.5 .1h1m-.1 0h1m12.6 0h1m-15.9 .1h1m-.7 0h1m-.8 0h1m-.2 0h1m12.5 0h1m-15.6 .1h1m-.5 0h1m12.6 .1h1m-14 .3h1m10.8 0h1m-1 0h1m-1 .1h1m-12.6 .1h1m-1 0h1m-.9 .1h1m-.8 0h1m10.7 .1h1m-1.2 .4h1m-.6 0h1m-.8 0h1m-12.9 .1h1m-.1 0h1m-.9 0h1m-.5 .1h1m-.8 0h1m-1 0h1m5.5 0h1m.2 0h1m-.3 0h1m-.7 0h1m-.8 0h1m-11.5 .1h1m9 0h1m-9.9 .1h1m6.5 0h1m-.6 0h1m-8.2 .1h1m-2.4 .1h1m6.6 0h1m.6 0h1m-.1 0h1m-11.6 .1h1m-.7 0h1m7.6 0h1m-9.4 .1h1m7.6 0h1m.3 0h1m-.7 0h1m-1.6 .2h1m-10.8 .1h1m-.6 0h1m-.7 0h1m-.4 0h1m.7 0h1m.5 0h1m.5 0h1m-.5 0h1m2.9 0h1m-4.1 .1h1m-4.4 .1h1m-.2 0h1m-.4 0h1m-.8 0h1m-.5 0h1m-.7 0h1m-.5 0h1m-5 .1h1m2.1 0h1m-2.5 .1h1m-.9 0h1m-.6 0h1m-.7 0h1m-.9 0h1m1.2 0h1m-4.6 .1h1m1.4 0h1m-3.7 .1h1m.2 0h1m-1 0h1m1.1 0h1m-.7 0h1m-4.3 .1h1m-.3 0h1m-1.6 .1h1m.3 0h1m1.2 0h1m-2.5 .2h1"/>
<path stroke="#72b860" stroke-width="1" d="M270.3 167.1h1m-1.8 .1h1m-1.4 .1h1m-.7 0h1m-.5 0h1m-1.1 .1h1m-.6 0h1m-1.1 .1h1m-.7 0h1m-.7 0h1m-1.9 .1h1m-.2 0h1m-2.4 .1h1m-.2 0h1m-.7 0h1m-2.2 .1h1m-.6 0h1m-.2 0h1m-1.2 .1h1m-1.3 .1h1m-.9 0h1m-.8 0h1m-.4 0h1m-2.6 .1h1m-.4 0h1m-17.1 12h1m-.1 0h1m1.2 0h1m-.6 0h1m.6 0h1m-.5 0h1m-7.3 .1h1m-.2 0h1m-.8 0h1m-.7 0h1m0 0h1m-.3 0h1m2.8 0h1m-.2 0h1m-.8 0h1m-9.3 .1h1m-.3 0h1m0 0h1m.1 0h1m-.6 0h1m-.8 0h1m2.5 0h1m-.6 0h1m-7.6 .1h1m.8 0h1m.1 0h1m-1 0h1m.5 0h1m-.4 0h1m-.7 0h1m0 0h1m-1 0h1m-.7 0h1m-.7 0h1m-7.1 .1h1m.6 0h1m-1 0h1m-1 0h1m-.4 0h1m-.2 0h1m-.9 0h1m-.7 0h1m-.5 0h1m-.7 0h1m.8 0h1m-8.9 .1h1m1.5 0h1m-.8 0h1m0 0h1m-.1 0h1m-.1 0h1m-.8 0h1m0 0h1m-1 0h1m.1 0h1m-.6 0h1m-8.9 .1h1m-.4 0h1m0 0h1m-.2 0h1m.6 0h1m2.7 0h1m-8.7 .1h1m-.9 0h1m2.4 0h1m.2 0h1m-.6 0h1m-.2 0h1m-.3 0h1m.2 0h1m-8.9 .1h1m.5 0h1m.1 0h1m-.7 0h1m.3 0h1m.4 0h1m1.1 0h1m-.6 0h1m-6 .1h1m3.3 0h1m.2 0h1m-6.6 .1h1m.5 0h1m1.5 0h1m1.3 .1h1m-.8 0h1m-10.5 .1h1m7.2 0h1m-.3 0h1m-10.6 .1h1m7.5 0h1m-9.2 .1h1m-1 0h1m-.1 0h1m-.8 0h1m-1 0h1m6.2 0h1m-9.8 .1h1m-.5 0h1m.1 0h1m6.4 0h1m-.7 0h1m-1 .1h1m-10.1 .1h1m-.1 0h1m-.9 0h1m6.9 0h1m-9.5 .1h1m-.3 0h1m-.9 0h1m6.9 0h1m-.9 0h1m-.1 0h1m-11.1 .1h1m-.1 0h1m7.9 0h1m-.9 0h1m-.9 0h1m-12.2 .1h1m.2 0h1m-.4 0h1m-.6 0h1m8 0h1m-.8 0h1m-11.1 .2h1m-2.4 .1h1m-.8 0h1m-.6 0h1m-1 0h1m-.3 0h1m-.7 0h1m-2 .1h1m-.5 .1h1m9 0h1m-10.3 .1h1m-2.7 .1h1m-.8 0h1m-.1 0h1m9.1 0h1m-12.5 .1h1m-.6 0h1m-.2 0h1m8.9 0h1m-10.2 .1h1m8.7 0h1m-1.5 .1h1m-.7 0h1m-12.1 .1h1m10.3 0h1m-11.9 .1h1m-1 0h1m-1.7 .1h1m-.5 0h1m-.9 0h1m10.4 .1h1m-13 .1h1m-.8 .1h1m9.8 .1h1m-11.6 .1h1m10.4 0h1m-12.5 .1h1m-1 0h1m-.9 0h1m-.9 0h1m-.7 0h1m-.9 0h1m11 0h1m-14.2 .1h1m-.6 0h1m-.4 0h1m-1 0h1m10.7 0h1m-.6 0h1m.1 0h1m-1.2 .1h1m-.9 0h1m-15.4 .1h1m12.1 0h1m-.5 0h1m-1.8 .1h1m-.8 0h1m-1.1 .1h1m-1 0h1m-1 0h1m-.9 0h1m-1.4 .1h1m-1 0h1m-13.6 .1h1m12.7 0h1m-2 .2h1m-.9 0h1m-.7 0h1m0 0h1m-14.9 .1h1m-.9 0h1m11.4 0h1m-.9 0h1m.5 .1h1m-15.2 .1h1m12.8 0h1m-1 0h1m-.7 0h1m-15.2 .1h1m12.7 0h1m-14.1 .1h1m12.9 .1h1m-15.7 .2h1m13.6 0h1m-15.6 .4h1m-.4 0h1m-1.5 .1h1m-.8 0h1m.2 0h1m-1.2 .1h1m11.8 .1h1m-.7 0h1m-14.8 .1h1m-.1 0h1m-.9 0h1m-2.5 .1h1m.2 0h1m11.6 0h1m-.7 0h1m-.6 0h1m-15.7 .1h1m.2 0h1m11.8 0h1m-14.5 .1h1m-.3 .1h1m12.6 0h1m-15.2 .1h1m0 0h1m12 0h1m-14.9 .1h1m12.4 0h1m-.7 0h1m-1 .1h1m-.9 .1h1m-14 .2h1m11.6 0h1m-13.8 .2h1m12.3 0h1m-1 0h1m-14 .1h1m-1.3 .1h1m-.5 0h1m11.4 0h1m-14.2 .1h1m-.3 0h1m-.1 .2h1m9.4 0h1m-.2 0h1m-1.4 .1h1m-.6 0h1m-.9 0h1m-12.1 .2h1m9.2 0h1m-.4 0h1m-12.5 .1h1m10 0h1m-.3 0h1m-.9 0h1m-1.9 .1h1m-.8 0h1m-11.4 .1h1m-.9 0h1m-1.3 .1h1m-.9 .1h1m9.3 0h1m-2.7 .1h1m.3 0h1m-.2 0h1m-.5 0h1m-4.4 .1h1m.8 0h1m-.6 0h1m-.8 0h1m-4.1 .1h1m-.1 0h1m-.1 0h1m-.3 0h1m-.7 0h1m-.8 0h1m-11.3 .1h1m-.6 0h1m5.9 0h1m.3 0h1m-.5 0h1m-.5 0h1m-.9 0h1m-1 0h1m-.9 0h1m-10.3 .1h1m6.7 0h1m-.5 0h1m-.4 0h1m-.8 0h1m-10.7 .1h1m.2 0h1m4.6 0h1m0 0h1m-1 0h1m-8.8 .1h1m-.2 0h1m5.3 0h1m.8 0h1m-.8 0h1m-10.1 .1h1m.3 0h1m5.8 0h1m-.1 0h1m-10.1 .1h1m.5 0h1m6 0h1m-8.3 .1h1m-1 0h1m-.8 0h1m5.4 0h1m-.8 0h1m.4 0h1m-10.2 .1h1m5.7 0h1m-.8 0h1m2.1 0h1m-9.4 .1h1m0 0h1m2 0h1m.5 0h1m-4.8 .1h1m-.8 0h1m-.7 0h1m1 0h1m-4.2 .1h1m-.6 0h1m.2 0h1m-.9 0h1m.4 0h1m0 0h1m-.7 0h1m-6.5 .1h1m.7 0h1m-.3 0h1m-.8 0h1m.8 0h1m-3.9 .1h1m-.7 0h1m.6 0h1m-.6 0h1m-.4 0h1m-.7 0h1m-.1 0h1m-5.1 .1h1m-.6 0h1m1 0h1m-.7 0h1m-.8 0h1m-.2 0h1m-2.1 .1h1m.8 0h1m-.9 0h1m-5.3 .1h1m-.5 0h1m.6 0h1m-.6 0h1m-.7 0h1m-.5 0h1m-.3 0h1m-6.3 .1h1m2.6 0h1m-4.7 .1h1m1.2 0h1m.8 0h1"/>
<path stroke="#a8c840" stroke-width="1" d="M255.2 181.1h1m2.7 0h1m-6.6 .1h1m-.9 0h1m-.4 0h1m2 0h1m-.6 0h1m.2 0h1m0 0h1m-1 0h1m-6.9 .1h1m-.4 0h1m1.8 0h1m.2 0h1m.5 0h1m-7.7 .1h1m0 0h1m-.7 0h1m.3 0h1m-2.4 .1h1m0 0h1m-.1 0h1m-.3 0h1m-.5 0h1m-.5 0h1m-.9 0h1m-.7 0h1m-.5 0h1m-5.6 .1h1m-.5 0h1m-.8 0h1m-1 0h1m-.2 0h1m.5 0h1m-2.6 .1h1m-1 0h1m1.9 0h1m-.6 0h1m-6.3 .1h1m-.6 0h1m-.2 0h1m-.1 0h1m1.2 0h1m-.2 0h1m-.9 0h1m-6.5 .1h1m-.5 0h1m-.9 0h1m1.9 0h1m-3.9 .1h1m-.6 0h1m-.8 0h1m0 0h1m-1 0h1m-.8 0h1m-.8 0h1m1.9 0h1m-7.8 .1h1m1.7 0h1m.1 0h1m-4.2 .1h1m-.2 0h1m-.5 0h1m-2.4 .1h1m-.7 0h1m-.9 0h1m-.7 0h1m-.7 0h1m5.9 0h1m-.9 0h1m-8.9 .1h1m.2 0h1m4.4 0h1m-.3 0h1m-.9 0h1m-.5 0h1m-2.4 .1h1m-.7 0h1m-.7 0h1m-.5 0h1m-.5 0h1m-9 .1h1m-.6 0h1m-.6 0h1m6.3 0h1m-8.5 .1h1m5.4 0h1m-8.2 .1h1m.3 0h1m-1 0h1m4.7 0h1m-7.6 .1h1m6.6 0h1m-.7 0h1m-9.6 .1h1m-.4 0h1m5.9 0h1m-1 0h1m-.2 0h1m-9.5 .1h1m-.3 0h1m-.1 0h1m4.9 0h1m-.3 0h1m-9.1 .1h1m-.4 0h1m7.1 0h1m-8.3 .1h1m5.7 0h1m-7.2 .1h1m5.2 0h1m-8.9 .1h1m7 0h1m-9.2 .1h1m-.5 0h1m-.5 0h1m6.6 0h1m-.8 0h1m-10.6 .1h1m-.5 0h1m.7 0h1m-.9 0h1m-2.6 .1h1m-.7 0h1m.2 0h1m-.7 0h1m-.8 0h1m5.7 0h1m-9.7 .1h1m.7 0h1m-2.9 .1h1m.2 0h1m-2.7 .1h1m-.5 0h1m-.2 0h1m0 0h1m6.2 0h1m-11.3 .1h1m.1 0h1m-2.1 .1h1m.8 0h1m-1 0h1m8.4 0h1m-12.3 .1h1m-1 0h1m-.1 0h1m-.1 0h1m-.4 0h1m7.7 0h1m-11.8 .1h1m.5 0h1m-2.6 .1h1m-.3 0h1m-.8 0h1m.3 0h1m8 0h1m-11.7 .1h1m-.3 0h1m8.7 0h1m-10.4 .1h1m-.8 0h1m-2.4 .1h1m-.1 0h1m-.7 0h1m-1 0h1m-.8 0h1m-3.3 .1h1m-.9 0h1m.2 0h1m-.5 0h1m-.6 0h1m8.3 0h1m-12.3 .1h1m.3 0h1m8.7 0h1m-.4 0h1m-12.5 .1h1m-.3 0h1m0 0h1m8.2 0h1m-.8 0h1m-.4 0h1m-.7 0h1m-12.9 .1h1m.8 0h1m-.2 0h1m-.4 0h1m-.7 0h1m6.5 0h1m-.8 0h1m-11.3 .1h1m9.6 0h1m-.8 0h1m-13 .1h1m-.3 0h1m-.6 0h1m0 0h1m.4 0h1m-.9 0h1m6.5 0h1m-.8 0h1m-.5 0h1m0 0h1m-13.4 .1h1m-.9 0h1m-.9 0h1m.5 0h1m-.2 0h1m-.7 0h1m-.6 0h1m6.3 0h1m-11.4 .1h1m-.6 0h1m-.8 0h1m-.7 0h1m-.9 0h1m.4 0h1m-.7 0h1m7.8 0h1m-.7 0h1m-.6 0h1m-13.6 .1h1m-.9 0h1m-.8 0h1m9.8 0h1m-.1 0h1m-.7 0h1m-.6 0h1m-13.7 .1h1m-.7 0h1m-.8 0h1m-1 0h1m-.8 0h1m.2 0h1m0 0h1m-.3 0h1m7.6 0h1m-12.2 .1h1m-1 0h1m-.6 0h1m-.8 0h1m9.1 0h1m-9.2 .1h1m7.5 0h1m-10.5 .1h1m.2 0h1m6.4 0h1m-.8 0h1m.2 0h1m-12.6 .1h1m-.5 0h1m-.4 0h1m-.4 0h1m8 0h1m-.9 0h1m-.1 0h1m-12.7 .1h1m-.4 0h1m-.7 0h1m-.5 0h1m-.2 0h1m-.5 0h1m-.9 0h1m6.9 0h1m-.9 0h1m-10.9 .1h1m.8 0h1m6.2 0h1m-.5 0h1m-11.2 .1h1m10.4 0h1m-.9 0h1m-12.3 .1h1m-1 0h1m-.5 0h1m-.4 0h1m7.6 0h1m-.8 0h1m-.7 0h1m-.8 0h1m-11.6 .1h1m-.8 0h1m10.3 0h1m-12 .1h1m-.6 0h1m-1.8 .1h1m-.9 0h1m0 0h1m.2 0h1m-1.9 .1h1m-.9 0h1m-.9 0h1m-.1 0h1m6.9 0h1m-.2 0h1m-11 .1h1m0 0h1m7.9 0h1m-.9 0h1m-.7 0h1m-12.4 .1h1m-.9 0h1m-.5 0h1m-.6 0h1m8.1 0h1m-.9 0h1m-.7 0h1m-.6 0h1m-.5 0h1m-12.8 .1h1m0 0h1m7.6 0h1m0 0h1m-11.5 .1h1m-.4 0h1m8.4 0h1m.5 0h1m-12.1 .1h1m.1 0h1m6.6 0h1m-.2 0h1m-.4 0h1m.1 0h1m-.8 0h1m-12.6 .1h1m1.3 0h1m5.6 0h1m-.1 0h1m.1 0h1m-11.9 .1h1m-.4 0h1m7 0h1m.6 0h1m-.9 0h1m-.9 0h1m-9.9 .1h1m-.2 0h1m6.2 0h1m-1 0h1m-.7 0h1m-.3 0h1m-.5 0h1m-12.3 .1h1m0 0h1m-.9 0h1m-.8 0h1m.2 0h1m6.2 0h1m1.2 0h1m-11.7 .1h1m5.7 0h1m.2 0h1m-.9 0h1m-.9 0h1m-9.2 .1h1m-.7 0h1m-.8 0h1m1 0h1m-.8 0h1m2.7 0h1m-.7 0h1m-.6 0h1m-.9 0h1m-7.6 .1h1m-.8 0h1m-.5 0h1m-.5 0h1m3.8 0h1m-6.5 .1h1m-.7 0h1m-.8 0h1m-.9 0h1m-.7 0h1m5.5 0h1m-.4 0h1m-.9 0h1m-9.6 .1h1m.5 0h1m3.2 0h1m-.2 0h1m-8.2 .1h1m-.2 0h1m-.8 0h1m.3 0h1m-.8 0h1m-.9 0h1m-.8 0h1m4.5 0h1m0 0h1m-10 .1h1m-.7 0h1m-.4 0h1m.5 0h1m-1 0h1m3.1 0h1m1.7 0h1m-.7 0h1m-10.5 .1h1m1.2 0h1m-.7 0h1m4.5 0h1m-.8 0h1m0 0h1m-9.2 .1h1m6 0h1m-.9 0h1m-9.2 .1h1m-.9 0h1m1.4 0h1m3.1 0h1m-.3 0h1m-.8 0h1m-7.7 .1h1m-.5 0h1m.4 0h1m.2 0h1m.3 0h1m1.2 0h1m-6.5 .1h1m.6 0h1m-.2 0h1m-.4 0h1m-1 0h1m-5 .1h1m-.6 0h1m-.6 0h1m-.8 0h1m-.9 0h1m-.2 0h1m-.6 0h1m.6 0h1m-3.1 .1h1m-.3 0h1m-.4 0h1m-4 .1h1m-.9 0h1m-.4 0h1m-.7 0h1m-.3 0h1m-.6 0h1m-.3 0h1m-.7 0h1m-4.3 .1h1m-.8 0h1m2.3 0h1m-.7 0h1m-.7 0h1m-.9 0h1m-.6 0h1m-.9 0h1m-4.7 .1h1m-.6 0h1m-.5 0h1m-2.7 .1h1m.9 0h1m-.3 0h1m.4 0h1m-5.2 .1h1m-.8 0h1m-.7 0h1m.2 0h1m.4 0h1m-.2 0h1m-.2 0h1m-5.6 .1h1m0 0h1m-.4 0h1m0 0h1m-.4 0h1m.1 0h1m-4.6 .1h1m1 0h1m.1 0h1"/>
<path stroke="#e0c030" stroke-width="1" d="M255.7 182.1h1m-.3 0h1m1.1 0h1m-.5 0h1m-5 .1h1m-.3 0h1m-.3 0h1m-.8 0h1m-.7 0h1m-1 0h1m1.1 0h1m-5.7 .1h1m-.8 0h1m-.6 0h1m-.4 0h1m-.1 0h1m-2.1 .1h1m1.5 0h1m-4.8 .1h1m.3 0h1m.8 0h1m0 0h1m-.6 0h1m-.7 0h1m-4.6 .1h1m-.2 0h1m-.9 0h1m-.6 0h1m-.6 0h1m-.7 0h1m-.9 0h1m-.5 0h1m0 0h1m-5.3 .1h1m-.1 0h1m.1 0h1m-.4 0h1m-.9 0h1m-.6 0h1m-.6 0h1m-.5 0h1m-4.1 .1h1m0 0h1m-.8 0h1m.2 0h1m-.8 0h1m-.5 0h1m-.9 0h1m-.8 0h1m-4.4 .1h1m-.8 0h1m.5 0h1m-.8 0h1m0 0h1m-.8 0h1m-5.1 .1h1m-.4 0h1m-.9 0h1m1.5 0h1m-.7 0h1m-.8 0h1m-.2 0h1m-4.6 .1h1m-.9 0h1m-.5 0h1m-.8 0h1m-3 .1h1m-.5 0h1m4 0h1m-5.8 .1h1m-.5 0h1m-.7 0h1m.2 0h1m1.8 0h1m-5.9 .1h1m-.1 0h1m-.9 0h1m-.3 0h1m-.7 0h1m-2.9 .1h1m-.7 0h1m-.7 0h1m.3 0h1m-.9 0h1m-2.9 .1h1m-.9 0h1m-.2 0h1m-.9 0h1m-.1 0h1m1.9 0h1m-.9 0h1m-.9 0h1m-.9 0h1m-7 .1h1m-.4 0h1m3.6 0h1m-.8 0h1m-6.2 .1h1m4 0h1m-5.9 .1h1m-.8 .1h1m-.7 0h1m-.8 0h1m-1 0h1m-1.4 .1h1m0 0h1m3.6 0h1m-.6 0h1m-7.4 .2h1m-.8 0h1m5.5 0h1m-7.8 .1h1m-.1 0h1m4.1 0h1m-.9 0h1m-.5 0h1m-.9 0h1m-7.3 .1h1m4.5 0h1m-.7 0h1m-.9 0h1m-.8 0h1m-7.6 .1h1m5.7 0h1m-8.1 .1h1m.4 .1h1m4.1 0h1m-.7 0h1m-.6 0h1m-8.6 .1h1m.2 0h1m-.9 0h1m-1 0h1m-.7 0h1m-1.7 .1h1m5.4 0h1m-8.4 .1h1m.8 0h1m-1.2 .1h1m-.9 0h1m-.9 0h1m4.8 0h1m-.8 0h1m-7.6 .1h1m-.6 0h1m-.9 0h1m4.5 0h1m-.7 0h1m-6.7 .1h1m4.6 0h1m-7.5 .1h1m-.3 0h1m4.8 0h1m-6.8 .1h1m4.7 0h1m-1.3 .1h1m-6.4 .1h1m-.8 0h1m4.8 0h1m-7 .1h1m-.8 .1h1m4.5 0h1m-.6 0h1m-7.7 .1h1m-.8 0h1m-.8 0h1m4.9 0h1m-.9 0h1m-1.3 .1h1m-.5 0h1m-6.5 .1h1m4.1 0h1m-.5 0h1m-6.1 .1h1m3.8 0h1m-6.8 .1h1m-.1 0h1m-2.3 .1h1m-.1 0h1m-.4 0h1m-2.3 .1h1m0 0h1m-.8 0h1m4 0h1m-.9 0h1m-7.3 .1h1m-.7 0h1m-.7 0h1m-.5 0h1m-.8 0h1m-.9 0h1m3.5 0h1m-.9 0h1m-6.9 .1h1m-.1 0h1m-2 .1h1m-.9 0h1m.3 0h1m3.1 0h1m-3.9 .1h1m-.7 0h1m-.3 0h1m.2 0h1m-5.7 .1h1m-.5 0h1m.4 0h1m.3 0h1m-1 0h1m-.7 0h1m-.6 0h1m-.2 0h1m-.8 0h1m-1 0h1m-5.5 .1h1m-.6 0h1m.1 0h1m-.8 0h1m1 0h1m-3.9 .1h1m-.7 0h1m-3.1 .1h1m1.6 0h1m0 0h1m-.6 0h1m-.2 0h1m-.9 0h1m-.6 0h1m-.9 0h1m-.9 0h1m-1 0h1m-6 .1h1m-.9 0h1m.5 0h1m-.7 0h1m-.8 0h1m-1 0h1m-.5 0h1m-3.5 .1h1m.3 0h1m.4 0h1m0 0h1m-.6 0h1m-.4 0h1m-5.4 .1h1m-.8 0h1m.4 0h1m-1 0h1m-.3 0h1m0 0h1m.1 0h1m-.9 0h1m-.9 0h1m-5.9 .1h1m-.1 0h1m.8 0h1m-.5 0h1m-.2 0h1m-5 .1h1m-.1 0h1m-.1 0h1m1.5 0h1m-.8 0h1m-5.2 .1h1m.1 0h1m-.9 0h1m-.8 0h1m.4 0h1m-.4 0h1m-3 .1h1m-.4 0h1m-2.1 .1h1m-.9 0h1m-1 0h1m.2 0h1m-.5 0h1m-.9 0h1m-3.7 .1h1m.1 0h1m-.6 0h1m.5 0h1m-3.8 .1h1m-.7 0h1m.7 0h1m-3.1 .1h1m-.5 0h1m-.8 0h1m-.7 0h1m-.7 0h1m.5 0h1m-3.4 .1h1m-.6 0h1m-.4 0h1m0 .1h1m-3.1 .1h1m1.2 0h1m-.8 0h1m-3.8 .1h1m.9 0h1m-.2 0h1m-.7 0h1m-3.5 .1h1m.3 0h1"/>
<path stroke="#e88a28" stroke-width="1" d="M257.9 183.1h1m-.5 0h1m-2.1 .1h1m-.3 0h1m-1 0h1m-.9 .1h1m-.7 0h1m-.8 0h1m-2.4 .1h1m-1 0h1m0 0h1m-1.7 .1h1m.3 0h1m-.8 0h1m-2.7 .1h1m-.6 0h1m-.9 0h1m-.6 0h1m-.3 0h1m-2.4 .2h1m-.7 0h1m-1.3 .1h1m-.9 0h1m-.5 0h1m-.4 0h1m-1.5 .1h1m-.9 0h1m-1 0h1m-.4 0h1m-4.1 .1h1m-.9 0h1m.2 0h1m.9 0h1m-4.9 .1h1m.3 0h1m1.9 0h1m-.4 0h1m-5.7 .1h1m-.8 0h1m-.8 0h1m.3 0h1m1.6 0h1m-.9 0h1m-4.7 .1h1m-.6 0h1m-2.2 .1h1m-.9 .1h1m3.4 0h1m-5 .1h1m2.4 0h1m-5 .1h1m-1 0h1m-.7 0h1m-.3 0h1m-1 0h1m-.9 0h1m2 0h1m-4.8 .1h1m-.9 0h1m-.8 0h1m0 0h1m-.7 0h1m1.2 0h1m-4.1 .1h1m0 0h1m1.1 .1h1m-.9 0h1m-.2 0h1m-1 0h1m-5.7 .1h1m-1 0h1m.2 0h1m2.2 0h1m-4.6 .1h1m-.4 0h1m-1 0h1m-.7 0h1m1.3 0h1m-4.5 .1h1m-.5 0h1m-.9 0h1m2.1 0h1m-5.1 .1h1m0 0h1m1.6 0h1m-.2 0h1m-.8 0h1m-1 0h1m-5.8 .1h1m-.9 0h1m-.8 0h1m-.7 0h1m-.5 0h1m-.5 0h1m2.1 0h1m-5.8 .1h1m-1 0h1m.8 0h1m-1.8 .1h1m-.6 0h1m2 0h1m-5.5 .1h1m-.9 0h1m-.7 0h1m.3 0h1m1.3 0h1m-.3 0h1m-5.6 .1h1m3.1 0h1m-.7 .1h1m-4.5 .1h1m-.4 0h1m1.8 0h1m-.7 0h1m-4.7 .1h1m-.9 .1h1m-1 .1h1m2.7 0h1m-1.6 .1h1m-1 0h1m-.6 .1h1m-.9 0h1m-.8 .1h1m-4.2 .1h1m1.8 0h1m-3.7 .1h1m1.3 0h1m-.3 0h1"/>
<path stroke="#d84020" stroke-width="1" d="M257 184.1h1m.5 0h1m-2.3 .1h1m-.3 0h1m-.5 0h1m-1.8 .1h1m-.8 0h1m-1.1 .1h1m-.3 0h1m-2.4 .1h1m-.7 0h1m-.7 0h1m0 0h1m-1 0h1m-2.1 .1h1m-.5 0h1m-1 0h1m-.5 0h1m-.6 0h1m-1.7 .1h1m-1 0h1m-1.5 .1h1m-.3 0h1m-.9 0h1m-.5 0h1m-2.1 .1h1m-.4 0h1m-.9 0h1m-2 .1h1m-.8 0h1m-.8 0h1m-.6 0h1m-.8 0h1m-.9 0h1m-2.5 .1h1m-1 .1h1m-.6 0h1m-.6 0h1m0 0h1m-2.9 .1h1m-.9 0h1m-.1 0h1m-.5 0h1m-1 0h1m-1 0h1m-.9 0h1m-.9 0h1m-2.5 .1h1m-.6 0h1m-1 0h1m-.6 .1h1m-.4 0h1m-2 .1h1m-.5 0h1m-.9 0h1m-2.3 .1h1m-.6 0h1m-.3 0h1m-.8 0h1m-.3 0h1m-1 0h1m-2.5 .1h1m-1 0h1m-.8 0h1m-.9 0h1m.1 .1h1m-1 0h1m-1.8 .1h1m-.5 0h1m-.9 0h1m-2.1 .1h1m-.7 0h1m-.7 0h1m-1.8 .1h1m-.8 .1h1m-.7 0h1m-1.8 .1h1m-.1 0h1m-.8 0h1m-.4 0h1m-1 0h1m-1 0h1m-.9 0h1m-2.7 .1h1m-.4 0h1m-.7 0h1m-.6 0h1m-1.7 .1h1m-.2 0h1m-2.3 .1h1m.2 0h1m-2.5 .1h1m-.5 0h1m-.5 0h1m-.8 0h1m-.9 0h1m-2.2 .1h1m-1 0h1m-.7 0h1m-.5 0h1m-1 0h1m-.1 0h1m-.9 0h1m-2.8 .1h1m-.9 0h1m-.9 0h1m-.9 0h1m-.5 0h1m-.2 0h1m-2.6 .1h1m-.9 0h1m-.6 0h1m-.3 0h1"/>
</g>
<path d="M374.3 154.9L384.4 148.8L396.5 148.2L399.2 154.2L397.9 162.3L393.8 169L385.8 172.4L377.7 169L374.3 161Z" fill="none" stroke="#cfb0b8" stroke-width="0.6"/>
<g filter="url(#bl)">
<path stroke="#c8cdeb" stroke-width="1" d="M360.8 136.6h1m-.4 .8h1m.5 1.2h1m-5.1 .1h1m10.2 0h1m-15.6 1.4h1m10.2 .4h1m-12.4 .9h1m5.8 .3h1m2.1 .1h1m-11.2 .1h1m1.4 .1h1m.1 .2h1m1.9 .7h1m-9.5 .1h1m12 1.1h1m-10.1 .4h1m3.5 .1h1m-13.2 .2h1m16 0h1m-12.5 .1h1m.4 .5h1m16 .2h1m-20.3 .3h1m8.3 .1h1m14.2 0h1m-25.7 .2h1m8.4 .1h1m5.3 .4h1m-17.8 .2h1m-4.1 .4h1m13.7 0h1m5.4 0h1m8.3 .2h1m-3.8 .8h1m-13.6 .5h1m5.5 0h1m-3.3 .3h1m-4.9 .4h1m-16.5 .3h1m18.2 .1h1m10.8 0h1m-2.1 .2h1m-32.4 .3h1m17 0h1m-2.2 .5h1m-15.8 .1h1m18.6 .3h1m17.1 .2h1m-.3 0h1m-20.3 .1h1m-.4 0h1m-21.7 .1h1m31.1 .3h1m3 0h1m-1.8 .2h1m-5.7 .6h1m4.9 0h1m-1.4 .1h1m-12 .5h1m-1 .1h1m-6.6 .1h1m15.7 .1h1m-14.8 .2h1m22.1 .1h1m-21.1 .1h1m18.1 0h1m-46.7 .6h1m27.3 0h1m-2.1 .2h1m-30.7 .1h1m2.9 .1h1m43.7 0h1m-46.8 .2h1m-.8 .2h1m21.3 .2h1m7.9 .2h1m-33.6 .1h1m29.2 .2h1m-5.1 .2h1m22.9 .1h1m-23.9 .2h1m1.1 0h1m-28.5 .2h1m-1.3 .4h1m27.1 0h1m4.6 0h1m-9.8 .4h1m21.8 .1h1m2.9 0h1m-23.4 .2h1m-28.3 .3h1m28.6 0h1m-.7 0h1m-32.6 .3h1m1.6 .3h1m-4.5 .1h1m3.3 .1h1m-2.4 .9h1m-.9 .2h1m-2.4 .6h1m2.2 .6h1m-.5 .1h1m41.5 .6h1m-.4 .8h1m-45.1 .2h1m42.4 .1h1m-45.3 .1h1m.8 .7h1m-5.8 .1h1m4 0h1m-.4 .1h1m.6 .2h1m-6.3 .3h1m36.3 .7h1m-35.9 .7h1m31.5 0h1m0 0h1m-3.6 .2h1m-38.3 .3h1m36 0h1m9 .1h1m-11 .4h1m8.2 .2h1m2.1 .3h1m-16.7 .6h1m1.3 .1h1m-2.2 .3h1m9.2 .4h1m-41.9 .3h1m34.8 .2h1m-38 .8h1m29.1 .5h1m-29.9 .2h1m-3.5 .1h1m43.4 0h1m-13.1 .4h1m-32.9 .1h1m26.9 .2h1m-.6 .4h1m-28.2 .2h1m28.5 .3h1m-1.3 .4h1m1.6 .6h1m-7.1 .3h1m-24.4 .5h1m-3.5 .5h1m-.1 .4h1m29.2 .5h1m-32.6 .2h1m24.1 .1h1m-23.5 .6h1m25.1 0h1m-26.6 .3h1m22 .1h1m-2.9 .2h1m17.1 .1h1m-13.1 .3h1m4.6 0h1m-12.2 .3h1m-24.9 .3h1m24.7 .1h1m-28.9 .3h1m1.9 .2h1m22.7 1h1m-24.4 .2h1m-1.2 .1h1m19.7 .1h1m-22.1 .2h1m20.4 .3h1m-25.9 1.3h1m23.2 .2h1m4.6 .2h1m-4.4 .2h1m-.5 .1h1m-25.3 .2h1m21.3 0h1m5 .3h1m-31 .3h1m23.5 1.1h1m-.6 .1h1m-1.4 1.3h1m-23.3 .4h1m19.5 .8h1m-21.9 .1h1m23.8 .1h1m-5.7 .5h1m1.2 .3h1m-2.3 .2h1m-23.2 .6h1m19.2 0h1m-22 .2h1m22.3 0h1m-1.2 .2h1m1.6 .4h1m1.7 0h1m-10.7 .2h1m-.5 .1h1m.5 .2h1m-4 .1h1m.3 .1h1m-3.5 .6h1m5.9 .1h1m-3 .2h1m-22.3 .1h1m15 .1h1m-16.7 .1h1m16.4 .5h1m-1.4 .4h1m4.3 0h1m-.6 0h1m-1.2 .4h1m4.3 .3h1m-15.1 .1h1m-16.4 .1h1m17 .1h1m4.2 .4h1m-9.2 .3h1m4.6 .3h1m-.8 .2h1m3.4 0h1m-9.1 .5h1m-16.4 .1h1m-1.2 .2h1m18 0h1m.5 0h1m-9.4 .2h1m2.8 0h1m-5.1 .2h1m1.4 0h1m1.7 .1h1m-5.2 .2h1m14.3 .1h1m-28.8 .3h1m18.4 .1h1m-20.2 .7h1m-2 .7h1m13.2 .1h1m-2.2 .9h1m-1.7 .2h1m2.7 0h1m-15.5 .2h1m8.1 1.2h1m2.1 .2h1m-1.4 .2h1m-.2 0h1m1 .3h1"/>
<path stroke="#a2acde" stroke-width="1" d="M357.3 145.6h1m1.3 0h1m-2.4 .1h1m.1 .5h1m-4.9 .3h1m4.2 .3h1m-6.2 .3h1m-.5 .1h1m1.4 0h1m2 .9h1m-10.5 1.1h1m-2.1 2.6h1m12.4 0h1m-14.3 .3h1m36.2 .5h1m-24.6 .8h1m-.5 0h1m24.8 .1h1m-41.1 .1h1m13.5 0h1m.1 0h1m19.7 .1h1m-38.7 .2h1m15.2 0h1m21.8 .1h1m-1.2 .1h1m-1.4 .1h1m-24.3 .3h1m2.4 .4h1m-1.9 .1h1m-3.1 .1h1m-15.1 .2h1m39.5 0h1m-42 .2h1m41.4 .2h1m-26.6 .1h1m1 0h1m-3.3 .2h1m-2.3 .1h1m.1 .1h1m.2 0h1m-4 .1h1m.8 0h1m-15.9 .3h1m41.4 0h1m-43.1 .1h1m41.1 0h1m-44.3 .1h1m30.9 0h1m-19.5 .1h1m3.3 0h1m-5.2 .1h1m0 0h1m3.6 0h1m-.7 0h1m-1.6 .5h1m2.6 .1h1m8 0h1m-.8 0h1m10.8 .1h1m-30.6 .1h1m-1 .1h1m4.9 0h1m22.2 .1h1m-43.3 .1h1m13.1 0h1m-2.4 .1h1m3.3 0h1m-2.2 .1h1m-.6 0h1m13.5 0h1m-6.4 .1h1m16.6 0h1m-27.2 .1h1m25.9 0h1m-28.3 .1h1m-.7 .1h1m.2 .1h1m8 .1h1m-24.2 .1h1m9.4 0h1m7 0h1m8 0h1m-15.3 .2h1m-4.8 .1h1m1.6 0h1m.8 0h1m-.5 0h1m4.6 0h1m2.4 .1h1m-24.9 .1h1m24.7 0h1m-15.7 .1h1m7.3 .2h1m-8.1 .1h1m1.1 0h1m.6 0h1m2 .2h1m1.9 0h1m1.4 0h1m-7 .1h1m-17.9 .2h1m14.7 0h1m6.2 0h1m-16.2 .3h1m17.4 0h1m-19.4 .2h1m2.9 0h1m-.9 .1h1m.7 0h1m-2.8 .1h1m-1.2 .1h1m-13.6 .1h1m13.1 .2h1m-4.7 .1h1m-1.7 .1h1m-9.3 .1h1m-.9 0h1m9.8 0h1m12.2 0h1m-14.1 .1h1m13.2 .1h1m-.7 .3h1m-1.7 .1h1m-26.1 .3h1m37.8 .1h1m-28.1 .1h1m13.5 0h1m-16.6 .1h1m14.3 0h1m-16.6 .1h1m-.6 0h1m14.7 .2h1m10.4 0h1m-13.4 .1h1m-16.3 .1h1m12.5 0h1m-24 .2h1m23.2 0h1m-13.4 .2h1m-12.6 .2h1m22.2 0h1m-13.6 .3h1m-.1 0h1m15.9 0h1m2.7 0h1m-33.3 .1h1m30.1 .1h1m3.6 0h1m-1.6 .1h1m-8.8 .1h1m4 0h1m1.7 0h1m-3.7 .1h1m-.2 .1h1m1.9 0h1m-25.5 .2h1m-11.2 .7h1m-6.2 .1h1m38.7 0h1m-36.2 .3h1m33.8 0h1m-34.8 .2h1m20.1 .6h1m-28.8 .2h1m-.7 0h1m1.2 .1h1m-1.4 .1h1m-.9 .2h1m1.2 0h1m-3.8 .1h1m-.5 0h1m-1.9 .3h1m3.3 .1h1m-2 .1h1m-2.6 .1h1m-1.6 .1h1m-1.8 .2h1m24.1 .4h1m-23.8 .4h1m-3.2 .2h1m-.1 0h1m-3 .1h1m3.7 0h1m-3 .3h1m.8 .2h1m-.7 0h1m-4.4 .1h1m21.9 0h1m-1.9 .2h1m-24.9 .4h1m2.6 .1h1m.3 .4h1m-6.8 .6h1m1.8 0h1m-3.4 .2h1m-.3 0h1m2.6 .2h1m0 .5h1m-6.5 .3h1m-.7 0h1m3.2 .1h1m-1.7 .2h1m17.7 .1h1m-19.8 .1h1m17 0h1m-22.2 .2h1m1.3 0h1m-2.7 .4h1m-.8 .4h1m1.6 .3h1m.1 0h1m-3.6 .4h1m1.9 0h1m-4.5 .4h1m16.9 .1h1m-16.7 .1h1m1.1 0h1m-4.2 .5h1m-.2 1.2h1m-1.1 .6h1m-1.8 .1h1m14 0h1m-1.6 .1h1m-.6 .1h1m-15.5 .4h1m-2.2 .8h1m14.8 .3h1m-.8 0h1m-18.1 .4h1m16.3 .4h1m-16.1 .2h1m11.3 .4h1m-.9 0h1m-16.4 .2h1m17.3 .2h1m-1.3 .1h1m-17.8 .1h1m-.9 .2h1m-1.9 .1h1m-1 .1h1m13.6 .1h1m-.8 0h1m.6 .2h1m-16.1 .1h1m-.9 .3h1m13.7 .1h1m-.5 .2h1m-.7 .2h1m.4 .1h1m-3.1 .5h1m-17 .2h1m14.8 .2h1m-1.9 .2h1m.9 .1h1m-3.2 .1h1m-.6 .2h1m-1.1 .3h1m.6 0h1m-2.6 .4h1m-1.2 .1h1m-.4 0h1m-1.8 .1h1m-2.6 .3h1m2.5 .3h1m-.7 .3h1m-.9 0h1m-19.2 .4h1m12.8 .1h1m1.2 .1h1m-15.8 .1h1m-2 .3h1m12.2 .1h1m-13.5 .3h1m11.5 .1h1m.1 0h1m-3.7 .4h1m1.2 0h1m-16.4 .1h1m10.8 .5h1m-12 .5h1m-1.5 .3h1m8.3 .1h1m-.3 0h1m0 .2h1m-12 .1h1m11.2 .4h1m-2.2 .1h1m-4 .2h1m0 .2h1m-9.8 .8h1m8.6 .1h1m-3 .1h1m-.9 0h1m-9.2 .2h1m10.4 0h1m-1 .1h1m-12.1 .1h1m8 0h1m-10 .1h1m9.4 .2h1m-12 .5h1m-.9 .8h1m-.7 1.7h1m-.9 0h1m-.3 .8h1m-1.5 1h1m8.1 .1h1m-10.8 .1h1m-.5 0h1m8.3 .2h1m-1.8 .2h1m-1.1 1h1m-1 .1h1m-8.3 .3h1m.4 .1h1m-1 .1h1m-2.4 .1h1m2.4 0h1m1.7 0h1m-2.6 .1h1m-4.4 .1h1m-.1 .1h1m-1.8 .3h1m-.8 0h1m-.3 0h1m0 .3h1"/>
<path stroke="#7886ca" stroke-width="1" d="M360.1 147.8h1m-5.4 .2h1m-.9 0h1m-.2 0h1m2.1 0h1m-4.9 .3h1m-2.4 .1h1m2.3 0h1m-5.8 .2h1m-.8 .4h1m5.9 .2h1m-6.7 .1h1m4.6 0h1m0 .3h1m-1 .2h1m-9.4 .4h1m-2.2 .3h1m10.3 .2h1m-12.6 1.3h1m10.6 0h1m-12 .3h1m-2.6 .2h1m.3 .1h1m-1.8 .5h1m10.3 .6h1m-11.4 .5h1m-1.5 .1h1m-.4 .1h1m9.8 0h1m-1.2 .1h1m-11 .1h1m-.5 0h1m-2.3 .1h1m-.4 0h1m33.2 .1h1m3.2 0h1m-2.1 .1h1m-27.6 .2h1m22.3 0h1m3.8 .1h1m-4.5 .1h1m-27.2 .2h1m-.9 0h1m22.8 .1h1m-25 .1h1m-10 .1h1m38.4 0h1m-40.1 .1h1m-.7 .2h1m37.4 0h1m-30.6 .1h1m.4 .5h1m20.8 .1h1m-25.5 .1h1m-7.2 .1h1m5.3 .2h1m.3 0h1m-.9 .1h1m-4.5 .1h1m2 0h1m21.1 0h1m-22.3 .1h1m-8.8 .1h1m6.7 0h1m1 .1h1m27.1 0h1m-30.7 .2h1m-.7 0h1m-3.4 .1h1m1.3 0h1m29.2 0h1m-38 .2h1m2.2 0h1m.3 0h1m-3.9 .3h1m1.1 0h1m-.7 .1h1m2 0h1m-.7 0h1m-8.4 .1h1m5.2 0h1m-6 .1h1m.8 0h1m0 .1h1m-1 .1h1m-1.5 .1h1m1.3 .3h1m.7 0h1m-6.9 .1h1m24.2 0h1m-21.3 .1h1m19.1 0h1m-26.8 .1h1m1 0h1m.5 0h1m.3 0h1m.5 .1h1m18.4 0h1m-20.2 .1h1m-.1 .1h1m9.5 0h1m-13.9 .1h1m1.5 0h1m-7.4 .2h1m15.9 0h1m-17.8 .1h1m16.4 0h1m-17.8 .1h1m15.1 0h1m8.4 0h1m-11.9 .1h1m-17.2 .2h1m-.4 0h1m2.9 0h1m12.6 0h1m-.6 0h1m-.6 0h1m16.7 0h1m-.2 0h1m-35.2 .1h1m-.5 0h1m-1.3 .1h1m13.4 0h1m.1 0h1m16.7 0h1m-17.6 .1h1m5.4 .1h1m-26.3 .1h1m.4 0h1m.3 .1h1m-.1 .2h1m30.1 0h1m-33.1 .1h1m16.2 0h1m-20.1 .1h1m.5 0h1m0 0h1m.7 0h1m18.5 0h1m0 .1h1m-28 .1h1m.5 0h1m-1.5 .1h1m13.3 0h1m-15 .1h1m0 0h1m.1 0h1m-1.7 .1h1m-2.4 .1h1m.2 0h1m11.4 0h1m19 0h1m1.1 0h1m-30.8 .1h1m20.1 0h1m-15 .1h1m-11.8 .1h1m9.1 0h1m-.9 0h1m13.3 0h1m7 0h1m-32.6 .1h1m8.7 0h1m6.8 0h1m-19 .1h1m23.2 0h1m-24.3 .1h1m8.7 0h1m11.9 0h1m-.9 0h1m-25.8 .1h1m2.1 0h1m.1 0h1m-.1 0h1m-.4 0h1m18.2 0h1m-24.3 .1h1m1 0h1m4.9 0h1m15.6 0h1m-27 .1h1m-1 0h1m1.9 0h1m5.9 0h1m-6.7 .1h1m-.7 0h1m-3.3 .1h1m2.2 0h1m-2.1 .1h1m21.8 0h1m-29.6 .1h1m1.5 0h1m3.5 0h1m24.6 0h1m-.5 0h1m-23 .1h1m-10.6 .1h1m3.1 0h1m4.3 0h1m9.2 0h1m6.1 0h1m-28.5 .1h1m-.9 0h1m.1 0h1m.8 0h1m6.1 0h1m20.6 0h1m-1.9 .1h1m-29.9 .1h1m1.8 0h1m-5.1 .1h1m4.3 .1h1m-.4 .1h1m3.7 .1h1m-.3 0h1m-12.6 .1h1m2.7 0h1m-4.7 .1h1m.6 .1h1m4.7 0h1m-2.9 .2h1m-5.7 .1h1m3.1 .1h1m-4.8 .1h1m.2 0h1m3.2 0h1m-6.3 .1h1m1.3 0h1m-3.5 .1h1m.5 0h1m2.2 .3h1m1.2 0h1m9.9 0h1m-.7 0h1m-16.2 .1h1m-.8 0h1m-.5 0h1m-3.7 .2h1m1.9 0h1m13.5 0h1m-19.3 .1h1m4.4 0h1m-5.3 .1h1m-.7 0h1m-.4 .1h1m3.2 0h1m-8.2 .1h1m2 0h1m-.3 0h1m3 0h1m-7.6 .1h1m2.1 0h1m.3 0h1m.9 0h1m-4.5 .1h1m1.8 0h1m-.7 0h1m11.4 0h1m-19.6 .1h1m3.1 0h1m2.7 0h1m8.7 0h1m-13.4 .3h1m12.1 0h1m-14.9 .2h1m1.2 0h1m-8.4 .1h1m6.2 0h1m9.3 0h1m-12.7 .1h1m-7 .1h1m1.1 0h1m-.7 0h1m4.2 0h1m8.9 .1h1m-15.8 .1h1m5.2 0h1m-9.6 .1h1m0 0h1m1.9 0h1m-.1 0h1m.7 0h1m10.6 0h1m-20.2 .1h1m3 0h1m2.6 0h1m-1 0h1m-5.7 .1h1m-2.1 .1h1m.3 0h1m.1 0h1m.5 .1h1m-6.7 .3h1m.1 0h1m3.4 0h1m-5.3 .1h1m-.4 0h1m.9 0h1m-.7 .2h1m-.9 .1h1m13.4 0h1m-13.1 .1h1m-4.6 .2h1m-1.5 .2h1m-1 .1h1m14.5 0h1m-2.8 .1h1m-15.2 .1h1m2.2 0h1m-4.7 .1h1m2.9 0h1m10.8 0h1m-15.3 .1h1m1.6 0h1m-5.2 .1h1m-.5 0h1m15 0h1m-18.2 .2h1m-2.4 .1h1m.9 0h1m-2.5 .4h1m2.9 0h1m-5.3 .2h1m16.4 0h1m-15.1 .1h1m.4 0h1m.9 0h1m9.6 .1h1m-16.9 .1h1m.9 0h1m-2.4 .2h1m-.9 0h1m.3 0h1m-.4 0h1m11.8 .1h1m-13.2 .1h1m10.8 .2h1m-17.1 .2h1m.9 .3h1m-1.5 .2h1m1.6 0h1m-3.4 .1h1m-.9 0h1m12.2 0h1m-15.8 .1h1m2.1 0h1m.4 0h1m-.7 0h1m-2.9 .2h1m11 .1h1m-16.9 .2h1m14.9 0h1m-16.9 .1h1m2.5 0h1m-2.1 .1h1m-.5 .1h1m-2.3 .1h1m.7 0h1m-1.3 .1h1m-3.3 .4h1m-.5 0h1m1.1 0h1m-4 .1h1m13.8 0h1m-14.7 .1h1m1 .2h1m11.2 .1h1m-13.4 .6h1m9.7 .2h1m-12 .3h1m-.9 .1h1m-1.1 .1h1m-.2 0h1m-1.7 .2h1m9.1 .3h1m-.8 .1h1m-12.1 .4h1m10.2 .1h1m-2.4 .3h1m-13.2 .3h1m-.9 0h1m-.5 0h1m-1.4 .1h1m-1.6 .7h1m-1.6 .7h1m9.9 .4h1m-1 0h1m-.3 0h1m-12.1 .5h1m9.9 .4h1m-1.7 .2h1m-11.8 .2h1m9.4 0h1m-.5 .4h1m-12.6 2.2h1m9.3 .2h1m-1.1 .1h1m-11 .1h1m10.3 .4h1m-13.6 .1h1m9.4 .1h1m.1 .2h1m-.1 0h1m-12.8 .1h1m8.8 .2h1m-10.6 .1h1m9.5 .2h1m-11.9 .1h1m8.2 .1h1m.2 0h1m-.5 0h1m-12.8 .1h1m-.5 0h1m7.8 0h1m.9 .4h1m-12.3 .2h1m.1 0h1m9 .1h1m-2 .2h1m-2.5 .2h1m-.5 0h1m-10.2 .2h1m8.4 0h1m0 .3h1m-.2 .1h1m-4.2 .3h1m.6 0h1m-3 .1h1m-8.5 .2h1m6.4 .3h1m1.2 .1h1m-3.2 .2h1m.7 .1h1m-10.7 .1h1m-.1 0h1m-1 .1h1m6.5 0h1m-1.1 .2h1m-.7 .1h1m-1.3 .1h1m-7.9 .2h1m5 0h1m-7.1 .1h1m-.3 .1h1m-1.7 .2h1m2.9 .2h1m-5.5 .2h1m-.7 0h1m-1.2 .1h1m5.3 0h1m-3.3 .3h1m-2.8 .1h1m.1 .1h1m-2.3 .1h1m.1 0h1m-5.1 .1h1m2.7 0h1m-.1 0h1m-4.7 .2h1m.6 0h1m-3.1 .1h1m.7 0h1m-3.4 .1h1m2.3 0h1m-.1 0h1m-6.2 .1h1m5.3 0h1m-5.2 .3h1m1.8 0h1m.5 .3h1m-5.4 .2h1m2.7 .3h1m-5.6 .2h1m-1.5 .1h1m-1 0h1m-2 .1h1m.5 0h1m-.8 .6h1m-1.9 .1h1m-.9 .2h1m-.9 .4h1m2.9 .2h1m-.3 0h1m-6.5 .2h1m.4 0h1m3.1 0h1m-6.2 .1h1m-.3 .1h1m-1.2 .1h1m-2.9 .1h1m6 0h1m-1.6 .1h1m.1 0h1m-7.2 .1h1m5.3 .1h1m-6.6 .2h1m-1.3 .1h1m-1.3 .2h1m4.1 .1h1m-6.9 .3h1m-.1 .1h1m3.7 0h1m.3 0h1m-1.6 .1h1m-.7 .1h1m-1 0h1m-6.9 .5h1m-1.1 .2h1m1.1 0h1m2.4 .1h1m-1.8 .1h1m-3.3 .1h1m2 0h1m-.6 0h1m-6.9 .2h1m0 0h1m4 .2h1m-1.9 .1h1m-.1 0h1m-4.3 .2h1m-1 .1h1m-.4 .1h1m.5 .1h1m-4 .1h1m.6 0h1m-.5 0h1m-2.4 .1h1m2.3 0h1m-4.8 .1h1m.5 .1h1m1.8 0h1m-4.7 .1h1m.1 0h1m.2 0h1m-2.4 .3h1m-1.3 .1h1m.8 .1h1m-.7 .1h1m-2.8 .3h1m-.7 .1h1m-.3 0h1m0 0h1"/>
<path stroke="#5a6abb" stroke-width="1" d="M357 148.5h1m.7 0h1m-2.1 .3h1m.8 .2h1m-3.3 .1h1m-.1 .1h1m-4.1 .1h1m-.9 0h1m1.7 0h1m.2 0h1m-.9 0h1m-.4 0h1m-1.5 .1h1m-.8 0h1m-5.7 .2h1m-1.8 .1h1m-.2 0h1m-1.4 .1h1m5.1 0h1m-7.6 .1h1m6.1 .3h1m-8 .1h1m6.1 .2h1m-9.2 .1h1m7.3 0h1m-.8 0h1m-9.8 .1h1m-.9 0h1m7.7 .4h1m-1.3 .2h1m-9.9 .3h1m-.3 0h1m-1.8 .1h1m8.2 .1h1m-1.1 .3h1m-.5 0h1m-.7 0h1m-10.4 .1h1m-.7 0h1m7.3 .1h1m-9.6 .5h1m-1.2 .2h1m-1.2 .2h1m-.4 .2h1m-.8 .3h1m-1.9 .3h1m7.9 .1h1m-.3 0h1m-.7 .4h1m-1.1 .8h1m-9 .1h1m5.2 .1h1m25 .1h1m1.5 .1h1m-.4 .1h1m-2.2 .1h1m.2 0h1m.3 0h1m-1 0h1m-36.6 .1h1m33.4 0h1m.1 .1h1m-1.3 .1h1m-36.8 .1h1m32.3 0h1m-.8 0h1m-.7 0h1m.9 0h1m-.7 0h1m-31.4 .1h1m-6.6 .1h1m.5 0h1m34.6 0h1m-34.3 .1h1m-5 .5h1m.1 0h1m-.7 .2h1m-.9 0h1m2.6 0h1m-.8 0h1m-4.3 .2h1m-.1 0h1m26.2 .1h1m-.6 .1h1m-27.6 .1h1m25.5 0h1m-29.4 .2h1m27.3 .1h1m-28.9 .1h1m.3 0h1m33.4 .7h1m-1.1 .6h1m-.6 .1h1m-.6 0h1m-10.1 .6h1m7.7 .7h1m-.7 0h1m-1.6 .1h1m-1.7 .4h1m-19.9 .1h1m1.6 0h1m15.1 .1h1m-1.3 .1h1m-.8 0h1m-16 .1h1m-.8 0h1m-.8 0h1m-4.3 .1h1m.6 0h1m8.8 0h1m-11.1 .1h1m-1 .1h1m-3.5 .1h1m3.9 0h1m-2.3 .1h1m-4.7 .2h1m-.3 .1h1m-.9 0h1m3.8 0h1m-7.1 .1h1m-.1 0h1m-.8 .1h1m-1 0h1m-1.2 .1h1m12.4 0h1m-1.7 .2h1m-.2 0h1m-15.5 .1h1m4.6 0h1m-.3 0h1m-7.6 .1h1m5.3 0h1m-7.8 .1h1m6.1 .1h1m-1.5 .2h1m8.8 .2h1m-10.9 .1h1m9.7 0h1m-18.2 .1h1m0 .1h1m4.5 0h1m-7 .1h1m-.4 0h1m4.4 0h1m-.5 0h1m-.8 0h1m-1.1 .3h1m-8 .1h1m-.8 0h1m-1 .5h1m-1 .1h1m-2.8 .2h1m6 0h1m-.3 0h1m-.9 .1h1m-1.5 .1h1m-.7 .1h1m-1.2 .1h1m-8.6 .7h1m-1.2 .2h1m-.5 0h1m5 0h1m-6.8 .3h1m-.4 0h1m-2.1 .3h1m-.9 .2h1m5 .1h1m-1.7 .1h1m-1.2 .1h1m-.8 0h1m-.9 0h1m-1.4 .2h1m-6.4 .1h1m-.9 0h1m5 .2h1m-1.9 .3h1m-8.7 .2h1m-2.1 .1h1m.2 0h1m-.3 0h1m5.1 .4h1m-9.5 .1h1m-.2 .1h1m-.6 .1h1m6.1 0h1m-9.6 .1h1m6.9 0h1m-10 .1h1m-.7 0h1m.6 0h1m6.8 0h1m-10 .3h1m7.6 0h1m-9.3 .1h1m7.5 0h1m-10.3 .3h1m8.3 .1h1m-1.1 .1h1m-2.1 .3h1m-9.7 .4h1m-.1 .1h1m6.6 0h1m-9.7 .2h1m.5 0h1m-1.2 .1h1m-1 0h1m-1.1 .2h1m-1.3 .1h1m-2.3 .2h1m-.2 .3h1m-.9 0h1m6.6 .1h1m-.8 .1h1m-.8 0h1m-1.7 .3h1m-9.8 .4h1m7.9 .1h1m-8.6 .1h1m-1.5 .3h1m-.7 0h1m-1.2 .2h1m4.7 .2h1m-.9 0h1m-9 .2h1m8.1 .1h1m-8.9 .1h1m-2.5 .1h1m-.9 0h1m.2 .1h1m6.7 .1h1m-9.3 .1h1m7.3 0h1m-1.6 .2h1m-1.5 .1h1m-.5 .1h1m-.5 .1h1m-10 .1h1m7.6 .1h1m-2.1 .1h1m-9.1 .1h1m8.3 0h1m-3 .3h1m-8.5 .7h1m5.5 .3h1m-8.4 .1h1m-1.1 .4h1m-.5 .2h1m6.8 0h1m-2 .4h1m-.9 .1h1m-8.5 .1h1m6.4 .1h1m-10.2 .1h1m8.8 0h1m-1.4 .3h1m-11.5 .1h1m9.1 0h1m-1.6 .2h1m-.8 0h1m-.9 .2h1m-10.1 .1h1m-1.1 1h1m6.4 .1h1m-.3 .2h1m-9.2 .1h1m7.2 .1h1m-10 .6h1m7.8 0h1m-9.8 .5h1m6.9 .1h1m-9.4 .4h1m7.4 0h1m-9.2 .2h1m5.9 .2h1m-.9 0h1m.2 .4h1m-2 .1h1m-.8 0h1m-7.9 .2h1m-1.1 .2h1m-.9 0h1m6.5 .1h1m-10.3 .5h1m-.6 .1h1m-.9 .3h1m6.1 .4h1m-8.5 .3h1m5.8 0h1m-.6 .1h1m-8.3 .2h1m-1.8 .1h1m-1.2 .1h1m-.6 0h1m-1 .3h1m5.4 .1h1m-.2 0h1m-7.9 .4h1m-.2 .1h1m-1.4 .1h1m2 0h1m-.7 0h1m-3.8 .2h1m3 .1h1m-.9 0h1m-6.4 .1h1m2.9 0h1m-.4 0h1m-.3 0h1m-.4 0h1m-.6 0h1m-7.5 .1h1m-.2 0h1m4.3 0h1m-1.5 .1h1m-5.5 .1h1m4.5 .1h1m-7.6 .1h1m1.9 0h1m-1.5 .1h1m.9 0h1m-4.3 .1h1m2.7 0h1m-2.4 .2h1m0 0h1m-4.9 .1h1m.8 .1h1m-.5 0h1m-.1 0h1m-.1 0h1m-4.3 .1h1m-1.9 .1h1m1 .2h1m-.7 0h1m-1.5 .1h1m.2 0h1m-2.6 .1h1m-1.4 .1h1m.6 .3h1m-1.7 .3h1m-3.3 2.2h1m.9 0h1m-2.5 .1h1m-2.3 .1h1m.7 0h1m.1 0h1m-3 .1h1m-1.6 .2h1m-.8 0h1m-.5 0h1m.1 .1h1m-.6 .2h1m-1.7 .1h1m-.1 0h1m-2.9 .1h1m-1.6 .1h1m.2 .1h1m-1.6 .1h1m.3 0h1m-1 0h1m-.4 0h1m-1.5 .1h1m-3 .2h1m1.7 0h1m-1.5 .1h1m-2 .3h1m.4 0h1m-2.5 .1h1m.6 0h1m-1.9 .2h1m-2.9 .3h1m.6 0h1m-.9 .1h1m-1.5 .1h1m-.9 .1h1m.5 0h1m-3.8 .1h1m0 0h1m-.5 .1h1m.2 .1h1m-2.5 .1h1m-.3 0h1m-2.2 .1h1m.3 0h1m-1.5 .2h1m-1.9 .2h1m-.9 0h1m.9 .5h1m-3.6 .2h1m0 0h1m-.2 0h1m-2.2 .4h1m.7 0h1m-1.2 .1h1m-1.8 .1h1m-.2 0h1m-1.3 .1h1m-1.4 .3h1m.1 0h1m-1.5 .1h1"/>
<path stroke="#4a64b4" stroke-width="1" d="M358.9 149.4h1m-4.3 .1h1m-1 0h1m2.3 0h1m-.7 0h1m-.5 0h1m-.9 .2h1m-1.4 .1h1m-1.1 .2h1m-1.2 .2h1m-.9 0h1m-5.4 .1h1m-2.3 .1h1m1.1 0h1m3.8 .4h1m-.6 0h1m-1.3 .1h1m-1.4 .1h1m-8 .1h1m6.6 .1h1m-8.8 .1h1m-.3 0h1m-1.3 .2h1m-.8 0h1m-1.4 .3h1m-.8 .3h1m6.7 .3h1m-.6 .1h1m-1.4 .2h1m-.6 .1h1m-9.1 .1h1m-1.4 .4h1m7 0h1m-.5 0h1m-.8 0h1m-9.1 .2h1m-.9 .1h1m-.9 0h1m-1.4 .2h1m-.8 .2h1m-1.4 .1h1m.6 .5h1m-1.6 .1h1m-.7 0h1m-.9 0h1m-.9 0h1m-.9 .1h1m-1.7 .1h1m-.7 .1h1m4.9 0h1m-.7 0h1m-7 .2h1m4.5 0h1m-.3 0h1m-.9 0h1m-3.2 .6h1m-.6 0h1m-5 .1h1m2.1 0h1m-3.9 .4h1m-.7 0h1m2.3 0h1m-3.1 .1h1m-1 .1h1m-.5 0h1m32.2 0h1m-.8 0h1m-35.3 .1h1m-.9 0h1m-1 0h1m27.8 0h1m-29.5 .2h1m.1 0h1m26.5 0h1m-1 0h1m3.7 .1h1m-5.7 .2h1m4.5 0h1m-36 .1h1m.6 0h1m26.9 0h1m5 1.1h1m-7.8 .6h1m-1.3 .3h1m-.5 .5h1m-1.7 .3h1m-.8 .1h1m-.7 0h1m-1.6 .1h1m-.3 .7h1m-1.3 .4h1m-.8 0h1m-.7 .3h1m-.5 .1h1m-.8 0h1m3.3 .1h1m-5.6 .3h1m-1 .1h1m3.7 .1h1m-15.5 .1h1m-.4 0h1m-3.2 .1h1m.4 0h1m9.8 0h1m-13.9 .1h1m-.1 0h1m.4 0h1m.1 0h1m-.9 0h1m8.9 0h1m-.1 0h1m-15.4 .1h1m-.6 0h1m11.9 0h1m-13.3 .1h1m-.7 0h1m.6 0h1m11 0h1m-.1 0h1m-16.5 .1h1m12.8 0h1m-11.6 .1h1m-3.1 .1h1m.4 0h1m10.7 0h1m-.8 0h1m-15 .1h1m.7 0h1m-.5 0h1m-2.6 .1h1m-.7 0h1m-.5 0h1m-.8 0h1m-.5 0h1m-.8 0h1m-.3 0h1m9.9 0h1m-.1 0h1m-15.3 .1h1m-2.9 .1h1m.1 0h1m1.5 .1h1m-1 0h1m-3 .1h1m-1 .1h1m-2 .1h1m.8 0h1m.7 0h1m-1.3 .1h1m-3.4 .1h1m-.2 0h1m-3.3 .1h1m.2 0h1m-.4 0h1m-.8 .1h1m-.9 0h1m.9 0h1m-4.6 .1h1m.9 0h1m.5 0h1m-1 0h1m-4.9 .1h1m.3 0h1m.4 0h1m0 0h1m-.9 0h1m-4.3 .1h1m2.4 .1h1m-.5 0h1m-4.2 .1h1m-2.9 .1h1m-.8 0h1m-.8 0h1m-.7 0h1m1.1 0h1m-2.4 .1h1m-.7 .2h1m0 0h1m.5 .1h1m-4.5 .1h1m.9 0h1m.2 0h1m-.3 0h1m-5.8 .1h1m1 0h1m-.6 .1h1m-4.1 .1h1m.3 0h1m1.9 0h1m-4.2 .1h1m1.8 0h1m-.2 0h1m-5 .1h1m-.8 .1h1m1.9 0h1m-.1 .1h1m-5.6 .1h1m-.6 0h1m-.2 0h1m-.9 .1h1m-2.6 .1h1m3.1 0h1m-4.5 .1h1m1.3 0h1m-.1 0h1m-.4 0h1m-2.1 .1h1m-1.2 .1h1m-1.3 .1h1m-.5 .1h1m.2 0h1m-2.5 .1h1m-1 0h1m-1 .1h1m0 0h1m-1 .1h1m-4.9 .1h1m-.4 0h1m2.5 0h1m-.7 0h1m-6.7 .3h1m2.3 0h1m-.3 .2h1m-.8 .1h1m-2 .1h1m-.4 .1h1m-4 .1h1m-.9 0h1m1.1 .1h1m-1.5 .2h1m-4.8 .3h1m2.3 0h1m-.1 .1h1m-5.7 .1h1m-.6 0h1m2.7 0h1m-.5 0h1m-.7 0h1m-.5 .2h1m-2.6 .1h1m.7 0h1m-1 0h1m-2.2 .2h1m-6.4 .1h1m4.1 0h1m-6.3 .4h1m-.2 0h1m-1.4 .1h1m-1.2 .1h1m4.6 .1h1m-8 .1h1m-.4 .1h1m-2.3 .1h1m-.3 0h1m.1 0h1m-2.8 .1h1m.9 0h1m-2.1 .1h1m-.4 .1h1m-1.5 .3h1m-.6 0h1m-2.2 .1h1m-1.1 .1h1m5.4 0h1m-6.7 .2h1m4.3 0h1m-.5 0h1m-1.6 .5h1m-6 .1h1m4.3 .1h1m-1.9 .1h1m-6.6 .3h1m.1 0h1m3.1 0h1m-7 .2h1m5.1 0h1m-6.6 .1h1m-.9 0h1m-1 0h1m-1.5 .1h1m.4 0h1m4.2 0h1m-1.6 .2h1m-.3 0h1m-7.4 .1h1m-.5 0h1m3.6 0h1m-.9 .1h1m-.9 0h1m0 0h1m-6.8 .1h1m3.3 0h1m.2 0h1m-.8 0h1m-2.4 .1h1m-5.6 .1h1m4 .3h1m-.8 0h1m-6.7 .1h1m-.9 .2h1m3.2 0h1m-.9 .1h1m-.8 .1h1m-6 .2h1m-1 .4h1m-.7 0h1m3 0h1m-.2 0h1m-5.9 .1h1m-2.8 .2h1m4 0h1m-5.6 .1h1m4.5 0h1m-1 0h1m-7.5 .1h1m-.4 0h1m4.7 0h1m-7 .1h1m4.2 0h1m-6.3 .1h1m4.9 0h1m-7.5 .2h1m-.1 0h1m-.1 .3h1m-3.7 .2h1m5.4 0h1m-.7 0h1m-.9 0h1m-1.4 .1h1m-.8 0h1m-7.6 .4h1m5.4 0h1m-6.6 .1h1m4.6 .1h1m-6.8 .1h1m-1.8 .2h1m-.8 0h1m4 0h1m-.9 0h1m-.9 0h1m-6.2 .1h1m4.5 0h1m-6.1 .1h1m3.6 0h1m-5.6 .3h1m-.9 0h1m-.9 0h1m-1.7 .1h1m-1.9 .3h1m4.9 0h1m-.2 .1h1m-1.8 .2h1m-6.3 .5h1m4.6 0h1m-.6 0h1m-9.2 .1h1m-.9 0h1m5.8 0h1m-6.9 .2h1m-2.6 .3h1m-.2 0h1m-.9 0h1m-.3 0h1m-1.9 .1h1m0 0h1m-1.7 .1h1m5.7 0h1m-7 .1h1m-2 .2h1m-.1 0h1m4.4 .1h1m-2 .1h1m-6.7 .1h1m-1.3 .1h1m-.4 0h1m-1.4 .1h1m-.7 0h1m-.6 .2h1m4.5 0h1m-6.8 .1h1m-2 .4h1m-.8 0h1m-.9 .1h1m-1.5 .2h1m-.7 .1h1m-1 .1h1m-.9 0h1m5.5 0h1m-7.6 .1h1m5.3 0h1m-7.5 .3h1m4.9 0h1m-6.7 .3h1m4.4 0h1m-.7 0h1m-1.1 .1h1m-6.6 .1h1m-1.4 .1h1m4.9 0h1m-7.1 .1h1m-.5 .4h1m4 .1h1m-1.3 .4h1m-.5 0h1m-1.2 .2h1m-6.2 .2h1m-1 .1h1m-.8 0h1m-1 .1h1m3.3 0h1m-5.2 .1h1m-1.9 .1h1m-.9 0h1m-.8 .1h1m-.4 0h1m3.5 0h1m-.9 0h1m-6.5 .1h1m4.6 0h1m-5.9 .1h1m-.7 0h1m-1.8 .1h1m-.2 0h1m2.4 0h1m-.7 0h1m-.8 0h1m-5.4 .1h1m1.1 0h1m-.9 0h1m-.8 0h1m1 0h1m-.8 0h1m-6.4 .1h1m-1 0h1m-.2 0h1m2 0h1m-.8 0h1m-5.1 .1h1m.2 0h1m2.3 0h1m-5.5 .1h1m1.9 0h1m0 0h1m-4.3 .1h1m-.6 0h1m2.1 0h1m-.6 0h1m-.8 0h1m-2.7 .1h1m-.8 .1h1m-2.9 .1h1m1.8 0h1m.5 0h1m-6.4 .1h1m-.2 0h1m-.7 0h1m1.1 .1h1m-4.7 .1h1m-.3 0h1m-.9 0h1m-.9 0h1m.6 .1h1m.4 0h1m-4.3 .1h1m.8 0h1m-2.8 .1h1m-.9 0h1m0 0h1m-2.4 .1h1m1.5 0h1m-2 .1h1m1 .2h1m-2.7 .2h1m-.3 0h1m-3.8 .1h1m-.5 0h1m-.4 .2h1m-1.1 .1h1m-1.8 .3h1m-.4 0h1m0 0h1m-2.8 .2h1m-.1 0h1m-2 .1h1m.2 0h1"/>
<path stroke="#5a9cb4" stroke-width="1" d="M356 149.5h1m.1 0h1m-.8 0h1m-.5 0h1m-2.4 .1h1m-.1 .2h1m-1.4 .1h1m-1.1 .1h1m-.6 0h1m-.5 0h1m-.8 0h1m-2.8 .1h1m-.3 .1h1m-.5 .1h1m-3.5 .4h1m-1.9 .2h1m-.1 .1h1m-1.7 .2h1m4.3 0h1m-1.5 .1h1m-.5 0h1m-.5 .2h1m-.4 .3h1m-1.6 .4h1m-.2 0h1m-1.9 .2h1m-.9 0h1m-.7 1h1m-6.7 .1h1m4.4 0h1m-.9 0h1m-.3 0h1m-7.9 .3h1m5.6 0h1m-.7 0h1m-7.6 .2h1m5.6 0h1m-1.6 .1h1m-.4 0h1m-1.8 .1h1m-.5 .1h1m-2.3 .6h1m-3.5 .5h1m-1.5 .1h1m-.2 0h1m-.4 0h1m-1.1 .3h1m-.7 0h1m-2.4 .1h1m-.6 0h1m-1 0h1m-1 0h1m-1.5 .1h1m.5 0h1m-2.2 .1h1m-.6 0h1m-.2 .1h1m27.8 .3h1m-.5 0h1m-1.3 .1h1m-.7 0h1m1.7 0h1m-1.3 .1h1m-3.3 .1h1m1 0h1m-.7 0h1m-3 .3h1m.6 .1h1m-.8 0h1m-5.4 .3h1m-.5 .1h1m-1.3 .1h1m-1.1 .1h1m-.1 .2h1m-1.8 .2h1m5.4 .3h1m-1 .1h1m-.7 0h1m-1.2 .2h1m-1.6 .1h1m-.3 0h1m-1.4 .1h1m-.8 .1h1m-1.6 .2h1m-.8 .2h1m-1 .1h1m-1 .3h1m-.8 .2h1m-.7 0h1m-1.3 .1h1m-.9 .2h1m-1.4 .3h1m-.8 .2h1m-.5 0h1m-1.1 .2h1m-1.2 .2h1m-16.7 2.2h1m-1.7 .1h1m-.7 .4h1m-.8 .1h1m-1.3 .2h1m-1.1 .1h1m-3.7 1.3h1m-.5 .1h1m-1.9 .1h1m-.6 0h1m-.6 .2h1m-.9 .2h1m-2.9 .1h1m.2 0h1m-1.8 .1h1m.2 0h1m-2.3 .1h1m.5 .1h1m-2 .2h1m-.8 0h1m-.2 .1h1m-1.9 .1h1m-.4 0h1m-2.3 .1h1m-1.2 .1h1m.9 0h1m-3.3 .1h1m-.1 0h1m-1 0h1m-1.3 .1h1m-1.4 .1h1m-.1 .1h1m-1.8 .1h1m-2 .1h1m-.8 .2h1m.1 0h1m-1.6 .2h1m-.6 0h1m-.9 0h1m-.9 0h1m-2.6 .1h1m-2.5 .1h1m1.5 0h1m-2.1 .3h1m-1.5 .1h1m-.8 0h1m-.8 0h1m-.7 0h1m-1 0h1m-2.1 .1h1m-.8 0h1m.7 0h1m-2.5 .1h1m.4 0h1m-2.3 .1h1m-1.9 .1h1m-.1 0h1m-1.8 .1h1m-.5 0h1m.3 0h1m-.8 0h1m-.8 0h1m-1 .2h1m-3.8 .1h1m-1.7 .1h1m-.8 0h1m-.7 0h1m2 0h1m-.9 .4h1m-5.3 .3h1m.4 .1h1m1.5 0h1m-4.1 .2h1m-.8 0h1m-.9 0h1m1.9 .1h1m-.7 0h1m-4 .1h1m-2.4 .1h1m.4 0h1m1.8 .1h1m-1.2 .1h1m-5.3 .1h1m-.3 0h1m1.6 0h1m-5 .1h1m.6 0h1m-1.1 .1h1m-2.8 .1h1m-.8 0h1m3 0h1m-4.1 .1h1m-1.9 .1h1m-1.1 .1h1m.8 0h1m-1.6 .2h1m-.3 0h1m-2.6 .1h1m-1.2 .1h1m2.4 0h1m-4.1 .1h1m-.4 0h1m-.3 0h1m.5 0h1m-.9 0h1m-2.9 .2h1m-.5 0h1m.6 0h1m-.8 0h1m-1.4 .1h1m-2 .2h1m-.3 0h1m-2.2 .2h1m.5 0h1m-1 0h1m-.6 0h1m-3.7 .1h1m-.3 0h1m.4 0h1m-5 .1h1m.4 0h1m-.7 0h1m-.4 0h1m-.8 0h1m.2 0h1m-3.4 .1h1m-.6 .1h1m-1.7 .2h1m-.8 0h1m.3 0h1m-.9 0h1m-2.6 .1h1m-1 .1h1m-.7 0h1m-2.2 .1h1m.7 0h1m-1.2 .1h1m-2.4 .1h1m.8 0h1m-3.1 .1h1m-.7 0h1m1.8 0h1m-4 .1h1m1.5 0h1m-3.5 .1h1m-.6 0h1m.7 0h1m-1 0h1m-1.9 .1h1m.1 0h1m-4.4 .1h1m1.8 0h1m-.2 0h1m-3.4 .1h1m-.5 0h1m.3 0h1m-3.2 .1h1m-.4 .1h1m-.7 0h1m-.7 0h1m-2.9 .1h1m1.5 0h1m-.9 0h1m-.8 0h1m-3.4 .1h1m.3 0h1m.7 0h1m-2.3 .1h1m-.5 .1h1m-4.4 .1h1m.9 0h1m-.8 0h1m.2 .1h1m-4.2 .1h1m.3 0h1m-.7 .1h1m-.9 .1h1m-.9 0h1m-.8 .1h1m-.6 0h1m-2.2 .1h1m.7 0h1m-3.4 .1h1m-.5 0h1m-2.6 .1h1m1.6 0h1m-3.9 .1h1m.7 0h1m-.6 0h1m-1.6 .1h1m-.2 0h1m-.7 0h1m-.6 0h1m-5.2 .1h1m2.5 0h1m-4.3 .1h1m-.7 0h1m-.4 0h1m.1 0h1m-.5 0h1m-.1 0h1m-3.4 .1h1m-.6 0h1m-.6 0h1m-2.3 .1h1m-.1 0h1m-.4 0h1m-.9 0h1m-1 0h1m-.8 0h1m-.3 0h1m-.5 0h1m-2.6 .1h1m-.8 0h1m-1 0h1m.7 0h1m-5.4 .2h1m-.8 0h1m-.5 0h1m-.9 0h1m2.2 .1h1m-2 .1h1m-3.7 .2h1m-.9 0h1m-1.1 .1h1m2.6 .1h1m-4.7 .1h1m-.9 0h1m1.8 .1h1m-4 .2h1m-.4 0h1m2.3 0h1m-5.4 .1h1m2.7 0h1m-.7 0h1m-4.9 .1h1m1.6 .1h1m-1 0h1m-.7 0h1m-4.2 .1h1m3.3 0h1m-1 .2h1m-1.3 .1h1m-5.2 .1h1m-.4 .1h1m2.3 0h1m-1.4 .1h1m-1.6 .1h1m.8 0h1m-6.1 .1h1m-1 0h1m-1.4 .1h1m-.4 0h1m-1.7 .1h1m-1.1 .2h1m3.3 0h1m-.9 .3h1m-5.1 .1h1m-2.3 .2h1m2.9 0h1m-.9 0h1m-1 0h1m-4.6 .1h1m2.7 0h1m-1 .1h1m-.6 .1h1m-5.5 .2h1m3 0h1m-.9 0h1m-.6 0h1m-1.3 .1h1m-.9 0h1m-1.1 .1h1m-1.3 .3h1m-.5 0h1m-6.1 .1h1m4.2 0h1m-1.4 .1h1m-1 .1h1m-5.9 .1h1m4.5 .2h1m-6.5 .1h1m-.8 0h1m3.2 .2h1m-1.8 .1h1m-1 0h1m-.4 0h1m-5.6 .2h1m-.3 0h1m2.3 0h1m-.3 0h1m-.8 0h1m-5.3 .5h1m2.6 0h1m-5.1 .1h1m-.4 .1h1m-1.7 .1h1m2.1 0h1m-.2 0h1m-1.7 .2h1m-.7 0h1m-.8 0h1m-.9 .3h1m-4 .1h1m1.6 0h1m-.9 0h1m-1.1 .1h1m-4.2 .1h1m.8 .2h1m-.3 0h1m-3.5 .1h1m-.3 0h1m.2 0h1m-.9 0h1m-.8 .1h1m-2.3 .2h1m-.7 0h1m-.3 0h1m-1 .2h1m-2.4 .1h1m0 0h1m-2 .1h1m-.8 0h1m-1 0h1m-.1 0h1m-2.5 .7h1m-.3 .1h1"/>
<path stroke="#6cb460" stroke-width="1" d="M356.5 150.4h1m.8 0h1m-.6 0h1m-1.7 .1h1m-3.5 .1h1m1.3 0h1m-.1 0h1m-4.8 .2h1m.7 0h1m0 0h1m-3.7 .1h1m-.6 0h1m-.1 0h1m-.9 0h1m-.8 0h1m-.3 0h1m-2.7 .1h1m-.6 0h1m.2 0h1m-1 0h1m-1.8 .1h1m1.1 0h1m-.7 0h1m-4.8 .1h1m0 0h1m-.9 0h1m.4 0h1m.1 0h1m-3.8 .1h1m-.1 0h1m-.8 0h1m-.2 0h1m-1.6 .1h1m-2.9 .1h1m3 0h1m-6 .1h1m-.5 .1h1m-.9 0h1m-1 0h1m-1 0h1m-.9 0h1m3.3 0h1m-5.9 .1h1m.3 0h1m-.7 0h1m2 0h1m-.8 .1h1m-4.9 .1h1m-.5 0h1m2.2 0h1m-.5 0h1m-6 .1h1m-.5 0h1m-.2 0h1m-.9 0h1m2.9 0h1m-6.7 .1h1m-.6 0h1m-.4 0h1m-.5 0h1m-1.1 .1h1m-.8 0h1m3.2 0h1m-5.8 .1h1m-1.4 .2h1m-.5 0h1m3.8 0h1m-6.3 .1h1m-.2 .2h1m-.7 0h1m-.9 0h1m-1 0h1m2.7 0h1m-.8 0h1m-.8 0h1m-6.1 .1h1m-1 0h1m3.4 0h1m-.9 0h1m-.7 0h1m-5.6 .1h1m3.3 0h1m-5.3 .1h1m-1.3 .1h1m4.1 0h1m-6.4 .1h1m0 0h1m-1.1 .1h1m-.5 0h1m-1.7 .1h1m2.8 .2h1m-.7 0h1m-.9 0h1m-5.4 .1h1m-.7 .2h1m3.4 0h1m-4.1 .3h1m1.7 0h1m-4.8 .1h1m-1 0h1m-.8 0h1m1 0h1m0 0h1m-2.5 .1h1m-.1 0h1m-.8 0h1m-.7 .1h1m-3.7 .1h1m.6 0h1m-.4 0h1m-.4 0h1m-3.1 .1h1m.2 0h1m-.8 0h1m-.5 0h1m-1.9 .1h1m-.9 0h1m-.8 0h1m-3.7 .1h1m.8 0h1m-.7 0h1m-.8 0h1m-.7 0h1m-.2 0h1m-2 .1h1m-.6 0h1m-3.4 .1h1m.1 0h1m-2.6 .1h1m-1 0h1m1.7 0h1m30 1h1m-1.5 .1h1m-.4 .2h1m-1.2 .6h1m-.9 0h1m.7 .2h1m-.8 .3h1m-.8 .4h1m-1.6 .1h1m-6 .4h1m-.6 .2h1m-1 .1h1m-1.6 .1h1m-.8 0h1m-.5 .2h1m-.9 0h1m-1 .1h1m-1.6 .2h1m-1.3 .1h1m-.9 0h1m-.5 0h1m-1.2 .1h1m-.9 .1h1m-.9 0h1m-.6 0h1m-1.3 .5h1m4.1 0h1m-6.5 .1h1m-.9 0h1m3.7 0h1m-.6 0h1m-5.8 .1h1m3.4 0h1m-.2 0h1m-1.2 .1h1m-.9 0h1m-1.7 .2h1m-.9 0h1m-.7 .1h1m-.8 .3h1m-5.5 .1h1m1.9 0h1m-3.9 .1h1m-1.1 .4h1m2.1 0h1m-3.3 .1h1m-1.4 .1h1m2.4 .1h1m-4.8 .2h1m-.8 0h1m-18.5 7.1h1m-1.7 .1h1m.3 0h1m-1.4 .1h1m-.8 .1h1m-.4 0h1m-2.1 .1h1m-.3 0h1m-.5 0h1m-2.7 .1h1m.5 0h1m-1.2 .1h1m-1.6 .1h1m-.8 0h1m-2 .1h1m-.7 0h1m-.2 0h1m-.6 0h1m-1.8 .1h1m-.6 0h1m-1.7 .1h1m-1 0h1m-.3 0h1m-.8 0h1m-.8 .1h1m-.9 0h1m-.7 0h1m-2.2 .1h1m-.2 0h1m-2 .1h1m-1.4 .1h1m-.9 0h1m-.2 0h1m-.4 .1h1m-1.3 .1h1m-2.3 .3h1m.1 0h1m-2.6 .1h1m-1.4 .1h1m0 0h1m-1.8 .1h1m-.4 .1h1m-1.8 .1h1m-.5 0h1m-.9 0h1m-.5 0h1m-2.1 .1h1m-.2 0h1m-.1 0h1m-1.5 .2h1m-.7 .2h1m-8.3 5.1h1m-.1 0h1m-.7 0h1m-1.3 .2h1m-1.4 .1h1m-1.6 .1h1m-.2 0h1m-.7 0h1m-.6 .2h1m-2 .1h1m.1 0h1m-1.8 .1h1m-.3 0h1m-2.7 .1h1m-.4 0h1m-1.7 .1h1m-.8 .1h1m-.7 .1h1m-1.2 .1h1m-1.4 .1h1m-1.6 .1h1m-.5 .1h1m-.4 0h1m-.7 0h1m-2.5 .1h1m-1 0h1m.6 0h1m-2.5 .1h1m-1.3 .1h1m.3 0h1m-.7 0h1m-2.8 .1h1m-1.7 .2h1m.4 0h1m-1.8 .1h1m-.1 0h1m-.7 0h1m-.8 0h1m-1.2 .1h1m-2.7 .1h1m.5 0h1m-.5 0h1m-.9 0h1m-2.9 .1h1m-.7 0h1m.6 0h1m-.6 .1h1m-2.3 .1h1m-1.2 .1h1m-3.1 .2h1m1.1 .1h1m-.2 0h1m-3.5 .1h1m-.9 0h1m-.2 .1h1m-.4 0h1m-2.2 .1h1m.8 0h1m-3.1 .1h1m.4 0h1m-.9 0h1m-.5 0h1m-.8 0h1m-2.8 .1h1m-.8 0h1m-.5 0h1m-.8 0h1m-.2 0h1m-2.1 .1h1m-.1 0h1m-2.9 .1h1m-1 0h1m-.5 0h1m-.7 0h1m-2.5 .1h1m-.9 0h1m-1.4 .1h1m.5 0h1m-.7 0h1m-.7 0h1m-.3 .1h1m-3.7 .1h1m-.3 0h1m-2 .1h1m-.6 0h1m1.8 0h1m-.9 0h1m-4.1 .1h1m-.6 0h1m-1.9 .1h1m-.6 0h1m-.6 0h1m.3 0h1m.3 0h1m-2.9 .1h1m-.5 0h1m.8 0h1m-3.5 .1h1m.5 0h1m-.1 0h1m-4 .1h1m0 .1h1m-2.5 .1h1m-.6 0h1m-.7 0h1m-1.5 .1h1m.6 0h1m-.6 0h1m-.6 0h1m-3.8 .1h1m0 0h1m-1.9 .1h1m-.5 0h1m-.7 0h1m0 .1h1m.1 0h1m-1.7 .2h1m-.7 0h1m-2.9 .1h1m-.3 0h1m-.4 0h1m-.1 0h1m-3.6 .1h1m-.9 0h1m-1.2 .2h1m.3 .1h1m-.8 0h1m-2.4 .1h1m-.4 0h1m-.1 0h1m-.8 .1h1m-2.6 .1h1m-.9 .3h1m-.6 0h1m-.7 0h1"/>
<path stroke="#98c448" stroke-width="1" d="M356.7 151.5h1m1 0h1m-3.2 .1h1m-.8 0h1m.3 0h1m-1.9 .1h1m-2.3 .1h1m1.2 .1h1m-1 0h1m-2.4 .2h1m-.2 0h1m-.4 0h1m-.5 0h1m-3.6 .1h1m.2 0h1m-.1 0h1m-.9 0h1m-2.1 .1h1m-.7 0h1m-.2 0h1m-.6 0h1m-.9 0h1m-3.8 .2h1m.8 0h1m-2.3 .1h1m.6 0h1m-.7 0h1m-3.3 .1h1m.7 0h1m-.9 0h1m-.8 0h1m-2.3 .1h1m.6 0h1m-1 0h1m-1 0h1m-3.4 .1h1m-.4 0h1m-.6 .1h1m.4 0h1m-3.3 .1h1m0 0h1m.1 0h1m-2.6 .1h1m.2 0h1m-.3 0h1m-.9 0h1m-1.3 .1h1m-.9 0h1m-3.3 .1h1m.3 0h1m-.9 0h1m-.9 0h1m-.7 0h1m-.9 .1h1m-.5 0h1m-.9 0h1m-3.6 .1h1m-.9 0h1m1.1 0h1m-2.8 .1h1m0 0h1m-.4 0h1m-.4 0h1m-2.2 .1h1m.3 0h1m-1.4 .1h1m-2.8 .1h1m-.7 0h1m.8 0h1m-.8 0h1m-3.7 .1h1m.1 0h1m.6 0h1m-2.2 .1h1m-.9 0h1m-2.2 .1h1m-.5 0h1m.2 0h1m-.7 0h1m-2.9 .1h1m-.4 0h1m.2 0h1m27.1 3.1h1m-.5 0h1m-1 0h1m1.6 0h1m-3.6 .1h1m1.6 0h1m-3.8 .1h1m1.4 0h1m-4 .1h1m-.3 0h1m1.8 0h1m-1 .1h1m-1 .1h1m-1.1 .1h1m-4.4 .1h1m-.8 0h1m1.7 0h1m-.9 0h1m-4 .1h1m-.3 0h1m-1 0h1m1.4 0h1m-.8 0h1m-.5 .2h1m-.8 .2h1m-1 0h1m-.7 .1h1m-1.3 .2h1m-.9 0h1m-.3 0h1m-1.9 .2h1m-.6 .2h1m-1.4 .2h1m-1 .1h1m-.6 0h1m-.9 .3h1m-1.5 .1h1m-.9 .1h1m-.4 0h1m-1.8 .1h1m-.7 0h1m-.8 0h1m-4.7 .2h1m-1.5 .2h1m-.6 .2h1m-1.3 .1h1m-.8 0h1m-1.5 .2h1m-.1 .1h1m-.2 .1h1m-1.5 .1h1m.3 0h1m-1.6 .1h1m-1.5 .1h1m-.8 0h1m-.4 0h1m-2.3 .2h1m-.2 0h1m-.6 0h1m-.6 0h1m-.6 0h1m-2.1 .1h1m-.7 0h1m-.7 0h1m-1.2 .2h1m-2 .2h1"/>
<path stroke="#c8cc40" stroke-width="1" d="M388.6 157.4h1m-2.5 .2h1m-.1 0h1m-.4 0h1m-.9 .1h1m-2.6 .1h1m-.9 .1h1m-.3 0h1m-.8 0h1m-2.1 .1h1m-.9 0h1m-.1 0h1m-2 .1h1m.1 0h1m-1.2 .1h1m-1 .1h1m-2.7 .2h1m-.4 0h1m-1.4 .1h1m1.9 0h1m-4.2 .1h1m-.8 0h1m1.7 0h1m-3.2 .1h1m1 0h1m-.5 0h1m-4.3 .1h1m2.1 0h1m-1 .1h1m-.8 0h1m-.6 0h1m-4.5 .1h1m-.7 0h1m-1.6 .1h1m2.4 0h1m-4 .1h1m2 0h1m-4.4 .1h1m-1 0h1m-.8 .1h1m-.9 0h1m-.4 0h1m-1.7 .1h1m-1.1 .1h1m-.5 0h1m-1.3 .2h1m-1 0h1m-.7 0h1m-1.7 .1h1m-.7 .1h1m-.8 0h1m-1.1 .1h1m-.5 0h1m-1.7 .1h1m-.9 .1h1m2.5 .2h1m-1.5 .2h1m-.9 0h1m-.9 0h1m-1.2 .1h1m-.9 0h1m-.5 .1h1m-1.8 .3h1m-.6 0h1m-.7 0h1m-.9 0h1"/>
<path stroke="#e8e070" stroke-width="1" d="M387.1 158.4h1m-1 .4h1m-.7 0h1m-.9 0h1m-1.1 .1h1m-.8 0h1m-1 0h1m-1.4 .1h1m-.5 0h1m-1.3 .1h1m-1.1 .1h1m-1 .1h1m-.8 0h1m-1.7 .1h1m-.8 0h1m1.4 0h1m-1.5 .1h1m-.9 0h1m-.9 0h1m-1 0h1m-.8 0h1m-1 0h1m-.9 0h1m-1.5 .1h1m-.7 0h1m-.5 0h1m-1.5 .2h1m-1.1 .2h1m-1.2 .1h1m-.7 .2h1m-1.7 .1h1m-.8 0h1m-.8 0h1m-2.2 .1h1m-1 0h1m-.9 0h1m-.9 0h1m-.5 0h1m-1.4 .1h1m-.3 0h1m-2.4 .1h1m-1.4 .1h1m-.2 0h1m-.2 0h1m-2.5 .1h1m.2 0h1m-1.8 .1h1m-.8 0h1m-.3 0h1m-.8 0h1m-2.3 .1h1m-1 0h1m-.8 0h1m-.3 0h1m-2.3 .1h1m.4 0h1m-.5 0h1m-.9 0h1m-1.5 .1h1m-.9 .1h1"/>
<path stroke="#f4f2c8" stroke-width="1" d="M388.7 158.4h1m-1.5 .1h1m-1.3 .1h1m-.9 0h1m-.8 0h1m-.9 0h1m-.5 0h1m-1.8 .1h1m-.4 0h1m-1.4 .2h1m-.9 0h1m-.9 0h1m-.6 0h1m-1.9 .1h1m-.4 0h1m-.8 0h1m-1.6 .2h1m-1 0h1m-.8 0h1m-1 .2h1m-.9 0h1m-2.4 .1h1m-.6 0h1m-.2 0h1m-.9 0h1m-2.5 .1h1m-.5 0h1m-.9 0h1m-.8 0h1m-.7 0h1m-2 .1h1m-.9 0h1m-1 .2h1m0 0h1m-.9 0h1m-.9 0h1m-.6 0h1m-2.3 .1h1m.4 0h1m-2.9 .1h1m-.8 0h1m0 0h1m-.6 0h1m-.8 0h1m-2.7 .1h1m-.3 0h1m-.4 0h1m-.7 0h1m-2.3 .1h1m-1 0h1m-.9 0h1m.5 0h1m-2.5 .1h1m-.1 0h1"/>
</g>
<path d="M110.4 353.4V422.7M82.7 394.2H147.7" stroke="#8d93aa" stroke-width=".55"/>
<g filter="url(#bl)">
<path stroke="#ecb4bc" stroke-width="1" d="M98.5 363.9h1m2.8 0h1m-4.7 .5h1m-1.8 .2h1m7.3 .3h1m-12.1 .2h1m10.1 0h1m-10.7 1.3h1m12.1 2.2h1m-15.9 .8h1m-1.5 2.1h1m13.9 .2h1m5.8 .3h1m-22.9 1.6h1m15.7 .2h1m3.3 1.4h1m-19.9 .5h1m11.5 .2h1m-1.5 .4h1m1.3 .3h1m-13 1.2h1m-1 0h1m6.9 .7h1m-2.4 .2h1m-.2 .5h1m-11.9 .3h1m7.5 0h1m-7.3 1.6h1m2.3 .5h1m-3.9 .1h1m4.2 0h1m.7 0h1m.1 0h1m-6 .4h1m2.6 .7h1m.5 .7h1m-8.1 .8h1m1.1 .1h1m-1.7 .1h1m-.4 1h1m2.6 .3h1m-4.5 .5h1m3 .1h1m-8.5 .3h1m3.2 0h1m-3.2 .3h1m4 .3h1m-2 .1h1m-1.6 .2h1m-3.3 .3h1m-5 .9h1m7 .2h1m-1.8 .5h1m-2.8 .1h1m-3 .3h1m-.8 .1h1m-.1 .2h1m-2.4 .3h1m2.6 .4h1m-1.5 .2h1m-3.8 .4h1m-1 0h1m2.9 .3h1m-2.7 .3h1m-2.3 .8h1m1.4 .1h1m-2.6 .2h1m-.1 .3h1m-2 .5h1m3.6 .1h1m-2.9 .3h1m-1.7 .6h1m-6.6 .1h1m0 .2h1m6.1 .4h1m-1.4 .1h1m-1.9 .4h1m-6.6 .1h1m.5 .2h1m-1 .4h1m-.1 .6h1m.7 1h1m-4.8 .5h1m3.1 .2h1m1 .8h1m-8 .7h1m-1.3 .8h1m1 .4h1m4.6 .4h1m-8.3 2h1m-1.1 .2h1m-1.1 1.5h1m6.1 .6h1m-6.6 .4h1m4.6 .1h1m-4 .4h1m.4 .2h1m-3.4 1.1h1m2.3 .1h1m-4.5 .2h1m-.8 0h1m-.9 .9h1"/>
<path stroke="#dc7484" stroke-width="1" d="M99.8 365h1m-.1 .2h1m3.2 .6h1m-.3 .1h1m-.3 0h1m-6.9 .3h1m4.7 0h1m-7.4 .1h1m6.5 .4h1m-11.1 .2h1m-1.2 .1h1m-.7 .3h1m-3.3 .7h1m-.5 0h1m-.1 .1h1m-2.4 .3h1m10.9 0h1m-11.6 .7h1m-1.1 .3h1m11.3 .6h1m-14.3 1.7h1m-.4 0h1m-.9 .1h1m-.8 .3h1m-1 .5h1m-1.6 .5h1m.1 0h1m-2.6 .1h1m.6 .3h1m.7 .9h1m7.9 0h1m-.2 .2h1m-10.5 .4h1m7.6 .1h1m-.8 .1h1m-2.4 .2h1m-7.3 .7h1m2 .3h1m-3.6 .2h1m1.7 .2h1m1.2 0h1m-.3 .2h1m-2.1 .4h1m-3.4 .2h1m2.6 0h1m-6 .2h1m-1.4 .2h1m.4 .1h1m.8 .2h1m-5 .3h1m-1.5 .2h1m.4 .2h1m-1 .1h1m-.9 0h1m-1.9 .1h1m1 0h1m-.1 3.4h1m-1.6 .1h1m-.4 .2h1m-2 .4h1m-.4 .3h1m-1.3 .8h1m-.9 .6h1m-.5 1.3h1m-.8 0h1m-2.7 9.1h1m-.5 0h1m-.6 .5h1m-1.4 .2h1m-1.5 .7h1m-1 2.5h1m-.6 .2h1m-.2 .4h1m-1.3 .3h1m-.1 0h1m-2.8 .1h1m.4 .9h1m-2.4 .2h1m1.7 .1h1m-3.1 .7h1m-.3 0h1m-2.6 .6h1m1.6 .1h1m-2.4 .3h1m.5 0h1m-2.5 .2h1m-1.3 .2h1m-.9 0h1m1.2 .1h1m-4.4 .2h1m1.3 0h1m1.2 0h1m-5.4 .1h1m1.9 0h1m.8 .1h1m-1.4 .1h1m-6.3 .2h1m1.4 0h1m.5 .2h1m-3.1 .1h1m-2.3 .1h1m1.4 0h1m1.4 .1h1m-4.7 .1h1m1 0h1m-2.7 .1h1m.2 0h1m1 .2h1m-3.2 .1h1m-3 .1h1m-.6 .1h1m.1 0h1m1.1 .2h1m-5.4 .3h1m3.9 0h1m-.5 0h1m-5 .1h1m-1.2 .3h1m2.5 .2h1m-3.6 .1h1m-2.4 .1h1"/>
<path stroke="#cc3448" stroke-width="1" d="M101.7 365.4h1m-.1 .1h1m-1.3 .2h1m-1.9 .5h1m-1.5 .1h1m1.6 0h1m-1 0h1m-2 .1h1m-.6 0h1m-.4 0h1m-1 0h1m-.9 .1h1m-6.5 .1h1m-.3 0h1m-.5 0h1m3 .1h1m-4.8 .1h1m-1 0h1m5.3 0h1m-8.2 .1h1m2.4 .1h1m2.2 0h1m-5.9 .1h1m-.4 0h1m-.7 0h1m-.9 0h1m-1 .1h1m0 0h1m1.7 0h1m-3.5 .1h1m1.2 0h1m-1.8 .1h1m-7.7 .2h1m.4 .2h1m6.5 .1h1m-7.9 .1h1m6.1 0h1m-.9 .1h1m-10.5 .1h1m1.3 0h1m6 0h1m-10.1 .1h1m6.8 0h1m-.5 0h1m-.5 0h1m-8.5 .1h1m-1.1 .1h1m-.9 0h1m7.5 0h1m-2 .1h1m-10.1 .1h1m8.7 0h1m-1 .1h1m-1.7 .1h1m-9.5 .3h1m7.8 0h1m-8.6 .1h1m-1.8 .4h1m-1.5 .1h1m8.8 0h1m-.7 0h1m-10.9 .7h1m8.8 0h1m-1.3 .3h1m-.2 .1h1m-11.2 1.1h1m-1.2 .5h1m-.8 .1h1m-.1 .1h1m-2.1 .3h1m-.7 0h1m-.1 0h1m-1.6 .1h1m-.2 .3h1m6.2 0h1m-8.9 .1h1m7 .5h1m-4.1 .5h1m.2 0h1m-5.2 .3h1m-.7 0h1m3.6 0h1m-.6 0h1m.1 0h1m-8.2 .1h1m.6 .1h1m1.5 0h1m-.1 0h1m-.8 .3h1m-3 .2h1m1.8 0h1m-3.8 .2h1m-.9 .1h1m1.2 0h1m-.6 0h1m-5.4 .1h1m.5 0h1m1.3 0h1m-1.7 .1h1m-3.4 .2h1m3 0h1m-6.2 .1h1m1.4 0h1"/>
<path stroke="#be1430" stroke-width="1" d="M100.2 367.5h1m2.1 0h1m-4.4 .3h1m.1 0h1m-.5 0h1m1 0h1m-3.4 .1h1m.9 0h1m-3.9 .1h1m-.6 0h1m-.5 0h1m-.7 0h1m-2.1 .1h1m.8 0h1m.6 0h1m-2.9 .1h1m-.7 0h1m1.6 0h1m-1.9 .1h1m-.9 0h1m-.4 0h1m-.8 0h1m-4.2 .1h1m-2.6 .1h1m4 0h1m-5.8 .1h1m4.4 0h1m-6.3 .2h1m-.6 .1h1m-1.6 .1h1m4.1 .1h1m-.4 0h1m-7.5 .1h1m-.6 0h1m4.5 0h1m-6.7 .1h1m-.7 0h1m-.9 0h1m-.5 0h1m5.3 .1h1m-9.5 .1h1m-.2 0h1m-.9 0h1m-.5 0h1m5.7 0h1m-7.8 .1h1m6.1 .1h1m-9.6 .1h1m.6 .1h1m-2.6 .3h1m.4 0h1m6.4 0h1m-9.2 .1h1m6.9 0h1m-8.9 .1h1m7 .3h1m-9.3 .1h1m6.9 .1h1m-.9 .4h1m-.9 0h1m-9.4 .1h1m7.5 0h1m-1.5 .2h1m-.9 .2h1m-1 0h1m-.9 .1h1m-.6 0h1m-8.8 .1h1m6.8 0h1m-9.1 .2h1m-.6 .1h1m6.1 0h1m-.8 .1h1m-2.3 .1h1m-.8 0h1m-.4 0h1m-7.1 .1h1m5.5 .1h1m-1.4 .1h1m-1.6 .1h1m0 0h1m-.3 .1h1m-8.1 .1h1m4.4 0h1m-.7 0h1m-.1 0h1m-7.7 .1h1m4.4 .1h1m-5.1 .1h1m.8 0h1m1.6 0h1m-6.2 .1h1m-.4 0h1m-.9 0h1m2.2 0h1m-.7 0h1m-.8 0h1m-.2 0h1m-1 0h1m-6.6 .1h1m.2 0h1m1.4 0h1m-.6 0h1m-.8 0h1m-4.5 .1h1m1.2 0h1m1.4 0h1m-5.4 .1h1m2.8 0h1m-.5 0h1m-1 0h1m-.2 0h1m-7.3 .1h1m.4 0h1m2.5 0h1m-4.8 .1h1m2.4 0h1m-2.4 .1h1m-2.7 .1h1m1.6 0h1m-1 0h1m-.3 0h1m-.5 0h1m.1 0h1m-1.5 .1h1m-4.7 .3h1m-.6 0h1m-.3 0h1m-.8 0h1m-2.2 .2h1m-.3 0h1m-.9 .1h1m-1 0h1m-1.9 .3h1m-1 .1h1"/>
<path stroke="#b40c26" stroke-width="1" d="M102.3 368.4h1m-2.1 .1h1m-.2 0h1m-1.3 .1h1m-.7 0h1m-2 .1h1m-.3 0h1m-.9 0h1m-.3 0h1m-.3 0h1m-1.7 .1h1m-1.6 .1h1m-.5 0h1m-.8 0h1m-.3 0h1m-3.4 .1h1m.2 0h1m.3 0h1m-2.8 .1h1m-.4 0h1m-.2 0h1m-3.1 .1h1m-.9 0h1m-.7 0h1m0 0h1m.5 0h1m-3.7 .1h1m1.1 0h1m-.2 0h1m-.6 0h1m-3.6 .1h1m-2.1 .1h1m0 0h1m.6 0h1m-.3 0h1m-.2 0h1m-5.9 .1h1m-1 0h1m.7 0h1m-.8 0h1m-.7 0h1m1.1 0h1m-.7 0h1m-1 0h1m-.7 0h1m-6 .1h1m-1 0h1m1.1 0h1m0 0h1m-.6 0h1m0 0h1m.2 0h1m-6.2 .1h1m-.5 0h1m.4 0h1m-.7 0h1m-.4 0h1m-.2 0h1m.1 0h1m-5.8 .1h1m1.9 0h1m-1 0h1m-.6 0h1m-.8 0h1m-.5 0h1m-.6 0h1m-.8 0h1m-.9 0h1m-.9 0h1m-6.3 .1h1m.7 0h1m.8 0h1m.2 0h1m-.8 0h1m-.8 0h1m-5.3 .1h1m-.6 0h1m-.7 0h1m.1 0h1m-.6 0h1m-.6 0h1m-.9 0h1m-1 0h1m0 0h1m-5.1 .1h1m.6 0h1m-.5 0h1m-.6 0h1m-.9 0h1m-.7 0h1m-.6 0h1m-.3 0h1m-.8 0h1m-4.9 .1h1m-.8 0h1m-.5 0h1m-.5 0h1m.1 0h1m-.6 0h1m0 0h1m-.5 0h1m-.6 0h1m-6.1 .1h1m-.7 0h1m-.9 0h1m-.6 0h1m-.1 0h1m-.8 0h1m-.9 0h1m.9 0h1m-5.7 .1h1m-.4 0h1m.5 0h1m-.5 0h1m-1.2 .1h1m-.1 0h1m-.4 0h1m0 0h1m-.4 0h1m-.1 0h1m-7.8 .1h1m-.5 0h1m-.7 0h1m-1 0h1m-.1 0h1m-.3 0h1m-.5 0h1m-.4 0h1m-.6 0h1m-.8 0h1m-.2 0h1m-1 0h1m-4.2 .1h1m-.9 0h1m.3 0h1m0 0h1m-.9 0h1m-1 0h1m-.3 0h1m.1 0h1m-.3 0h1m-6.2 .1h1m-.8 0h1m-.4 0h1m0 0h1m-.8 0h1m-.5 0h1m-.9 0h1m-.8 0h1m-.3 0h1m-.9 0h1m-.8 0h1m-.5 0h1m-.6 0h1m-5.6 .1h1m-.3 0h1m-.1 0h1m-.2 0h1m-.9 0h1m-.4 0h1m-.5 0h1m-.1 0h1m-4.8 .1h1m-.8 0h1m1.5 0h1m-.8 0h1m.1 0h1m-.3 0h1m-8 .1h1m-.7 0h1m0 0h1m-.4 0h1m-.7 0h1m-.5 0h1m.6 0h1m-.2 0h1m.1 0h1m-1 0h1m-6.4 .1h1m.2 0h1m-.6 0h1m1 0h1m-.8 0h1m.6 0h1m-.7 0h1m-.8 0h1m-6.5 .1h1m-.4 0h1m-1 0h1m.4 0h1m-.4 0h1m-.2 0h1m-.3 0h1m.2 0h1m-.8 0h1m-7.7 .1h1m-.8 0h1m.4 0h1m-.8 0h1m-.3 0h1m-.7 0h1m.5 0h1m-.7 0h1m-.8 0h1m-.9 0h1m-5.9 .1h1m.1 0h1m-.4 0h1m-.7 0h1m-1 0h1m-.9 0h1m-.9 0h1m-.9 0h1m-.6 0h1m-.9 0h1m-1 0h1m1.8 0h1m-.4 0h1m-6.7 .1h1m-.8 0h1m1.2 0h1m-.8 0h1m-.7 0h1m-.2 0h1m-.6 0h1m-5.2 .1h1m-.8 0h1m-.5 0h1m-.9 0h1m-.6 0h1m-.3 0h1m-.9 0h1m0 0h1m1 0h1m-.3 0h1m-6.3 .1h1m0 0h1m0 0h1m-.3 0h1m.3 0h1m-.7 0h1m-.8 0h1m-4.9 .1h1m.5 0h1m-.9 0h1m-.8 0h1m.6 0h1m-.3 0h1m-5.9 .1h1m-.5 0h1m-.1 0h1m1 0h1m1.1 0h1m-7.1 .1h1m1.4 0h1m.9 0h1m-.9 0h1m.1 0h1m-6 .1h1m.3 0h1m1.1 0h1m.1 .1h1m-.7 0h1m-.7 0h1m-5.2 .1h1m-.8 0h1m-.1 0h1m.4 0h1m-1 0h1m.3 0h1m-5.1 .1h1m-.3 0h1m-.8 0h1m.8 0h1m-.3 0h1m-.7 0h1m-3.6 .1h1m-.7 0h1m1.4 0h1m-.4 0h1m-5.5 .1h1m-.9 0h1m1.4 0h1m-1 0h1m.2 0h1m.3 0h1m-1 0h1m-5.8 .1h1m-.4 0h1m0 0h1m-1.3 .1h1m-.8 0h1m-.7 0h1m-.7 0h1m-2.4 .1h1m-.7 0h1m-.6 0h1m-.4 0h1m.4 0h1m-3.7 .1h1m-.4 0h1m-.9 0h1m-2.3 .1h1m.1 0h1m-.5 0h1m-.8 0h1m-1 0h1m-.3 0h1m.9 0h1m-1 0h1m-4.3 .1h1m-1.4 .1h1m-.4 .2h1m-1.5 .1h1m-.5 .3h1m-1.2 .1h1m-1.3 .1h1m-1 0h1m-.9 0h1"/>
</g>
<g filter="url(#bl)">
<path stroke="#bcc2e6" stroke-width="1" d="M119.2 362.8h1m8.8 1.4h1m2.8 .3h1m-9.6 .1h1m1.4 .1h1m9.5 .3h1m-21.1 .8h1m2.8 .1h1m-3.3 .9h1m-.9 .4h1m17.6 .1h1m-20.3 .3h1m21.9 .1h1m-2.5 2.4h1m-1.1 .2h1m-25 .6h1m25.8 .5h1m-2.6 .1h1m4.7 .1h1m-30.7 .2h1m20.6 2h1m.3 .3h1m.2 .1h1m2.3 0h1m-26.3 .5h1m-1 .8h1m-1.3 .2h1m-2.7 .5h1m-2 1h1m19.2 .2h1m-15.5 .2h1m13.4 .2h1m-.7 .1h1m-16.8 .1h1m2.5 0h1m-5.3 .1h1m6.3 .2h1m-7.3 .4h1m17.9 .1h1m-6.6 .2h1m-10 1h1m-3.3 .4h1m10.8 .4h1m-9.7 .4h1m2.4 .6h1m-4.7 .1h1m1.1 0h1m-4.7 .4h1m4.4 1h1m-5.4 .3h1m-4.1 .3h1m1.1 0h1m5.7 0h1m-6.9 .2h1m9.3 0h1m-4.1 .7h1m-5.6 .3h1m10.4 0h1m-8.5 .1h1m-8.6 .1h1m.5 .6h1m8.3 0h1m-15 .3h1m4.4 0h1m-3.5 .1h1m9.2 .2h1m-14.9 .1h1m13.6 .4h1m0 .2h1m2.8 .1h1m-19.6 .1h1m1.2 .2h1m.1 .1h1m2.4 .6h1m-.2 0h1m-5.1 .6h1m10 0h1m2.8 .2h1m-4.5 .4h1m-14.8 .1h1m9.4 0h1m1.9 .2h1m-7.1 .1h1m-13.7 .1h1m18.6 .4h1m-14.5 .1h1m.7 .2h1m4.4 0h1m-7.9 .1h1m-3.7 .2h1m10.5 0h1m6.4 0h1m-14.3 .1h1m-11.5 .1h1m6.5 0h1m3.4 .2h1m2.9 .1h1m7 .1h1m-9.7 .2h1m1.5 .1h1m-6.4 .1h1m2.9 0h1m-11 .2h1m.7 0h1m-4.5 .1h1m12.6 0h1m-10.2 .1h1m10 .3h1m-9 .3h1m7.2 0h1m-7.3 .2h1m-3.6 .1h1m1.1 .2h1m6.5 0h1m-13.3 .1h1m8.3 .1h1m1.1 0h1m3 0h1m-9.3 .1h1m1.1 .1h1m-10.7 .5h1m-3.9 .1h1m.9 .1h1m0 0h1m-1.6 .5h1m-.8 .5h1m19.1 0h1m-17.8 .4h1m8.9 .5h1m-14.5 .1h1m15.2 .4h1m-8.1 .8h1m-12.1 .3h1m14.7 0h1m-9.3 .4h1m-3.9 .1h1m-1.7 .1h1m11.7 .4h1m-14.5 .6h1m1.2 0h1m5.7 0h1m-1.5 .3h1m-11.3 .2h1m10.7 0h1m3.5 .2h1m-6.3 .2h1m-12.8 .3h1m11 .7h1m-7 .4h1m8.7 .4h1m-12.2 .1h1m12 .3h1m-5.6 .2h1m-5.8 .2h1m2.5 .1h1m6 .1h1m-13 .2h1m4.6 0h1m.1 .1h1m-16.2 .2h1m1.3 0h1m14.3 0h1m2.8 .1h1m-17.8 .1h1m3.8 .1h1m1.4 0h1m-9 .4h1m12.4 .6h1m9.2 .1h1m-20.4 .5h1m3.2 0h1m5.3 .1h1m-10.6 .3h1m12.3 .6h1m-18.2 .2h1m-.5 .1h1m-1.7 .3h1m6.3 .4h1m-15.7 .1h1m-.5 0h1m12.6 0h1m.7 .5h1m-3.3 .3h1m1.1 0h1m2.3 0h1m-5.5 .1h1m-3 .3h1m-8.8 .9h1m11.8 .6h1m-3.5 .1h1m.2 .1h1m.6 0h1m-7.6 .1h1m1.2 .3h1m.8 .2h1m6.8 1.3h1m-12.3 .5h1m10.6 .1h1m-6.7 1.1h1m-3.9 1.3h1m.1 .1h1m-2.6 1.9h1m-8.9 2.8h1m9.9 .3h1"/>
<path stroke="#8a96d4" stroke-width="1" d="M129.2 365.2h1m1.3 .5h1m-9.6 .2h1m3.4 0h1m.3 0h1m-6.2 .1h1m3.7 .1h1m-.6 0h1m-6 .2h1m3.3 0h1m-4.2 .2h1m10.9 .1h1m-12.9 .1h1m-.3 0h1m-4.2 .1h1m10.1 0h1m0 .1h1m-1.9 .1h1m-11.8 .1h1m2.2 .1h1m-5.9 .1h1m13.9 .2h1m-1.8 .3h1m.1 .2h1m-15.7 .1h1m12.5 0h1m-.3 0h1m.2 .1h1m-19.2 .6h1m.1 .2h1m-1.9 .1h1m.5 .2h1m-2.7 .2h1m0 .9h1m-1.1 .3h1m16.5 .3h1m-19.8 .3h1m.7 .1h1m17.8 .4h1m-19.9 .1h1m-1.4 .2h1m17.1 0h1m-20.1 .1h1m18 .1h1m-19.1 .1h1m-1.2 .5h1m18 0h1m-18.9 .6h1m-1.4 .2h1m-1.2 .3h1m-1 .3h1m.4 .6h1m-.4 0h1m14.1 .1h1m-.4 .2h1m-15.5 .2h1m-2.6 .4h1m.3 0h1m.3 .1h1m11 .2h1m-14.4 .2h1m.8 .1h1m7.7 0h1m-10.1 .1h1m.8 0h1m-3.2 .1h1m2.8 .4h1m.8 0h1m1.8 .1h1m-8.3 .2h1m7.5 0h1m-3.5 .1h1m-3.4 .1h1m-.7 0h1m1.1 0h1m-2.1 .1h1m2.2 .3h1m-.9 0h1m-4.9 .2h1m-1.8 16.2h1m-1.1 .1h1m-.8 .6h1m4.2 .4h1m-2.8 .1h1m2.2 0h1m-1.5 .1h1m-5.7 .2h1m1.8 .2h1m-5.1 .3h1m4.1 0h1m-7.1 .1h1m-1.2 .2h1m-3.3 .1h1m4.1 0h1m1.4 0h1m-.5 0h1m-9.9 .1h1m2.4 .3h1m4.2 .1h1m-4.2 .1h1m1.6 .1h1m-5.2 .3h1m-4 .1h1m-1.7 .1h1m2.8 0h1m-4.6 .2h1m-.1 .1h1m5.1 0h1m-3.5 .8h1m-2.8 .8h1m.8 .6h1m-1.8 .4h1m-.6 .1h1m-2.2 .3h1m-.1 .1h1m-.3 .3h1m0 .4h1m-1.6 .1h1m-1.1 .2h1"/>
<path stroke="#5262b8" stroke-width="1" d="M129.2 366.5h1m-.1 .1h1m-.8 0h1m-4.1 .1h1m3.5 0h1m-1.2 .2h1m-.3 0h1m-4.5 .1h1m.7 0h1m-2.7 .1h1m-1 .1h1m.4 .1h1m1.5 .1h1m-8.9 .2h1m.2 0h1m-.4 0h1m-4.4 .1h1m8 0h1m-6.7 .1h1m5 0h1m-10.2 .1h1m-.7 0h1m-2.3 .1h1m2.8 0h1m-2.9 .1h1m8.7 0h1m-1.3 .1h1m-.2 .3h1m-14.3 .1h1m1 0h1m-1.8 .2h1m-.4 0h1m10.4 0h1m.2 0h1m-13.3 .3h1m-3.1 .1h1m11.9 0h1m-12.5 .1h1m-.3 0h1m-2.6 .1h1m-.1 0h1m12.8 .1h1m-16.3 .1h1m.7 .2h1m12.3 .1h1m-1 .2h1m-15 .1h1m-.5 .1h1m-2.6 .2h1m14.2 .1h1m-1 0h1m-.4 .1h1m-2.6 .4h1m.1 0h1m-16.3 .1h1m14.2 0h1m-2.1 .1h1m-.2 0h1m-.9 0h1m-.3 .1h1m-17.5 .2h1m.4 0h1m14.1 0h1m-17.1 .2h1m15.1 .1h1m-16.2 .3h1m13.6 0h1m-.8 .1h1m-1.7 .1h1m-16 .1h1m-.8 0h1m13.1 0h1m-.9 0h1m.8 0h1m-15.3 .1h1m11.8 0h1m-15.1 .1h1m-2 .3h1m.2 .1h1m-2.3 .1h1m.9 0h1m12.4 0h1m-14.8 .3h1m-.6 0h1m.5 0h1m10.5 0h1m-12.7 .2h1m11.2 0h1m-15.6 .1h1m2.2 0h1m9.3 0h1m-13.3 .1h1m1.3 0h1m10.1 0h1m-.4 0h1m-13.7 .1h1m10.2 0h1m.6 0h1m-14.5 .1h1m12.2 .1h1m-13 .1h1m-3 .1h1m3.2 0h1m3.5 0h1m-.4 0h1m.2 0h1m-.8 .1h1m-8.1 .1h1m1.9 0h1m-1 0h1m.5 0h1m-4.3 .1h1m5.7 0h1m-.5 0h1m-6.9 .1h1m3.7 0h1m-10.3 .1h1m6 .1h1m1.4 0h1m-10.7 .1h1m1.7 0h1m6.6 0h1m-8.8 .1h1m-.8 0h1m5.6 0h1m-.6 0h1m.6 0h1m-11.5 .1h1m1.1 0h1m-.3 0h1m5.2 0h1m-7 .1h1m.4 0h1m4.8 0h1m-2.4 .2h1m-2.4 .1h1m-1.8 .1h1m.1 .1h1m1.3 0h1m-8.8 .1h1m-.6 .1h1m-.3 0h1m.4 .1h1m4 0h1m-5.5 .2h1"/>
<path stroke="#3444a6" stroke-width="1" d="M127.5 367.4h1m-.3 .2h1m-.2 0h1m-.8 0h1m.7 0h1m-2.9 .1h1m.8 0h1m-4.7 .1h1m3 0h1m-.8 0h1m-2.4 .3h1m-3.7 .2h1m1.4 0h1m.1 0h1m-.3 0h1m-5.7 .1h1m1.1 0h1m-.6 0h1m-6 .1h1m6.9 0h1m.2 0h1m-.9 0h1m-9.6 .1h1m-1.7 .1h1m0 0h1m1.1 0h1m-4.4 .1h1m-1 0h1m1.4 0h1m-.3 0h1m-.9 0h1m3.8 0h1m-.6 0h1m-8.9 .1h1m-.5 0h1m.3 0h1m-.8 0h1m.1 0h1m-1 0h1m3.9 .1h1m-7.9 .1h1m-.3 0h1m.1 0h1m4.4 0h1m-6.7 .1h1m4.1 0h1m0 0h1m-9.9 .1h1m7.3 0h1m-.1 .2h1m-1.5 .1h1m-10.7 .2h1m-1.2 .1h1m0 0h1m-.6 0h1m-.6 0h1m8.6 0h1m-12.5 .2h1m10.3 0h1m-11.2 .1h1m-.4 0h1m-1.3 .1h1m-1.5 .1h1m8.3 0h1m-.9 .1h1m-11.7 .1h1m10 .1h1m-.8 .1h1m-12.7 .1h1m-.9 0h1m.4 0h1m8.6 0h1m.3 0h1m-.6 0h1m-13.6 .1h1m-.4 0h1m-.9 .1h1m-.8 0h1m10 0h1m-.6 0h1m-.8 0h1m-12.7 .1h1m9.4 0h1m-11.7 .1h1m9.3 0h1m-.8 0h1m-.4 0h1m-.6 0h1m-.9 0h1m-12 .1h1m8.7 0h1m-.1 0h1m-1 0h1m-11.9 .1h1m.5 0h1m-1.1 .1h1m-.9 0h1m-.7 0h1m-3 .1h1m-.1 0h1m-.6 0h1m9 0h1m-10.8 .1h1m-2.1 .1h1m-1.6 .1h1m-.6 0h1m.5 0h1m8.4 0h1m-.8 0h1m.6 0h1m-13.4 .1h1m-.7 0h1m9.5 0h1m-11.9 .1h1m-.2 0h1m-.4 0h1m-1.5 .1h1m-.8 0h1m7.9 .1h1m-.1 0h1m-1 0h1m-10.6 .1h1m7.8 0h1m.3 0h1m-9.9 .1h1m7.2 0h1m-.1 0h1m-2.6 .1h1m.2 0h1m-.8 0h1m-12.6 .1h1m.5 0h1m.1 0h1m8.1 0h1m-12 .1h1m.5 0h1m6.6 0h1m-.9 0h1m-.5 0h1m-10.8 .1h1m-.8 0h1m-1 0h1m8.6 0h1m-1.5 .1h1m.9 0h1m-12.4 .1h1m-.6 0h1m0 0h1m7.8 0h1m-11.2 .1h1m1.9 .1h1m-.2 0h1m-.7 0h1m.6 0h1m.7 0h1m1.3 0h1m-6.6 .1h1m-2.8 .1h1m2 0h1m-.8 0h1m-.5 0h1m-.1 0h1m-.5 0h1m-5.7 .1h1m3.3 0h1m1.1 0h1m-8 .1h1m5.2 0h1m-6.6 .1h1m.2 0h1m2 0h1m0 0h1m-6.6 .1h1m-.6 0h1m-.5 0h1m4.5 0h1m-8.2 .1h1m3.1 0h1m1.5 0h1m-.1 0h1m-5.9 .1h1m1.6 0h1m1.1 0h1m0 0h1m-7.7 .1h1m3.2 0h1m-3.2 .1h1m-.2 0h1m-1.3 .2h1m-.2 0h1m-1.6 .1h1m-.9 .3h1m-1 0h1m-.5 .1h1"/>
<path stroke="#2a3898" stroke-width="1" d="M128 368.4h1m-.2 0h1m-.4 0h1m-1.5 .1h1m-.6 0h1m-1 0h1m-2.6 .1h1m1.2 0h1m.4 0h1m-4.5 .1h1m-.4 0h1m1.1 0h1m-2 .1h1m-.3 0h1m-.1 0h1m-.7 0h1m-4.2 .1h1m.3 0h1m-.4 0h1m-.5 0h1m-2.7 .1h1m-.3 .1h1m-.2 0h1m-.3 0h1m-2.7 .1h1m-.1 0h1m-.1 0h1m-3.4 .1h1m.5 0h1m-.9 0h1m-.8 0h1m-.7 0h1m-.3 0h1m-3.4 .1h1m-.7 0h1m-.1 0h1m-.9 0h1m1 0h1m-8.8 .1h1m-1 0h1m1.3 0h1m-.2 0h1m.1 0h1m-.4 0h1m-.2 0h1m-.4 0h1m-.2 0h1m-.1 0h1m-8 .1h1m.4 0h1m-.2 0h1m-.8 0h1m.6 0h1m-.1 0h1m-3.2 .1h1m-.8 0h1m.8 0h1m-5.3 .1h1m-.4 0h1m-.8 0h1m-.8 0h1m.1 0h1m-.4 0h1m-.6 0h1m-.4 0h1m-.5 0h1m-.5 0h1m-.6 0h1m-3.9 .1h1m-.8 0h1m2.3 0h1m-6.2 .1h1m1.5 0h1m-.2 0h1m.3 0h1m.5 0h1m-8.1 .1h1m-1 0h1m-.5 0h1m-.5 0h1m-.5 0h1m.1 0h1m-.4 0h1m.7 0h1m-.8 0h1m-.9 0h1m-.2 0h1m.2 0h1m-8.2 .1h1m-.4 0h1m-.1 0h1m-.8 0h1m-.7 0h1m0 0h1m-.8 0h1m2.5 0h1m-7.6 .1h1m.9 0h1m1.1 0h1m-.3 0h1m-.2 0h1m-.1 0h1m-.6 0h1m-9.3 .1h1m-.1 0h1m-.8 0h1m-.5 0h1m.1 0h1m0 0h1m2 0h1m.9 0h1m-9.7 .1h1m-.3 0h1m-.8 0h1m-.7 0h1m-.5 0h1m.3 0h1m-.5 0h1m-1 0h1m-.1 0h1m-.9 0h1m-.2 0h1m-.9 0h1m-.6 0h1m-.3 0h1m-7.2 .1h1m-.4 0h1m1.2 0h1m-.7 0h1m-.7 0h1m-.2 0h1m-.6 0h1m-.2 0h1m-1 0h1m-.5 0h1m-6.8 .1h1m-1 0h1m1.1 0h1m-.1 0h1m1.7 0h1m-.5 0h1m-6.5 .1h1m-.8 0h1m-.7 0h1m-.8 0h1m-.6 0h1m.6 0h1m0 0h1m-.4 0h1m.4 0h1m-.4 0h1m-6.6 .1h1m-.4 0h1m2.5 0h1m-.7 0h1m-.8 0h1m-7.5 .1h1m-.2 0h1m.3 0h1m.1 0h1m.8 0h1m-.1 0h1m-.3 0h1m-1 0h1m.7 0h1m-1 0h1m-.9 0h1m-.8 0h1m-7.8 .1h1m-.5 0h1m-.9 0h1m.8 0h1m-.9 0h1m-.1 0h1m-.6 0h1m-.7 0h1m.2 0h1m-.9 0h1m-.7 0h1m-.6 0h1m-.8 0h1m-6.3 .1h1m-.3 0h1m1.3 0h1m-1 0h1m-.3 0h1m-.6 0h1m.4 0h1m-.6 0h1m-8.7 .1h1m2.5 0h1m.4 0h1m-.6 0h1m-.8 0h1m.8 0h1m-6.6 .1h1m.7 0h1m.5 0h1m.5 0h1m-.4 0h1m-7.9 .1h1m-.7 0h1m0 0h1m1.4 0h1m-1 0h1m-.9 0h1m-.5 0h1m-.3 0h1m-.3 0h1m1.9 0h1m-9.4 .1h1m2 0h1m-.4 0h1m-.7 0h1m-.5 0h1m-.8 0h1m-.8 0h1m-.7 0h1m-.2 0h1m-.2 0h1m.4 0h1m-7.8 .1h1m-.7 0h1m.5 0h1m-.5 0h1m.9 0h1m-.6 0h1m-.9 0h1m-6.3 .1h1m.1 0h1m.9 0h1m2.3 0h1m.5 0h1m-9.4 .1h1m-.5 0h1m1 0h1m-1 0h1m-.7 0h1m-.9 0h1m0 0h1m-.3 0h1m-1 0h1m-.9 0h1m-.5 0h1m1.1 0h1m-8.3 .1h1m0 0h1m-.1 0h1m-.3 0h1m.2 0h1m-.7 0h1m-.6 0h1m.6 0h1m-.8 0h1m-.3 0h1m-6.5 .1h1m-.8 0h1m-.6 0h1m.3 0h1m-.4 0h1m1.5 0h1m-5.5 .1h1m1.1 0h1m2.1 0h1m-7.2 .1h1m-.2 0h1m-.8 0h1m-.5 0h1m1.3 0h1m.2 0h1m-.8 0h1m-.6 0h1m.8 0h1m-9.5 .1h1m0 0h1m-.2 0h1m-.1 0h1m.2 0h1m-.4 0h1m.2 0h1m-.8 0h1m-.9 0h1m.1 0h1m-.7 0h1m-7.7 .1h1m-.5 0h1m-.7 0h1m.3 0h1m-.8 0h1m-.2 0h1m-1 0h1m0 0h1m-.1 0h1m-1 0h1m-.1 0h1m-.4 0h1m-.9 0h1m-7.1 .1h1m-1 0h1m-.3 0h1m-.1 0h1m-.3 0h1m.5 0h1m.3 0h1m-5.7 .1h1m-.8 0h1m1.4 0h1m-.5 0h1m.2 0h1m-5.8 .1h1m.9 0h1m-.9 0h1m-.6 0h1m-.7 0h1m-1 0h1m.1 0h1m-.8 0h1m-.2 0h1m-5.2 .1h1m.7 0h1m.1 0h1m-.8 0h1m1.4 0h1m-7.6 .1h1m-.2 0h1m-.8 0h1m-.5 0h1m-.5 0h1m-.9 0h1m1.5 0h1m.2 0h1m.1 0h1m-6.2 .1h1m0 0h1m-2.2 .1h1m-.4 0h1m-.8 0h1m.7 0h1m.3 0h1m.3 0h1m-6.8 .1h1m.6 0h1m-.4 0h1m.1 0h1m-3.2 .1h1m0 0h1m.3 0h1"/>
</g>
<path d="M216.3 353.7V422.7M190.7 396.4H255.7" stroke="#8d93aa" stroke-width=".55"/>
<g filter="url(#bl)">
<path stroke="#ecb4bc" stroke-width="1" d="M208.8 357.6h1m-6 .5h1m7.6 5.6h1m-7.4 1.2h1m6.9 .5h1m-7.7 .5h1m4.4 .2h1m-5.3 .4h1m.2 .2h1m-.6 0h1m.4 .1h1m.1 .3h1m4.1 .4h1m-8.9 .2h1m5.9 .7h1m-10.7 .2h1m6.8 0h1m-2.1 .5h1m-11.1 .6h1m12.5 .9h1m-2.1 1.9h1m.1 .5h1m-16.6 1.9h1m15.8 .3h1m-1 0h1m-18 2h1m16.1 0h1m-17.1 1.5h1m14.3 .2h1m-19.6 1.9h1m16.7 .1h1m-15.9 .4h1m-1.2 1.1h1m.5 .5h1m-.4 .3h1m11.2 1.1h1m-11.5 .7h1m-1 2.4h1m-1.8 1.4h1m-.8 .6h1m-2.5 .4h1m.5 1.5h1m9.2 1.2h1m-12.3 1.5h1m17.5 .5h1m-17.4 .1h1m9.7 4.8h1m-13.1 .9h1m11.5 2.3h1m-.6 .8h1m-2.3 3.2h1m-14 .2h1m-.4 .1h1m-.7 .6h1m11.2 .1h1m-2.1 1.1h1m-10 1.6h1m6 .9h1m-3.3 1h1"/>
<path stroke="#dc7484" stroke-width="1" d="M208.6 368.8h1m2.1 .3h1m-2 .1h1m-3.5 .1h1m1.6 .2h1m1.9 .3h1m-4.5 .1h1m1.9 .4h1m-.2 .1h1m-4 .2h1m1.4 .2h1m.1 .2h1m-12.5 .8h1m-.8 .4h1m.5 0h1m-2.8 .1h1m11.5 .2h1m-.8 .2h1m-13.1 .4h1m-1.5 1.3h1m12.9 .8h1m-.6 0h1m-14.8 .6h1m-.9 3.3h1m-.8 .1h1m11.1 0h1m-.1 0h1m-1.8 .1h1m-13.7 .5h1m.1 .3h1m-2.3 .2h1m.4 .1h1m-1.5 .9h1m-2 .2h1m1 .4h1m-1.7 .7h1m8.6 2.7h1m-7.4 .6h1m-1.4 1.4h1m5.7 0h1m-7.1 .8h1m-2 1h1m5.7 0h1m-.7 .5h1m-.6 .2h1m-7.5 .2h1m5.3 .6h1m-7.5 1h1m-1.9 .3h1m-.6 0h1m6 0h1m-.7 1.7h1m-8.5 2.4h1m-.2 .9h1m5.6 .1h1m-8.1 .1h1m6.1 .1h1m-7.7 .1h1m-1.5 1.6h1m6 .7h1m-8.3 .3h1m-1.1 .7h1m6.3 .8h1m.6 1.1h1m-1 .2h1m-.8 0h1m-.9 1.1h1m-1.3 .7h1m-1.1 1.1h1m-1.1 1.4h1m-11.9 .1h1m9.5 .9h1m-1.5 .5h1m-1 .1h1m-2.1 .3h1m-.8 .2h1m-.9 0h1m-2 .9h1m-5.6 .3h1m1.9 0h1m-4.8 .3h1m3.1 1h1m-2.9 .1h1"/>
<path stroke="#cc3448" stroke-width="1" d="M208.5 370h1m-.2 0h1m-2 .1h1m-3.3 .1h1m.5 0h1m-2.4 .3h1m2.5 0h1m-3.4 .1h1m.3 0h1m-3.1 .1h1m-1 0h1m-.6 0h1m-.4 .1h1m-2 .1h1m.3 0h1m-.3 0h1m-3.7 .1h1m4 0h1m-5.7 .1h1m1.4 0h1m-3.6 .1h1m3.6 0h1m-2.9 .1h1m.8 0h1m-6.4 .1h1m4.1 .1h1m-6.3 .1h1m2.5 0h1m-.8 0h1m2.5 .1h1m-.5 0h1m-1.9 .2h1m1.1 .3h1m-9.8 .1h1m5.2 0h1m-6.8 .1h1m-.4 0h1m4.9 0h1m.3 0h1m-1.8 .1h1m-2.2 .1h1m.3 0h1m-.1 .2h1m-10.1 .1h1m7.8 .3h1m-.5 0h1m-.6 0h1m-1.8 .1h1m-9.9 .2h1m-.6 0h1m8.9 0h1m-1.3 .2h1m-9.6 .1h1m-1.4 .1h1m-1.8 .4h1m9 0h1m-.1 .6h1m-10.6 .1h1m8 0h1m-.2 0h1m-2.5 .2h1m-9.6 .1h1m-1.5 .1h1m-.5 .1h1m8.6 0h1m-.7 0h1m-1.1 .4h1m-2.1 .3h1m-.4 .1h1m-.1 0h1m-12.4 .1h1m9.9 .1h1m-11.5 .1h1m-1.1 .1h1m-.7 .2h1m9 0h1m-.2 0h1m-12.4 .1h1m8.8 0h1m-1.1 .2h1m0 0h1m-1.4 .1h1m-.1 .2h1m-11.3 .3h1m8.1 0h1m-.7 .1h1m-1.3 .1h1m-11.4 .1h1m.7 0h1m-1.3 .2h1m-.9 0h1m8.3 .1h1m-.4 .1h1m-11.6 .2h1m0 0h1m-1.9 .2h1m-.9 .1h1m8.8 .1h1m-1.4 .2h1m-10 .2h1m7.7 0h1m-8.3 .5h1m6.8 .1h1m-8.6 .4h1m6.3 0h1m-8.7 .3h1m6.6 .1h1m-8.6 .3h1m6.9 .3h1m-1.9 .4h1m-8.1 .1h1m6.1 .7h1m-8.5 .2h1m.6 .1h1m-1.5 .1h1m-.6 .1h1m-1.2 .1h1m-.5 0h1m4.5 .6h1m-7.3 .1h1m-.9 .4h1m5.1 .1h1m-6.9 .1h1m-.6 0h1m4.4 .1h1m-5.6 .1h1m3.7 .1h1m-6.2 .1h1m-.9 0h1m-.2 0h1m-1.8 .1h1m-2 .3h1m.3 0h1m3.6 .3h1m-.9 .1h1m-1 .2h1m-5.4 .5h1m3.4 .3h1m-6 .3h1m-.6 0h1m-.9 .6h1m-.7 .3h1m-.6 .3h1m2.1 0h1m-4.7 .1h1m2.9 .1h1m-4.7 .1h1m-1.5 .2h1m-1.3 .5h1m-.2 0h1m2.3 .2h1m-4.9 .1h1m-1 .5h1m-1 .3h1m3.4 .1h1m-1.3 .2h1m-.8 0h1m-.8 0h1m-.3 .1h1m-5.6 .1h1m-1.1 .1h1m-1 .2h1m2.5 0h1m-1.1 .3h1m-.6 0h1m-1 0h1m-5.4 .3h1m3.1 .2h1m-5.3 .3h1m-.4 .2h1m2.7 0h1m.5 0h1m-6.3 .2h1m3.7 .1h1m-5.5 .7h1m-.8 0h1m-1.2 .2h1m-2.1 .3h1m4.4 0h1m-5.9 .2h1m4.8 .2h1m-1 0h1m-6.2 .1h1m-1 .1h1m-1 0h1m-1.2 .1h1m3.5 0h1m-5.5 .1h1m3.4 .1h1m-.9 .2h1m-5.4 .5h1m4.2 .2h1m-7.2 .2h1m5 0h1m-6.7 .1h1m4.2 .3h1m-5.5 .1h1m-1.3 .2h1m-.7 0h1m-.7 .7h1m-1.1 .3h1m3.2 1.6h1m-.9 .3h1m-.5 .7h1m-5.9 .3h1m3.7 0h1m-1 .6h1m-1 .5h1m-.2 .3h1m-2.1 .1h1m-.6 0h1m-6.9 .1h1m-.7 0h1m4.6 0h1m-.8 .2h1m-8.1 .1h1m-1 .2h1m-.9 .3h1m-1 .1h1m-1.2 .6h1m-2.3 .1h1m7.9 0h1m-10.2 .1h1m0 0h1m6.2 0h1m-8.1 .2h1m6.3 .1h1m-8.8 .1h1m-.1 .1h1m6.9 .2h1m-9.2 .1h1m-2.2 .1h1m-.1 .1h1m8 .3h1m-10.1 .2h1m7.7 0h1m-9.6 .1h1m-1.5 .1h1m-.8 0h1m8.2 .2h1m-10.7 .1h1m8 .2h1m-9.3 .6h1m-.3 .1h1m-.6 .1h1m6.3 .2h1m-8.3 .1h1m-2.1 .1h1m6.4 .7h1m-7.2 .1h1m5.5 .2h1m-6.9 .2h1m-1.9 .2h1m4.8 0h1m-5.2 .1h1m.3 0h1m-.6 .1h1m-1.3 .2h1m-.2 0h1m.4 0h1m-4.1 .1h1m1.1 .3h1m-3.2 .2h1m-.6 .3h1m-.9 .5h1m-.9 0h1"/>
<path stroke="#be1430" stroke-width="1" d="M206.9 371.8h1m-.3 .1h1m2 0h1m-3.8 .1h1m1.3 .1h1m-1.3 .1h1m-.8 0h1m-3 .1h1m-.4 0h1m-1.6 .1h1m.6 .1h1m-3.3 .1h1m1.3 0h1m-.8 0h1m-.3 .1h1m0 0h1m-.5 .1h1m-.4 0h1m-7.8 .1h1m-.6 0h1m.5 0h1m.4 0h1m-.2 0h1m-3.7 .1h1m-.9 0h1m-.5 0h1m-.9 0h1m.3 0h1m-3.9 .2h1m-.7 0h1m-.6 0h1m-1.4 .1h1m2.3 0h1m-.6 0h1m1.1 0h1m-7.6 .1h1m2.1 0h1m-.7 0h1m-.5 0h1m-.4 0h1m-3.8 .1h1m1.5 0h1m-.6 0h1m-3.1 .1h1m-.1 0h1m-.7 0h1m-4.4 .1h1m.3 0h1m4.2 0h1m-6.4 .2h1m-.6 0h1m3.9 0h1m-6 .2h1m3.7 0h1m-.9 0h1m-7 .1h1m-.4 0h1m-.8 0h1m-.7 0h1m2.9 .1h1m-.8 0h1m-.8 0h1m.2 0h1m-.9 0h1m-3.2 .2h1m-1 0h1m-5.2 .1h1m-1 0h1m5.5 0h1m-1.5 .1h1m-.7 0h1m-1.9 .1h1m-6.8 .3h1m4.8 .1h1m-.8 .1h1m-6.8 .1h1m-1.3 .1h1m5.2 0h1m-.8 0h1m-1.5 .1h1m-.9 0h1m-7.8 .1h1m-.7 0h1m6.2 0h1m-8.4 .1h1m-.6 0h1m-1.6 .2h1m6.8 0h1m-1.2 .1h1m-.3 0h1m-8.8 .1h1m6.4 0h1m-7.9 .1h1m-2.2 .1h1m.4 0h1m-1.7 .1h1m6.4 0h1m-7.5 .2h1m5.7 0h1m-9.4 .2h1m.1 0h1m5.9 .1h1m-7.7 .1h1m6.2 0h1m-8.2 .1h1m5.9 0h1m-8.1 .1h1m-.7 0h1m-2.5 .2h1m7.6 0h1m-8.1 .3h1m6.4 0h1m-8.2 .1h1m-1.5 .1h1m-.7 0h1m6.2 0h1m-1.5 .2h1m-7.8 .3h1m6 .1h1m-1.4 .1h1m-7.1 .1h1m5.8 .3h1m-1.7 .1h1m-.2 0h1m-8.1 .1h1m-1.4 .2h1m-.4 .2h1m5.5 .1h1m-6.9 .1h1m-1.4 .1h1m-.3 .1h1m-1.4 .1h1m-.9 0h1m4.5 .1h1m-6.9 .4h1m-.8 0h1m5.5 0h1m-1.8 .1h1m-5.4 .1h1m3.9 .1h1m-5.8 .1h1m4.2 0h1m-6.4 .1h1m-2.2 .2h1m-.9 0h1m-.7 .1h1m-.4 0h1m-.5 .1h1m3.2 0h1m-6.8 .1h1m-.6 0h1m1.3 0h1m-3.1 .1h1m-.2 0h1m-.3 0h1m1.8 0h1m-.8 0h1m-5.3 .1h1m-2 .2h1m-.1 0h1m3.3 0h1m-5 .1h1m.4 0h1m-.7 0h1m-3.2 .1h1m-.4 0h1m-.3 .1h1m2.3 0h1m-6 .2h1m.2 .1h1m-.4 0h1m-.2 0h1m-1.6 .2h1m-.4 0h1m-.8 .1h1m-.8 0h1m0 0h1m.1 0h1m-.9 0h1m-1.6 .1h1m-3.7 .1h1m-.3 0h1m.1 0h1m-2.4 .1h1m.5 .2h1m0 0h1m-.3 0h1m-2.8 .1h1m-.7 0h1m-3.8 .1h1m-.5 0h1m1.4 0h1m-.5 0h1m-1 .1h1m-4.8 .1h1m-.7 0h1m-.6 0h1m-1.9 .1h1m.9 0h1m-.8 0h1m-.4 .1h1m-.4 0h1m-.7 0h1m-.2 0h1m-3.1 .1h1m-.7 0h1m.5 0h1m-3.3 .1h1m-.7 0h1m-.4 .1h1m-.8 .1h1m-.7 0h1m-3.9 .1h1m.6 0h1m-1 0h1m0 .2h1m-.9 0h1m-2.9 .1h1m1.5 0h1m.1 0h1m-2.6 .2h1m-3 .1h1m1.6 0h1m-.1 0h1m-4.6 .1h1m1.7 0h1m-2.5 .1h1m.1 0h1m-2.9 .1h1m0 0h1m-.4 0h1m-1 0h1m-2.9 .1h1m.3 0h1m-.7 0h1m.3 0h1m-.9 .1h1m-1.3 .1h1m-.4 0h1m-3.1 .2h1m-1 .1h1m-.1 .1h1m-2.3 .1h1m1.2 0h1m-.5 0h1m-2.7 .1h1m-.1 0h1m.1 0h1m-3.7 .1h1m-.7 0h1m-1.4 .1h1m-.9 0h1m.2 .1h1m-.5 0h1m-.5 .1h1m-3.1 .1h1m-.3 0h1m0 0h1m-2.3 .1h1m-.6 .1h1m.4 0h1m-3.9 .1h1m-.5 0h1m.3 .1h1m-2.2 .1h1m-.3 0h1m-2.2 .1h1m.9 0h1m-.2 0h1m-1 0h1m-.6 0h1m-3.4 .1h1m-.9 0h1m.3 0h1m-2.8 .1h1m.1 .1h1m-.9 0h1m-1.2 .3h1m-.9 0h1m-.8 .3h1m-1.8 .1h1m-.5 0h1m-1 .1h1m-.9 0h1m-1.6 .3h1m-1.5 .1h1m-.7 0h1m-1.7 .1h1m-.4 0h1m.2 0h1m-2.7 .1h1m.4 0h1m-.9 0h1m-.8 0h1m-2.7 .1h1m.9 0h1m-3 .3h1m-1.2 .2h1m0 0h1m-.6 0h1m-2.6 .1h1m-.6 0h1m-.1 0h1m-2.1 .1h1m-.1 .1h1m-1.1 .1h1m.4 0h1m-.7 0h1m-2.1 .1h1m-2 .1h1m.6 0h1m-2.3 .3h1m-.3 0h1m-1.2 .1h1m-.3 .1h1m-.7 0h1m-1.2 .1h1m-2.1 .1h1m-.5 0h1m-1 0h1m-1.8 .1h1m-1.8 .1h1m-.7 0h1m.3 0h1m-1.7 .1h1m.1 0h1m-2.1 .1h1m-.7 .1h1m-1.5 .2h1m-.2 0h1m-.8 0h1m0 .2h1m-3 .3h1m.2 .2h1m-.6 0h1m-3.5 .2h1m1.3 0h1m-3.2 .1h1m.5 0h1m-2.1 .1h1m-.6 0h1m.3 0h1m-.9 0h1m.6 0h1m-2.5 .1h1m-2.4 .2h1m-.2 0h1m.3 0h1m-2.3 .1h1m0 .1h1m-3 .1h1m-.3 0h1m.2 0h1m-.9 0h1m-.8 0h1m-1.7 .1h1m-.2 0h1m-3.4 .1h1m0 0h1m-2.5 .1h1m.8 0h1m-2.8 .2h1m1.4 0h1m0 0h1m-4.3 .1h1m-.8 0h1m.7 0h1m-.6 0h1m-.8 .1h1m-.9 0h1m-3.7 .1h1m2.5 0h1m-3.8 .2h1m.3 0h1m-1 .1h1m-.6 0h1m-.8 0h1m-2.7 .1h1m-.1 .1h1m0 0h1m-.8 .1h1m-1.5 .1h1m-.7 0h1m-2.4 .1h1m-.9 .1h1m.8 0h1m-.9 0h1m-4.5 .1h1m-.6 0h1m0 0h1m.6 0h1m-3.4 .1h1m-.3 .1h1m1.4 0h1m-1.8 .1h1m-3.6 .1h1m0 0h1m-1.2 .1h1m-1.4 .1h1m-.3 0h1m.5 0h1m-1 0h1m-3.5 .1h1m1.6 0h1m-.9 0h1m-2.9 .1h1m-1 0h1m-1.5 .1h1m-.5 0h1m-.1 0h1m-.6 0h1m-.2 0h1m-3.9 .1h1m1.4 0h1m-3.2 .1h1m.6 0h1m-1 0h1m-.2 0h1m-2.4 .1h1m1 0h1m-3.3 .1h1m-1.4 .1h1m1.7 0h1m-3.7 .1h1m1.1 0h1m-.9 0h1m-.8 0h1m-1.4 .1h1m-.7 0h1m-1 0h1m-3.3 .1h1m-.8 0h1m1.2 0h1m-2.5 .1h1m-.8 0h1m-2.8 .1h1m1.8 0h1m-1.1 .2h1m-3 .1h1m-1 0h1m1.4 0h1m-1.4 .1h1m-3.2 .1h1m1.1 0h1m-.5 0h1m-3.4 .1h1m-.5 0h1m.4 0h1m-.9 0h1m-2.3 .1h1m-2.1 .1h1m.5 0h1m.6 0h1m-3.9 .1h1m-.3 0h1m.5 0h1m-3 .2h1m.4 0h1m-3.1 .1h1m.3 0h1m-.7 0h1m-.3 0h1m-3.6 .1h1m-.5 0h1m-.6 .1h1m-.2 0h1m.9 0h1m-2 .1h1m-3.1 .1h1m.5 0h1m-.9 0h1m-1.5 .2h1m-.7 0h1m-.7 0h1m-.3 0h1m-1 0h1m-2 .3h1m-2.5 .1h1m1.4 0h1m.1 0h1m-4.6 .1h1m-.8 0h1m-.5 0h1m-.7 0h1m.8 0h1m-3.3 .1h1m-.8 0h1m-.7 0h1m-.2 0h1m.4 0h1m-.8 .4h1m-4.3 .1h1m2.1 0h1m-.9 .1h1m-4.4 .1h1m-1 0h1m-.5 0h1m1.8 0h1m-4.2 .2h1m2.2 0h1m-3.8 .1h1m1.9 .1h1m-4.3 .1h1m-.6 .1h1m-1.3 .2h1m2.2 .1h1m-1.3 .2h1m-5.2 .1h1m.1 0h1m-1 0h1m2.2 0h1m-5.2 .2h1m-.4 0h1m-.7 0h1m-.9 0h1m-.7 0h1m1.5 0h1m-.9 0h1m-5.1 .1h1m-.6 .2h1m-.6 0h1m2.4 0h1m-.9 0h1m-.9 .2h1m-.5 0h1m-5.6 .1h1m3.2 .1h1m-5 .3h1m-1 0h1m3.1 0h1m-5.2 .1h1m2.8 0h1m-.9 0h1m-5.2 .1h1m-.7 .1h1m-.7 0h1m-1.9 .1h1m3.2 0h1m-5.5 .4h1m-.7 0h1m-1.5 .1h1m4.5 0h1m-4.9 .1h1m-2.3 .3h1m3.7 0h1m-.6 .2h1m-6.6 .1h1m4.6 0h1m-5.7 .3h1m3.5 0h1m-6.3 .1h1m-.4 .1h1m4.8 0h1m-7.6 .1h1m-.7 .2h1m-2 .1h1m5.9 0h1m-8.2 .2h1m.7 0h1m5.1 0h1m-7 .2h1m-1.9 .2h1m-.5 .1h1m4.5 0h1m-6.5 .1h1m3.8 0h1m-5.5 .1h1m-.9 0h1m3.7 0h1m-7.1 .1h1m4.7 0h1m-.8 0h1m-.8 0h1m-7 .1h1m-.1 .1h1m4.3 0h1m-.4 0h1m-.7 0h1m-7 .1h1m-.6 0h1m4.2 0h1m-.9 0h1m-7.9 .1h1m.5 0h1m4.4 0h1m-7.2 .1h1m4.2 0h1m-.9 0h1m-4.7 .1h1m3.7 0h1m-6 .1h1m3.4 0h1m-5.2 .1h1m-.6 .1h1m2.8 0h1m-5.3 .1h1m2.9 0h1m-4.8 .1h1m2.6 .1h1m-.8 0h1m-.8 .1h1m-6.3 .1h1m-.3 0h1m-.4 0h1m2.6 0h1m-.8 0h1m-5.2 .1h1m4.6 0h1m-4.5 .3h1m-3.1 .1h1m-.7 0h1m.1 0h1m-.8 0h1m-.6 0h1m-.5 0h1m-1.8 .1h1m-.7 0h1m-.1 0h1m-.6 0h1m-3.5 .1h1m2.6 0h1m-2.2 .1h1m-.7 0h1m-3.9 .1h1m1.1 0h1m-.9 .1h1m-.7 0h1m-.7 0h1m.2 0h1"/>
<path stroke="#b40c26" stroke-width="1" d="M208.3 373.7h1m-1.1 .1h1m-.3 0h1m-.4 0h1m-.9 0h1m-2.3 .1h1m.8 0h1m-.5 0h1m-3.4 .1h1m-.2 0h1m-.3 0h1m-2.9 .1h1m1.7 .1h1m-3.3 .1h1m.2 .1h1m-.7 0h1m-2.5 .1h1m.1 0h1m-2.3 .1h1m1.4 0h1m-4.4 .1h1m-.8 0h1m.6 0h1m-.1 0h1m-.6 0h1m-.5 0h1m-.1 0h1m-3.2 .1h1m-.8 0h1m-.7 0h1m-3.2 .1h1m.1 0h1m-.6 0h1m1.3 0h1m-.9 0h1m-5.7 .1h1m-.4 0h1m-.7 0h1m1.7 0h1m-4 .1h1m-.8 0h1m-.7 0h1m-.3 0h1m.4 0h1m-.6 0h1m-.3 0h1m-.8 0h1m-3.9 .1h1m1.7 0h1m-4.4 .1h1m-.8 0h1m1 0h1m0 0h1m-5 .1h1m-.2 0h1m1.6 0h1m.3 0h1m-4.4 .1h1m-.8 0h1m-.5 0h1m0 0h1m.7 0h1m-5.9 .1h1m-.6 0h1m.9 0h1m-.3 0h1m-.4 0h1m.1 0h1m-4.6 .1h1m.2 0h1m-.3 0h1m-.9 0h1m.3 0h1m-.9 0h1m-5.4 .1h1m-.8 0h1m-.3 0h1m1.1 0h1m-.8 0h1m-.7 0h1m-.9 0h1m-.8 0h1m.2 0h1m-4.6 .1h1m1 0h1m.5 0h1m-.9 0h1m-5.6 .1h1m-.3 0h1m-.2 0h1m.1 0h1m.5 0h1m0 0h1m-6.2 .1h1m.6 0h1m-.8 0h1m2.6 0h1m-5.7 .1h1m-.4 0h1m2.2 0h1m-.6 0h1m-4 .1h1m-.5 0h1m1.5 0h1m-5.4 .1h1m-.4 0h1m0 0h1m1 0h1m-.9 0h1m-3.7 .1h1m-.4 0h1m-.8 0h1m1.6 0h1m-.7 0h1m-5.3 .1h1m.8 0h1m.4 0h1m.2 0h1m-6 .1h1m-.5 0h1m1.5 0h1m.8 0h1m-6.3 .1h1m2.7 0h1m.5 0h1m-6 .1h1m-.8 0h1m.6 0h1m-.3 0h1m-.8 0h1m.2 0h1m-.5 0h1m-.6 0h1m-4.4 .1h1m-1 0h1m-.6 0h1m.1 0h1m0 0h1m-4.7 .1h1m.1 0h1m-.8 0h1m-1.5 .1h1m-.1 0h1m.6 0h1m-.7 0h1m-.4 0h1m-.8 0h1m-4.9 .1h1m1.7 0h1m-4.2 .1h1m-.9 0h1m-.9 0h1m1.3 0h1m-3.3 .1h1m-.7 0h1m-.4 0h1m-.9 0h1m-.7 0h1m-.9 0h1m.2 0h1m-.6 0h1m-.3 0h1m-1 0h1m-4.8 .1h1m.8 0h1m-.4 0h1m.5 0h1m-.4 0h1m-4.4 .1h1m.1 0h1m-.6 0h1m-.4 0h1m-.8 0h1m-.8 0h1m-.5 0h1m-5 .1h1m.5 0h1m-.4 0h1m-.3 0h1m-1 0h1m-.2 0h1m-.7 0h1m-.8 0h1m-4.8 .1h1m-.8 0h1m.6 0h1m-.8 0h1m-.4 0h1m-3.9 .1h1m-.4 0h1m1.2 0h1m.2 0h1m-5 .1h1m-.5 0h1m-.8 0h1m.9 0h1m-.5 0h1m-.8 0h1m.1 0h1m-5.8 .1h1m-.2 0h1m-.3 0h1m-.3 0h1m-1 0h1m-.6 0h1m-.8 0h1m-.7 0h1m-3.8 .1h1m1.6 0h1m.8 0h1m-1 0h1m-4.9 .1h1m-.3 0h1m.3 0h1m1.3 0h1m-5.6 .1h1m2.8 0h1m-.9 0h1m-1 0h1m-5.1 .1h1m-.7 0h1m.7 0h1m-.4 0h1m-.8 0h1m.1 0h1m-.9 0h1m-.1 0h1m-2.5 .1h1m-1 0h1m-.9 0h1m-.9 0h1m-.7 0h1m-.5 0h1m-5.9 .1h1m.4 0h1m-.8 0h1m-.9 0h1m1.2 0h1m-.8 0h1m-.7 0h1m-.7 0h1m.1 0h1m-5.4 .1h1m-.7 0h1m-.4 0h1m0 0h1m-.7 0h1m-.8 0h1m-.5 0h1m-.1 0h1m-5.8 .1h1m-.8 0h1m.3 0h1m0 0h1m0 0h1m-.8 0h1m.1 0h1m-5.8 .1h1m2.7 0h1m-.3 0h1m-.7 0h1m-4.9 .1h1m2.2 0h1m-2.7 .1h1m.1 0h1m.1 0h1m-.7 0h1m-6 .1h1m1.6 0h1m-3.8 .1h1m.3 0h1m.1 0h1m-.6 0h1m.3 0h1m-.8 0h1m.5 0h1m-4 .1h1m-.9 0h1m-.7 0h1m-3.5 .1h1m.5 0h1m-.5 0h1m0 0h1m.1 0h1m-2.3 .1h1m-3.2 .1h1m.5 0h1m-.4 0h1m-.9 0h1m1.2 0h1m-5.3 .1h1m1.5 0h1m.4 0h1m-4 .1h1m-.9 0h1m-.9 0h1m.6 0h1m-1 0h1m-.8 0h1m-.4 0h1m-.4 0h1m-3.3 .1h1m-.1 0h1m-.9 0h1m-.9 0h1m-.2 0h1m-.5 0h1m-4.6 .1h1m-.8 0h1m.1 0h1m-.8 0h1m-.2 0h1m-.3 0h1m-4.8 .1h1m-1.2 .1h1m.6 0h1m1.6 0h1m-2.5 .1h1m-.9 0h1m-.8 0h1m.8 0h1m-5.7 .1h1m1.5 0h1m-.1 0h1m-.2 0h1m-4.2 .1h1m-.9 0h1m.3 0h1m-2.3 .1h1m-.3 0h1m.2 0h1m-1 0h1m-.8 0h1m-.3 0h1m-2.4 .1h1m-.7 0h1m-.5 0h1m-.7 0h1m-1 0h1m-.4 0h1m-3.5 .1h1m-.5 0h1m-.8 0h1m0 0h1m-.6 0h1m-2.3 .1h1m-.8 0h1m-1.9 .1h1m-.9 0h1m-.2 0h1m-2.6 .1h1m1.9 0h1m-3.4 .1h1m-.4 0h1m-.8 0h1m-.3 0h1m-1.4 .1h1m.9 0h1m-3.5 .3h1m-.8 0h1m-.7 0h1m-.6 0h1m-1.5 .1h1m-.1 0h1m-1.2 .3h1m-1.5 .1h1m-.5 0h1m-1 0h1m-2.1 .1h1m-.5 0h1m-.6 .1h1m-.8 0h1m-1 0h1m-.9 0h1m-2.3 .1h1m.4 17h1m-.7 .1h1m-2.9 .1h1m-.2 0h1m0 .1h1m-2.9 .1h1m-.7 0h1m.2 0h1m-1.1 .2h1m-.6 0h1m-2.6 .2h1m-.6 0h1m.3 0h1m-1.6 .1h1m-2.2 .2h1m-.1 .1h1m-.4 0h1m-2.5 .1h1m-.3 0h1m-1.5 .2h1m-1 0h1m-1.1 .1h1m0 0h1m-2.1 .1h1m-.8 .1h1m-1.2 .1h1m-.3 0h1m-.5 .1h1m-2.8 .1h1m.9 0h1m-1 0h1m-.6 0h1m-2.3 .1h1m-.8 0h1m-2.5 .1h1m-.7 0h1m-.6 0h1m-.2 0h1m-1 .1h1m-1.3 .1h1m-.8 0h1m-.3 0h1m-.7 0h1m-1.8 .1h1m0 0h1m-.8 0h1m-3.9 .1h1m.1 0h1m-.5 0h1m0 0h1m-2.4 .1h1m-.7 .1h1m-.4 0h1m-2.8 .1h1m-.5 0h1m0 0h1m-1 0h1m-2 .1h1m.8 0h1m-3.2 .1h1m-1.2 .1h1m-.8 0h1m0 0h1m.1 0h1m-1.8 .1h1m-.8 0h1m-2.6 .1h1m-.2 0h1m-.2 .2h1m-.1 0h1m-2.1 .1h1m-1.4 .1h1m-.8 0h1m-.4 0h1m-.9 0h1m-3.1 .1h1m.7 0h1m-.7 0h1m-3.2 .1h1m.5 0h1m-.9 0h1m.1 0h1m-1.5 .1h1m-2.6 .1h1m.4 0h1m-3 .1h1m1.9 0h1m-.9 0h1m-4.6 .1h1m-.3 0h1m.3 0h1m.5 0h1m-4 .1h1m-.8 0h1m.5 0h1m-.4 0h1m-.6 0h1m-2.9 .1h1m1.2 0h1m-2.3 .1h1m-.6 0h1m-2.8 .1h1m-.5 0h1m-.6 0h1m0 0h1m-.9 0h1m-.9 0h1m-1 0h1m-.9 0h1m-4 .1h1m-.2 0h1m-1 0h1m0 0h1m-.7 0h1m-2.5 .1h1m-.5 0h1m-1.6 .1h1m.9 0h1m-1 0h1m-.8 0h1m-.9 0h1m-.9 0h1m-.9 0h1m-.9 0h1m-.6 0h1m-.6 0h1m-4.5 .1h1m-.1 0h1m2.3 0h1m-5.6 .1h1m-.9 0h1m1.2 0h1m-3 .1h1m-.4 0h1m-1 0h1m-.1 0h1m-.6 0h1m-.7 0h1m.8 0h1m-.8 0h1m-5.6 .1h1m.1 0h1m.1 0h1m-.3 0h1m-1 0h1m-.7 0h1m-3.2 .1h1m.5 0h1m-1 0h1m1.3 0h1m-5.2 .1h1m-.6 0h1m-.2 0h1m-.2 0h1m-2.7 .1h1m-1 0h1m-.6 0h1m-.3 0h1m.3 .1h1m-4.1 .1h1m-1.4 .1h1m-.1 0h1m-.8 .1h1m.9 0h1m-.6 0h1m-4.3 .1h1m.3 0h1m-.1 0h1m.2 0h1m-2.2 .1h1m.3 0h1m-.9 0h1m-3.3 .1h1m-2.3 .1h1m1.2 0h1m-.1 0h1m-4.1 .1h1m-.5 0h1m.1 0h1m-.9 0h1m-.5 0h1m.6 0h1m-4 .1h1m.8 0h1m-.9 0h1m-.8 0h1m-3.1 .1h1m-.6 0h1m1.2 0h1m-.8 0h1m-1.6 .1h1m-.9 0h1m-2.9 .1h1m.9 0h1m-2.8 .1h1m0 .1h1m-.7 0h1m-1 0h1m.1 0h1m-1.8 .2h1m-2.6 .1h1m-.6 0h1m.5 0h1m-2.7 .1h1m-1 0h1m-1.3 .1h1m.2 0h1m-.9 .1h1"/>
</g>
<g filter="url(#bl)">
<path stroke="#bcc2e6" stroke-width="1" d="M246.3 364.5h1m-20.8 10h1m20.4 0h1m.1 1.3h1m-1.8 1.4h1m-1.9 1.5h1m-19.9 .2h1m-2.1 .8h1m18.5 .1h1m-20.1 .4h1m-2.6 1.3h1m20.9 .2h1m-3 .3h1m-16.6 .5h1m7.7 3.1h1m6.9 .2h1m-1.8 2.1h1m-.4 .1h1m-24.3 1.5h1m7.2 .7h1m-2.7 .3h1m-4.2 .3h1m18.9 .2h1m-1.3 .1h1m-.2 .4h1m-20.8 .4h1m24.8 .4h1m-24.4 .5h1m15.8 .1h1m-18 .1h1m-.9 .4h1m-.1 .2h1m15.3 .4h1m-1.9 1h1m.8 0h1m-3.1 .5h1m-19.6 .6h1m1.4 .2h1m21.3 1.4h1m-4.5 .2h1m-3 .1h1m-.3 .6h1m-1.9 .4h1m-15.8 .7h1m-5.4 1.6h1m21.4 .9h1m-1.8 .3h1m-18.3 .2h1m-1.5 .5h1m14.1 .1h1m-19.1 .2h1m2.5 0h1m13.7 .8h1m-23.9 1.4h1m5.6 0h1m-1 .1h1m14.1 .3h1m.9 .1h1m-18.8 .2h1m.9 .2h1m-.7 .2h1m-3.2 .2h1m17.5 .4h1m-17.8 .7h1m.9 .5h1m-6 .1h1m.6 .5h1m17.1 .1h1m-1.5 .1h1m-19.1 .4h1m-2.5 .7h1m2.3 .2h1m17.1 .6h1m1.2 .8h1m-15.8 1.8h1m-6.5 .7h1m15.4 .6h1m-17.8 .4h1m7.7 .2h1m5.1 .2h1m-13.2 .5h1m-4.6 .1h1m8.3 .2h1m-3.5 .5h1m-6.6 .1h1m4.4 0h1m4 .2h1m-8 .1h1m11.1 .1h1m-15.2 .2h1m-.8 .1h1m.6 .3h1m3.1 .2h1m8.3 0h1m-12.9 .2h1m4.7 .2h1m-2.5 .2h1m-.8 .1h1m5.4 0h1m-5.3 .6h1m.9 .6h1m-9.8 .1h1m10.2 .1h1m-4.9 .4h1m-8.4 .1h1"/>
<path stroke="#8a96d4" stroke-width="1" d="M233.3 370.2h1m-2.1 .4h1m.5 .3h1m-.3 0h1m-4.6 .1h1m4.1 .3h1m4.7 0h1m.2 0h1m-10.4 .2h1m-2.1 .1h1m6.5 .1h1m4.9 .1h1m-2 .4h1m-15 .4h1m12.6 0h1m-15.7 .3h1m-2.6 1.2h1m-.8 .4h1m17.7 1.3h1m-19.6 .6h1m18.1 .2h1m-20.6 .8h1m18.1 .4h1m-18 .6h1m-1.3 .7h1m-.5 .3h1m-1.2 .2h1m.4 0h1m4.8 .2h1m-6.7 .1h1m2.3 0h1m3.2 0h1m-2.4 .1h1m-4.2 .1h1m-.7 0h1m2.4 .1h1m-9 .1h1m7.8 0h1m-9.7 .1h1m1.2 .1h1m-.6 .2h1m-1.1 .1h1m11 0h1m-7.8 .1h1m1.4 0h1m1.4 .1h1m-9.8 .2h1m9.2 0h1m-13.7 .1h1m12.3 .1h1m-3.7 .2h1m-.4 0h1m-7.3 .1h1m5.9 0h1m-9 .1h1m3.9 0h1m-.6 0h1m-9.4 .1h1m2.1 0h1m1.4 .1h1m-6.6 .1h1m8.7 0h1m-1.2 .5h1m-6.6 .2h1m8.6 0h1m-4.5 .1h1m-9.9 .1h1m2 0h1m-2.3 .1h1m6.8 0h1m1.6 .1h1m-9.9 .1h1m7.8 0h1m-3.4 .1h1m-.4 0h1m1.1 .2h1m-15.2 .1h1m1.7 .1h1m5.9 .1h1m2.8 0h1m-12.8 .1h1m.7 .1h1m-.8 0h1m-2.7 .1h1m.1 0h1m2.2 .2h1m3.1 .1h1m.3 0h1m0 0h1m-.9 0h1m-.1 0h1m-13.3 .1h1m-.3 0h1m8.5 0h1m1 0h1m-13.8 .2h1m9.4 .3h1m-11.8 .1h1m.1 0h1m4.7 .1h1m5 0h1m-13.3 .1h1m4.8 0h1m4.6 0h1m-9.8 .1h1m9.2 0h1m-12.5 .1h1m1.6 0h1m4.2 .1h1m.4 0h1m1 0h1m-2.3 .3h1m1.5 0h1m-.6 .1h1m-12.7 .1h1m1.6 0h1m-4.1 .1h1m1.5 .1h1m.6 .2h1m6.1 0h1m-1.4 .1h1m-.6 0h1m-11.4 .2h1m.9 0h1m-.8 .4h1m.4 0h1m-5.3 .1h1m1.7 0h1m-5 .1h1m4 0h1m4.7 .1h1m.8 0h1m-7.7 .1h1m-5.9 .1h1m3 0h1m.2 0h1m-.4 0h1m-7.4 .2h1m9.6 0h1m-.4 0h1m-12 .2h1m5.8 0h1m-.2 0h1m-7.3 .1h1m-.3 0h1m-.8 0h1m8.3 0h1m-2 .1h1m-12.6 .1h1m3 0h1m5.5 0h1m-9.8 .2h1m7.1 0h1m-5.9 .1h1m4.7 0h1m1.2 0h1m-3.4 .1h1m-8.2 .1h1m1.2 0h1m6.8 0h1m-4 .1h1m-7.3 .1h1m3.9 .1h1m1.3 0h1m-6.6 .1h1m-5 .2h1m9.6 0h1m-11.7 .1h1m10.2 0h1m-1.7 .1h1m-5.8 .2h1m-4.2 .2h1m2.8 0h1m1.2 .1h1m-8.9 .1h1m7.2 .2h1m2.2 0h1m-11.7 .1h1m6.7 .1h1m-10.6 .1h1m3.7 0h1m-2.4 .1h1m6.3 .2h1m-3.6 .1h1m-7.1 .2h1m7.1 0h1m-10.3 .2h1m-.7 0h1m4.5 0h1m-7.8 .2h1m1.6 .1h1m-.4 0h1m4.5 0h1m-9.6 .1h1m1.2 0h1m3.8 0h1m3.5 0h1m.2 .1h1m-9 .1h1m-.9 0h1m3.5 0h1m-3.4 .1h1m2.7 .2h1m-7.8 .1h1m-3.4 .1h1m-.9 0h1m5.6 0h1m3.9 0h1m-3.4 .4h1m-9.1 .1h1m6.1 0h1m.4 0h1m-8.1 .1h1m-2 .1h1m.1 0h1m4.4 .1h1m-9.7 .1h1m8.7 0h1m-13.3 .2h1m4.1 0h1m5.2 0h1m1.5 0h1m-5.6 .4h1m-1 0h1m-.9 0h1m1.5 0h1m-2.7 .1h1m-8.9 .2h1m5.7 .1h1m-6.8 .1h1m7.3 0h1m-6.3 .1h1m6 0h1m-11.4 .2h1m-.9 0h1m7.8 0h1m-8.2 .1h1m-2.3 .1h1m4.9 0h1m-5 .1h1m4.2 0h1m-10.7 .1h1m10 .1h1m.4 .3h1m-.3 0h1m-6 .1h1m-4.3 .1h1m4.3 0h1m1.3 0h1m.6 0h1m-15.5 .1h1m-.2 0h1m3.6 0h1m-6.4 .1h1m5.8 0h1m-5.7 .1h1m11 0h1m-4.2 .1h1m-11.2 .1h1m6.8 .1h1m-7.4 .1h1m8.5 0h1m.9 0h1m-12.9 .1h1m-.9 0h1m3.7 0h1m3.1 0h1m1.9 0h1m-13 .3h1m11.8 0h1m-9.9 .1h1m5 0h1m2 .1h1m-8.4 .1h1m1.3 0h1m.2 .1h1m1.4 0h1m-.9 0h1m-2 .1h1m-.1 0h1m-2.3 .1h1m-10.8 .1h1m3.9 0h1m2.9 0h1m-2.9 .1h1m.4 .1h1m-10.5 .1h1m1.2 0h1m-.5 0h1m7.5 0h1m-9.9 .1h1m2.4 .1h1m2.2 .4h1m-.4 0h1m-5.6 .1h1m-4.1 .1h1m3.6 0h1m-5.5 .1h1m1.6 .2h1m1.3 0h1m-7 .2h1m-.4 0h1m2.4 0h1m5.3 0h1m.8 0h1m-7.2 .2h1m-7 .1h1m4.6 .1h1m-2.4 .1h1m-3.5 .1h1m1.1 0h1m1.8 0h1m4 0h1m-8.8 .1h1m4.2 0h1m-6 .1h1m4.1 0h1m3.1 0h1m-8.5 .1h1m3.6 0h1m.5 .2h1m-11.5 .1h1m9.8 0h1m-.9 0h1m-10 .1h1m3.1 .2h1m-7.5 .3h1m9 .1h1m-8.4 .1h1m2.6 0h1m5.1 0h1m-7.7 .3h1m4.8 .1h1m-3.6 .1h1m1.7 0h1m-11.9 .3h1m10 0h1m-9.8 .1h1m5.5 0h1m1.6 0h1m-2.7 .1h1m-1.7 .1h1m-6.8 .1h1m-.2 0h1m1 0h1m4 0h1m-.7 0h1m-13 .1h1m3.2 0h1m6.9 0h1m-7.1 .1h1m3.8 .1h1m-1.8 .1h1m-10.9 .1h1m.8 0h1m2.2 .1h1m3.8 0h1m-6.7 .1h1m0 0h1m-.7 .1h1m4.7 .1h1m-2.2 .2h1m-7.8 .1h1m3.6 0h1m3.3 0h1m-4 .1h1m-1 0h1m-4.8 .2h1m2.1 .1h1m1.3 .1h1m-10.8 .1h1m.5 .2h1m.1 0h1m-.2 0h1m.3 0h1m-.8 0h1m.4 0h1m-5.7 .1h1m3.2 .1h1m-1 0h1m-7.8 .1h1m7.9 0h1m-.8 0h1m.1 0h1m-7.6 .1h1m-.5 0h1m2.9 0h1m-5.9 .1h1m-3.1 .1h1m.9 0h1m.6 0h1m2.8 0h1m.2 0h1m1 0h1m-3.1 .1h1m-10.4 .1h1m.4 .1h1m2.5 0h1m1.4 0h1m1.6 .1h1m-6.8 .1h1m-2 .4h1m7.8 0h1m-8.2 .2h1m2.3 0h1m.7 0h1m-5.9 .3h1m-3.5 .1h1m1.7 0h1m5 .2h1m-.1 .1h1m-6.5 .1h1m-6 .1h1m.5 0h1m9.1 0h1m-11.4 .2h1m-1.2 .1h1m.2 0h1m-.6 .1h1m1.4 0h1m2.6 0h1m-9.4 .4h1m9.4 0h1m-10.6 .2h1m4.8 0h1m-5.7 .3h1m5.7 0h1m-4 .1h1m-.7 .1h1m2.5 0h1m-7.8 .1h1m.1 0h1m3.2 0h1m.2 0h1m1.3 .1h1m-1.7 .1h1m-9.2 .1h1m4.3 0h1m-5.1 .1h1m-6.6 .1h1m8.3 0h1m1.4 0h1m-11.2 .2h1m10.4 0h1m-7.4 .1h1m-.4 0h1m4.1 .1h1m-3 .1h1m-.1 .1h1m-.2 0h1m-8.3 .3h1m6.5 0h1m-12.6 .1h1m2.5 .1h1m.7 0h1m.4 .1h1m-6.2 .1h1m-2.6 .2h1m6.4 0h1m3.3 .2h1m-9.4 .1h1m4.1 0h1m.6 0h1m-.6 0h1m2.3 0h1m-14.3 .1h1m1.5 0h1m2.7 0h1m-6.5 .1h1m10.8 0h1m-14.7 .3h1m0 0h1m1.2 0h1m4.5 0h1m3.3 0h1m-2.4 .1h1m1.6 0h1m-13.1 .1h1m2.5 0h1m-.9 0h1m6.6 .2h1m-14.1 .1h1m3.4 0h1m5.7 0h1m.4 0h1m-13.3 .1h1m10.2 0h1m-.2 .2h1m-7.5 .1h1m4.5 0h1m-10 .1h1m9.7 .1h1m-4.6 .1h1m-1.5 .2h1m4.3 0h1m-13.6 .1h1m-1.7 .3h1m9.5 0h1m1.9 0h1m-3.3 .1h1m-3.1 .1h1m1.6 0h1m-4.3 .1h1m.2 0h1m-2.6 .1h1m-8.9 .1h1m8.6 .1h1m-9.6 .1h1m-2.6 .1h1m10.5 0h1m.4 0h1m-3.7 .1h1m1.8 .1h1m-5.2 .1h1m-7.2 .2h1m3.7 0h1m2.2 0h1m-6.3 .1h1m3.1 0h1m-.1 0h1m-.3 .1h1m-8.3 .1h1m-2.6 .4h1m7.1 0h1m0 0h1m-7.1 .1h1m-.3 0h1m4.6 .1h1m-.9 0h1m-9.9 .1h1m4.6 .2h1m-7.7 .1h1m8.4 0h1m-8.9 .1h1m6.3 0h1m-9.9 .1h1m9.9 .5h1m-2.1 .2h1m-.7 .3h1m-.7 .7h1m-1.4 .5h1m-2.7 .2h1m-.4 .1h1m-.7 0h1m.2 0h1m.2 .5h1m-3.9 .2h1"/>
<path stroke="#5262b8" stroke-width="1" d="M232.5 371.7h1m6.7 0h1m-3.6 .1h1m3.8 0h1m-2.4 .1h1m-.4 .1h1m.3 0h1m-.9 0h1m-.3 0h1m-5.5 .1h1m-8 .1h1m4.8 0h1m-.9 0h1m.2 0h1m-.7 0h1m-.8 0h1m.9 0h1m-11.2 .1h1m2.5 0h1m-.3 0h1m.6 0h1m.7 0h1m-7.5 .1h1m0 0h1m0 0h1m.1 0h1m-4.2 .1h1m4.1 0h1m-.6 0h1m-.3 0h1m-.2 0h1m-1.4 .1h1m-2.7 .1h1m-6.9 .1h1m0 .2h1m10.4 0h1m-12.8 .1h1m12.3 0h1m-.8 0h1m-1.8 .1h1m-15.7 .2h1m-.7 0h1m.3 0h1m-2.2 .1h1m.2 .1h1m12.7 0h1m-14.8 .1h1m-3.7 .3h1m1.9 0h1m-2.9 .1h1m-1.8 .1h1m.5 0h1m-.3 0h1m13.4 0h1m-.4 0h1m-.9 0h1m-16 .1h1m-2.6 .1h1m.3 0h1m13 .1h1m-15.1 .1h1m-3.2 .1h1m16.2 0h1m-19 .1h1m-.1 0h1m-.8 0h1m-.8 0h1m15.6 .1h1m-19 .1h1m-.1 0h1m16.7 0h1m-18.2 .2h1m-.5 .2h1m-1 0h1m-.3 .1h1m-1.6 .2h1m-1.2 .1h1m0 .1h1m-1 .1h1m14.2 .1h1m-17.8 .2h1m-.1 0h1m-.3 0h1m15 .4h1m-17.7 .1h1m14.3 .1h1m-14.8 .1h1m12.4 0h1m-.4 .2h1m-.2 .1h1m-17.4 .1h1m15.6 0h1m-17.4 .1h1m13.8 0h1m-.8 0h1m-14.3 .1h1m-.4 .5h1m11.4 0h1m-13.9 .1h1m2.8 .5h1m8.7 0h1m-10.7 .1h1m4 0h1m2.5 0h1m-9.1 .1h1m.9 0h1m3.3 0h1m.3 0h1m-.3 0h1m-12.7 .1h1m.6 0h1m.6 0h1m-.1 0h1m.4 0h1m4.3 0h1m-.4 0h1m-12.1 .1h1m9.6 0h1m-9 .1h1m6.6 0h1m-12.2 .1h1m7.5 0h1m2.9 0h1m-13.1 .1h1m-.3 0h1m-.9 0h1m1.1 0h1m3.7 0h1m2.6 0h1m-2.9 .1h1m.5 0h1m-2.6 .1h1m-5.8 .1h1m3.2 .1h1m2.4 .1h1m-2 .1h1m-.4 .2h1m-3.7 .1h1m-2 .3h1m-6.6 14.7h1m-.8 0h1m-1 .1h1m-1.8 .1h1m-.8 .2h1m-.5 .1h1m0 .1h1m-1.3 .1h1m-1.3 .1h1m-.5 1.2h1m-2.5 .1h1m.7 .4h1m-.9 0h1m-2.1 .1h1m-.6 .1h1m-1.8 .1h1m.1 0h1m-1.1 .1h1m-2.5 .2h1"/>
<path stroke="#3444a6" stroke-width="1" d="M242.1 372.8h1m-10.1 .1h1m1.7 0h1m.8 0h1m.4 0h1m-5 .1h1m6.6 0h1m-9.5 .1h1m1.1 0h1m2 0h1m-.5 0h1m0 0h1m.7 0h1m-8.4 .1h1m0 0h1m.6 0h1m1.8 0h1m-.8 0h1m-.8 0h1m-3 .1h1m.3 0h1m-.4 0h1m.5 0h1m-9.5 .1h1m3.9 0h1m-.8 0h1m2 0h1m.8 0h1m-7.4 .1h1m.8 0h1m.6 0h1m.1 0h1m-8.7 .1h1m1.3 0h1m-.1 0h1m-.9 0h1m-.5 0h1m-.6 0h1m1 0h1m-.8 0h1m-3.4 .1h1m4.1 .1h1m-11.5 .1h1m-.7 0h1m9.5 0h1m-1.5 .1h1m.6 0h1m-.9 0h1m-1 0h1m-11.9 .1h1m10 0h1m-1.7 .1h1m-12.9 .1h1m.1 0h1m9.5 0h1m-.3 0h1m-13.4 .1h1m.8 0h1m9.1 0h1m-13 .1h1m.7 0h1m8.8 0h1m.4 0h1m-2 .1h1m-11.4 .1h1m-3.5 .2h1m-.7 0h1m12.5 0h1m-13.3 .1h1m11.3 0h1m-1.6 .1h1m-1 0h1m-.5 0h1m-14.3 .3h1m0 0h1m11.7 0h1m-13.9 .1h1m10.8 .1h1m-1 .1h1m-.7 0h1m-1.3 .1h1m-.7 .1h1m-.9 0h1m.1 0h1m-14.1 .1h1m10.5 0h1m-.8 0h1m-.6 0h1m-14 .1h1m-.1 0h1m10.9 0h1m-13.1 .1h1m11.1 0h1m-.7 0h1m-13.4 .2h1m-1.6 .1h1m-.8 0h1m-.6 0h1m-1.5 .1h1m-.5 0h1m12.6 0h1m-14.1 .1h1m10.1 0h1m-.4 0h1m-11.6 .1h1m8.3 0h1m-11.3 .1h1m-.3 0h1m-.7 0h1m9.5 0h1m-12.8 .1h1m-1 0h1m-.9 0h1m-.6 0h1m10.4 0h1m-1.6 .2h1m-.4 0h1m-11.9 .1h1m-.9 0h1m9.1 0h1m-11.9 .1h1m-.6 0h1m9.3 0h1m-12.1 .1h1m0 0h1m-2.4 .1h1m10.3 0h1m-.2 0h1m-11.9 .1h1m4.1 0h1m-.8 0h1m-.4 0h1m2.1 0h1m-.3 0h1m-.1 0h1m-10.4 .1h1m-.4 0h1m.2 0h1m-.4 0h1m-.8 0h1m1 0h1m.1 0h1m3.6 0h1m-11.7 .1h1m3.9 0h1m.5 0h1m1.8 0h1m-.2 0h1m-10.6 .1h1m1.8 0h1m4.9 0h1m.1 0h1m-4.9 .1h1m.1 0h1m.3 0h1m-.6 0h1m.4 0h1m-5.2 .1h1m-.5 0h1m-.9 0h1m-.4 0h1m-.6 0h1m1.2 0h1m-11.3 .1h1m-.6 0h1m5 0h1m-4.7 .1h1m1.5 0h1m1.4 0h1m-5.3 .1h1m5.5 0h1m-.8 0h1m-.1 0h1m-12.1 .1h1m4.8 0h1m0 0h1m.2 0h1"/>
<path stroke="#2a3898" stroke-width="1" d="M234.1 373.7h1m2.2 0h1m-.1 0h1m-.8 0h1m-.8 0h1m-4 .1h1m-.2 0h1m-.1 0h1m-.7 0h1m-.7 0h1m3.3 0h1m-.7 0h1m-9.6 .1h1m0 0h1m1.5 0h1m2.8 0h1m-.9 0h1m-.1 0h1m-8.8 .1h1m-.5 0h1m.1 0h1m-.7 0h1m-.3 0h1m-1 0h1m.1 0h1m-.5 0h1m1 0h1m-7.8 .1h1m.4 0h1m.3 0h1m2.5 0h1m-.8 0h1m-.8 0h1m.8 0h1m-.9 0h1m-9 .1h1m-.5 0h1m-1 0h1m1.5 0h1m3.3 0h1m-.8 0h1m-.2 0h1m-7.6 .1h1m-.7 0h1m-.3 0h1m-.7 0h1m-.1 0h1m-.8 0h1m-.6 0h1m-.4 0h1m-.4 0h1m-.7 0h1m.1 0h1m-8.7 .1h1m-.5 0h1m.4 0h1m-.7 0h1m1 0h1m-.8 0h1m-.5 0h1m-.3 0h1m-.5 0h1m-.5 0h1m-1 0h1m-6.1 .1h1m.3 0h1m-.2 0h1m1.4 0h1m-.8 0h1m-.9 0h1m-.2 0h1m.1 0h1m-7.9 .1h1m-.4 0h1m3 0h1m-7.8 .1h1m2 0h1m-.9 0h1m-.8 0h1m-.7 0h1m-.9 0h1m.3 0h1m-.1 0h1m.7 0h1m.4 0h1m-9.9 .1h1m-.3 0h1m-.9 0h1m-.2 0h1m-.8 0h1m-.2 0h1m.2 0h1m-.4 0h1m-.9 0h1m-.6 0h1m-.7 0h1m-.9 0h1m-.7 0h1m-.6 0h1m-.7 0h1m-.7 0h1m-1 0h1m-.1 0h1m1.4 0h1m-10.1 .1h1m.1 0h1m-.6 0h1m-.3 0h1m-.3 0h1m-.2 0h1m-.5 0h1m-.6 0h1m-.5 0h1m-.4 0h1m-.4 0h1m-.5 0h1m-.6 0h1m-.9 0h1m1.1 0h1m-.9 0h1m-.7 0h1m-11.5 .1h1m0 0h1m-.3 0h1m-.9 0h1m.6 0h1m.7 0h1m.1 0h1m-1 0h1m-.4 0h1m.8 0h1m-1 0h1m-.2 0h1m-.2 0h1m-.9 0h1m-11.2 .1h1m-.5 0h1m.3 0h1m-.9 0h1m-.6 0h1m-.4 0h1m-.9 0h1m-.9 0h1m-.5 0h1m0 0h1m-.7 0h1m-.7 0h1m-.5 0h1m-.6 0h1m-.8 0h1m-.9 0h1m-.6 0h1m-.8 0h1m2 0h1m-.9 0h1m-.9 0h1m-10.9 .1h1m-.6 0h1m-.9 0h1m-.9 0h1m-.9 0h1m-.9 0h1m-.3 0h1m-.6 0h1m-.7 0h1m-.7 0h1m-.7 0h1m1.6 0h1m-.7 0h1m.9 0h1m-.5 0h1m-.5 0h1m.4 0h1m-.9 0h1m-.9 0h1m-11.4 .1h1m-.8 0h1m.7 0h1m-.5 0h1m-.8 0h1m-.8 0h1m1 0h1m-.3 0h1m-.6 0h1m-.6 0h1m-.4 0h1m.7 0h1m.4 0h1m-.9 0h1m-10.3 .1h1m-.2 0h1m-.9 0h1m.1 0h1m-.7 0h1m-.3 0h1m-.9 0h1m.2 0h1m2.1 0h1m-.3 0h1m-.9 0h1m-.4 0h1m-10.8 .1h1m.6 0h1m1.9 0h1m-.2 0h1m.1 0h1m.7 0h1m-.9 0h1m-.6 0h1m0 0h1m-10.8 .1h1m-.1 0h1m-.1 0h1m-1 0h1m.2 0h1m-.7 0h1m-.8 0h1m2.3 0h1m.7 0h1m-.4 0h1m-9.6 .1h1m-.8 0h1m4.1 0h1m-.2 0h1m-.7 0h1m2.7 0h1m-11 .1h1m-.4 0h1m.3 0h1m-.3 0h1m0 0h1m-.4 0h1m1.8 0h1m.2 0h1m-.4 0h1m-.6 0h1m-10.6 .1h1m-.8 0h1m-.9 0h1m-.7 0h1m.5 0h1m-.9 0h1m-.5 0h1m2.3 0h1m.8 0h1m-.4 0h1m-1 0h1m-.7 0h1m-9.6 .1h1m-.5 0h1m-1 0h1m-.4 0h1m-1 0h1m2.6 0h1m.1 0h1m1.9 0h1m-.6 0h1m-9.3 .1h1m2.9 0h1m1.5 0h1m0 0h1m-.5 0h1m-9.8 .1h1m1.6 0h1m-1 0h1m-.3 0h1m-.8 0h1m1.1 0h1m-.7 0h1m-.8 0h1m-.5 0h1m-.6 0h1m.4 0h1m-.9 0h1m-9.6 .1h1m.3 0h1m-.4 0h1m.4 0h1m.4 0h1m-1 0h1m5 0h1m-10.2 .1h1m-.7 0h1m-.2 0h1m-.9 0h1m-.9 0h1m-.4 0h1m-1 0h1m-.1 0h1m-.2 0h1m-.3 0h1m1.1 0h1m-.7 0h1m-8.1 .1h1m-.3 0h1m.2 0h1m1.6 0h1m-.5 0h1m-.1 0h1m-.1 0h1m-.9 0h1m.5 0h1m-.8 0h1m0 0h1m-11.7 .1h1m-.9 0h1m0 0h1m.4 0h1m1.4 0h1m-.8 0h1m-.8 0h1m.1 0h1m-.6 0h1m2.5 0h1m-7.7 .1h1m1.8 0h1m-.6 0h1m1.4 0h1m-.6 0h1m.1 0h1m-5.8 .1h1m-.3 0h1m-.6 0h1m.4 0h1m-.9 0h1m-.7 0h1m-7.8 .1h1m-.6 0h1m-.9 0h1m-.1 0h1m2.4 0h1m.3 0h1m-.3 0h1m-.3 0h1m-9.7 .1h1m-.7 0h1m1 0h1m-.7 0h1m-.8 0h1m1.8 0h1m-.5 0h1m-.5 0h1m-5.5 .1h1m.6 0h1m-.1 0h1m.9 0h1m-.4 0h1m-.2 0h1m-6.7 .1h1m-1.3 .1h1m-1 0h1m-.4 0h1m0 0h1m-.9 0h1m.4 0h1m-.6 0h1m-.9 0h1m-.6 0h1m.2 0h1m.3 0h1m-9.2 .1h1m.9 0h1m-.3 0h1m.6 0h1m1.5 0h1m-.4 0h1m-6.8 .1h1m-1 0h1m1.4 0h1m.2 0h1m-.3 0h1m.2 0h1m-.1 0h1m-7.5 .1h1m-1 0h1m-1 0h1m1.2 0h1m-.8 0h1m-.8 0h1m-.8 0h1m.3 0h1m-6.1 .1h1m4 0h1m-.9 0h1m1.2 0h1"/>
</g>
<path d="M316.3 353.7V422.7M291.4 396.4H355.7" stroke="#8d93aa" stroke-width=".55"/>
<g filter="url(#bl)">
<path stroke="#ecb4bc" stroke-width="1" d="M315.9 361.8h1m1.8 1h1m-6.1 .5h1m-8 .3h1m4.4 .8h1m-.9 0h1m2.4 2.1h1m-1.5 .1h1m-11.1 .4h1m-1.7 .1h1m12.7 .4h1m-15.6 1.8h1m-.5 .5h1m-.6 .4h1m15.2 0h1m-1.9 2.7h1m-16.5 .5h1m-.9 .7h1m16.3 .9h1m-18.1 1.6h1m13.8 1.2h1m-15.6 .8h1m12.8 .6h1m-16.5 .9h1m9.7 .1h1m-13.6 .2h1m12.2 .4h1m.1 .3h1m-8.3 .1h1m4.1 0h1m-3.8 .8h1m-1.6 .1h1m-1.3 .2h1m1.5 0h1m2.3 .1h1m-4.6 .2h1m.9 .2h1m-5.3 .9h1m-2.8 .4h1m3.5 .3h1m-4 .4h1m4.5 0h1m-.9 .3h1m-13.7 .7h1m9.7 0h1m1.2 1.2h1m.7 .2h1m-8.1 .7h1m2.6 .3h1m-5.9 .6h1m-1.3 .9h1m4.8 1.3h1m-5.4 .5h1m2.4 0h1m-6.7 1.9h1m6.4 .5h1m-3 .5h1m.3 .2h1m-6 .1h1m0 0h1m1.2 0h1m1 .3h1m-.5 1.7h1m-.3 .1h1m-4.1 .1h1m-1.7 .3h1m1.6 1.2h1m-7.1 4h1m-1.3 1.1h1m-2.5 .2h1m.5 .1h1m.1 0h1m5.1 1.2h1m-9.5 .2h1m7.6 .2h1m-6.8 .6h1m4.3 1.1h1m-7.3 .4h1m4.7 .1h1m-8 1.5h1m.8 .1h1m-1.4 .4h1"/>
<path stroke="#dc7484" stroke-width="1" d="M309.5 365.2h1m-.2 0h1m-3.8 .1h1m4.6 0h1m-1.6 .2h1m-3.8 .2h1m-.4 .1h1m.6 0h1m-6 .1h1m3 .1h1m-1.8 .1h1m-.9 0h1m1.1 .2h1m-5.1 .1h1m3.6 0h1m-4.9 .2h1m1 0h1m.3 0h1m-6.4 .1h1m.6 .4h1m4.5 .3h1m-7.7 .1h1m7.7 0h1m-9.1 .1h1m-2.7 .4h1m8.6 .2h1m-2 .1h1m-.2 0h1m0 .1h1m-.1 .8h1m-1.4 .6h1m-11.9 .4h1m-1.3 .2h1m-1.1 .1h1m-.4 .4h1m10.8 .2h1m-1.2 .1h1m-.7 1.2h1m-14.6 .3h1m11.2 0h1m-12.8 .5h1m11.1 0h1m-1.5 .1h1m.4 .8h1m-1.5 .1h1m-13.3 .2h1m10.6 .1h1m-.5 .4h1m-1 .5h1m-2.6 .5h1m-.7 .1h1m.5 .7h1m-4.1 .1h1m-8.3 .3h1m6.4 0h1m2.6 .1h1m-13 .1h1m6.8 .3h1m-8.8 .4h1m-.4 0h1m.7 0h1m6.8 0h1m.1 0h1m-.4 0h1m-8.9 .1h1m4.8 0h1m-3.9 .1h1m-6.7 .1h1m8.3 0h1m-2.9 .1h1m.9 .1h1m-1.5 .2h1m-5.7 .3h1m-5.3 .1h1m3.3 .1h1m-2.1 .1h1m-.4 0h1m2.8 0h1m-3.7 .1h1m-2.4 .1h1m-1.9 .1h1m-3.1 .3h1m-.3 .2h1m1.8 0h1m-1.6 .1h1m-2.4 .3h1m-.9 .7h1m1.1 2.7h1m-2.4 .1h1m-1.2 .9h1m0 0h1m-1.8 .9h1m1.3 .2h1m-2.9 .1h1m-.3 0h1m-.9 .1h1m-1 .4h1m-1.6 .3h1m-.4 1h1m-.3 0h1m-1.2 .6h1m-.5 .6h1m-1.6 .2h1m-1.4 .2h1m-1 .5h1m0 .1h1m-3.2 1.1h1m-1.3 .5h1m.8 .1h1m-3.2 .1h1m-1.3 .4h1m.8 .1h1m-.8 0h1m.4 .5h1m-3.3 .2h1m-.9 .4h1m0 .3h1m-2.2 .7h1m-.3 3.5h1m.3 .2h1m-1 .3h1m-2.1 .4h1m-1 .3h1m-1.5 .3h1m-.1 .2h1m-2.5 .1h1m.2 .3h1m-.7 .2h1m-1 .3h1m-.4 .1h1m-2 .3h1m-.1 0h1m-1 .1h1m.3 .7h1m-1 .4h1m-5.3 .1h1m1.1 .3h1m1.3 0h1m-3.8 .4h1m.4 0h1m.1 0h1m.3 .1h1m-1.6 .2h1m-5.2 .1h1m-.1 0h1m-1.4 .1h1m2.4 0h1m-4.2 .4h1m.4 .4h1m-.9 .5h1m-.7 0h1m.9 0h1m-6.2 .3h1m1 0h1m1.6 .3h1m-2.4 .1h1m-.6 0h1m-.6 .2h1m-2.5 .1h1m1.1 .1h1m-2.2 .1h1m-1.1 .2h1m-2.6 .2h1m-.9 0h1m1 .5h1m.1 .2h1m-3.6 .6h1m-1.2 .2h1m-.1 .1h1m-1.8 .2h1"/>
<path stroke="#cc3448" stroke-width="1" d="M310 366.8h1m-1.9 .1h1m-.9 0h1m-.2 0h1m1.5 .2h1m-2.3 .4h1m.2 0h1m-.5 .1h1m-4.5 .1h1m-2.3 .1h1m.2 0h1m-.5 0h1m-.8 0h1m-.6 .2h1m-.6 0h1m-.8 0h1m1 0h1m-3.5 .1h1m2.3 0h1m-.8 0h1m-7.3 .2h1m.9 .1h1m2.6 .1h1m-1 .1h1m-6.7 .1h1m.1 0h1m-.2 0h1m2.6 0h1m1.6 0h1m-.3 .1h1m-3.7 .3h1m.4 .1h1m-2.3 .1h1m-1 0h1m1.6 0h1m-9.1 .1h1m-2 .2h1m6.5 .1h1m-8.3 .2h1m7 0h1m-.7 0h1m-.7 0h1m-2.1 .2h1m-.3 0h1m-1.8 .1h1m-1 .2h1m-.4 .2h1m-9.1 .3h1m-1.1 .1h1m7.5 0h1m-.8 .2h1m-.7 0h1m-10 .5h1m-1.3 .1h1m-.6 .1h1m7.9 .3h1m-10 .2h1m-2.7 .1h1m.6 0h1m-1.3 .7h1m-2.2 .3h1m.8 .1h1m-1.4 .1h1m8 .1h1m-10.8 .3h1m-.5 .2h1m-.7 0h1m-2.1 .3h1m8.5 0h1m-9.7 .2h1m-.8 .1h1m7.9 0h1m-10 .1h1m6.9 0h1m-1.5 .1h1m-.2 0h1m-9 .1h1m6.4 0h1m.5 0h1m-.5 .1h1m-1.9 .1h1m-2 .2h1m-6.7 .1h1m5.6 .1h1m-8.5 .2h1m5.1 0h1m-7.4 .1h1m-1.7 .1h1m0 0h1m-.8 0h1m.1 0h1m-3.5 .1h1m-.8 0h1m.6 0h1m-.5 0h1m3.3 0h1m-6 .1h1m-1.6 .1h1m.3 .2h1m.8 0h1m-1.5 .1h1m-.9 0h1m-.8 .1h1m-1 .1h1m-4.1 .1h1m3.2 0h1m-3 .1h1m1 0h1m-1 0h1m-4.6 .2h1m3.3 .2h1m-1.2 .4h1m-1.4 .5h1m-.7 .1h1m-2.6 24.1h1m-.9 .1h1m-1.1 .1h1m-.9 0h1m-.3 0h1m-1.7 .2h1m-.7 .4h1"/>
<path stroke="#be1430" stroke-width="1" d="M310.9 368.7h1m.4 0h1m-.3 0h1m-5.1 .1h1m1.6 0h1m.3 0h1m-4.3 .1h1m-.7 0h1m1.5 0h1m-4.3 .1h1m-.5 0h1m.8 0h1m-1.6 .1h1m1.2 0h1m-5.5 .3h1m-.3 0h1m1 0h1m-.2 0h1m-.2 0h1m-3.9 .1h1m1.5 0h1m-3.7 .1h1m-.1 0h1m-.5 .1h1m1.3 0h1m-5 .2h1m3.6 0h1m-7 .1h1m-.4 .2h1m-1.7 .1h1m-.1 0h1m-.4 0h1m-1.2 .1h1m-2.3 .1h1m-.9 0h1m-.5 .1h1m-.2 0h1m-.8 0h1m-2.6 .1h1m.5 0h1m-2.7 .2h1m-.7 0h1m5.2 0h1m-.8 .1h1m-7.4 .1h1m5.9 0h1m-7.6 .2h1m4.7 0h1m-.4 0h1m-7.7 .1h1m5.2 0h1m-.8 .2h1m-.8 .1h1m-.2 0h1m-2.7 .1h1m-.9 0h1m-.7 .1h1m.1 0h1m-7.7 .1h1m4.7 .1h1m-.8 0h1m-7.2 .3h1m4.9 0h1m-.6 0h1m-7.2 .1h1m-.9 0h1m4.3 0h1m-.9 0h1m-.9 0h1m-.5 0h1m-.6 0h1m-1 .2h1m-1.2 .2h1m-.3 0h1m-7.9 .2h1m5.2 .2h1m-.7 0h1m-2 .1h1m.2 0h1m-1 0h1m-2.1 .1h1m-.9 0h1m-7 .2h1m4.9 0h1m-.2 0h1m-8 .1h1m.7 0h1m3.6 0h1m-.8 .1h1m-.8 0h1m-6.9 .1h1m4.3 0h1m-.8 0h1m-6.5 .1h1m4.5 0h1m-6.8 .1h1m-.8 0h1m-.4 .1h1m-2.2 .1h1m-.1 .1h1m4.2 0h1m-6.8 .1h1m-.4 0h1m3.2 .1h1m-3.3 .1h1m-1.9 .1h1m.2 0h1m-.5 0h1m.3 0h1m-5 .1h1m1.2 0h1m.9 0h1m-5.8 .2h1m-.6 0h1m3.6 0h1m-5.1 .1h1m.6 0h1m-.8 0h1m-.5 0h1m.3 0h1m-4.7 .1h1m-1 0h1m-1.7 .1h1m1.9 0h1m.3 0h1m-4.6 .1h1m2 0h1m-4.9 .1h1m.1 0h1m-.7 0h1m-.2 0h1m.8 0h1m-1.6 .1h1m-.3 0h1m-.7 0h1m-1.2 .1h1m-.5 0h1m-2.6 .1h1m-.8 .1h1m-1.1 .1h1m-2.2 .1h1m.6 .1h1m-2.6 .1h1m1.5 .1h1"/>
<path stroke="#b40c26" stroke-width="1" d="M310.5 369.8h1m0 0h1m0 0h1m-2.8 .1h1m-.6 0h1m-.6 0h1m-.5 0h1m0 0h1m-3.1 .1h1m-2.1 .1h1m-.7 0h1m-.6 0h1m-.9 0h1m.5 0h1m-.4 0h1m-.6 0h1m-.9 0h1m-3.1 .1h1m-.9 0h1m0 0h1m-3.7 .1h1m1.6 0h1m-.9 0h1m-2.8 .1h1m.5 0h1m-.2 0h1m-4 .1h1m0 0h1m.1 0h1m-1 0h1m.2 0h1m-3.6 .1h1m-.3 0h1m-1 0h1m-.6 0h1m-4 .1h1m.4 0h1m-.6 0h1m0 0h1m-.7 0h1m-.7 0h1m-.9 0h1m-.7 0h1m-2.2 .1h1m.1 0h1m.2 0h1m-5.8 .1h1m-.9 0h1m-.5 0h1m-.8 0h1m-.9 0h1m-.5 0h1m-.7 0h1m.5 0h1m-.5 0h1m-3.9 .1h1m0 0h1m-1 0h1m-.6 0h1m-.4 0h1m-.9 0h1m-.8 0h1m-4.2 .1h1m-.5 0h1m0 0h1m-.8 0h1m.4 0h1m-.7 0h1m-.3 0h1m-.8 0h1m-5.1 .1h1m1.8 0h1m-1 0h1m-.5 0h1m-.7 0h1m-.5 0h1m-4.9 .1h1m-.7 0h1m-.5 0h1m.3 0h1m-.3 0h1m-.8 0h1m-4.5 .1h1m.3 0h1m2 0h1m-.7 0h1m-.6 0h1m-5.6 .1h1m-.5 0h1m-.9 0h1m.4 0h1m-.9 0h1m-.2 0h1m-.6 0h1m.1 0h1m-3.5 .1h1m-.9 0h1m-.6 0h1m-.4 0h1m-.9 0h1m-.3 0h1m-4.7 .1h1m.3 0h1m-.2 0h1m-.5 0h1m-.6 0h1m0 0h1m-4.8 .1h1m-.6 0h1m-.9 0h1m-.6 0h1m-1.3 .1h1m.3 0h1m-.6 0h1m-.9 0h1m-.9 0h1m-.2 0h1m-.3 0h1m-2.8 .1h1m-.9 0h1m-2.7 .1h1m-.9 0h1m-.1 0h1m-.6 0h1m-1 0h1m.5 0h1m-4.9 .1h1m-.2 0h1m-1 0h1m0 0h1m-.2 0h1m-.9 0h1m.2 0h1m-3.3 .1h1m-.9 0h1m-.1 0h1m-3.3 .1h1m1.9 0h1m-.8 0h1m-4.5 .1h1m-.9 0h1m-.1 0h1m-.8 0h1m.4 0h1m-.4 0h1m.4 0h1m-5.4 .1h1m-.6 0h1m.1 0h1m-.2 0h1m-.1 0h1m-3.4 .1h1m1.5 0h1m-4.4 .1h1m-.2 0h1m.1 0h1m-.5 0h1m-.1 0h1m-4.2 .1h1m.8 0h1m-1 0h1m.3 0h1m-.5 0h1m-.7 0h1m-5 .1h1m-.9 0h1m.4 0h1m-.7 0h1m-.6 0h1m-.4 0h1m-.6 0h1m-.4 0h1m-3.9 .1h1m-.5 0h1m-.5 0h1m0 0h1m-.7 0h1m-4.3 .1h1m1 0h1m-.9 0h1m-.4 0h1m.2 0h1m-5.1 .1h1m-.5 0h1m-.9 0h1m3 0h1m-4 .1h1m.4 0h1m-1 0h1m-.6 0h1m-3.8 .1h1m-.8 0h1m2.2 0h1m-4.1 .1h1m-.3 0h1m-.4 0h1m-.4 0h1m-.5 0h1m-.1 0h1m-1 0h1m-4.5 .1h1m-.9 0h1m1.3 0h1m.7 0h1m-4.8 .1h1m-.9 0h1m-.7 0h1m1.6 0h1m-2.5 .1h1m-.8 0h1m-1 0h1m-.1 0h1m-1 0h1m-.1 0h1m-2 .1h1m-1.9 .1h1m-.8 0h1m-.9 0h1m-.8 0h1m-.7 0h1m0 0h1m-1 0h1m-4.4 .1h1m-.7 0h1m-1 0h1m.2 0h1m.5 0h1m-.9 0h1m-3.4 .1h1m-.9 0h1m-.4 0h1m.7 0h1m-2 .1h1m.2 0h1m-3.3 .1h1m.2 0h1m-.3 0h1m-3.8 .1h1m-.2 0h1m-.3 0h1m.9 0h1m-3.4 .1h1m.3 0h1"/>
</g>
<g filter="url(#bl)">
<path stroke="#bcc2e6" stroke-width="1" d="M330.1 357h1m.3 2.7h1m15.2 2.9h1m-10.3 .5h1m-10.6 .3h1m10.7 0h1m-.9 .1h1m.6 0h1m-18.6 .3h1m1.6 .4h1m2.1 1.4h1m22.3 .5h1m-31.1 .3h1m-1 6.3h1m1.3 .1h1m22.8 .4h1m3.2 1.6h1m-25.2 3.1h1m15.7 .8h1m-2.8 .9h1m-3.1 1.5h1m-12.2 .7h1m11.3 .3h1m-18.6 .5h1m8.7 .4h1m2.8 1.1h1m3.2 .3h1m-10.9 1.3h1m-.1 .2h1m13.8 1.6h1m-13.4 1.8h1m4.1 .1h1m-5.6 .9h1m1.5 .5h1m-7.3 .2h1m1.4 2.4h1m-5.2 .4h1m15.6 .1h1m-10 .7h1m-7.3 .3h1m9.8 .6h1m.7 2.1h1m-16.8 .2h1m14.6 .1h1m-3.1 .5h1m-12.2 .1h1m1.3 .1h1m-1.6 .4h1m-7.3 .3h1m9.7 .1h1m3.2 .3h1m-12.9 .4h1m-.7 .8h1m3.7 .1h1m3.7 .9h1m-8.6 .4h1m-4.8 .1h1m5.8 2.3h1m-3.6 1.3h1m14.3 .4h1m-9.2 .1h1m3.8 .3h1m1.9 .2h1m-11.1 2.4h1m-3.4 .3h1m.2 1h1m-3 2.1h1m6.5 .1h1m-14.4 .1h1m4.4 .9h1m10.4 5.4h1"/>
<path stroke="#8a96d4" stroke-width="1" d="M335.4 364.3h1m1.6 .3h1m4 .7h1m-10 .3h1m3.2 .1h1m2.9 .4h1m-1.3 .4h1m2.9 .2h1m-.7 0h1m-19.8 .8h1m19.5 .3h1m-2.2 .8h1m.6 .6h1m-.5 .1h1m-22.5 .3h1m20.2 1.3h1m-1.6 1h1m-.8 .8h1m-20.5 1.2h1m-2.7 .1h1m.2 .2h1m-.4 .3h1m17.1 0h1m.2 .1h1m-2.7 .2h1m-.3 0h1m-18.1 .1h1m-2.2 .4h1m15.1 .1h1m-17.2 .5h1m-.5 .3h1m11.7 0h1m-12.1 .3h1m13.2 .3h1m-7.1 .2h1m-3 .1h1m5 0h1m-.1 .4h1m-5.9 .4h1m3 .1h1m-8.6 .2h1m-1.3 .1h1m7.1 .1h1m-10.5 .1h1m7.3 .1h1m-7.7 .1h1m-1.5 .6h1m1.9 .2h1m-2.4 .5h1m-1.2 10.5h1m-2.2 .2h1m7.6 .1h1m-1.5 .3h1m-6.6 .7h1m5.2 .1h1m-7.4 .2h1m4.1 0h1m.2 0h1m-3.4 2.9h1m-1 .6h1m1.9 .1h1m-6.6 .2h1m1.7 .1h1m-7.6 .2h1m0 0h1m.8 .3h1m-.6 0h1m5.3 .7h1m-3.5 .3h1m-1.5 .2h1m-4.2 2.7h1m-1.7 1.2h1m.3 1h1m-.2 0h1"/>
<path stroke="#5262b8" stroke-width="1" d="M335.4 365.3h1m-1.4 .2h1m-1.2 .2h1m.6 .2h1m-.9 .2h1m-4.5 .4h1m2.2 .1h1m6.9 .2h1m-16.7 .1h1m11.6 0h1m-.6 0h1m-13.9 .1h1m14.1 0h1m.7 0h1m-15.1 .1h1m10.2 0h1m-11.4 .1h1m-2.4 .1h1m12.9 0h1m-14.3 .1h1m-1.9 .1h1m7.9 0h1m5 0h1m-7.3 .1h1m.7 0h1m1.6 .2h1m-14.4 .1h1m11.3 .3h1m-13.3 .1h1m11.3 .2h1m-15.5 .1h1m-.7 0h1m17.3 0h1m-3.2 .1h1m-17.2 .4h1m16.6 .1h1m-18.4 .1h1m16.7 0h1m-17.7 .2h1m16.2 0h1m-19.5 .5h1m16.2 .3h1m-17.5 .1h1m15.1 0h1m-16.2 .1h1m14.5 0h1m-17.9 .1h1m-1 .2h1m-.7 .1h1m15.4 0h1m0 .1h1m-18.6 .1h1m16 .2h1m1 0h1m-3 .1h1m-15.9 .1h1m13.4 .1h1m1.4 .2h1m-1.7 .1h1m-18 .1h1m13.9 0h1m-.6 .4h1m-16.6 .1h1m16.5 0h1m-4.2 .5h1m-13.2 .1h1m11.2 .2h1m-1.4 .5h1m-.5 .3h1m-1.3 .2h1m-.6 .2h1m-14.4 .1h1m1.2 0h1m-2 .1h1m8.9 0h1m-1.8 .3h1m-9.2 .1h1m-1 .1h1m.6 0h1m4.9 0h1m1.2 0h1m-1.6 .4h1m-4.5 .2h1m-.5 .1h1m.5 .1h1m-5.8 .1h1m-1.4 .3h1m.3 .5h1m-3.1 .1h1m-.1 0h1m-1.6 .4h1"/>
<path stroke="#3444a6" stroke-width="1" d="M334.2 366.9h1m2.9 0h1m-1.8 .1h1m-3.8 .1h1m1.4 .1h1m-2.7 .1h1m-2.1 .2h1m2.1 0h1m-4.8 .1h1m2.1 0h1m-.5 0h1m-2.2 .1h1m1.1 0h1m-5.7 .2h1m-.6 0h1m-3.5 .1h1m6.8 0h1m-7.1 .1h1m-.8 .1h1m-.6 0h1m6.2 0h1m-8.9 .1h1m-2.4 .1h1m5.5 .2h1m2.1 0h1m0 .4h1m-11.8 .1h1m-1.5 .1h1m1.6 .1h1m6.7 0h1m-12.4 .1h1m2.8 0h1m6.4 0h1m-11.9 .1h1m10.5 0h1m-12 .1h1m.4 0h1m.5 0h1m8.4 0h1m-12.9 .1h1m11.2 0h1m-1.9 .1h1m.1 0h1m-13.1 .1h1m-1.5 .1h1m.8 .1h1m9.1 0h1m-12.2 .1h1m-.9 0h1m10.5 0h1m-.6 0h1m0 0h1m-3.5 .1h1m-.4 0h1m-13.4 .1h1m1 0h1m-2 .1h1m0 0h1m-.9 0h1m-1 .3h1m9.6 .2h1m-.3 .1h1m-.4 .2h1m-.9 0h1m-1.4 .1h1m-13.6 .2h1m-.6 .1h1m-1.9 .1h1m1.1 .1h1m-.6 0h1m-.9 .1h1m-2.5 .1h1m-.9 0h1m.4 .1h1m-2.2 .1h1m-2.5 .1h1m0 .1h1m10.7 0h1m-2.1 .1h1m-.7 0h1m-.1 .1h1m-11 .1h1m-.6 0h1m5.8 0h1m-.5 0h1m-8.3 .1h1m7 0h1m-.3 0h1m-11 .1h1m7.3 .3h1m-.5 0h1m-10.1 .1h1m-.6 0h1m8.8 0h1m-8.3 .4h1m2.6 0h1m-6.1 .1h1m.8 0h1m3.9 0h1m-7.4 .1h1m-.6 .1h1m-2.4 .1h1m.9 0h1m5.8 0h1m-8.5 .1h1m-1 .2h1m2.6 .3h1m.2 0h1m-4.2 .1h1m-.2 0h1m1.2 0h1m-4.1 .1h1m.2 0h1m-2.9 .2h1m-.5 .3h1m3.2 0h1m-5.2 .2h1m3.1 0h1"/>
<path stroke="#2a3898" stroke-width="1" d="M336.2 367.8h1m-2.1 .1h1m.7 0h1m-.7 .1h1m-2.5 .1h1m.4 0h1m-2.7 .2h1m-.4 .2h1m-.7 .1h1m-.4 0h1m-1 0h1m-.9 0h1m1.9 .1h1m-.8 0h1m-7.3 .1h1m.4 0h1m-.2 .1h1m-.9 0h1m-.6 0h1m.9 0h1m-2.1 .1h1m-.3 0h1m-3.6 .1h1m0 0h1m-.9 0h1m.5 0h1m-4.6 .1h1m.7 0h1m.8 0h1m-5.3 .1h1m-.4 0h1m.6 0h1m.5 0h1m.5 0h1m-5.2 .1h1m-.7 0h1m-.9 0h1m1.4 0h1m2 0h1m-6.9 .1h1m4.1 0h1m-5.3 .1h1m-.1 0h1m1.8 0h1m-7.1 .2h1m.7 0h1m1 0h1m-.9 0h1m.8 0h1m-2.7 .1h1m-.7 0h1m-.9 0h1m1.1 0h1m-1.5 .1h1m-6.3 .1h1m3.6 0h1m.8 0h1m-.7 0h1m.1 0h1m-4.9 .1h1m2.2 0h1m-4 .1h1m-.2 0h1m-.3 0h1m0 0h1m-.9 0h1m.1 0h1m-9.1 .1h1m-.1 0h1m2.2 0h1m-.8 0h1m0 0h1m1.9 0h1m-6.9 .1h1m-1 0h1m-.3 0h1m-4.6 .1h1m-.1 0h1m.6 0h1m-.9 0h1m-.5 0h1m.7 0h1m-.7 0h1m.9 0h1m-5.3 .1h1m.1 0h1m-.4 0h1m1 0h1m.2 0h1m-8.1 .1h1m.9 0h1m-.6 0h1m3.9 0h1m.6 0h1m-8.1 .1h1m-.1 0h1m.4 0h1m-.4 0h1m-.8 0h1m-.2 0h1m1 0h1m-7.5 .1h1m.3 0h1m-.6 0h1m-.2 0h1m.6 0h1m1 0h1m-.5 0h1m-4.4 .1h1m.8 0h1m-5.4 .1h1m-.4 0h1m-.9 0h1m4.6 0h1m-9.4 .1h1m4.3 0h1m-.1 0h1m-.6 0h1m.2 0h1m.1 0h1m-8.1 .1h1m3.1 0h1m-.9 0h1m2.2 0h1m-9.9 .1h1m-1 0h1m.5 0h1m-.5 0h1m1.4 0h1m1.7 0h1m-.2 0h1m-1.6 .1h1m-2.9 .1h1m1.8 0h1m-7.9 .1h1m2.9 0h1m-2.7 .1h1m.6 0h1m-.5 0h1m-4.8 .1h1m1.3 0h1m-2.9 .1h1m.1 0h1m-2.7 .1h1m2.6 0h1m2 0h1m-6.8 .1h1m2.8 0h1m-.8 0h1m.4 0h1m-7.8 .1h1m.3 0h1m.7 0h1m1.3 0h1m-.6 0h1m.6 0h1m-5.1 .1h1m.3 0h1m-.4 0h1m.2 0h1m-.4 0h1m-7.5 .1h1m.3 0h1m.9 0h1m.9 0h1m-.6 .1h1m-5.6 .1h1m.1 0h1m1.5 0h1m-.3 0h1m-5 .1h1m1.3 0h1m.4 0h1m-.8 0h1m-4.9 .1h1m-1 0h1m.5 0h1m-1 0h1m.1 0h1m-.6 0h1m-3 .1h1m1.3 0h1m-4.4 .2h1m2.9 0h1m-3.8 .2h1m2.1 0h1m-5.2 .1h1m3.1 0h1m-4.8 .1h1m1 0h1m-2.7 .2h1m-1.1 .1h1m.2 0h1m-.9 0h1m-.2 0h1m-.8 0h1m-1.5 .2h1m-1.4 .1h1m-.5 0h1m-1.4 .1h1m-2.9 .2h1m.1 0h1m.7 0h1"/>
</g>
<path d="M108.6 453.4V517.4M83 493.2H147.7" stroke="#8d93aa" stroke-width=".55"/>
<g filter="url(#bl)">
<path stroke="#ecb4bc" stroke-width="1" d="M135.6 467.9h1m-20.2 1.3h1m4.6 2.3h1m1.2 .3h1m-16 1.2h1m31 1.9h1m-20.3 1.9h1m1.7 .4h1m.1 1.5h1m-.3 1.1h1m11.6 2.1h1m-17.3 .6h1m3.7 6.7h1m-7.8 .4h1m-3.6 .5h1m-1.9 3.6h1m4.9 .6h1m3 .7h1m-8.2 .4h1m-6.2 .2h1m5.1 2h1m2.3 0h1m-5.2 1.1h1m6.1 1.6h1m-4.5 1.9h1m-2.8 .4h1m.1 2.7h1m5 1.8h1m-4.2 1.7h1m-8.8 .2h1m3.4 3.8h1m7.5 .6h1m-9.4 .7h1"/>
<path stroke="#dc7484" stroke-width="1" d="M131.7 469.6h1m4.7 .2h1m-20.5 .1h1m13.5 0h1m-15 .1h1m16.6 0h1m-4.9 .4h1m-3.4 1.3h1m-19.9 .8h1m0 .4h1m25.5 .1h1m-17.8 .7h1m-1.6 1.2h1m5.3 1.5h1m.2 0h1m-14.8 .5h1m23.8 .6h1m-.7 .7h1m-9.8 4.5h1m-.2 12.8h1m-2 .7h1m-4.4 .5h1m-.4 .9h1m3 .1h1m-7.3 .3h1m12.7 .3h1m-11.6 .4h1m1.6 .5h1m-2.3 .1h1m.4 .3h1m-.7 1h1"/>
<path stroke="#cc3448" stroke-width="1" d="M133.3 470.6h1m1 0h1m-19.9 .6h1m-3.7 .3h1m17.2 0h1m-13.8 .1h1m-5.6 .1h1m1.6 .1h1m19 0h1m-1.3 .1h1m-19.3 .1h1m-.5 .1h1m-5.9 .1h1m22.4 .3h1m-24.6 .1h1m4.3 0h1m17.3 0h1m-24.9 .3h1m-.9 0h1m5.3 0h1m-1.3 .1h1m9.8 .1h1m-18.1 .2h1m5.1 0h1m-.6 .3h1m9.6 .3h1m-18.3 .1h1m4.9 0h1m9.9 0h1m-11.3 .1h1m16.4 0h1m-25.6 .2h1m7.4 0h1m9.1 0h1m-13.2 .2h1m-5.6 .2h1m23 0h1m-.9 0h1m-9.7 .4h1m-.7 .1h1m-1.1 .2h1m-14.5 .1h1m21.2 0h1m-25.1 .2h1m23.2 0h1m-23.2 .1h1m-.4 0h1m-.2 .1h1m-1.2 .1h1m20.9 0h1m-25.1 .3h1m1.3 .2h1m11 .5h1m-13 .4h1m-1 0h1m12.2 0h1m-2.6 .3h1m-1.3 .8h1m8.1 .3h1m-8.5 .1h1m-.6 .3h1m-1.1 .4h1m5.8 .4h1m-8.2 .5h1m-.6 .1h1m6 .4h1m-8.2 .6h1m4.7 .1h1m-1.1 .3h1m.4 0h1m-2.6 .3h1m.5 .9h1m-.9 .4h1m-6.7 .7h1m-1.1 .9h1m-1 1h1m4.9 0h1m-7 .2h1m-1.2 .5h1m-1 .2h1m-1.1 1.7h1m-.6 .8h1m4.7 .3h1m-7 .8h1m5.3 1.5h1m-.7 .9h1m-8 .1h1m6.2 .9h1m-6.8 .6h1m4.4 .2h1m-6.1 1.9h1m4.3 3.4h1m-5.6 .6h1m-.9 .9h1m-.7 0h1m3.4 .2h1m-1.3 .1h1m-5.1 1.4h1m3.3 9h1"/>
<path stroke="#be1430" stroke-width="1" d="M116.9 471.5h1m16.1 .2h1m-.5 0h1m-19.1 .2h1m15.7 .2h1m1.1 0h1m-19.8 .2h1m16.8 0h1m-1.1 .1h1m.5 0h1m-22.5 .1h1m1.8 0h1m-3 .1h1m.8 0h1m.2 0h1m16.8 0h1m-20.2 .1h1m15 0h1m2.5 0h1m-20.9 .1h1m14.3 0h1m.2 0h1m-16 .3h1m.3 0h1m12.5 0h1m-18.4 .1h1m19.1 .1h1m-.5 0h1m0 0h1m-23 .1h1m-.6 0h1m-.2 0h1m15.1 0h1m-16.6 .1h1m-2.6 .1h1m1.6 0h1m-2.4 .1h1m.6 0h1m-3.1 .2h1m1.3 0h1m-3 .1h1m-.8 0h1m-1.1 .1h1m14.8 0h1m-14.8 .1h1m-.2 0h1m-2.1 .2h1m18.9 0h1m-21.4 .1h1m13.1 0h1m4.8 .2h1m-.1 .2h1m-22.4 .1h1m14.4 0h1m3.9 0h1m-20.6 .1h1m-2.6 .1h1m-.5 0h1m20.5 0h1m-2.1 .1h1m-5.5 .2h1m-1.3 .1h1m4.9 .1h1m-6.2 .1h1m4.2 0h1m-.8 .2h1m-7.3 .2h1m5.5 .1h1m-7.1 .3h1m-.9 .6h1m-.2 0h1m-2 .7h1m-.7 .1h1m4.2 .1h1m-5.8 .1h1m-.5 0h1m3.2 .1h1m-5.7 .1h1m-.6 .2h1m2.5 0h1m-.7 .5h1m-6.2 .2h1m-.8 0h1m-.2 0h1m2.8 0h1m-5.9 .1h1m0 .1h1m2.4 0h1m-1.6 .1h1m-.6 0h1m-.9 0h1m-.2 0h1m-5.5 .1h1m-1.1 .1h1m2.8 .1h1m-4.2 .2h1m2.9 0h1m-4 .3h1m-.2 0h1m-1.9 .1h1m-.6 0h1m-.7 0h1m-.9 0h1m-2.2 .1h1m-.5 .2h1m-3.2 .1h1m-.5 0h1m-.4 .3h1m-1.7 .2h1m3.2 0h1m-2 .2h1m-2 .1h1m-.1 .1h1m-1.5 .2h1m-2 .1h1m-1.9 .2h1m2.9 .3h1m-1.7 .6h1m-1.3 .1h1m-3.2 .1h1m2.6 .2h1m-2.3 .1h1m-3.8 .2h1m-1.4 .1h1m2.3 0h1m-1 .1h1m.4 .2h1m-2 .1h1m-.2 0h1m-5.5 .2h1m-.7 .2h1m-1 .1h1m2.7 0h1m-4.5 .1h1m2.2 0h1m-.4 0h1m-.6 .6h1m-1.4 .5h1m-4.6 .6h1m2.7 0h1m-.6 .7h1m-1.7 .1h1m-.4 .3h1m-4.7 .1h1m2.3 .1h1m-4.6 .3h1m-.8 0h1m-1 1h1m2.2 0h1m-.3 0h1m-5.4 .1h1m.2 .4h1m-2 .3h1m-.2 0h1m-1 .1h1m1.3 .5h1m-.6 .1h1m-3.5 .4h1m-1.4 .1h1m1.7 0h1m-4.7 .3h1m-.2 .1h1m-1.8 .2h1m-.5 .3h1m2.3 .3h1m.2 .4h1m-5.4 .3h1m2.5 0h1m-.5 0h1m-.3 .3h1m-1.5 .1h1m-.3 .4h1m-5.2 .2h1m2.9 0h1m-4.5 .1h1m-1 .7h1m2.1 .5h1m-4.3 .1h1m2.5 0h1m-1.2 .1h1m-4.2 .2h1m1.7 0h1m-3.6 .1h1m2.3 .1h1m-4.3 .3h1m-1.8 .1h1m-.9 0h1m2.8 .6h1m-4.7 .2h1m1.9 0h1m-3.6 .1h1m2.7 .1h1m-.7 .1h1m-1.4 .2h1m-.5 1h1m-1.5 1.1h1m-.7 0h1m-.8 .3h1m-3.9 2.3h1m2.3 .4h1m-.7 .1h1m-5 .6h1m-.9 .6h1m-.5 0h1m-1.7 1h1m-1.2 1.9h1m-.1 .3h1m-1.6 .3h1m3.1 .5h1m-1.3 .9h1m-1.1 2h1m-.7 0h1m-1.1 1.2h1m-2.7 .2h1m-1 .2h1m-1.4 .1h1m-.6 .3h1"/>
<path stroke="#b40c26" stroke-width="1" d="M134.5 472.5h1m-.7 0h1m-1.6 .4h1m-.2 .1h1m-2.5 .1h1m.4 0h1m-1.1 .2h1m-3.3 .1h1m1 0h1m-2.9 .1h1m-.6 0h1m-.3 .1h1m-.2 0h1m-2.8 .1h1m.6 0h1m-1.7 .3h1m-1 0h1m-.9 0h1m-1.5 .1h1m-.7 .1h1m.5 .1h1m-3.1 .1h1m-.3 0h1m-2.4 .2h1m2.4 0h1m-2.1 .1h1m-1.2 .1h1m.4 0h1m-3.7 .1h1m-.3 0h1m-.5 0h1m.8 .1h1m-3 .1h1m-.4 0h1m-1.9 .2h1m.2 0h1m-.5 .1h1m-2.9 .1h1m-.7 .1h1m.1 0h1m.1 .3h1m-3 .1h1m-.4 0h1m-2.3 .2h1m-1.3 .2h1m-.3 0h1m-.6 0h1m.3 0h1m-.8 0h1m-3.5 .1h1m2.5 .2h1m-2.6 .1h1m-.8 0h1m-.3 0h1m-.8 .1h1m-.7 0h1m-3.1 .1h1m-.4 0h1m-.3 0h1m-.3 0h1m-4.2 .1h1m-.1 0h1m1.7 0h1m-2.6 .1h1m-.3 0h1m-1 0h1m-.5 0h1m-2.9 .1h1m-1.5 .2h1m.3 0h1m-.5 0h1m-.2 0h1m-4.5 .3h1m1 0h1m-1.4 .1h1m-2.3 .3h1m.6 0h1m-.1 0h1m-.8 0h1m-.2 0h1m-3.9 .1h1m.1 .3h1m-2.7 .1h1m-.6 0h1m-1.5 .1h1m.2 0h1m-.5 .2h1m-.5 .1h1m-1.8 .3h1m-.6 .7h1m-2 .1h1m-.1 0h1m-2 2.2h1m-1.1 .2h1m-1.7 .1h1m.1 0h1m-.9 .1h1m-1.7 .2h1m-1.5 .6h1m-.3 0h1m-.1 .1h1m-1.8 .1h1m-.2 0h1m-1.1 .1h1m-1.5 .1h1m-1.5 .1h1m-.4 0h1m-.8 .1h1m-1.2 .1h1m-1.3 .3h1m-.7 0h1m-1.4 .5h1m-.4 .3h1m-2.2 .4h1m.8 0h1m-1.9 .1h1m-.8 .1h1m-1.7 .2h1m-.4 0h1m-.9 0h1m-1.7 .1h1m-.4 .1h1m-.8 .3h1m-.5 0h1m-.1 0h1m-3 .2h1m1.1 0h1m-2.3 .1h1m.4 .1h1m-3.4 .3h1m.3 0h1m-1.8 .3h1m-.6 0h1m.5 0h1m-3.5 .1h1m-.7 0h1m.6 .1h1m-3.1 .1h1m-.4 .2h1m-.7 0h1m.3 .1h1m-2.5 .2h1m-.9 0h1m-1.8 .2h1m.8 0h1m-.8 .1h1m-1.3 .1h1m-2 .2h1m-.9 0h1m.1 0h1m-1.6 .5h1m-.1 .3h1m-2 .1h1m-.3 0h1m-2 .1h1m.1 0h1m-.9 .1h1m-.4 0h1m-1.6 .1h1m-2.2 .5h1m-.9 .8h1m-1 0h1m.5 0h1m-2.5 .1h1m-1.6 .1h1m1 0h1m-2.7 .2h1m.4 .1h1m-3.3 .2h1m.7 0h1m-2.1 .1h1m-.9 0h1m-.7 0h1m-.9 0h1m-.8 0h1m-.5 .1h1m-1.5 .2h1m-.8 .2h1m-1.6 .1h1m-.8 0h1m.6 .1h1m-.8 0h1m-1.1 .1h1m-2.9 .1h1m-.6 0h1m.9 .1h1m-.6 .1h1m-2.9 .4h1m-.1 .1h1m-1.6 .1h1m-.9 .1h1m-.2 0h1m-2.2 .1h1m-.7 .3h1m-.6 0h1m-.4 .3h1m-2.8 .1h1m-.4 0h1m-.4 0h1m-1.2 .1h1m-.4 0h1m-.1 0h1m-2.8 .1h1m-.4 0h1m.1 0h1m-2.4 .1h1m-.8 .2h1m-2.1 .4h1m-.4 .3h1m-.1 0h1m-1.7 .1h1m-1 .2h1m-.9 0h1m-2.2 .2h1m.5 .2h1m-.9 .5h1m-2.4 .1h1m-.5 0h1m-.9 .1h1m-.4 .1h1m-.3 0h1m-2.2 .1h1m-1.1 .1h1m-.8 0h1m-1.4 .1h1m.8 .3h1m-1.1 .2h1m-3 .1h1m-.3 0h1m.1 .1h1m-2.8 .1h1m.8 0h1m-1.7 .1h1m-.8 .1h1m-2 .1h1m-.9 0h1m.7 0h1m-1.2 .2h1m-1.8 .1h1m-.7 0h1m-1 0h1m-.8 .1h1m-.8 0h1m-1.6 .1h1m-.7 0h1m-2.1 .2h1m-.6 .3h1m.7 0h1m-1.9 .2h1m-.6 0h1m-1.3 .1h1m.2 0h1m-3.4 .1h1m-.4 .2h1m-1 .1h1m.4 0h1m-.5 0h1m-4.2 .2h1m-.2 0h1m.6 0h1m-.6 .1h1m-3 .1h1m-.4 0h1m-.7 .1h1m-.6 0h1m.4 .1h1m-4.4 .1h1m.6 0h1m-.5 0h1m-.7 .1h1m-.5 .1h1m-2.9 .1h1m-1 .1h1m-.3 0h1m-1.2 .1h1m-2.1 .1h1m.1 0h1m-1.7 .1h1m-.9 0h1m-1 0h1m-.7 0h1m-1 .1h1m-.4 0h1m-.4 .1h1m-1.6 .1h1m-.8 .1h1m.2 .1h1m-1.8 .1h1m-2.5 .1h1m-.5 0h1m0 0h1m-.7 0h1m-.9 0h1m-1.2 .1h1m-2.8 .2h1m.1 0h1m.3 .1h1m-2.7 .1h1m-.7 0h1m0 .1h1m-2.1 .1h1m-.6 0h1m0 0h1m-2.2 .3h1m-2.1 .1h1m-.9 0h1m.5 .3h1m-.3 .1h1m-.6 .2h1m-2.5 .1h1m-.9 .1h1m-.6 0h1m-1.5 .1h1m.7 0h1m-2.4 .1h1m.2 0h1m-3.2 .1h1m-1 .1h1m-.5 .4h1m-1.2 .1h1m-1.5 .1h1m-.5 0h1m.4 .2h1m-.5 0h1m-3 .1h1m-.7 0h1m-.5 0h1m.1 0h1m-2 .1h1m0 0h1m-2.2 .1h1m-1.3 .3h1m-1.5 .2h1m-1.7 .1h1m.6 .2h1m0 0h1m-2.4 .1h1m-.3 0h1m-.2 0h1m-2.6 .1h1m.1 0h1m-3.1 .2h1m-.9 .1h1m-.5 0h1m-.5 0h1m-.4 0h1m-1.8 .1h1m.7 .1h1m-3 .2h1m.4 0h1m-2.7 .1h1m.3 0h1m-.3 .2h1m-2.6 .1h1m-.3 0h1m-1 0h1m-.6 0h1m-.8 0h1m-.8 0h1m-1.2 .3h1m-2 .1h1m-1.3 .1h1m-.8 0h1m-1.9 .1h1m-1 0h1m.2 0h1m-1.4 .1h1m-.1 0h1m-2 .1h1m.3 0h1m-1.2 .1h1m-1.8 .1h1m-.6 0h1m-.5 0h1m-.4 .1h1m-2.5 .1h1m-.7 0h1m-.2 0h1m-1 0h1m-2.2 .2h1m-.7 .2h1m-.8 0h1m-.7 .2h1m-1.1 .1h1m-2.6 .1h1m-.3 0h1m-.5 0h1m-1.6 .2h1m-.3 0h1m-1.5 .1h1m.5 0h1m-2.3 .1h1m0 0h1m-.1 0h1m-1.5 .2h1m-2.5 .1h1m-.4 0h1m-1.3 .1h1m-.8 0h1m-2.1 .1h1m.3 .1h1m-.9 .1h1m-.8 0h1m-1.2 .1h1m-.9 0h1m-1.9 .1h1m-.9 0h1m-.8 0h1m-.5 0h1m-.5 .1h1m-2.3 .1h1m-.4 0h1m.1 .2h1m-1 .2h1m-2.1 .1h1"/>
</g>
<g filter="url(#bl)">
<path stroke="#bcc2e6" stroke-width="1" stroke-opacity="0.8" d="M121 465.3h1m-19.6 .6h1m34.3 .5h1m-38.7 .1h1m24.9 0h1m6 0h1m2.6 .6h1m-9.9 .2h1m-10 .2h1m-17 .7h1m16.1 .2h1m2.3 0h1m-3.9 .6h1m16 0h1m-18.5 .1h1m19.5 .2h1m-37 .3h1m11.7 .1h1m-11.9 .6h1m11.7 .1h1m-16.2 .1h1m2.4 0h1m31.9 .1h1m.6 .3h1m-35.3 .1h1m-8.4 .1h1m1.5 .1h1m3.3 .1h1m-8.7 .1h1m3.5 .1h1m-.7 0h1m41 0h1m-30.5 .2h1m-1 .1h1m24 0h1m-.2 .1h1m2.2 0h1m-1.1 .2h1m-42.1 .1h1m-3.3 .1h1m1.6 0h1m-.7 0h1m.6 0h1m-6.1 .1h1m-.8 .1h1m-.6 .1h1m40.6 .3h1m-44.6 .2h1m5.9 .1h1m34.3 .1h1m-.5 0h1m-42.4 .2h1m-1 .3h1m11.4 0h1m-11.5 .2h1m11.5 .4h1m-15.6 .1h1m-.8 .1h1m.7 .2h1m37.2 .8h1m.7 .1h1m-25.4 .1h1m-13.4 .4h1m-3.4 .1h1m34.9 .1h1m-26.5 .3h1m27.3 .1h1m-41 .1h1m-1.2 .3h1m1.7 0h1m5.6 .6h1m-1.4 .6h1m8.7 .7h1m16.1 .2h1m-16.9 .2h1m-4.7 .1h1m-7.8 .4h1m23.5 0h1m-15 .1h1m11.4 .3h1m2.1 .4h1m-15.8 .9h1m3.4 .9h1m-2.2 .3h1m.5 0h1m10 .4h1m-15.9 .1h1m2.3 .5h1m7.3 .3h1m-1.4 1.1h1m-15.3 .2h1m4.9 0h1m-.8 .1h1m-6.8 .3h1m6 .1h1m-.5 .8h1m7.4 .9h1m-11.1 .4h1m9.2 .4h1m-8.6 .5h1m-8.8 .1h1m13.9 .9h1m-17.9 .3h1m8.8 .4h1m5.6 .3h1m-.1 .2h1m-16.4 .4h1m2.4 .2h1m3.3 .2h1m6.6 .3h1m-15.3 .2h1m5.8 .2h1m-7.8 .6h1m12.4 .3h1m-33.4 .3h1m-5.1 .8h1m36.4 .1h1m-1 .6h1m-15.9 .8h1m3.3 .3h1m-.9 .3h1m8.6 .6h1m-11.9 .4h1m-24.4 .4h1m28 0h1m-30.9 .2h1m-3 .1h1m1.5 0h1m3.4 0h1m-4.3 .4h1m36.4 .2h1m-38.4 .2h1m21.1 .2h1m.6 0h1m-21.2 .1h1m-10.1 .2h1m1.2 .2h1m.5 .2h1m.2 0h1m21 0h1m6 .1h1m-31.1 .3h1m1.2 0h1m-3.2 .1h1m1.4 0h1m-.1 .1h1m-2 .1h1m-5.6 .1h1m21.2 0h1m6.8 0h1m-21.5 .1h1m-8 .2h1m5.7 0h1m-3.1 .2h1m13.6 .2h1m3.4 .1h1m-1.4 .2h1m13.1 .1h1m-11.2 .1h1m-6.6 .5h1m2.8 2.4h1m3.2 0h1m-3.2 .4h1m-6.7 .2h1m8.3 .4h1m.6 .9h1m3.3 .5h1m-3.2 3.3h1"/>
<path stroke="#8a96d4" stroke-width="1" stroke-opacity="0.8" d="M126.1 467.9h1m2.5 .1h1m2.2 .1h1m-8.5 .1h1m3.5 .1h1m-8.3 .3h1m8.5 0h1m.1 0h1m-1.8 .1h1m-.9 .1h1m-.1 .1h1m-9.6 .1h1m-2.6 .1h1m9.6 0h1m-.5 .2h1m-12.2 .1h1m-3.7 .2h1m14.1 0h1m-1.4 .3h1m.5 0h1m-14.5 .1h1m-2.2 .2h1m13.1 0h1m.3 .4h1m-.5 .6h1m-18.9 .2h1m-1.2 .1h1m17.6 0h1m-18.4 .3h1m-1.2 .1h1m-.9 0h1m-4 .1h1m18.6 .3h1m-18.3 .1h1m-.5 0h1m17.9 .4h1m-.2 .1h1m-25.2 .1h1m22.5 .1h1m-.4 0h1m-24.6 .1h1m.3 0h1m-1.4 .3h1m-.6 .3h1m-.8 0h1m20.2 0h1m-.4 0h1m-21.3 .1h1m-.8 .1h1m-.8 0h1m-2.6 .1h1m.3 0h1m19.3 0h1m-24 .1h1m-.4 0h1m-.9 0h1m.3 .8h1m-2.1 .2h1m-.8 .1h1m1 0h1m-.2 .2h1m-1.9 .1h1m-.1 .1h1m16.9 .2h1m-20.3 .1h1m18 0h1m-.7 .1h1m-19.6 .2h1m-.4 0h1m14.4 .2h1m-.3 0h1m.2 .3h1m-20.4 .2h1m17.6 0h1m-18.8 .1h1m16 0h1m-18 .1h1m-1.6 .1h1m18.6 .1h1m-6.3 .1h1m1 0h1m-14 .2h1m-3.4 .1h1m-.8 0h1m.1 0h1m-.8 0h1m-1.5 .1h1m0 .1h1m12.9 0h1m-11.8 .1h1m-3.9 .1h1m12.2 0h1m-14.1 .1h1m12.1 0h1m.4 0h1m-13.5 .1h1m9 0h1m-.2 0h1m1 .2h1m-11 .1h1m4.5 0h1m.1 0h1m-8.7 .3h1m7.9 .1h1m-10.2 .1h1m7.4 0h1m-1.6 .4h1m-1.8 .1h1m-6.2 .1h1m3 0h1m-5 .5h1m4 .1h1m-5.9 .1h1m2.3 0h1m-.7 0h1m-1.5 .1h1m-4.3 .1h1m.4 .1h1m-.6 0h1m-.7 .2h1m1.1 .3h1m-3.5 .1h1m1.4 0h1m-.6 0h1m-5.1 .1h1m3.7 .2h1m-1 0h1m-1.9 .1h1m-.9 0h1m-1.5 .1h1m-2.6 .1h1m.3 .2h1m-3.5 .2h1m.8 .2h1m.3 .1h1m-4.7 .1h1m.2 0h1m1.1 0h1m-2.4 .1h1m.7 .1h1m-1.7 .1h1m-2.8 .1h1m-.4 0h1m-.7 0h1m-1.1 .3h1m-.1 .1h1m1 .2h1m-1.8 .1h1m-.7 .2h1m.2 .3h1m-2.6 .1h1m.3 0h1m-.8 .2h1m-.8 .1h1m-5.2 .3h1m.5 .1h1m-2.5 .1h1m1.8 0h1m-2.6 .6h1m2.4 0h1m-2.8 .1h1m-.2 .3h1m-5.1 .2h1m1.9 0h1m-1.8 .1h1m-.8 0h1m1.9 .2h1m-4.2 .1h1m-.6 .1h1m-.9 .1h1m-1.1 .1h1m0 0h1m-4.1 .1h1m-.1 0h1m-.8 0h1m-.3 0h1m1.2 0h1m-1.7 .1h1m-2 .6h1m-.6 0h1m-1 0h1m-.5 .1h1m-4 .2h1m.8 0h1m.9 .1h1m-.5 0h1m-4.3 .1h1m2.3 0h1m-2 .1h1m-2.6 .1h1m.6 0h1m-.7 0h1m-.3 0h1m-3.6 .3h1m-.5 0h1m1.6 0h1m-2.1 .2h1m-.9 0h1m-1.2 .3h1m-3.1 .1h1m.7 .1h1m.2 .1h1m-4.7 .2h1m2.9 .3h1m-.9 0h1m-3.7 .1h1m-1.9 .1h1m-1.3 .2h1m1.4 0h1m0 0h1m.2 .1h1m-5.6 .2h1m2 .1h1m-1.5 .1h1m.4 .1h1m-1.8 .2h1m-1 .1h1m-1.5 .1h1m.5 .1h1m-3.9 .1h1m-.8 .1h1m1.5 .1h1m-2.1 .2h1m-2.1 .1h1m-2.3 .4h1m0 .1h1m1.1 0h1m-.9 .1h1m-2.5 .2h1m.8 0h1m.2 0h1m-3.3 .1h1m-2.1 .1h1m-.5 .2h1m.9 .1h1m-3.2 .1h1m-2.3 .1h1m-.1 .4h1m1.2 .1h1m-.3 .1h1m-1.4 .3h1m.2 0h1m-5.3 .1h1m1.4 0h1m-.7 .4h1m.1 0h1m-3.5 .1h1m.6 .2h1m-.2 .1h1m-1 .1h1m-1.5 .2h1m-3.9 .1h1m.1 0h1m-.4 0h1m-2.1 .1h1m.9 0h1m-1.7 .1h1m-2.9 .1h1m1.9 .3h1m-3.2 .1h1m-.1 .1h1m-1.4 .1h1m-.1 0h1m-2.7 .1h1m-.3 .2h1m-1.2 .1h1m1.2 .1h1m-.4 .1h1m-2.3 .1h1m-.1 0h1m-2.5 .2h1m-.7 0h1m-.6 .3h1m.9 0h1m-4.5 .2h1m-1.7 .1h1m1.7 0h1m.6 0h1m-1.8 .1h1m-4.6 .1h1m.9 .1h1m-2.6 .1h1m1.9 0h1m0 0h1m-3.2 .2h1m-1.8 .1h1m-.1 .1h1m-2.9 .1h1m.1 0h1m-2.4 .2h1m1.2 0h1m-.3 .2h1m-2.7 .2h1m-.4 0h1m-.3 .1h1m.2 0h1m-.9 .2h1m-1.5 .1h1m-.9 .1h1m-.7 .2h1m-1.8 .3h1m-2.4 .6h1m1.1 0h1m-3.1 .1h1m2 0h1m-3.3 .1h1m.3 0h1m-.7 0h1m-3.5 .2h1m2.2 0h1m-1.9 .1h1m-3.2 .2h1m-.8 .2h1m1 .4h1m-1.8 .1h1m-.2 0h1m-3.4 .1h1m.8 .2h1m-2.1 .1h1m1.2 .1h1m-.6 0h1m-.3 0h1m-2.2 .6h1m-1.7 .2h1m-.9 0h1m-2.5 .1h1m.6 .2h1m-1.1 .3h1m1.7 0h1m-3.7 .1h1m-.2 .1h1m-3.1 .1h1m1.9 0h1m-3.9 .1h1m-.6 .1h1m-.3 0h1m-.2 .2h1m.9 .2h1m-2.2 .1h1m-2.3 .2h1m-1.3 .1h1m-1.1 .2h1m.6 0h1m-1 0h1m-2.1 .2h1m1.4 .1h1m-3.6 .1h1m-.2 .2h1m-1 .1h1m-.2 0h1m-1.6 .1h1m-.4 .7h1m-.9 .1h1"/>
<path stroke="#5262b8" stroke-width="1" stroke-opacity="0.8" d="M128.5 468.4h1m-4.4 .2h1m-.2 0h1m3.6 .1h1m-.9 0h1m-3.6 .1h1m-3.9 .2h1m.4 0h1m2.4 0h1m-4.8 .1h1m1.4 0h1m-.9 0h1m.4 0h1m-.1 0h1m-3.5 .2h1m.5 0h1m-6.6 .1h1m-.2 .1h1m6.9 0h1m-9 .1h1m.5 0h1m6.3 0h1m-8.4 .1h1m3.6 0h1m2.3 0h1m-5.3 .1h1m-1 0h1m-.2 0h1m-4.9 .1h1m3 0h1m-7.2 .1h1m8.2 0h1m-10.4 .1h1m.2 0h1m-.4 0h1m5.7 0h1m-.2 0h1m-8.6 .1h1m4.5 0h1m2.1 0h1m-11.9 .1h1m.5 0h1m4.2 0h1m1.8 0h1m-13 .1h1m-.7 0h1m8.9 0h1m1.8 0h1m1.6 .1h1m-15.4 .2h1m0 .1h1m11.6 0h1m-1 0h1m-14.5 .1h1m10.5 0h1m-13.9 .1h1m1.3 0h1m-3.4 .1h1m1.8 0h1m11 0h1m-3 .1h1m-.9 0h1m-12.2 .1h1m10.5 0h1m-.8 .1h1m-.3 .1h1m-15.3 .1h1m14.4 0h1m-14.7 .1h1m-2.3 .1h1m-1 .1h1m0 0h1m-.8 .1h1m-1.7 .1h1m-.2 0h1m11.6 0h1m-.8 .1h1m-13.9 .1h1m13 .1h1m-15.2 .1h1m13 0h1m-.2 0h1m-1.8 .1h1m-.1 .1h1m-15.6 .1h1m-.9 0h1m-2.1 .3h1m-.6 0h1m-.7 .1h1m12.7 0h1m-.1 0h1m-15.9 .1h1m-.8 0h1m-.5 0h1m13.9 .3h1m-.7 .1h1m-.9 .1h1m-1 0h1m-18.2 .1h1m-.6 0h1m-.4 0h1m16.1 0h1m-19.6 .3h1m15.7 .1h1m-.5 .1h1m-16.3 .1h1m12.7 .1h1m-15.2 .1h1m-.5 0h1m-.3 0h1m12.4 0h1m-.4 0h1m1 0h1m-18.8 .2h1m.6 0h1m12.3 0h1m-15.9 .1h1m-.7 0h1m14.5 0h1m-.2 0h1m.1 .1h1m-19.6 .1h1m1.4 0h1m13.1 0h1m-.7 0h1m-16.6 .2h1m-.8 0h1m.8 0h1m9.9 0h1m-11.8 .1h1m9.5 0h1m1.2 0h1m-16.3 .1h1m13.8 0h1m-1.9 .1h1m-.5 0h1m-14 .1h1m-.7 0h1m10.7 .1h1m.8 0h1m-16 .1h1m1.7 .1h1m11 0h1m-13.3 .1h1m10.5 0h1m.9 0h1m-14.2 .1h1m11.7 0h1m-6 .1h1m-10.4 .1h1m9.2 0h1m-9.1 .1h1m.1 0h1m-.8 0h1m5.3 0h1m1.8 0h1m-.9 .1h1m-11.5 .1h1m-.3 0h1m5.2 0h1m-7.6 .1h1m-.5 0h1m5 0h1m-9.7 .1h1m.1 0h1m6.9 .1h1m-.7 0h1m1.2 0h1m-11.5 .1h1m1.3 0h1m4.5 0h1m-8.3 .1h1m.9 0h1m7.6 0h1m-6.5 .1h1m-2.9 .2h1m.4 0h1m2 .1h1m-6.8 .1h1m.7 0h1m4.2 .1h1m-7.3 .1h1m1.2 0h1m.9 0h1m-.4 0h1m-5.6 .1h1m.9 0h1m2.6 0h1m-4.2 .2h1m1.3 0h1m-1.8 .2h1m-.7 0h1m.5 0h1m-4.5 .1h1m0 0h1m.6 0h1m-.5 .1h1m-.5 0h1m-3.2 .1h1m-.3 .1h1m-3.1 .2h1m-2 .3h1m-1 0h1m-.2 0h1m1.7 .1h1m-1.4 .1h1m-2.3 .3h1m-.1 .1h1m-1.4 .3h1m1.7 13.2h1m-.9 0h1m-.5 .3h1m-1.6 .5h1m-1 0h1m.3 7.3h1m-.7 .2h1m-1.7 .1h1m-.7 0h1m-.9 .1h1"/>
<path stroke="#3444a6" stroke-width="1" stroke-opacity="0.8" d="M128.7 469.4h1m-1.7 .1h1m-.1 0h1m-1.4 .1h1m-.9 0h1m-.1 0h1m-2.4 .1h1m-1.1 .1h1m0 0h1m-2 .1h1m-.9 0h1m-.6 0h1m-.5 .1h1m-1.2 .1h1m-1.1 .1h1m-.6 0h1m-6.1 .3h1m6.1 0h1m1.5 0h1m-9.1 .1h1m4.9 0h1m-.5 0h1m-8.8 .1h1m-.5 0h1m0 0h1m6.1 0h1m-.1 0h1m-.8 0h1m-4.7 .1h1m.2 .1h1m1 0h1m-8.2 .1h1m.5 0h1m-.9 0h1m-.8 0h1m4.5 0h1m-10.2 .1h1m1.7 0h1m-.9 0h1m-.9 0h1m2.1 0h1m.5 0h1m-7.7 .1h1m-.6 0h1m.1 0h1m-.8 0h1m3.7 0h1m-.3 0h1m-1 0h1m-.4 0h1m-.5 0h1m-9.5 .1h1m-.3 0h1m-.1 0h1m-.2 0h1m2.7 0h1m1.6 0h1m-6.6 .1h1m4.5 0h1m-2.2 .1h1m-.2 0h1m.2 0h1m-12 .1h1m-.4 0h1m8.1 0h1m-.6 0h1m-.7 0h1m-10.8 .1h1m.2 0h1m-1 0h1m7.4 0h1m.5 0h1m-1 0h1m-.8 0h1m-3.5 .1h1m-1.3 .1h1m-9.6 .1h1m-1.1 .1h1m.3 0h1m-2.5 .1h1m7.9 0h1m-.2 0h1m-.4 0h1m-.9 0h1m-10 .1h1m7 0h1m-.6 0h1m0 0h1m-.8 0h1m-.4 0h1m-11.2 .1h1m6.4 0h1m-.5 0h1m-.4 0h1m-.8 0h1m.5 0h1m-11.8 .2h1m9 0h1m.5 0h1m-1 0h1m-.8 0h1m-11.9 .1h1m8.9 0h1m-.6 0h1m-12.4 .1h1m.2 0h1m8.6 0h1m-1 0h1m-.8 0h1m-.4 0h1m-.9 0h1m-2.4 .1h1m.1 0h1m-12.8 .1h1m-.4 0h1m9.6 0h1m-.1 0h1m-12.2 .2h1m-1 .1h1m9 0h1m-12.2 .1h1m10.9 .1h1m-12.6 .1h1m12.2 0h1m-14.8 .1h1m10.2 0h1m-.5 0h1m-12.2 .1h1m12.2 0h1m-.7 0h1m-14.7 .1h1m10.7 0h1m-.8 0h1m.2 0h1m-.5 0h1m-3.4 .2h1m.6 0h1m-.3 0h1m-14.6 .1h1m-.6 0h1m-.9 0h1m12.4 0h1m-14.9 .1h1m10.7 0h1m-.6 0h1m-.8 0h1m-.6 0h1m-.2 0h1m-15.5 .1h1m-.7 0h1m10.1 0h1m-.7 0h1m-.8 0h1m-.3 0h1m-.5 0h1m-.2 0h1m-.6 0h1m-.6 0h1m-13.6 .1h1m8.1 0h1m-.9 0h1m.1 0h1m.3 0h1m-2.8 .1h1m-1.8 .2h1m-.7 0h1m-1 0h1m-.4 0h1m.1 0h1m-13.1 .1h1m-.1 0h1m8.2 0h1m-.1 0h1m-.7 0h1m-.4 0h1m-12.6 .1h1m9.3 0h1m-.7 0h1m-.9 0h1m-.5 0h1m-12 .1h1m-.7 0h1m-.5 0h1m-1.6 .1h1m-.2 0h1m8.2 0h1m1.1 0h1m-13.2 .1h1m-1.3 .1h1m-.7 0h1m.2 0h1m-.5 0h1m-.2 0h1m3.4 0h1m-5.9 .1h1m0 0h1m5.1 0h1m-8.4 .1h1m-.4 0h1m2.9 0h1m-.1 0h1m-.6 0h1m.5 0h1m-.7 0h1m-1 0h1m-7.1 .1h1m-.9 0h1m2.3 0h1m-.2 0h1m-.8 0h1m.3 0h1m-.7 0h1m-.7 0h1m-9.7 .1h1m.5 0h1m-.3 0h1m-.9 0h1m3.3 0h1m-7.9 .1h1m1.2 0h1m2.6 0h1m.7 0h1m-6.6 .1h1m-.8 0h1m3.9 0h1m-.9 0h1m-8.1 .1h1m.1 0h1m-.5 0h1m.1 0h1m4.3 0h1m-8.7 .1h1m0 0h1m0 0h1m4.9 0h1m-3 .1h1m-.3 0h1m-.8 0h1m-.4 0h1m-6.2 .1h1m1.3 0h1m3.2 0h1m-8 .1h1m.1 0h1m-.3 0h1m-.2 .1h1m.5 0h1m-2.1 .1h1m-.7 0h1m-4.2 .1h1m1.4 0h1m-2.8 .1h1m0 0h1m-.3 0h1m-.9 0h1m1.1 0h1m-.8 0h1m-4.5 .1h1m.7 0h1m-1.8 .1h1m-.8 0h1m-.7 0h1m-3.6 .1h1m.7 0h1m.5 0h1m-.7 0h1m-.4 0h1m-2.5 .1h1m.4 0h1m-.3 0h1m-3.9 .1h1"/>
<path stroke="#2a3898" stroke-width="1" stroke-opacity="0.8" d="M129.4 470.4h1m-.7 0h1m-2.2 .1h1m-.6 .1h1m-.6 0h1m-1.3 .1h1m-.3 0h1m-.8 .1h1m-1.6 .1h1m-.3 0h1m-2.6 .1h1m-.8 0h1m-.7 .1h1m-1.4 .1h1m.1 0h1m-2.4 .1h1m-.8 0h1m-.9 0h1m-.1 0h1m-2.5 .1h1m1.6 0h1m-5.5 .1h1m2 0h1m.6 0h1m-1 0h1m-.4 0h1m-7 .1h1m-.1 0h1m-.6 0h1m.4 0h1m-.7 0h1m-.1 0h1m-.6 0h1m-1 0h1m-1 0h1m1 0h1m-.6 0h1m-7.1 .1h1m.1 0h1m-1 0h1m-.4 0h1m-2.1 .1h1m-.9 0h1m1.2 0h1m.2 0h1m-.6 0h1m-.2 0h1m-7 .1h1m-.4 0h1m-1 0h1m-.8 0h1m-.6 0h1m1.2 0h1m-.5 0h1m-.8 0h1m.7 0h1m-6.9 .1h1m.6 0h1m-.8 0h1m1.4 0h1m-.6 0h1m-.1 0h1m-.9 0h1m-6 .1h1m.2 0h1m-.7 0h1m-.8 0h1m.6 0h1m-.8 0h1m-.6 0h1m.5 0h1m-.6 0h1m-.5 0h1m-7.7 .1h1m-.5 0h1m.2 0h1m-.7 0h1m-.2 0h1m-.3 0h1m-.6 0h1m-.6 0h1m-.8 0h1m-.5 0h1m.5 0h1m-6.7 .1h1m.7 0h1m-.2 0h1m-.1 0h1m-4.3 .1h1m.6 0h1m-.9 0h1m-.6 0h1m-.4 0h1m-.1 0h1m-.9 0h1m2.3 0h1m-8.8 .1h1m-.6 0h1m.5 0h1m-.8 0h1m-.2 0h1m-.8 0h1m-.4 0h1m-.5 0h1m-.8 0h1m3.1 0h1m-7.6 .1h1m-1 0h1m-.4 0h1m-1 0h1m.2 0h1m-.5 0h1m-.5 0h1m-.8 0h1m-.1 0h1m-.7 0h1m-.9 0h1m-.9 0h1m-.8 0h1m-.6 0h1m-.3 0h1m-.9 0h1m-.5 0h1m-8.7 .1h1m-.9 0h1m-.9 0h1m-.3 0h1m-.2 0h1m-.5 0h1m0 0h1m-.2 0h1m-.3 0h1m-.9 0h1m.7 0h1m-.1 0h1m-9 .1h1m-.6 0h1m0 0h1m.3 0h1m-.4 0h1m-.4 0h1m-.4 0h1m.5 0h1m-.5 0h1m-.7 0h1m-7.2 .1h1m.7 0h1m-.7 0h1m.2 0h1m-.5 0h1m-.2 0h1m-.3 0h1m1.6 0h1m-9.6 .1h1m-.9 0h1m-.1 0h1m-.2 0h1m-.4 0h1m-.6 0h1m.2 0h1m-1 0h1m-.7 0h1m-.8 0h1m-.9 0h1m-.9 0h1m-.9 0h1m-.9 0h1m-.8 0h1m-.9 0h1m-.4 0h1m-.9 0h1m-.6 0h1m1 0h1m-7 .1h1m.1 0h1m.3 0h1m0 0h1m-.9 0h1m-.8 0h1m-.7 0h1m.6 0h1m-.7 0h1m-.5 0h1m-9 .1h1m.1 0h1m-.1 0h1m.6 0h1m-.5 0h1m-.3 0h1m1.1 0h1m-8.3 .1h1m-.1 0h1m-.4 0h1m-.3 0h1m-.6 0h1m.3 0h1m-.6 0h1m.3 0h1m.4 0h1m-.4 0h1m-9.1 .1h1m-.2 0h1m-.7 0h1m.3 0h1m-.9 0h1m.3 0h1m-.7 0h1m.3 0h1m-1 0h1m.7 0h1m.2 0h1m-8.9 .1h1m-.5 0h1m-.9 0h1m2.1 0h1m-.9 0h1m-1 0h1m-.7 0h1m-.8 0h1m-.4 0h1m-.8 0h1m.1 0h1m1.3 0h1m-.8 0h1m-10.3 .1h1m-.8 0h1m-.9 0h1m-.7 0h1m-.9 0h1m-1 0h1m-.9 0h1m-.9 0h1m-.9 0h1m-.9 0h1m-.7 0h1m0 0h1m-.3 0h1m-.9 0h1m-.2 0h1m-.3 0h1m-.8 0h1m-.9 0h1m.7 0h1m-.6 0h1m-1 0h1m-.9 0h1m-.9 0h1m-.9 0h1m-.6 0h1m-.9 0h1m-.5 0h1m-.3 0h1m-10.5 .1h1m-1 0h1m0 0h1m-.2 0h1m-.8 0h1m-.4 0h1m-.5 0h1m-.5 0h1m-.7 0h1m-.3 0h1m.1 0h1m-.9 0h1m-.8 0h1m-.6 0h1m-6.1 .1h1m-.5 0h1m.7 0h1m-.6 0h1m-.2 0h1m-.3 0h1m-.2 0h1m-6.9 .1h1m.2 0h1m-.4 0h1m1.1 0h1m.4 0h1m-1 0h1m-.8 0h1m.3 0h1m-.9 0h1m-.3 0h1m-.9 0h1m-.3 0h1m-9.2 .1h1m-.9 0h1m.5 0h1m-.8 0h1m-.3 0h1m-.5 0h1m-.9 0h1m-.5 0h1m-.3 0h1m1.9 0h1m-.2 0h1m-.5 0h1m-8.5 .1h1m.1 0h1m.5 0h1m-.8 0h1m0 0h1m-.1 0h1m-1 0h1m-.5 0h1m1.3 0h1m-9.8 .1h1m-.3 0h1m.1 0h1m-.5 0h1m.1 0h1m-.6 0h1m-.7 0h1m-.4 0h1m-.2 0h1m-.6 0h1m-.4 0h1m-.5 0h1m-.8 0h1m-.2 0h1m.5 0h1m-10.5 .1h1m.1 0h1m-1 0h1m-.9 0h1m.7 0h1m0 0h1m.1 0h1m-.8 0h1m-.8 0h1m-.5 0h1m0 0h1m-.4 0h1m-.5 0h1m-.6 0h1m-.8 0h1m-1 0h1m-.6 0h1m-.7 0h1m-8.1 .1h1m.5 0h1m-1 0h1m-1 0h1m-.6 0h1m-.3 0h1m-.4 0h1m-.9 0h1m-.5 0h1m.7 0h1m-.1 0h1m-8.4 .1h1m-.7 0h1m2.4 0h1m.7 0h1m-6.4 .1h1m-.7 0h1m.5 0h1m-.5 0h1m-.4 0h1m-.3 0h1m1.9 0h1m-.2 0h1m-6 .1h1m-.7 0h1m.2 0h1m-.8 0h1m-.8 0h1m-.4 0h1m-5.7 .1h1m-.4 0h1m.5 0h1m1 0h1m-.4 0h1m-.8 0h1m-.2 0h1m-.6 0h1m-.6 0h1m-.9 0h1m-8.2 .1h1m-.9 0h1m.3 0h1m-.3 0h1m-.2 0h1m-.5 0h1m-2.1 .1h1m-.9 0h1m-.9 0h1m-.5 0h1m-.9 0h1m.2 0h1m.4 0h1m0 0h1m-6.6 .1h1m-.7 0h1m-.3 0h1m-.3 0h1m-.2 0h1m-.9 0h1m-1 0h1m-.9 0h1m-.3 0h1m-.1 0h1m-.9 0h1m-.5 0h1m-.3 0h1m-.6 0h1m-6.7 .1h1m.5 0h1m-3.2 .1h1m-.9 0h1m-1 0h1m-.9 0h1m1.2 0h1m-.8 0h1m-1 0h1m-.4 0h1m.2 0h1m.6 0h1m-1 0h1m-5.9 .1h1m.4 0h1m-.4 0h1m-2.5 .1h1m-.8 0h1m0 0h1m-.9 0h1m-1.3 .1h1m-.5 0h1m-1 .1h1m-1.1 .1h1m-2 .1h1m-.7 0h1m-.8 0h1m-2.3 .2h1m.1 0h1m-1.5 .1h1m-.7 0h1m-.7 0h1m-.8 .2h1"/>
</g>
<path d="M216.3 453.4V517M190.7 491.8H254.3" stroke="#a8b0bc" stroke-width=".55"/>
<g filter="url(#bl)">
<path stroke="#f0b4bc" stroke-width="1" d="M245.4 455.7h1m-19.6 6.6h1m-4.1 1.4h1m1 .6h1m-9.3 .1h1m3.5 0h1m6.8 .7h1m18.6 .1h1m-33.9 .2h1m-.5 .4h1m20.1 1h1m-22.9 .2h1m17.8 .1h1m-6.2 .1h1m6.9 .5h1m10.9 1.4h1m-13.3 .1h1m14.4 1.4h1m-20.7 .2h1m-17.5 .6h1m16.9 .1h1m4.6 1h1m-3.5 .6h1m-22.3 .2h1m26.7 0h1m-37.2 .2h1m7.8 .1h1m15.9 0h1m12.9 .4h1m-33.8 .2h1m16.7 0h1m1.5 .8h1m8.3 .4h1m-29.1 .3h1m21.3 .3h1m8.5 .2h1m-11.5 .3h1m.7 .2h1m6.2 .2h1m-15.3 .1h1m-3.9 .1h1m-10.4 .2h1m22.6 .2h1m-8 .6h1m8.9 0h1m-25.8 .2h1m12.4 .3h1m7.5 .2h1m-18.6 .2h1m3.4 0h1m.8 .3h1m-8.8 .1h1m.1 .1h1m3.6 .2h1m4.6 .2h1m8.2 0h1m-12.3 .1h1m-5.9 .1h1m-13.3 .3h1m25.9 .2h1m-6.8 .3h1m-4.6 .6h1m6.8 0h1m2.2 0h1m-2.3 .2h1m-2.2 .2h1m-9.9 .2h1m-8.7 .1h1m-5.5 .2h1m10.7 0h1m-10.8 .4h1m11.6 .1h1m7.2 0h1m-11.8 .4h1m1.9 0h1m4.2 0h1m.4 0h1m-7.8 .1h1m-23.2 .6h1m14.6 0h1m6.3 .5h1m5.7 .4h1m-3.8 .1h1m-15.6 .1h1m-10.4 .1h1m9.9 .3h1m6.5 .1h1m.2 .1h1m2.5 0h1m-12.1 .1h1m-5.9 .1h1m-4.4 .1h1m11.1 0h1m-4 .1h1m8.8 0h1m-18.6 .1h1m3.1 0h1m4.5 0h1m3.8 .2h1m-2.3 .1h1m.1 .3h1m-10 .3h1m13.3 0h1m7 0h1m-3.3 .1h1m-12.3 .1h1m-13.5 .1h1m1.9 .1h1m1.7 .1h1m.4 .1h1m.4 0h1m7.5 0h1m-15.5 .1h1m-7.5 .3h1m24 .1h1m-17.3 .3h1m8.9 .1h1m-11.4 .1h1m10.1 .1h1m-8.1 .3h1m5.4 .1h1m-5.3 .1h1m-1.1 .1h1m9.5 .1h1m-12.2 .4h1m6.3 .1h1m3.3 .1h1m-21.7 .1h1m3.6 .1h1m-1.4 .2h1m3.3 0h1m4.8 0h1m-.6 0h1m-9.7 .2h1m4.2 .2h1m-.3 0h1m-12.4 .1h1m-2.8 .1h1m5.5 0h1m13.5 0h1m-6.6 .2h1m5.2 0h1m-4.7 .3h1m-14.6 .4h1m3.2 0h1m-7.4 .1h1m8 0h1m10.7 .2h1m2.2 0h1m-30.7 .3h1m8.7 0h1m9.8 0h1m7.7 .2h1m-17.4 .3h1m-6.6 .1h1m19.9 0h1m-7.9 .3h1m-10.5 .1h1m11.7 0h1m-2.7 .2h1m-16 .2h1m12.5 0h1m-11.3 .1h1m-1.3 .1h1m2.3 .2h1m8.8 .1h1m-12.3 .1h1m-7.4 .1h1m17.9 .1h1m-24.1 .1h1m-1.5 .3h1m13.7 0h1m-.2 0h1m4.7 .3h1m3.4 0h1m-5.3 .1h1m-9.2 .1h1m-.4 0h1m-5.2 .1h1m7.9 .2h1m4 0h1m-13.6 .3h1m7 0h1m-11.1 .1h1m-2.2 .1h1m6.8 0h1m-17.9 .1h1m20.8 .1h1m-5.5 .1h1m-12.9 .2h1m7.3 .3h1m10.4 0h1m-9.1 .1h1m1.4 0h1m-18.5 .1h1m24.2 0h1m-14.6 .1h1m10.8 0h1m-7.4 .1h1m-18 .1h1m20.8 0h1m-13.8 .2h1m4.6 0h1m1.3 .1h1m11.3 .1h1m-4.1 .1h1m-1.7 .1h1m.4 .1h1m.4 .1h1m-10.9 .1h1m-7.8 .6h1m5.7 .1h1m.4 .1h1m-17.4 .1h1m16.1 0h1m-15.1 .1h1m5.5 0h1m-5.1 .1h1m-9 .1h1m14.1 .1h1m4.2 0h1m-20.4 .3h1m15.9 .2h1m3.9 .4h1m-11.1 .5h1m.2 0h1m-3.6 .2h1m-1.1 .1h1m-10.1 .1h1m15.2 .1h1m-12.4 .1h1m9.7 .4h1m-16.5 .3h1m4.3 .1h1m5.1 0h1m11 .2h1m-12.3 .7h1m-16.2 .1h1m14.7 0h1m7.8 0h1m-10.1 .7h1m4.3 .4h1m-11.6 .5h1m6.2 .4h1m-4 .8h1m-14 .1h1m17 0h1m-25.2 .9h1m14.4 0h1m-1.1 .8h1m7.6 0h1m5.5 .5h1m-19.7 .6h1m10.5 .3h1m-.3 0h1m-5.1 .1h1m-2.7 .4h1m4 .6h1m-.2 .5h1m3.6 .4h1m-9.1 .6h1m11.6 1.4h1"/>
<path stroke="#e47c88" stroke-width="1" d="M225.5 464.6h1m-3.3 .1h1m.8 0h1m-3.3 .1h1m1.6 .4h1m-.1 .3h1m-1.4 .2h1m-6.4 .2h1m6.3 .3h1m-3 .2h1m-.6 0h1m-9 1h1m10.3 .7h1m-12.9 .2h1m11.2 0h1m-14.5 .1h1m.4 .2h1m10.7 0h1m-13.8 .1h1m13.2 0h1m-15 .5h1m-.8 .2h1m-.3 .5h1m12.1 0h1m-1.9 .3h1m-13.3 .1h1m12.2 .1h1m-14.5 .7h1m11.9 .3h1m-1 .2h1m.5 .1h1m-3.1 1.3h1m-1.4 .8h1m-.8 .5h1m-13.2 .2h1m.5 .4h1m9.7 0h1m-12 .1h1m8.9 .4h1m-9.2 .2h1m7.7 .2h1m-8.4 .1h1m-4.3 .2h1m.9 .3h1m1.4 .4h1m-1.6 .3h1m3.2 0h1m-.9 0h1m.4 .3h1m-.4 0h1m-.9 .5h1m-1.6 .1h1m-.2 .1h1m3.1 12.9h1m.3 0h1m-1.4 .9h1m-.3 .2h1m1.3 .5h1m-2.7 .4h1m.3 .2h1m-3.8 .1h1m1.5 .2h1m-.7 .1h1m-1 .2h1m-2.5 .1h1m2.3 .2h1m-3.5 .2h1"/>
<path stroke="#dc3c4c" stroke-width="1" d="M221.7 465.7h1m-.5 .1h1m-1.3 .1h1m-1.1 .2h1m-.4 .2h1m.4 0h1m-2.5 .2h1m.8 0h1m-4.3 .2h1m1.9 0h1m1.9 .1h1m-.2 0h1m-.8 0h1m-3.8 .1h1m-5.8 .2h1m-.7 0h1m-.2 0h1m-1 .1h1m.2 0h1m-.7 0h1m.1 0h1m-.5 0h1m2.1 .1h1m-7.9 .1h1m2.8 0h1m1.7 0h1m-9 .2h1m0 .2h1m5.9 .1h1m-1.9 .1h1m1.4 .1h1m-1 .1h1m-10.3 .1h1m6.4 0h1m-.4 .1h1m-8.5 .1h1m6.6 .1h1m-8.5 .1h1m6.5 0h1m-.8 0h1m-8.9 .1h1m-.8 0h1m-1.7 .1h1m8.1 0h1m-1.7 .2h1m-9.4 .1h1m-.7 .1h1m-.7 0h1m7.8 .1h1m-11.2 .2h1m-1.2 .4h1m10 0h1m-11.7 .2h1m8.6 .2h1m-.3 0h1m-1.7 .2h1m.6 0h1m-12.5 .2h1m9.8 .1h1m-1.1 .2h1m-.8 .2h1m-.1 .1h1m-2.6 .1h1m-11.4 .1h1m-.6 0h1m9.3 0h1m-.1 0h1m-11.6 .2h1m8.8 .1h1m-1.5 .1h1m-.9 0h1m-.3 0h1m-.7 .3h1m-3.4 .1h1m-8 .1h1m-2.1 .1h1m-.6 .1h1m-.4 .1h1m6.4 0h1m-.9 .1h1m-9.5 .1h1m0 .1h1m-1.4 .1h1m-1.4 .2h1m-1.6 .1h1m1.1 0h1m-1.1 .2h1m6 0h1m.1 0h1m-11.1 .2h1m8.5 0h1m-10.7 .1h1m-.8 0h1m-.8 0h1m9.3 0h1m-2.9 .1h1m-1 .2h1m-8.9 .1h1m4.8 0h1m.5 0h1m-7.4 .1h1m3.2 0h1m-5.1 .1h1m.7 0h1m1.8 0h1m1.5 0h1m-6.9 .1h1m.9 0h1m.2 0h1m-.3 0h1m.1 0h1m-2.5 .1h1m-.2 0h1m-5 .1h1m-.6 0h1m1.4 .1h1m.1 0h1m-2.1 .1h1m-.3 0h1m-6.1 .1h1m7 0h1m-5.8 .1h1m1.4 0h1m-.8 0h1m-4.2 .1h1m-1.4 .2h1m.4 0h1m-.1 0h1m-.7 .2h1m.2 .2h1m-4.4 .1h1m2.8 0h1m-2.8 .2h1"/>
<path stroke="#d81c2c" stroke-width="1" d="M223 466.6h1m-.7 0h1m-1.3 .1h1m-.5 .3h1m-1.3 .2h1m-3 .2h1m-.6 0h1m-.1 .1h1m.5 0h1m-1 .1h1m-1.8 .2h1m-.3 0h1m.3 0h1m-3.6 .1h1m-.7 0h1m-3.1 .1h1m-.6 0h1m-.8 0h1m.8 0h1m1.1 0h1m-.7 0h1m-5.4 .2h1m.6 0h1m.2 0h1m-.6 .1h1m-4.1 .1h1m3.2 0h1m-.6 .6h1m-.8 0h1m-.4 0h1m-7 .1h1m-1.1 .1h1m4.5 .1h1m-7.1 .1h1m-1 0h1m-.6 0h1m-2.4 .1h1m0 0h1m4.8 .1h1m-.9 0h1m-.9 .1h1m-.8 0h1m.2 0h1m-9.5 .1h1m-1 0h1m-1 0h1m-.9 0h1m0 0h1m-.3 0h1m-1 0h1m4.6 .1h1m-.6 .1h1m-1.5 .1h1m-7.5 .1h1m6.9 0h1m-9.5 .1h1m7.3 0h1m-8.1 .2h1m-.6 .1h1m-2.6 .1h1m.6 0h1m5.3 0h1m-.9 0h1m-1 .2h1m-.9 0h1m-8 .1h1m5.8 .2h1m-.5 0h1m-9.3 .1h1m7.4 0h1m-7.9 .1h1m-1.5 .1h1m4.7 0h1m-1 0h1m-.4 0h1m-.8 .1h1m-7.6 .3h1m-.7 0h1m4.8 0h1m-1.2 .3h1m-.7 0h1m-7.3 .1h1m-.8 0h1m-1 0h1m-1 0h1m-.7 0h1m4.3 .2h1m-6.7 .1h1m.5 0h1m-.9 0h1m2.9 0h1m-.7 0h1m-6.3 .1h1m3.9 0h1m-1.4 .2h1m-.7 0h1m-.9 0h1m-.4 0h1m-2.3 .1h1m.5 0h1m-.7 0h1m-1.3 .1h1m-6.5 .3h1m.2 0h1m2.9 0h1m-.9 0h1m-5.2 .1h1m2.7 0h1m-3.9 .1h1m1 0h1m-4.3 .1h1m1.3 0h1m-.3 .1h1m.9 0h1m-4.3 .1h1m-3 .1h1m1.6 0h1m-.9 0h1m-.1 0h1m-4.3 .1h1m1.2 0h1m.7 0h1m-2.2 .1h1m-2.3 .1h1m2.1 0h1m-.1 0h1m-5.3 .1h1m1.9 0h1"/>
<path stroke="#d01020" stroke-width="1" d="M222.3 468.4h1m-.1 0h1m-.2 0h1m-2.4 .1h1m.3 0h1m-3.5 .1h1m-.8 0h1m.3 0h1m-.5 0h1m-.6 0h1m-.7 0h1m-.4 0h1m-.7 0h1m-3.7 .1h1m-.4 0h1m-3 .1h1m.7 0h1m-.6 0h1m-.5 0h1m-3.7 .1h1m1 0h1m-.5 0h1m-.5 0h1m-.8 0h1m-.8 0h1m-.4 0h1m-.5 0h1m-5 .1h1m.1 0h1m-.2 0h1m-.8 0h1m.5 0h1m-5.1 .1h1m-.2 0h1m-.2 0h1m-.7 0h1m-.3 0h1m-2.9 .1h1m.1 0h1m-.9 0h1m-.7 0h1m-.9 0h1m.4 0h1m-.5 0h1m-.6 0h1m-.7 0h1m-3.6 .1h1m-.7 0h1m-.4 0h1m-.5 0h1m-.6 0h1m-1 0h1m-3.3 .1h1m.7 0h1m-3.3 .1h1m-.3 0h1m-.8 0h1m-.4 0h1m-1 0h1m.5 0h1m-3.8 .1h1m0 0h1m.7 0h1m-4.8 .1h1m.2 0h1m-.3 0h1m-3.3 .1h1m-.8 0h1m.3 0h1m.2 0h1m.3 0h1m-3.2 .1h1m-1 0h1m-.7 0h1m0 0h1m-.8 0h1m-.9 0h1m-.2 0h1m-.7 0h1m-5.2 .1h1m.1 0h1m-.8 0h1m-.6 0h1m-.6 0h1m-.5 0h1m-1 0h1m-1.2 .1h1m-.7 0h1m-.8 0h1m.6 0h1m-2.4 .1h1m-.8 0h1m-.5 0h1m-.9 0h1m-3.8 .1h1m1.7 0h1m-4.5 .1h1m.9 0h1m.9 0h1m-.7 0h1m-.5 0h1m-.6 0h1m-3.2 .1h1m-.8 0h1m-.3 0h1m-.3 0h1m-5.3 .1h1m-.2 0h1m-.5 0h1m-.7 0h1m.7 0h1m.2 0h1m-.4 0h1m-6.7 .1h1m-.7 0h1m-.2 0h1m-.5 0h1m-.9 0h1m-.4 0h1m-.4 0h1m-.3 0h1m-1 0h1m-.6 0h1m-4.6 .1h1m.7 0h1m-.6 0h1m-.8 0h1m-.9 0h1m0 0h1m-.3 0h1m-.1 0h1m-4.8 .1h1m-.9 0h1m.7 0h1m-3.9 .1h1m-.7 0h1m.5 0h1m-.3 0h1m-.2 0h1m-.7 0h1m-5 .1h1m-.8 0h1m2 0h1m-.7 0h1m-1 0h1m-1 0h1m-.8 0h1m.4 0h1m-6.2 .1h1m.8 0h1m-.8 0h1m0 0h1m-.4 0h1m-.8 0h1m-.2 0h1m-.1 0h1m-6.6 .1h1m-.4 0h1m-.7 0h1m-1 0h1m-.5 0h1m.2 0h1m-.2 0h1m-.8 0h1m-.9 0h1m-.8 0h1m.6 0h1m-5.3 .1h1m-1 0h1m.1 0h1m-.3 0h1m-3.2 .1h1m-.9 0h1m-.5 0h1m-.1 0h1m.4 0h1m-3.5 .1h1m.7 0h1m0 0h1m0 0h1m-3.1 .1h1m-.4 0h1m-.4 0h1m-4.8 .1h1m1.2 0h1m.2 0h1m-3.3 .1h1m-.4 0h1m.3 0h1m-3.2 .1h1m-.5 0h1m-.4 0h1m-.5 0h1m-.8 0h1m-.4 0h1m-.5 0h1m-.7 0h1m-4.9 .1h1m-.8 0h1m-.3 0h1m-.1 0h1m-.3 0h1m-3.7 .1h1m-.3 0h1m-.4 0h1m-.8 0h1m-.6 0h1m0 0h1m-.4 0h1m.2 0h1m-5.7 .1h1m3.2 0h1m-1.6 .1h1m-.8 0h1m-1 0h1m-3 .1h1m.6 .1h1m-2.1 .1h1m-.7 0h1m-1.9 .1h1m-1.8 .1h1m-.4 0h1m-.9 0h1m-.8 0h1m-.1 0h1m-.8 0h1m-2.3 .1h1m.9 0h1m-2 .1h1m-2.2 .1h1m-.1 0h1m-2 .1h1m-.2 .1h1m-.6 0h1"/>
</g>
<g filter="url(#bl)">
<path stroke="#bcc2e6" stroke-width="1" stroke-opacity="0.85" d="M242.6 457.3h1m-9.4 2.5h1m5.9 .4h1m.7 .9h1m-9.3 .4h1m8 0h1m-21.8 .1h1m9.7 .1h1m10.6 .1h1m-1.3 .1h1m-10 .1h1m10.1 .5h1m-6.8 .1h1m3.2 .8h1m2.8 .8h1m-21.7 .1h1m-15.4 .7h1m.8 .3h1m-7.7 1.9h1m39.8 .1h1m-32.9 .2h1m5.6 0h1m-3.5 .6h1m-.9 0h1m-16 .1h1m3.5 0h1m-.6 0h1m-.1 0h1m-.7 .3h1m34.9 0h1m0 .1h1m.8 .2h1m-36.3 .1h1m5.7 .4h1m-3.8 .1h1m-14.6 .8h1m15.1 .1h1m-11 .9h1m36.8 .4h1m-38.8 .5h1m1.4 .1h1m36.1 .6h1m-40.6 .1h1m1.4 .2h1m-9.5 .3h1m3.7 .3h1m34 0h1m-33.4 .1h1m-6.3 .1h1m4.1 .1h1m33 .1h1m-23.8 .7h1m23.5 0h1m.6 .1h1m-28.2 .9h1m0 .3h1m2.3 1.1h1m17.3 .2h1m-18.4 .2h1m11.8 .1h1m-26.8 .2h1m14.1 0h1m7.6 .5h1m-.6 .1h1m3.2 0h1m2.1 .5h1m-22.2 .2h1m15.9 0h1m-13.5 .3h1m6.5 .1h1m3.1 0h1m-.4 .1h1m.9 0h1m.8 .2h1m-17 .1h1m1.5 .4h1m7 .1h1m-8.2 .2h1m-.5 .1h1m11.5 .3h1m-3.8 .1h1m-5.2 .1h1m2.4 0h1m-13.3 .5h1m-1.6 .2h1m10.8 .3h1m-16 .1h1m13.6 .3h1m-1.8 1.1h1m4.4 .1h1m4.6 .1h1m-17.8 .1h1m-2.4 .1h1m12.4 0h1m-15 .7h1m-3.9 .5h1m7.5 .1h1m-.2 .1h1m5.7 .7h1m-16.5 .3h1m9.7 .1h1m.7 .2h1m-1.1 .2h1m4.9 .1h1m-15.6 .5h1m-1.2 .3h1m11.6 .1h1m-11.3 .1h1m-6.7 .2h1m-2.8 .2h1m18.6 .2h1m-14.1 .3h1m-1.9 .9h1m7.5 0h1m-11.5 .3h1m1.6 .2h1m10.6 0h1m-19.8 1h1m2.8 .2h1m1 .1h1m1.1 0h1m11 1.2h1m-20.1 .3h1m5.8 .4h1m13.2 0h1m-8.5 .2h1m2.6 .1h1m-18.7 .3h1m6.5 0h1m-2.1 .1h1m5.4 .1h1m6.4 0h1m-17.1 .1h1m.2 .1h1m11.5 0h1m-14.9 1h1m13.4 0h1m-5.4 .4h1m0 0h1m1.7 .1h1m-13.1 1.1h1m6.1 0h1m-6.4 .1h1m-7.5 .2h1m4.4 .3h1m13.8 .6h1m-21.4 .4h1m11.3 0h1m-5.1 .5h1m3.2 .1h1m-5.9 .2h1m5.9 .4h1m2.4 .3h1m-3.5 .1h1m-4.2 .3h1m-3.5 .1h1m.8 .2h1m4.4 .6h1m-11.7 .1h1m-.3 0h1m3.3 0h1m-10 .1h1m-1.6 .2h1m5.4 .2h1m6.2 0h1m-12.7 .3h1m8.6 .4h1m4.7 .4h1m-7.5 .2h1m1.4 .1h1m-10.3 .9h1m-2.9 .1h1m3.8 0h1m.8 .3h1m-8.1 .1h1m7.8 .1h1m-3.2 .1h1m-4.4 .4h1m8.4 0h1m-12.6 1h1m3.5 0h1m2 .2h1m2.1 .2h1m-10.7 .2h1m5.4 0h1m-1.4 .3h1m-3.3 .1h1m-2.8 .2h1m.1 0h1m11.2 .4h1m-7.7 .2h1m-.9 .1h1m-2.3 1.3h1m1.9 0h1m2.9 .8h1m-9.2 .4h1m-.4 .1h1m.9 0h1m-7.2 .3h1m2.6 3h1"/>
<path stroke="#8a96d4" stroke-width="1" stroke-opacity="0.85" d="M238.7 462.6h1m-8.1 .3h1m7.8 0h1m-6 .2h1m2.2 .2h1m-9.2 .1h1m1.4 .3h1m-3.2 .4h1m0 0h1m-.4 0h1m6.4 .1h1m-.9 0h1m-11.8 .1h1m8.7 0h1m-3.1 .1h1m3.2 0h1m4 .3h1m-18.1 .1h1m14.9 0h1m.1 0h1m-2.6 .1h1m.8 .2h1m-3.5 .1h1m.3 0h1m-.7 .2h1m-18.6 .3h1m-.2 0h1m-2.8 .1h1m-.3 .2h1m18.4 .1h1m-.9 .1h1m-21.3 .4h1m-.8 0h1m18.8 .1h1m-1.7 .2h1m-1.7 .4h1m-19.6 .3h1m-17.9 .3h1m-2.6 .1h1m38.6 0h1m-2.5 .3h1m-37.7 .1h1m16.3 .1h1m19.9 0h1m-1 .2h1m-.8 .1h1m-39.3 .4h1m36.6 .1h1m-39.9 .2h1m2.4 0h1m13.2 0h1m-17.1 .3h1m.7 .1h1m-3.6 .1h1m.3 .1h1m-.4 .1h1m13.6 0h1m20.8 .1h1m.2 0h1m-24.6 .1h1m-.5 0h1m-16.4 .2h1m38.2 0h1m-24.2 .1h1m20.4 0h1m-22.4 .1h1m21.9 .1h1m-38.3 .2h1m-.9 0h1m34.6 .1h1m-39.9 .1h1m-1.1 .1h1m.6 0h1m-.1 0h1m15.6 0h1m18.7 .1h1m-22.3 .4h1m-14.9 .2h1m-2.8 .1h1m14.6 0h1m-.6 0h1m.5 0h1m-2.5 .1h1m.9 .3h1m16.3 .1h1m-18.2 .1h1m-1.4 .6h1m.1 0h1m16 .1h1m-20.9 .2h1m1.5 .3h1m.5 0h1m12.9 .3h1m-12.7 .2h1m-6.5 .2h1m2.1 .1h1m-3.6 .3h1m7 .3h1m-1 0h1m4.2 0h1m4.6 .1h1m-17.3 .2h1m-1.2 .1h1m2.6 0h1m8.4 .1h1m-12.4 .1h1m4.6 0h1m6.4 0h1m-6.6 .1h1m-3.1 .1h1m3.6 0h1m3.4 0h1m-4.1 .1h1m-2.8 .1h1m2 .1h1m-7.2 .1h1m-4.4 .1h1m6.9 0h1m-8.6 .1h1m8.6 0h1m.7 .1h1m-11.1 .1h1m.6 .2h1m8.1 .1h1m-11.4 .3h1m-1.5 .3h1m2.2 .1h1m.7 0h1m-5.6 .1h1m3.7 .4h1m-4 .1h1m-1.9 .3h1m-.7 .2h1m-.1 .1h1m-.4 0h1m-.8 3.8h1m-.8 0h1m.6 0h1m-2.6 .3h1m.4 0h1m-1.9 .1h1m-.7 .2h1m2.5 0h1m2 .3h1m-8.5 .2h1m5 .1h1m-8.6 .2h1m1.4 0h1m3.5 0h1m-.8 .1h1m-.3 .2h1m-9.7 .1h1m2.4 0h1m4.4 .2h1m0 .1h1m-10.2 .1h1m.7 .1h1m-3.7 .1h1m9 0h1m-2.4 .1h1m.3 .4h1m-6.2 2h1m-.9 .2h1m-2.2 .2h1m-.9 .2h1m1.8 0h1m-1.5 .1h1m-5.1 .1h1m.2 .1h1m-2 .1h1m-.6 .1h1m2.9 0h1m-1.9 .2h1m-.6 .1h1m-2.2 .2h1m-.4 .1h1m-3.8 .1h1m1.8 .2h1m-2.6 .2h1m2.4 0h1m-5.6 .4h1m5.7 .2h1m-.5 0h1m-8.8 .1h1m3.1 .1h1m-2.8 .2h1m-1.9 .1h1m5.1 .1h1m-4.6 .1h1m-.9 0h1m1.6 0h1m-.8 .1h1m-5.2 .7h1m3.2 .2h1m-3.1 .1h1m-2.1 .2h1m-3.6 .2h1m.8 0h1m.7 .4h1m-2.5 .1h1m4.5 0h1m-1.3 .1h1m-2.1 .1h1m-4.6 .2h1m-4.1 .2h1m.9 .1h1m-2.2 .1h1m5 .1h1m-7.9 .2h1m.5 .2h1m-3.4 1.2h1m6.4 .7h1m-5.7 .2h1m-2.3 .1h1m-1.2 .1h1m.3 .1h1m-1.3 .1h1m3.5 0h1m-6.3 .3h1m4.4 .1h1m0 0h1m-7 .1h1m-2.7 .3h1m5.2 0h1m.5 0h1m-5.2 .2h1m-1.2 .4h1m3 .2h1m-1.6 .4h1m-5.5 .3h1m.6 .2h1m-2.5 .6h1"/>
<path stroke="#5262b8" stroke-width="1" stroke-opacity="0.85" d="M230.7 464.5h1m2.7 0h1m-.3 0h1m-2.7 .1h1m4.2 0h1m-.1 0h1m0 0h1m-4 .1h1m1.2 0h1m-8.7 .1h1m1.3 .1h1m-.6 0h1m1.6 0h1m-.7 0h1m-8.7 .1h1m7.3 .1h1m2.7 0h1m-8.5 .1h1m1 0h1m2.6 0h1m0 0h1m-9.5 .1h1m6.6 0h1m-6.7 .1h1m-5.8 .1h1m12.6 .1h1m-.7 0h1m-13.8 .1h1m10.4 .1h1m-12.8 .1h1m-.9 0h1m.2 0h1m-1.4 .1h1m-.9 0h1m-.7 .1h1m-2.7 .2h1m.1 .1h1m-.3 0h1m10.5 .2h1m.2 .3h1m-15.7 .1h1m-1 .2h1m12.2 0h1m-14.8 .1h1m12.7 0h1m-16.2 .2h1m-.4 0h1m14.8 .1h1m-1 .1h1m-16.6 .3h1m15 .1h1m-17.8 .1h1m15.4 .1h1m-.7 0h1m-17.7 .1h1m-.9 .1h1m17.9 0h1m-20.3 .1h1m15.8 .1h1m-17.2 .1h1m-.9 0h1m16 0h1m-17.9 .1h1m-.5 0h1m17 .1h1m-3.4 .1h1m-18.4 .2h1m17.9 0h1m-.3 .1h1m-2.5 .1h1m-.6 0h1m-2.5 .1h1m-.5 0h1m-18.3 .1h1m16.8 0h1m-.9 0h1m-1.4 .1h1m.2 .1h1m-19.2 .2h1m-.8 0h1m0 0h1m14.4 0h1m-.4 0h1m-17.8 .2h1m-1.3 .1h1m16 0h1m-16.6 .1h1m-.9 0h1m14.7 0h1m-18.8 .1h1m15.8 0h1m-.8 0h1m-.8 .3h1m-17.9 .2h1m.7 .2h1m14.6 0h1m-.2 0h1m-18.5 .1h1m.6 0h1m-1.5 .1h1m-.9 .2h1m14 .3h1m-16.4 .2h1m-.6 0h1m-1 .2h1m.1 .2h1m12.5 0h1m-16.7 .1h1m14.4 0h1m-16.5 .1h1m1.2 0h1m12.8 0h1m-.2 0h1m-1 .1h1m-15.4 .1h1m-.7 .2h1m-.8 0h1m-.7 0h1m10.7 0h1m-12 .4h1m-.1 0h1m2 0h1m-5.3 .1h1m-1.7 .1h1m4.5 0h1m-.6 .2h1m4.7 0h1m-13.1 .2h1m9.6 0h1m-10.6 .1h1m9.3 0h1m-10.8 .1h1m-.8 .1h1m1.4 0h1m4.9 0h1m-9.4 .2h1m.2 0h1m1.2 0h1m.7 0h1m-2.5 .1h1m3 0h1m-.9 0h1m-4.4 .1h1m.3 0h1m-.9 0h1m.4 .1h1m-1 .1h1m-5.3 .1h1m-1 .1h1m.3 0h1m4.4 0h1m-6.9 1h1"/>
<path stroke="#3444a6" stroke-width="1" stroke-opacity="0.85" d="M234.8 465.4h1m2.3 0h1m-5.3 .1h1m1.3 0h1m-.7 0h1m.4 0h1m-.8 0h1m-.2 0h1m-3.7 .1h1m.6 0h1m1.8 0h1m-.7 0h1m-6.7 .1h1m1.9 0h1m-6.8 .1h1m-.3 0h1m6.5 0h1m-6.8 .1h1m.5 0h1m2.4 0h1m-.8 0h1m-8.2 .1h1m4.1 0h1m-5.5 .1h1m-.3 0h1m5.2 0h1m-5.3 .1h1m-.2 0h1m-.7 0h1m.8 0h1m1.4 0h1m-8.2 .1h1m1.2 0h1m1.9 0h1m-8.6 .1h1m-.3 0h1m-.3 0h1m.3 0h1m.2 0h1m.4 0h1m-.4 0h1m-.7 0h1m1.6 0h1m-1 0h1m0 0h1m-12 .1h1m9.5 0h1m.1 0h1m-.7 0h1m-2.3 .1h1m-11.2 .1h1m9.9 0h1m-1 0h1m-9 .1h1m-3.4 .1h1m-.7 0h1m-.2 0h1m7.8 0h1m-.4 0h1m-12.3 .1h1m.4 0h1m-.6 0h1m8.3 0h1m-.6 .1h1m-.9 0h1m-.5 0h1m-.6 0h1m-11.8 .1h1m0 0h1m7.9 0h1m-.3 0h1m-3.8 .1h1m-.6 0h1m-1 0h1m-.2 0h1m-11.4 .1h1m-.9 0h1m.3 0h1m8.7 0h1m-.5 0h1m-.9 0h1m-12 .2h1m-.9 0h1m-1.4 .1h1m-1.7 .1h1m12.3 0h1m-13.8 .1h1m-.1 0h1m-1.9 .1h1m-.5 0h1m-.7 0h1m9.3 0h1m-12.8 .1h1m11.1 0h1m-.7 .1h1m-12.8 .1h1m10.6 0h1m.3 0h1m-12.8 .1h1m10.6 0h1m-14.1 .3h1m-.7 0h1m11.3 0h1m-14.4 .1h1m-.9 0h1m12.9 0h1m-2.2 .1h1m-.7 0h1m-1 0h1m-14.3 .1h1m12.4 0h1m-1.4 .2h1m-.7 0h1m-14.7 .1h1m12 0h1m-.7 .1h1m-13.2 .1h1m-.9 .1h1m11.1 .1h1m-14.2 .1h1m13.7 0h1m-15 .1h1m-1.7 .1h1m-.4 0h1m-.5 0h1m11.7 0h1m-13.1 .1h1m-1.3 .1h1m10.5 0h1m-12.5 .1h1m-2 .1h1m12.4 0h1m-12.1 .1h1m9.1 0h1m-.9 0h1m-.3 0h1m-1 0h1m-.7 0h1m-13.9 .1h1m.1 0h1m-2.2 .1h1m.2 0h1m-.7 0h1m10.5 0h1m-12.3 .1h1m9.3 0h1m-.8 0h1m-12.5 .1h1m10.3 0h1m-.4 0h1m-1 0h1m.1 .1h1m-14.2 .1h1m10.8 .1h1m-.7 0h1m0 0h1m-13.3 .1h1m-.4 0h1m9.6 0h1m-12.3 .1h1m-1.2 .1h1m9.5 0h1m-.3 0h1m.1 0h1m-12.4 .1h1m-.2 0h1m7.3 0h1m-.2 .1h1m-10 .1h1m8.4 0h1m-.5 0h1m-11.6 .1h1m8.8 0h1m-.3 0h1m-11.3 .1h1m10.3 0h1m-2.2 .1h1m-11.5 .1h1m-1 0h1m10 0h1m-13.6 .1h1m.6 0h1m-.6 0h1m-.7 0h1m7.5 0h1m1.6 0h1m-.8 0h1m-14.6 .1h1m2 0h1m.8 0h1m2.7 0h1m1.2 0h1m-.9 0h1m.5 0h1m-.8 0h1m-11.8 .1h1m1.7 0h1m-3.2 .1h1m1.3 0h1m.1 0h1m2.3 0h1m0 0h1m-.4 0h1m-.3 0h1m-3.2 .1h1m-.9 0h1m-7.3 .1h1m-.1 0h1m4.6 0h1m-.1 0h1m-.7 0h1m-7.5 .1h1m-.1 0h1m.8 0h1m.5 0h1m2 0h1m-10.5 .1h1m2.4 0h1m-.9 0h1m-.5 0h1m.2 0h1m.3 0h1m-6.5 .1h1m-.8 0h1m-.6 0h1m-.8 0h1m-.6 0h1m6.1 0h1m-8.6 .1h1m.8 0h1m4.6 0h1m-.5 0h1m0 0h1m-6.2 .1h1m-.5 0h1m1.2 0h1m-.9 0h1m-1 0h1m-6.3 .1h1m2.8 0h1m-.8 0h1m.8 0h1m-8.3 .1h1m6.1 0h1m-8.4 .1h1m-.3 0h1m.7 0h1m-3.1 .1h1m0 0h1m-.3 0h1m2.4 0h1m.5 0h1m-7 .1h1m3.3 0h1m-.7 0h1m-.8 .1h1m-.7 0h1m-1.1 .1h1m-6.7 .1h1m6.1 0h1m-3 .1h1m.7 0h1m-5.5 .1h1m.9 0h1m.2 0h1m-.5 0h1m-7.3 .1h1m6.9 0h1"/>
<path stroke="#2a3898" stroke-width="1" stroke-opacity="0.85" d="M236.6 466.4h1m1.4 0h1m-.8 0h1m-2.9 .1h1m-.4 0h1m-3.5 .1h1m1.3 0h1m-1 0h1m-4.2 .1h1m.1 0h1m-.7 0h1m1.1 0h1m-3.4 .1h1m.3 0h1m-.2 0h1m-.3 0h1m-.1 0h1m-5.3 .1h1m2.8 0h1m-.2 0h1m-6.4 .1h1m-.6 0h1m-.2 0h1m1 0h1m-.7 0h1m-.8 .1h1m-.7 0h1m-3.1 .1h1m-3.4 .1h1m-.3 0h1m-.2 0h1m-.9 0h1m3.3 0h1m-8.6 .1h1m-.1 0h1m0 0h1m.3 0h1m-.6 0h1m1 0h1m.4 0h1m-8.2 .1h1m.5 0h1m-1 0h1m-1 0h1m-.9 0h1m-1 0h1m-.2 0h1m3.7 0h1m0 0h1m-.8 0h1m-.9 0h1m-1 0h1m-.6 0h1m-9.1 .1h1m.2 0h1m-.3 0h1m1.9 0h1m-.6 0h1m-.6 0h1m0 0h1m-.5 0h1m.4 0h1m-9.5 .1h1m1.8 0h1m.2 0h1m.7 0h1m2.4 0h1m-10.7 .1h1m-.8 0h1m-.4 0h1m.9 0h1m3.5 0h1m-.7 0h1m-5.5 .1h1m-.9 0h1m-1 0h1m-.4 0h1m-1 0h1m-.1 0h1m-.6 0h1m2.1 0h1m-8.4 .1h1m.4 0h1m1.4 0h1m0 0h1m-5.6 .1h1m.7 0h1m-.6 0h1m.2 0h1m-.1 0h1m.9 0h1m.3 0h1m-.5 0h1m-8.9 .1h1m-.9 0h1m-.3 0h1m.3 0h1m-.6 0h1m.1 0h1m-.8 0h1m-.8 0h1m-2 .1h1m-.7 0h1m-.1 0h1m-.3 0h1m1.3 0h1m.3 0h1m-.9 0h1m-11.6 .1h1m.4 0h1m-.5 0h1m1 0h1m-.1 0h1m-.5 0h1m-.7 0h1m-1 0h1m2.8 0h1m-.2 0h1m-.7 0h1m-.7 0h1m-11.4 .1h1m.4 0h1m-.5 0h1m3.3 0h1m-.4 0h1m-.9 0h1m2.6 0h1m-11.9 .1h1m-.1 0h1m-.1 0h1m1.5 0h1m-.5 0h1m1.6 0h1m-1 0h1m-.9 0h1m-.5 0h1m-6.9 .1h1m.8 0h1m.5 0h1m-1 0h1m-.6 0h1m.6 0h1m-.5 0h1m-.8 0h1m.1 0h1m-.6 0h1m-.8 0h1m-.8 0h1m-7.8 .1h1m-.5 0h1m-.9 0h1m.1 0h1m-.2 0h1m.8 0h1m-.9 0h1m.9 0h1m-8.6 .1h1m1.9 0h1m-.3 0h1m-.6 0h1m-.7 0h1m-.9 0h1m.2 0h1m-.5 0h1m-.8 0h1m-.5 0h1m-8.7 .1h1m-.3 0h1m-.8 0h1m-.8 0h1m-.6 0h1m-.6 0h1m-.6 0h1m-.5 0h1m-.5 0h1m-1 0h1m-.6 0h1m-1 0h1m.7 0h1m-.7 0h1m.3 0h1m-.3 0h1m-.7 0h1m-.7 0h1m-.1 0h1m-8.2 .1h1m-.5 0h1m-.2 0h1m-.9 0h1m-.8 0h1m-.8 0h1m-.9 0h1m.5 0h1m.7 0h1m0 0h1m-8.9 .1h1m0 0h1m-.9 0h1m3.9 0h1m.4 0h1m-.1 0h1m-.2 0h1m-10.9 .1h1m-.8 0h1m-1 0h1m.9 0h1m-.7 0h1m-.9 0h1m1.9 0h1m-.1 0h1m-.4 0h1m.3 0h1m.8 0h1m-11.3 .1h1m1.6 0h1m-.2 0h1m-.6 0h1m-.3 0h1m-.8 0h1m-.5 0h1m-.6 0h1m-.9 0h1m.8 0h1m1.4 0h1m-7.6 .1h1m-.4 0h1m-4.9 .1h1m.3 0h1m.6 0h1m-.6 0h1m-.6 0h1m-.7 0h1m.3 0h1m.5 0h1m-.9 0h1m-7.9 .1h1m-.1 0h1m-.9 0h1m-.6 0h1m-.7 0h1m-.9 0h1m-.2 0h1m.4 0h1m.3 0h1m.2 0h1m-.5 0h1m-.8 0h1m-.4 0h1m-1 0h1m-.6 0h1m-.2 0h1m-.3 0h1m-9.3 .1h1m-.7 0h1m-.8 0h1m-.3 0h1m-1 0h1m-.4 0h1m1.1 0h1m.7 0h1m-.5 0h1m-.4 0h1m-.4 0h1m-.5 0h1m-.8 0h1m-.9 0h1m-9 .1h1m-.7 0h1m-.9 0h1m1.8 0h1m-.1 0h1m-.2 0h1m-.8 0h1m-1 0h1m-.7 0h1m-.3 0h1m-7.5 .1h1m1.2 0h1m-.7 0h1m1.4 0h1m.2 0h1m-.5 0h1m-.5 0h1m-1 0h1m1.3 0h1m-11.6 .1h1m-.2 0h1m.9 0h1m-.6 0h1m0 0h1m2.7 0h1m.2 0h1m-1 0h1m-7.8 .1h1m-.7 0h1m-.3 0h1m.2 0h1m.1 0h1m.4 0h1m-.9 0h1m-6.4 .1h1m.7 0h1m-.6 0h1m-.5 0h1m-.4 0h1m-.3 0h1m-5 .1h1m.1 0h1m1 0h1m-.4 0h1m-.4 0h1m.5 0h1m-1 0h1m2.2 0h1m-4.9 .1h1m.3 0h1m.8 0h1m-9 .1h1m.1 0h1m-.6 0h1m1.1 0h1m0 0h1m-.7 0h1m-.8 0h1m1.1 0h1m-.7 0h1m-.5 0h1m-6.2 .1h1m-.3 0h1m-.8 0h1m1.1 0h1m1 0h1m-.9 0h1m.2 0h1m-4.9 .1h1m-.7 0h1m.6 0h1m-.3 0h1m-.7 0h1m.1 0h1m-10.7 .1h1m.7 0h1m-.8 0h1m-.7 0h1m-.6 0h1m-.2 0h1m1.1 0h1m1.2 0h1m-.5 0h1m-6.5 .1h1m.1 0h1m1.9 0h1m.3 0h1m-7.6 .1h1m.2 0h1m-.7 0h1m3.9 0h1m-7 .1h1m-.7 0h1m.2 0h1m0 0h1m-.8 0h1m-.9 0h1m-1 0h1m-.7 0h1m-.8 0h1m-.6 0h1m-.4 0h1m.7 0h1m-.8 0h1m-8.7 .1h1m1 0h1m-.1 0h1m-.6 0h1m-.1 0h1m-.5 0h1m.4 0h1m-.8 0h1m-.2 0h1m-7.2 .1h1m-.8 0h1m-.3 0h1m.1 0h1m-.3 0h1m.8 0h1m-.5 0h1m0 0h1m-.3 0h1m-7.5 .1h1m.8 0h1m-.2 0h1m-.5 0h1m-.3 0h1m.3 0h1m.2 0h1m-6.2 .1h1m1.2 0h1m-.8 0h1m-.9 0h1m.5 0h1m-6.3 .1h1m-.4 0h1m2.5 0h1m-1 0h1m.5 0h1m-6.4 .1h1m.4 0h1m-.9 0h1m3.8 0h1m-6.9 .1h1m1.1 0h1m.4 0h1m0 0h1m-.6 0h1m.4 0h1m-4.4 .1h1m-4.2 .1h1m2.2 0h1m-.9 0h1m-.6 0h1m-4.6 .1h1m-.4 0h1m-.5 0h1m.2 0h1m-.7 0h1m-1 0h1m-.7 0h1m-.7 0h1m.1 0h1m-.4 0h1m0 0h1m-.3 0h1m-8.1 .1h1m-.8 0h1m.1 0h1m-.5 0h1m-.7 0h1m.2 0h1m.7 0h1m.3 0h1m-.3 0h1m-5.3 .1h1"/>
</g>
<path d="M318.6 453.4V517.4M292.7 493.2H357.7" stroke="#8d93aa" stroke-width=".55"/>
<g filter="url(#bl)">
<path stroke="#dcb8d0" stroke-width="1" d="M333.4 462.3h1m.2 1.8h1m13.4 1.5h1m-6.4 1.2h1m1.1 .9h1m-22.6 2.3h1m24.8 1.7h1m-22.9 .3h1m-2.4 2.3h1m-.2 .3h1m4.4 5.7h1m17 .3h1m-18.4 1.6h1m-3.4 1.2h1m-5.3 4.7h1m-2.1 1.9h1m-.5 2.2h1m26.9 .1h1m-27.8 1.4h1m.7 1.4h1m-6 .6h1m27.1 .5h1m-24.5 1.3h1m-2.9 1.8h1m5.7 1.6h1m-8.5 1.3h1m3.5 .7h1m.6 .1h1m3 .6h1m-3.4 .9h1m-12.6 .6h1m12.9 0h1m-2.7 .4h1m-7.7 .2h1m5.4 1.8h1m-.7 2h1m3.9 1.2h1m-5.8 .3h1m.8 1.8h1m-5.6 .2h1m10.1 .5h1m3.5 1.3h1m-8.6 .7h1"/>
<path stroke="#b884ac" stroke-width="1" d="M331.6 464.9h1m-1.7 .4h1m4.6 .7h1m-7.2 .4h1m-2.8 .4h1m10.1 .5h1m-11.6 .2h1m11.7 0h1m-3.4 .1h1m-11.8 .3h1m-1.4 .3h1m9.6 .1h1m-.1 .9h1m1.9 .2h1m-15 .1h1m1 .3h1m15.2 1.8h1m-18 .5h1m-.5 .5h1m17.1 .5h1m-.7 .1h1m-4.5 .1h1m1.2 .7h1m-17.2 .6h1m6.6 .7h1m-7.2 .2h1m5.3 .4h1m-4.4 .1h1m-3.5 .6h1m.1 .5h1m-5.8 .3h1m-.7 .5h1m7.2 .1h1m-3.1 .1h1m-7.2 .4h1m18 1.3h1m-1 .2h1m.5 0h1m-13.5 3h1m-3.6 .5h1m-1.9 .1h1m-.5 .4h1m-1 1.4h1m1 1h1m-3.6 .1h1m-3.4 1.4h1m17.3 .3h1m-18 .5h1m17.8 .3h1m-2.4 .1h1m-16.2 .1h1m-4.8 .3h1m-1.1 .3h1m-2 .3h1m.4 .3h1m1.5 .8h1m14.9 .4h1m-16.9 .9h1m-2.2 1.1h1m18.5 .1h1m-2.4 .3h1m-18.3 .5h1m-.7 1.4h1m-3.8 .3h1m2 .2h1m-5.2 .1h1m-1.1 .4h1m-.2 .2h1m1 1.1h1m-.3 .5h1m1 .1h1m1 1.2h1m-2.3 .3h1m.5 .4h1m-8.9 .2h1m20.4 0h1m-16.8 .1h1m15.1 .1h1m-23.4 .5h1m-1.9 .1h1m22.2 .3h1m-12.3 .8h1m-2.8 .6h1m12.2 .2h1m-11.6 .3h1m9.1 2h1m-1.4 .2h1m-.8 1h1m-13.4 .6h1m-.5 0h1m12.5 .5h1m-1.7 .9h1m-2 1h1m-10.8 .7h1m1.6 .5h1m-2.4 .2h1m-.1 0h1m4.5 .2h1m-4.9 1.1h1m-.1 .2h1m-1.2 .4h1m-.2 .2h1m-2.8 .6h1"/>
<path stroke="#a04a84" stroke-width="1" d="M331.7 466.1h1m2.9 .1h1m-3.9 .3h1m-.6 0h1m-.7 0h1m-3.2 .2h1m1.8 0h1m.7 0h1m-.5 0h1m-1.6 .1h1m-2.2 .1h1m-4.5 .1h1m4.7 .3h1m-3.1 .5h1m-2.2 .1h1m-3 .1h1m1.3 .1h1m-2.8 .3h1m.8 0h1m2.5 0h1m-3.9 .6h1m.1 .1h1m-.6 .2h1m-5 .3h1m-.7 0h1m0 .2h1m2.6 .5h1m-.6 0h1m.8 .3h1m-.2 .1h1m.5 .2h1m-10.2 .1h1m7.3 .1h1m-1 .1h1m-3.9 .2h1m-7.6 .1h1m7.7 .2h1m-4.5 .2h1m5.4 0h1m-3.2 .1h1m.8 .1h1m-6.2 .2h1m-.8 0h1m1.2 .3h1m2.9 0h1m-8.5 .1h1m2.8 .1h1m.7 .1h1m-6.4 .1h1m-1.3 .2h1m4.7 .3h1m2.9 0h1m-13.5 .1h1m5.2 0h1m5.6 0h1m-15.1 .1h1m9.9 .2h1m-6.1 .1h1m-.5 0h1m-2.8 .1h1m7.1 0h1m-11.6 .1h1m-.8 0h1m9 .1h1m-9.4 .4h1m6.5 0h1m-11.1 .2h1m4.3 .1h1m-2.8 .2h1m5.8 0h1m1.2 .2h1m-4.9 .1h1m1.3 0h1m-7.2 .2h1m3 .1h1m.5 .1h1m-6.3 .1h1m6.2 0h1m-3.9 .2h1m1.2 .1h1m1.8 .8h1m-7.2 .2h1m-2.2 .2h1m1 0h1m-1 0h1m4.5 .3h1m-7.9 .2h1m-3.2 .4h1m1 0h1m5.7 0h1m-8 .6h1m-4.4 .6h1m10.6 .4h1m-10.2 .1h1m-2.9 .2h1m4.1 0h1m-6.6 .1h1m1.4 .2h1m-1.2 .3h1m-.3 .1h1m7.7 0h1m-11.3 .1h1m2.4 .2h1m-2.9 .1h1m.2 .4h1m-.8 0h1m-.4 0h1m6.8 .7h1m-.8 .4h1m-.7 0h1m-1.4 .3h1m-10.1 .7h1m-2.3 .1h1m9.7 .8h1m-11.2 .3h1m-2.1 .6h1m-.1 .2h1m-1 .4h1m-.9 .1h1m-3.7 .2h1m11.9 1.3h1m-13.9 .2h1m.3 .1h1m-1.1 .1h1m-1.9 1.1h1m.2 .1h1m-1.2 .6h1m11.4 .2h1m-14.2 .1h1m11.7 0h1m-13.3 .3h1m1.6 0h1m-2.3 .3h1m10.5 .1h1m-15.1 .1h1m.9 .2h1m-1.9 .5h1m11.3 .1h1m-9.4 .8h1m-6.4 .1h1m0 0h1m3.2 .2h1m-1.9 .1h1m-3.7 .2h1m.1 .2h1m-4.2 .2h1m13.8 0h1m-14 .2h1m11.9 .1h1m-11.4 .2h1m-4.9 .2h1m-.8 .2h1m5.5 0h1m-5.4 .1h1m-.7 0h1m10.3 .3h1m-11.8 .2h1m2 0h1m-3.8 .1h1m0 0h1m-3.4 .1h1m0 .1h1m10.3 .1h1m-13.2 .2h1m11.2 0h1m-12 .2h1m9.7 .1h1m-8.1 .3h1m6.8 0h1m-12.1 .2h1m10.4 0h1m-13.8 .3h1m1.6 0h1m-.6 0h1m-2.6 .2h1m-3.2 .2h1m4.1 0h1m-3 .3h1m-3.5 .3h1m12.3 .1h1m-10.5 .1h1m-1.6 .5h1m8.3 0h1m.3 .1h1m-2.6 1.2h1m-10.2 .3h1m9.4 0h1m-2.3 .3h1m-11.5 .1h1m1.9 0h1m-2.1 .1h1m.2 .1h1m-4 .1h1m1.1 0h1m-3.4 .3h1m2.7 0h1m-.2 .3h1m-2.4 2.1h1m6.7 1.8h1m-8.2 .2h1m-1 .2h1m-1.6 .3h1m-.9 .2h1m4.6 0h1m-7.5 .2h1m-1.9 .5h1m6.6 0h1m.6 .1h1m.6 .4h1m-9.4 .1h1m4.7 0h1m-8.2 .2h1m-.7 .2h1m-.2 0h1m-1.4 .1h1m6.8 0h1m-6.8 .3h1m4.8 .1h1m-7.6 .1h1m1.2 0h1m2.5 .2h1m-5.7 .1h1m2.4 0h1m-5.7 .3h1m5.1 .1h1m-2.3 .1h1m-2.3 .1h1m-3.8 .2h1m4.9 .1h1m-7.4 .1h1m4.1 0h1m-.9 .1h1m0 0h1m-2.8 .2h1m1.9 0h1m-4.3 .1h1m-1.5 .3h1m1.3 .2h1m-2.8 .1h1m-.7 .7h1"/>
<path stroke="#90306c" stroke-width="1" d="M334.1 469.5h1m-.1 .1h1m-.6 .5h1m-.9 .2h1m-1.1 .1h1m-2.2 .4h1m-1.4 .1h1m-.8 .3h1m-.1 .1h1m-1 .1h1m-1.9 .2h1m-2.4 .2h1m-1.3 .3h1m1.4 0h1m-3.1 .3h1m-1.2 .2h1m-1.7 .1h1m-.2 .1h1m.4 .1h1m-2.4 .1h1m0 0h1m9.9 3.5h1m-1.6 .6h1m-2 .1h1m.5 .1h1m-2.3 .4h1m-.9 .1h1m.1 0h1m.1 .1h1m-2.8 .1h1m-.8 0h1m-2.9 .2h1m2 0h1m-3.7 .3h1m.6 .2h1m-.6 0h1m-2.6 .1h1m-.5 .2h1m1.1 .1h1m-.5 0h1m-2.9 .1h1m-.1 .1h1m-1.7 .6h1m.5 .1h1m-4.4 .1h1m.1 0h1m-1 .1h1m-.3 0h1m-.6 0h1m1.3 0h1m-1.6 .1h1m-5 .1h1m2 0h1m-3.8 .2h1m-.7 0h1m2.6 0h1m-2 .1h1m-4 .2h1m.6 0h1m.2 0h1m-2.8 .1h1m-.8 .1h1m-.6 0h1m1.5 0h1m-6 .1h1m3.1 0h1m-1.4 .4h1m-.2 0h1m-.9 0h1m-1 0h1m-1.5 .1h1m-.8 0h1m-2 .2h1m-.5 0h1m-.2 0h1m-1.5 .2h1m-.8 0h1m-4.2 .1h1m1.4 0h1m-4.2 .2h1m1.3 0h1m1.9 .1h1m-4.3 .2h1m1.8 0h1m.6 0h1m-4.7 .1h1m.5 0h1m-4.5 .1h1m-.8 0h1m-.1 .1h1m-.7 0h1m.4 .1h1m-3.7 .2h1m-2.8 .2h1m3.2 0h1m-4.7 .1h1m4.1 0h1m-3.4 .1h1m.9 0h1m-4.9 .1h1m3.3 0h1m.7 0h1m-8.2 .1h1m1.5 0h1m2.5 0h1m-5.7 .1h1m5.2 .1h1m-6 .1h1m.8 0h1m.3 0h1m-1.8 .1h1m1.4 0h1m0 0h1m-8.7 .1h1m1.3 0h1m-.4 0h1m-5.9 .1h1m.2 0h1m3.5 0h1m-1.6 .1h1m-.3 0h1m-4.2 .1h1m.2 0h1m0 0h1m3.7 .1h1m-7.5 .1h1m-1.2 .1h1m1.2 0h1m2.8 0h1m-3.6 .1h1m.7 0h1m-7.7 .1h1m2.4 0h1m-1 0h1m2.3 0h1m-.2 0h1m-2.1 .1h1m-2.9 .1h1m2.9 0h1m-8.6 .1h1m.5 0h1m2.4 0h1m-7.7 .1h1m-.9 0h1m1.2 0h1m3.8 0h1m-4.9 .1h1m4.9 .1h1m-.7 0h1m-.7 0h1m-7.1 .1h1m0 0h1m-.6 0h1m-.2 0h1m-2.1 .1h1m.3 0h1m-1.5 .1h1m0 0h1m-.7 0h1m1.2 0h1m-4.9 .2h1m-.9 0h1m-.2 0h1m-5.7 .1h1m-.3 .1h1m0 0h1m2.3 .1h1m.7 0h1m.5 .1h1m-2.1 .3h1m-2.8 .1h1m.8 0h1m-9.6 .1h1m-.1 0h1m-.6 0h1m.4 .1h1m.5 0h1m-4.3 .1h1m2.6 0h1m-.7 0h1m-.4 0h1m1.4 0h1m-.1 0h1m-9.3 .1h1m3.1 0h1m-3.5 .1h1m3.6 0h1m-3.8 .3h1m1.7 .2h1m-5.2 .1h1m.5 0h1m.4 0h1m2.5 0h1m-3.6 .1h1m-.8 0h1m-.4 0h1m-.9 0h1m1.5 0h1m-6.9 .1h1m.3 0h1m.3 0h1m-3.7 .1h1m1.5 0h1m.8 .1h1m-8 .1h1m-.3 0h1m4.2 0h1m-.8 0h1m-7.1 .1h1m2.5 0h1m-3.3 .2h1m1.8 0h1m.3 .1h1m-.8 0h1m-6.9 .1h1m4.4 0h1m-.3 0h1m.7 0h1m-7.5 .1h1m5.7 .1h1m-7.4 .1h1m0 0h1m-.9 0h1m-.2 0h1m.9 0h1m2.1 0h1m-4 .1h1m.2 .1h1m.4 0h1m-9.4 .1h1m3.1 0h1m3 .1h1m-1 .1h1m-9.2 .1h1m.3 0h1m-.2 0h1m1.5 0h1m-.9 0h1m1 0h1m-.6 0h1m-6.5 .1h1m5.5 0h1m-4 .1h1m1.7 0h1m-1.1 .1h1m-7.5 .1h1m1 .1h1m-1.3 .1h1m4 0h1m-.2 0h1m-5 .1h1m1.7 0h1m-2.3 .1h1m.3 0h1m-5.9 .1h1m-1 0h1m-.6 0h1m3.4 0h1m-5.2 .2h1m1.5 .1h1m.3 0h1m-1.7 .1h1m-5.5 .1h1m-.7 0h1m1.6 0h1m3.1 .1h1m.2 0h1m-7.1 .1h1m4.2 0h1m-4.2 .1h1m2.5 .1h1m-2.7 .2h1m-5.9 .1h1m.2 0h1m-.3 .2h1m0 0h1m-3.7 .1h1m.9 0h1m.8 .1h1m-.7 .2h1m-4 .1h1m0 0h1m-.4 0h1m-3.4 .2h1m.8 0h1m-.7 0h1m1.8 0h1m-4.8 .1h1m1.7 .1h1m-2.6 .1h1m2.4 0h1m-7.3 .1h1m2.1 .3h1m-.2 0h1m-1 .1h1m-3.9 .1h1m-.3 0h1m-2.4 .1h1m5.1 0h1m-5.9 .1h1m.4 0h1m2 0h1m-.9 0h1m-4.8 .1h1m-1.4 .3h1m1.2 0h1m-2.8 .1h1m.1 .1h1m0 0h1m1 0h1m-6 .1h1m-.3 0h1m2.5 0h1m-.8 0h1m-2.5 .1h1m-2.2 .1h1m2.9 0h1m-3.4 .2h1m-4.8 .2h1m1.4 .2h1m.9 0h1m-1 0h1m1.3 0h1m-4.2 .1h1m-3.5 .2h1m2.7 0h1m-.3 0h1m-4.7 .1h1m2 .2h1m-1.1 .1h1m-.8 0h1m-4.4 .3h1m2 0h1m-.4 0h1m-.3 0h1m-6.8 .1h1m1.4 0h1m.3 0h1m-3.1 .1h1m1.2 0h1m1.3 0h1m-1.5 .2h1m-5.4 .1h1m2.3 0h1m-4.4 .1h1m.4 .1h1m.5 0h1m-5.5 .1h1m2.8 0h1m-.4 0h1m2.1 0h1m-5.8 .3h1m.3 0h1m-.1 0h1m-.2 0h1m-1.3 .1h1m-4.5 .1h1m2.9 .1h1m-3.9 .1h1m2.7 .1h1m-7.8 .1h1m4.5 0h1m-.7 0h1m-.6 0h1m-6.2 .1h1m.9 0h1m1.1 0h1m-1 0h1m-2.8 .1h1m-3.4 .1h1m2.7 0h1m-2.4 .1h1m1.5 0h1m-2.3 .1h1m-.2 0h1m-5.9 .1h1m2.6 0h1m-3 .1h1m1.8 .1h1m-.8 0h1m-.8 .1h1m-4.3 .1h1m.8 0h1m1.2 0h1m-3 .1h1m-1.1 .1h1m-1.2 .1h1m2.6 0h1m-3.7 .3h1m-.9 0h1m-5.7 .1h1m5.5 0h1m-.6 0h1m-6 .1h1m-1.1 .1h1m1 .1h1m1.6 0h1m0 0h1m-3.1 .1h1m-1.3 .2h1m.8 0h1m-2.9 .1h1m-2.6 .1h1m3.5 0h1m-3.6 .1h1m.1 0h1m-4.5 .3h1m.3 0h1m.6 0h1m-2.3 .1h1m2.3 .2h1m-4.1 .1h1m.6 0h1m-.3 0h1m-3.6 .1h1m-.3 .1h1m-2.2 .2h1m1.8 0h1m-.6 0h1m-3.2 .1h1m2.8 0h1m-.6 .2h1m-8.7 .2h1m5.2 0h1m-.2 0h1m-5.2 .1h1m1.4 0h1m-6.3 .1h1m.1 0h1m2.2 0h1m.8 0h1m-.5 0h1m-4.1 .1h1m-.1 0h1m2.3 0h1m-6.1 .1h1m-1.5 .1h1m-.8 .1h1m-3 .1h1m.9 0h1m-2.3 .2h1m4.3 0h1m-6.3 .2h1m4.2 0h1m-2.8 .2h1m-3.2 .1h1m2.5 0h1m-6.4 .1h1m3.5 0h1m-.7 0h1m-.8 0h1m-3.2 .1h1m-.7 0h1m-.7 0h1m.7 .1h1m-5.2 .1h1m-1 .1h1m.2 .1h1m.9 .1h1m-1.1 .2h1m-.5 0h1m-.3 0h1m-1 .1h1m-2.7 .2h1m-.5 .3h1m-4.3 .1h1m-.3 .2h1m.8 0h1m.2 0h1m-3.2 .2h1m-2.3 .1h1m-2 .1h1m2.7 .1h1m-5.8 .1h1m2.4 .2h1m-.7 0h1m-.8 0h1m.9 .1h1m-4.1 .1h1m.4 .1h1m-2.2 .1h1m1.1 0h1m-2.4 .3h1m-3.4 .4h1m2.7 0h1m-3.3 .1h1m.9 .1h1m-.3 .3h1"/>
</g>
<g filter="url(#bl)">
<path stroke="#bcc2e6" stroke-width="1" d="M332.4 460.2h1m14.8 .1h1m-7.3 2.1h1m-8 .3h1m-1.5 .1h1m6.3 0h1m6.3 .7h1m-5.1 .2h1m-33.8 1h1m36.8 0h1m-2.6 .3h1m-18.7 .1h1m-1.8 .1h1m-20.9 .2h1m18.9 0h1m-20.5 .2h1m14.3 0h1m23.2 0h1m-37.2 .2h1m.9 0h1m35.7 .3h1m.3 0h1m-44.2 .2h1m-.6 0h1m-.7 0h1m10.9 .3h1m5.3 .1h1m-17.3 .2h1m-6 .4h1m1.8 .4h1m16.7 0h1m-17.4 .2h1m13.5 .5h1m26 .1h1m-30.5 .3h1m-.4 .1h1m29.4 0h1m-45.9 .1h1m3.8 0h1m36.3 .4h1m-35.3 .1h1m-10.9 .1h1m.1 0h1m2.7 0h1m13.7 0h1m-22.4 .2h1m1 .1h1m1.8 0h1m12.7 .2h1m-13.8 .1h1m-6 .2h1m4.2 .2h1m13.1 0h1m-19.3 .1h1m3.9 .1h1m-1.5 .1h1m1.3 0h1m8.8 0h1m-9.3 .1h1m-3.3 .1h1m-8.2 .1h1m2.3 0h1m42.3 .1h1m.6 0h1m-29.5 .2h1m-24.5 .1h1m6.8 0h1m44.4 .5h1m-34.6 .2h1m28.3 0h1m-40.3 .2h1m-2.6 .3h1m14.6 .1h1m23.7 .3h1m-42.8 .2h1m.4 .1h1m-.9 .7h1m-3.6 .2h1m3.7 .3h1m15 .6h1m20 0h1m-5.8 .1h1m-39.6 .3h1m2.5 0h1m35.1 0h1m-1.4 .1h1m-34.3 .1h1m34.1 0h1m-17.5 .3h1m-3.1 .1h1m13.4 .1h1m-6.7 .2h1m-25.6 .1h1m29.6 0h1m-8.9 .4h1m-10.4 .1h1m14.7 .3h1m-3.8 .1h1m-1.5 .1h1m9.5 .1h1m-3.5 .3h1m-16.3 .1h1m3.1 .1h1m-7.6 .4h1m9.6 .1h1m-1.6 .7h1m-8 .1h1m10.6 .6h1m-6.8 .6h1m-29.5 8.9h1m25.5 .3h1m2.6 .9h1m-5.6 .1h1m-.5 1h1m-1.9 .1h1m-.4 .7h1m-24.5 .1h1m24.4 .4h1m0 .5h1m-26.5 .1h1m26.3 0h1m-6 .3h1m-23.7 .3h1m28.3 0h1m-27.3 .1h1m15.5 .1h1m-23.9 .3h1m26.6 .4h1m-25.4 .1h1m17.3 .1h1m2.1 0h1m6.2 .1h1m-30.6 .2h1m1 0h1m10.7 0h1m7.3 0h1m4.6 .1h1m-8.8 .1h1m3.9 0h1m-27 .1h1m2.6 0h1m14.8 .1h1m-17.8 .2h1m16.9 0h1m-21.2 .1h1m1.6 .1h1m2.3 .1h1m25.9 0h1m-29.8 .2h1m22.4 0h1m-30 .1h1m2.7 0h1m3.8 0h1m-4.5 .1h1m1.1 0h1m22.1 0h1m-8.5 .2h1m6.2 .1h1m-24 .8h1m26.8 0h1m-12.9 .2h1m8.1 .2h1m-31.1 .1h1m.1 0h1m16.7 0h1m-14.6 .1h1m-6.2 .1h1m27.9 0h1m-28.1 .1h1m27.6 .1h1m-.9 0h1m-32.8 .2h1m21.8 0h1m-19 .2h1m15.4 0h1m-21.4 .3h1m30.8 .2h1m-10.6 .5h1m3.4 0h1m-31.5 .1h1m6.6 .1h1m.6 .3h1m15.7 0h1m11.3 0h1m-6.1 .2h1m-7 .3h1m-1.5 .1h1m5.5 1h1m-3.8 .1h1m-.6 0h1m-8.9 .2h1m11.7 .1h1m-29.5 .2h1m20.4 .3h1m-.6 0h1m.6 .1h1m-23.3 .3h1m20.8 .4h1m-4.4 .4h1m5.8 .8h1m-8.1 .1h1m5.7 .8h1m-1.6 .1h1m-2.9 .7h1m.8 1.3h1m-5.9 .1h1"/>
<path stroke="#8a96d4" stroke-width="1" d="M342.2 463.5h1m-9.9 .1h1m3.6 0h1m-5.9 .1h1m9.1 0h1m-6.3 .1h1m-5.3 .1h1m-1.4 .1h1m.1 .3h1m2.4 0h1m5.3 0h1m-11 .1h1m1 .1h1m7.4 .1h1m-13.2 .5h1m3.2 0h1m-6.5 .1h1m1.4 0h1m-3.5 .1h1m2.8 0h1m.1 0h1m8.4 0h1m-13.8 .2h1m13.2 .1h1m.9 .1h1m-17.4 .1h1m13.1 0h1m2.4 .1h1m-2.4 .1h1m-16.9 .2h1m13.6 0h1m-15.5 .1h1m15.5 0h1m-18.7 .1h1m0 0h1m15.7 0h1m-17.2 .3h1m-2 .6h1m15.9 0h1m-18.2 .1h1m15.7 0h1m-18.8 .1h1m-.1 0h1m-1.4 .4h1m18.2 0h1m-1.9 .1h1m-.8 0h1m-.6 0h1m-1.2 .2h1m-21.8 .2h1m1 0h1m-3.1 .3h1m21 0h1m-21 .1h1m-2.9 .1h1m.6 .1h1m-2.6 .1h1m21.7 .4h1m-.7 .1h1m-.9 .1h1m-23.2 .2h1m19.8 .1h1m-21.7 .1h1m19.9 0h1m-1.1 .4h1m-22.2 .5h1m19.9 0h1m-2.1 .4h1m.2 0h1m-1.8 .2h1m-20.9 .2h1m18.4 0h1m-20.5 .1h1m.2 .6h1m-2.6 .2h1m20.6 .1h1m-22.7 .2h1m18.6 .2h1m-1.1 .1h1m-.3 .1h1m-18.6 .1h1m16.9 0h1m-4.1 .2h1m-.5 .1h1m-16.5 .1h1m-.6 .1h1m14.5 0h1m0 0h1m-16.7 .6h1m14.1 0h1m-16.4 .2h1m11.9 .2h1m-14.2 .1h1m1 0h1m12 .1h1m-13.9 .2h1m4.4 .1h1m-6.8 .1h1m3.5 0h1m3 .2h1m-6.7 .2h1m-4.1 .3h1m.8 0h1m6.2 0h1m-11.1 20.1h1m1.6 .5h1m.2 .2h1m-.4 .1h1m-4.5 .3h1m.7 0h1m-2.9 .1h1m1.2 0h1m-3.8 .3h1m.7 0h1m.5 0h1m-3.6 .2h1m-.7 0h1m2.4 .1h1m-1.5 .3h1m0 0h1m-.8 0h1m-5.6 .2h1m.3 0h1m-.9 .2h1m-1.7 .2h1m-2.3 .2h1m.6 0h1m2.3 0h1m-1.8 .1h1m-2.5 .1h1m1 .3h1m-1.4 .3h1m-.6 .3h1m-4.7 .8h1m.8 .3h1m-1.6 .3h1m-1.8 .1h1m-1.5 .1h1m0 .7h1m-.5 .1h1m-.4 .2h1m-1.1 .2h1"/>
<path stroke="#5262b8" stroke-width="1" d="M338.7 464.4h1m.8 .1h1m-1 .1h1m1.4 0h1m-4.7 .1h1m.6 .1h1m-1.3 .2h1m.8 .1h1m-6.4 .1h1m.3 0h1m.8 0h1m-2.7 .1h1m2.1 0h1m.8 .1h1m-.9 0h1m-9.9 .1h1m3.6 0h1m1.5 0h1m-.8 0h1m.3 0h1m-7.8 .1h1m-.4 0h1m-.8 0h1m.3 0h1m1.1 0h1m2 0h1m-.8 0h1m-11 .1h1m4.1 0h1m.1 0h1m3.9 0h1m-8.6 .1h1m-.2 0h1m-.6 0h1m2.7 0h1m1.3 0h1m-10.9 .1h1m3.9 0h1m3.1 0h1m-.8 0h1m.5 0h1m-.7 0h1m-11 .1h1m-.2 0h1m2.9 0h1m0 0h1m1 0h1m-4.8 .1h1m4.5 0h1m-8 .1h1m4.1 0h1m.5 0h1m-7.9 .1h1m-.4 0h1m-.4 0h1m-.8 0h1m-.4 0h1m0 0h1m.6 0h1m-.8 0h1m1.1 0h1m-.7 0h1m-10.6 .1h1m2.1 0h1m5.8 0h1m-12.2 .2h1m-.3 0h1m-1.4 .1h1m-.9 0h1m-.9 .1h1m10.3 .3h1m-12.7 .1h1m9.9 0h1m-12.4 .1h1m-.1 0h1m-.9 0h1m11.1 .2h1m0 0h1m-1.1 .1h1m-.2 0h1m-2 .1h1m-1.8 .3h1m-1.3 .1h1m-13.8 .1h1m-.9 0h1m12.5 0h1m-.4 0h1m-15.2 .1h1m12.2 0h1m-.3 0h1m.1 0h1m-16.1 .1h1m14.3 .2h1m-18.1 .2h1m.2 0h1m14.4 .1h1m-2.1 .1h1m-17.2 .1h1m15.5 0h1m-.3 0h1m-.5 0h1m-17.7 .1h1m-.1 0h1m13.7 0h1m-16.2 .1h1m15.7 0h1m-2.8 .1h1m-17.2 .1h1m-1.5 .1h1m.4 0h1m16.4 0h1m-1.8 .1h1m-.5 .2h1m-19.5 .1h1m-.4 0h1m15.9 0h1m-17.6 .1h1m17.2 0h1m-20.7 .1h1m-.7 .2h1m-.5 0h1m17.6 0h1m-18.7 .1h1m15.5 0h1m-.5 0h1m-.4 0h1m-19.2 .1h1m-.6 0h1m15.5 0h1m-.9 0h1m-18.8 .1h1m0 0h1m-2 .1h1m.6 0h1m16.5 0h1m-19.4 .1h1m16.9 .3h1m-18.5 .1h1m-2.2 .1h1m-.7 .1h1m17.3 .1h1m-17.9 .1h1m15.3 0h1m-18.8 .1h1m.2 0h1m14.9 .2h1m-16.9 .1h1m14.5 .1h1m-.5 0h1m-16.9 .1h1m15.6 0h1m-17 .1h1m12.6 .1h1m-14.7 .1h1m-1 .1h1m-.5 0h1m12.9 0h1m-2.5 .1h1m1.6 0h1m-.9 0h1m-3.1 .2h1m-.9 0h1m-15.2 .1h1m14.7 0h1m-15.8 .1h1m12.9 0h1m-.7 0h1m-1.6 .1h1m.8 0h1m-6.9 .1h1m-9.7 .1h1m.3 0h1m-.8 0h1m1.2 0h1m4.8 0h1m-.4 0h1m-.6 0h1m-9.8 .1h1m8.8 0h1m-12.8 .1h1m1.7 0h1m-.9 0h1m-.2 0h1m5.3 0h1m-1 0h1m-.2 0h1m-11.1 .1h1m9.8 0h1m-9.2 .2h1m7.6 0h1m-13.5 .1h1m.6 0h1m.1 0h1m.8 0h1m-3 .1h1m.8 0h1m6.4 0h1m-10.8 .1h1m6.9 0h1m-2.6 .1h1m-3.7 .1h1m2.8 0h1m.1 0h1m-5 .1h1m-2.1 .1h1m-3.5 .1h1m.7 0h1m.3 0h1m2.6 0h1m.9 0h1m-7.2 .1h1m1.3 0h1m.6 0h1m-5.2 .1h1m2.3 0h1m-1.2 .1h1m-.9 0h1m-.2 0h1m-.6 0h1m-6.3 .1h1m.8 0h1m4.1 0h1m-1.7 .1h1m-.5 0h1"/>
<path stroke="#3a3c9c" stroke-width="1" d="M336.6 466.4h1m-1.6 .1h1m4.7 0h1m-.3 0h1m-7.8 .1h1m.1 0h1m-.2 0h1m2.1 0h1m1.7 0h1m-.6 0h1m-.1 0h1m-9.6 .1h1m-.3 0h1m-2.9 .1h1m3.9 0h1m2 0h1m-7.2 .1h1m-.1 0h1m-.9 0h1m1.8 0h1m-.3 0h1m-.7 0h1m.6 0h1m-.7 0h1m-.9 0h1m-.5 0h1m-9.2 .1h1m1.4 0h1m.2 0h1m-.8 0h1m.4 0h1m2 0h1m-7.6 .1h1m1.9 0h1m.6 0h1m-6.2 .1h1m-.7 0h1m.7 0h1m-.8 0h1m-.8 0h1m-.6 0h1m2.5 0h1m-8.9 .1h1m1.5 0h1m.8 0h1m-.6 0h1m.4 0h1m2 0h1m-9.1 .1h1m-.5 0h1m.8 0h1m.4 0h1m3.2 0h1m-10.4 .1h1m1.1 0h1m6.3 0h1m-.7 0h1m-.9 0h1m.2 0h1m-1 0h1m-11 .1h1m-.4 0h1m-.9 0h1m4.9 0h1m1.8 0h1m-11.9 .1h1m-.1 0h1m0 0h1m5.9 0h1m-.2 0h1m-.3 0h1m-11.5 .1h1m7.7 0h1m1 0h1m0 0h1m-10.5 .1h1m5.3 0h1m-1 0h1m-.6 0h1m.7 0h1m-10.8 .1h1m-.9 0h1m.1 0h1m-.8 0h1m5.7 0h1m1.3 0h1m-11.4 .1h1m-.6 0h1m0 0h1m4.8 0h1m-.2 0h1m1.6 0h1m-10.4 .1h1m-.6 0h1m-.6 0h1m6.2 0h1m-.9 0h1m.4 0h1m-11 .1h1m-.7 0h1m5.3 0h1m.3 0h1m-.4 0h1m.3 0h1m-11.3 .1h1m.3 0h1m-.8 0h1m5.1 0h1m-.8 0h1m.3 0h1m-.9 0h1m-.7 0h1m-.5 0h1m0 0h1m-.9 0h1m-14 .1h1m0 0h1m.3 0h1m8.5 0h1m.5 0h1m-12.4 .1h1m8.4 0h1m.8 0h1m-11.6 .1h1m8.8 0h1m-.5 0h1m-12.6 .1h1m-.1 0h1m-.6 0h1m7.5 0h1m-10.8 .1h1m10.6 0h1m0 0h1m-12.7 .1h1m8 0h1m-.7 0h1m-.4 0h1m-11.6 .1h1m9.4 0h1m-12.4 .1h1m9.8 0h1m-10.3 .1h1m-.8 0h1m9.4 0h1m-.2 0h1m-13.9 .1h1m10.7 0h1m.9 0h1m-14.8 .1h1m-.7 0h1m-.8 0h1m-.8 0h1m10.6 0h1m-.9 0h1m-.8 0h1m-.4 0h1m-14.6 .1h1m-.9 0h1m-.8 0h1m11 0h1m.9 0h1m-15.5 .1h1m-.5 0h1m.6 0h1m10.3 0h1m.3 0h1m-.5 0h1m-15.1 .1h1m10.3 0h1m-.9 0h1m.2 0h1m-.1 0h1m-.6 0h1m-14.6 .1h1m-.5 0h1m-2.1 .1h1m-.5 0h1m11.5 0h1m-15 .1h1m-.6 0h1m.9 0h1m10.8 0h1m-15.1 .1h1m-.4 0h1m-.8 0h1m11.2 0h1m.1 0h1m-14.9 .2h1m11.7 0h1m-.9 0h1m-.9 0h1m.2 0h1m-15.3 .1h1m-.1 0h1m-.6 0h1m10.6 0h1m-.1 0h1m-12.4 .1h1m9.3 0h1m1.2 0h1m-.8 0h1m-.9 0h1m-16.2 .1h1m.8 0h1m10 0h1m-.3 0h1m-14.7 .1h1m-.2 0h1m-.9 0h1m.9 0h1m11.5 0h1m-14.9 .1h1m10.6 0h1m1.6 0h1m-2 .1h1m-15.1 .1h1m12 0h1m-13.2 .1h1m-.9 0h1m-.1 0h1m-.5 0h1m9.8 0h1m.2 0h1m-.5 0h1m-16.3 .1h1m.8 0h1m-.1 0h1m9.5 0h1m-.7 0h1m.9 0h1m-.9 0h1m-14.2 .1h1m-.9 0h1m8.6 0h1m1.2 0h1m-14.4 .1h1m.9 0h1m-.5 0h1m10.1 0h1m-.8 0h1m-15.2 .1h1m-.2 0h1m-.9 0h1m-.8 0h1m.3 0h1m-.3 0h1m9.4 0h1m-2.9 .1h1m-.9 0h1m-.2 0h1m0 0h1m-14 .1h1m-.6 0h1m-.9 0h1m-.6 0h1m-.5 0h1m10.3 0h1m-14.3 .1h1m0 0h1m1.3 0h1m7.5 0h1m.3 0h1m0 0h1m-14.5 .1h1m1.7 0h1m8 0h1m-1 0h1m-11.6 .1h1m-.6 0h1m0 0h1m8.3 0h1m1.2 0h1m-15.9 .1h1m2.8 0h1m9.7 0h1m-12.9 .1h1m-.1 0h1m-2.4 .1h1m0 0h1m.8 0h1m3.9 0h1m2.2 0h1m-12.2 .1h1m-1 0h1m-.6 0h1m.3 0h1m1.1 0h1m2.8 0h1m-1 0h1m-.2 0h1m-9.9 .1h1m.8 0h1m-.9 0h1m-.6 0h1m-.6 0h1m4.2 0h1m-.3 0h1m-.5 0h1m-.8 0h1m.1 0h1m-.4 0h1m-10.3 .1h1m5 0h1m-.5 0h1m-.3 0h1m-.4 0h1m.6 0h1m-12.1 .1h1m2.1 0h1m6.1 0h1m-11 .1h1m.6 0h1m5 0h1m-.9 0h1m-4.7 .1h1m-5.4 .1h1m-.8 0h1m-.9 0h1m.7 0h1m.8 0h1m-1 0h1m3.2 0h1m-6 .1h1m-.2 0h1m4.2 0h1m-.8 0h1m-9.9 .1h1m.7 0h1m0 0h1m.5 0h1m4.2 0h1m.7 .1h1m-5.3 .1h1m.5 0h1m-5.4 .1h1m.5 0h1m-1.7 .1h1m-.6 .1h1m-.5 0h1m-.5 0h1m-.7 0h1m.1 0h1m-.7 0h1m-5 .2h1m1.4 0h1m.5 0h1m-3.5 .1h1m-1.2 .1h1m.3 0h1m-1.8 .1h1m1 0h1m-.8 .1h1"/>
<path stroke="#322c84" stroke-width="1" d="M338.7 467.4h1m-.4 0h1m-.9 0h1m-3.2 .1h1m-.7 0h1m1 0h1m-3.5 .1h1m.7 0h1m.7 0h1m-1 0h1m-.9 0h1m-.9 0h1m-.7 0h1m-.3 0h1m-5.4 .1h1m.4 0h1m-2.1 .1h1m-.6 0h1m1.2 0h1m0 0h1m-.5 0h1m-5.1 .1h1m2.2 0h1m-.4 0h1m-4.6 .1h1m-.7 0h1m-1 0h1m-.6 0h1m.4 0h1m-.3 0h1m-4 .1h1m-.9 0h1m-.5 0h1m1.2 0h1m-.8 0h1m-4.8 .1h1m-.2 0h1m.1 0h1m-.9 0h1m1.1 0h1m-.6 0h1m-4.2 .1h1m-.7 0h1m1.4 0h1m-5.7 .1h1m-.3 0h1m0 0h1m-1 0h1m.4 0h1m.6 0h1m-.7 0h1m-3.7 .1h1m-.3 0h1m-.9 0h1m.2 0h1m.1 0h1m-.1 0h1m-.8 0h1m-3.9 .1h1m.1 0h1m.8 0h1m0 0h1m-6.3 .1h1m-.6 0h1m.3 0h1m-.3 0h1m-.9 0h1m.5 0h1m-1 0h1m-6.3 .1h1m-.5 0h1m.8 0h1m-.9 0h1m-.7 0h1m-.6 0h1m-.8 0h1m.1 0h1m-.8 0h1m.2 0h1m-.1 0h1m-8.4 .1h1m.1 0h1m0 0h1m.1 0h1m1 0h1m.2 0h1m-.3 0h1m-6.4 .1h1m-.4 0h1m.9 0h1m.9 0h1m-.7 0h1m0 0h1m-.9 0h1m-8.8 .1h1m0 0h1m-.9 0h1m-.1 0h1m-.6 0h1m1.3 0h1m-.7 0h1m1.2 0h1m-6.5 .1h1m-.8 0h1m-.5 0h1m-.3 0h1m-.5 0h1m.6 0h1m-.1 0h1m-.6 0h1m-4.2 .1h1m-.6 0h1m-.6 0h1m-1 0h1m-.4 0h1m-.9 0h1m.9 0h1m-.9 0h1m-7.1 .1h1m-.9 0h1m.2 0h1m-.7 0h1m-.2 0h1m-.9 0h1m1.2 0h1m-.4 0h1m.5 0h1m-.7 0h1m-7.6 .1h1m.9 0h1m-.9 0h1m-.3 0h1m-.9 0h1m-.7 0h1m0 0h1m-.4 0h1m-7.5 .1h1m1.4 0h1m-1 0h1m1.2 0h1m-.9 0h1m.1 0h1m.6 0h1m-.9 0h1m-1 0h1m-.6 0h1m-.3 0h1m-.6 0h1m-1 0h1m-9.8 .1h1m-.3 0h1m-.8 0h1m-.1 0h1m-.9 0h1m-1 0h1m-.9 0h1m-.1 0h1m.4 0h1m.6 0h1m2.3 0h1m-10.8 .1h1m-.6 0h1m-.9 0h1m-1 0h1m.1 0h1m-1 0h1m-.7 0h1m-.9 0h1m0 0h1m.2 0h1m1.3 0h1m-.8 0h1m-.4 0h1m-.7 0h1m-.7 0h1m.6 0h1m-.9 0h1m-.9 0h1m-10.1 .1h1m-.7 0h1m.1 0h1m-.7 0h1m0 0h1m-1 0h1m.1 0h1m-.3 0h1m-.6 0h1m-.7 0h1m-.4 0h1m-.9 0h1m.8 0h1m-7.9 .1h1m-.4 0h1m.3 0h1m-.9 0h1m0 0h1m-.9 0h1m-.2 0h1m.2 0h1m-.9 0h1m-1 0h1m-.3 0h1m-.9 0h1m-7.6 .1h1m-.9 0h1m.9 0h1m-.5 0h1m.6 0h1m-.7 0h1m-.5 0h1m-.5 0h1m-1 0h1m.1 0h1m-.8 0h1m.3 0h1m-9.5 .1h1m-.3 0h1m1.4 0h1m-.7 0h1m-.7 0h1m.4 0h1m-1 0h1m-.4 0h1m-6.6 .1h1m-.9 0h1m.8 0h1m-.7 0h1m-.4 0h1m-.3 0h1m-.7 0h1m-.9 0h1m-1 0h1m-.2 0h1m-.7 0h1m-.6 0h1m.5 0h1m-.3 0h1m-.9 0h1m-.3 0h1m-9.8 .1h1m-.1 0h1m-.5 0h1m-.3 0h1m-.4 0h1m-.8 0h1m-.2 0h1m-.8 0h1m-.8 0h1m.1 0h1m-.9 0h1m.3 0h1m-1 0h1m-.9 0h1m0 0h1m-.9 0h1m-.8 0h1m-.9 0h1m-.9 0h1m-8.4 .1h1m-.1 0h1m-.1 0h1m.1 0h1m.8 0h1m-.5 0h1m.5 0h1m-1 0h1m-.9 0h1m-.5 0h1m.2 0h1m-.9 0h1m-9.6 .1h1m-.3 0h1m.2 0h1m-.2 0h1m-.7 0h1m-.6 0h1m0 0h1m.2 0h1m1.7 0h1m-.4 0h1m-10.4 .1h1m.5 0h1m-.9 0h1m-.1 0h1m-.9 0h1m-1 0h1m-.2 0h1m-.4 0h1m0 0h1m-.9 0h1m-.8 0h1m1.7 0h1m-.6 0h1m-.2 0h1m-8.8 .1h1m.7 0h1m.4 0h1m-.5 0h1m-.8 0h1m-.7 0h1m-.9 0h1m-.8 0h1m-.9 0h1m2.1 0h1m-.8 0h1m-9.9 .1h1m-.8 0h1m-.5 0h1m-.5 0h1m-.4 0h1m-.2 0h1m-1 0h1m-.7 0h1m-.8 0h1m-.5 0h1m.6 0h1m-.2 0h1m-.1 0h1m.1 0h1m-.3 0h1m-.9 0h1m-9.1 .1h1m-.3 0h1m-.4 0h1m-.8 0h1m-.4 0h1m-.3 0h1m.1 0h1m-.8 0h1m-1 0h1m0 0h1m-.3 0h1m-.1 0h1m-.2 0h1m-9.2 .1h1m0 0h1m.2 0h1m-.4 0h1m-.1 0h1m-.9 0h1m-.2 0h1m-.8 0h1m-.6 0h1m-.6 0h1m-.5 0h1m-1 0h1m-.8 0h1m-7.6 .1h1m-.7 0h1m-.8 0h1m.1 0h1m-.7 0h1m.6 0h1m-.3 0h1m-.2 0h1m-.4 0h1m-7.1 .1h1m-1 0h1m-.9 0h1m.6 0h1m.6 0h1m-.9 0h1m-.4 0h1m-.9 0h1m-.3 0h1m-1 0h1m0 0h1m-.9 0h1m0 0h1m-.6 0h1m-1 0h1m-.4 0h1m-.7 0h1m-.7 0h1m.2 0h1m-10.3 .1h1m0 0h1m-.3 0h1m2 0h1m-.4 0h1m-.7 0h1m.1 0h1m-.8 0h1m.4 0h1m-7 .1h1m-.6 0h1m0 0h1m-.5 0h1m-.9 0h1m-.9 0h1m-.9 0h1m-.8 0h1m-.3 0h1m.6 0h1m-6.4 .1h1m-.7 0h1m.6 0h1m-.8 0h1m.9 0h1m-.9 0h1m-1 0h1m-.4 0h1m.7 0h1m-8.3 .1h1m-.9 0h1m-.8 0h1m-.7 0h1m.4 0h1m-.9 0h1m-.7 0h1m-.4 0h1m-.9 0h1m-.4 0h1m.1 0h1m-.4 0h1m-.9 0h1m.4 0h1m-.4 0h1m-1 0h1m-.8 0h1m-7.1 .1h1m.4 0h1m2.1 0h1m0 0h1m-.7 0h1m-.8 0h1m-7.7 .1h1m-.1 0h1m-.1 0h1m-.3 0h1m-.7 0h1m-.5 0h1m-.7 0h1m.1 0h1m-.2 0h1m-.9 0h1m-.5 0h1m-.9 0h1m-7.8 .1h1m.2 0h1m-1 0h1m-.9 0h1m-.5 0h1m-.9 0h1m.3 0h1m-.6 0h1m.3 0h1m-1 0h1m-.9 0h1m.1 0h1m-7 .1h1m.8 0h1m.5 0h1m-.5 0h1m.2 0h1m-.9 0h1m-.5 0h1m.3 0h1m-8.2 .1h1m-.5 0h1m.6 0h1m-.3 0h1m-.7 0h1m-.5 0h1m-.3 0h1m1.6 0h1m-6.5 .1h1m-.8 0h1m.7 0h1m3.1 0h1m-8.3 .1h1m-.7 0h1m-.5 0h1m0 0h1m0 0h1m-.1 0h1m2.3 0h1m-6 .1h1m-.8 0h1m1.4 0h1m-3.6 .1h1m-.6 0h1m-.8 0h1m-.7 0h1m-.8 0h1m-.6 0h1m-.7 .1h1m-2.9 .1h1m1 0h1m-.6 0h1m-3.3 .1h1m-.9 0h1m-.3 0h1m-.1 0h1m-.9 0h1m-.3 .1h1m-1 0h1m-2.2 .1h1m-.2 0h1m-1.8 .1h1m-1 0h1m-1 0h1m-.9 0h1m0 .1h1m-2.7 .1h1"/>
</g>
<path d="M50.8 643.7L53.0 636.0L56.0 622.0L59.0 607.0L61.5 594.0L63.1 587.4L64.5 592.0L66.0 612.0L67.3 632.0L68.1 642.0L70.0 643.7Z" fill="#9c9c9c" stroke="#333" stroke-width="0.8" stroke-linejoin="round"/>
<path d="M137.3 643.7L138.0 628.0L138.3 619.8L139.2 613.0L140.2 606.9L141.5 594.0L142.6 587.4L143.8 598.0L145.2 614.0L147.4 632.8L150.3 641.5L156.7 643.7Z" fill="#9c9c9c" stroke="#333" stroke-width="0.8" stroke-linejoin="round"/>
<path d="M138.2 631L139.2 621" stroke="#111" stroke-width="1"/>
<path d="M213.7 643.7L219.4 637.2L222.3 625.6L224.5 606.9L226.4 589.5L228.1 599.6L230.3 618.4L232.4 632.8L234.6 641.5L238.2 643.7Z" fill="#9c9c9c" stroke="#777" stroke-width="0.5" stroke-linejoin="round"/>
<path d="M212.2 643.7L219.4 638.6L223.0 628.5L225.2 614.0L226.6 609.0L228.1 604.7L230.3 618.4L232.4 632.8L233.9 637.9L236.0 636.4L238.9 637.2L241.1 625.6L243.2 619.8L245.4 606.9L247.6 588.1L249.7 596.8L251.2 601.8L252.6 608.3L254.8 615.5L256.2 617.0L258.4 625.6L260.6 635.7L262.7 642.2L265.6 643.7" fill="none" stroke="#111" stroke-width="0.85" stroke-linejoin="round"/>
<path d="M300.4 643.0L306.2 637.2L308.8 621.3L310.2 599.6L311.3 588.1L312.0 606.9L312.7 628.5L314.1 640.0L317.0 643.7Z" fill="#8c8c8c" stroke="#666" stroke-width="0.5" stroke-linejoin="round"/>
<path d="M293.2 643.7L303.3 640.0L307.6 632.8L309.8 619.8L312.0 607.6L313.4 618.4L314.9 632.8L317.7 640.0L321.4 642.2L324.2 640.0L326.4 632.8L327.8 606.9L329.3 593.9L330.7 592.4L332.2 588.1L333.3 587.4L334.3 593.9L335.8 614.0L337.2 635.7L339.4 642.9L343.7 643.7" fill="none" stroke="#222" stroke-width="0.8" stroke-linejoin="round"/>
<path d="M374.1 643.7L378.4 635.7L381.3 614.0L383.5 595.3L384.5 587.4L385.6 592.4L387.1 611.2L388.5 621.3L389.7 612.6L390.7 604.0L391.4 635.7L392.9 641.5L395.0 643.7Z" fill="#dadada" stroke="#b0b0b0" stroke-width="0.5" stroke-linejoin="round"/>
<path d="M375.5 643.7L379.9 638.6L382.8 630.0L385.6 622.7L387.1 618.4L388.5 599.6L389.7 588.1L390.7 588.8L392.1 606.9L393.6 632.8L394.6 641.5L397.0 643.7L403.0 643.7L405.8 638.6L408.7 632.8L411.6 627.8L413.8 635.7L415.2 642.2L417.4 643.7" fill="none" stroke="#5a5a5a" stroke-width="0.7" stroke-dasharray="1.6 .7" stroke-linejoin="round"/>
<path d="M50.1 726.4L53.0 723.5L55.9 713.4L58.0 696.1L60.2 675.9L61.6 671.5L63.1 678.8L65.3 700.4L67.4 717.7L69.6 725.7L71.7 727.1Z" fill="#9c9c9c" stroke="#222" stroke-width="0.85" stroke-linejoin="round"/>
<path d="M138.7 727.1L138.7 703.3L139.6 702.0L140.9 699.0L143.0 696.1L145.2 688.9L146.6 681.6L147.4 688.9L148.8 703.3L150.3 720.6L151.7 727.1Z" fill="#9c9c9c" stroke="#777" stroke-width="0.4" stroke-linejoin="round"/>
<path d="M138.6 727.1L139.1 670.8L139.6 690.0L140.2 696.1L142.3 694.6L143.8 696.1L145.2 680.2L146.4 676.6L147.4 680.2L148.4 697.5L149.5 714.8L151.0 725.7L152.5 727.1" fill="none" stroke="#111" stroke-width="0.8" stroke-linejoin="round"/>
<path d="M213.7 727.1L219.4 720.6L222.3 707.6L224.5 688.9L226.4 672.3L228.1 674.4L229.2 681.6L230.3 697.5L231.7 711.9L233.9 722.0L236.0 726.4L238.0 727.1Z" fill="#9c9c9c" stroke="#777" stroke-width="0.5" stroke-linejoin="round"/>
<path d="M211.5 726.4L216.5 725.7L220.9 720.6L225.2 712.0L228.1 704.7L230.3 709.0L232.4 714.1L234.6 706.2L236.5 699.0L237.5 693.2L238.9 680.2L240.4 675.9L241.8 670.8L242.8 675.9L244.0 683.1L245.1 681.6L246.8 686.7L248.3 684.5L250.0 688.9L251.9 697.5L253.3 701.1L254.8 693.2L256.2 694.6L257.7 700.4L259.1 714.8L260.6 723.5L262.7 727.1" fill="none" stroke="#111" stroke-width="0.85" stroke-linejoin="round"/>
<path d="M303.0 725.8L306.5 721.0L308.5 712.0L310.0 690.0L311.2 675.0L312.3 670.3L313.2 676.0L314.2 695.0L315.3 712.0L316.5 722.0L318.5 725.8Z" fill="#a4a4a4" stroke="#777" stroke-width="0.4" stroke-linejoin="round"/>
<path d="M299.0 725.8L304.8 722.9L307.6 715.7L309.4 701.3L310.8 679.6L312.3 670.3L313.4 679.6L314.6 701.3L315.6 715.7L317.0 723.7L319.2 725.8" fill="none" stroke="#333" stroke-width="0.7" stroke-linejoin="round"/>
<path d="M375.5 727.4L378.4 719.5L380.6 699.3L382.0 677.6L383.2 669.0L384.2 677.6L385.6 699.3L387.1 705.1L388.5 692.1L389.7 673.3L390.6 668.3L391.4 677.6L392.9 706.5L394.3 723.8L395.7 727.4Z" fill="#dadada" stroke="#b0b0b0" stroke-width="0.5" stroke-linejoin="round"/>
<path d="M375.5 727.4L379.1 721.0L381.3 712.3L382.8 709.4L384.9 710.8L386.4 716.6L387.8 706.5L389.2 684.9L390.6 668.3L391.7 677.6L392.9 699.3L394.0 716.6L395.0 725.2L396.5 727.4" fill="none" stroke="#5a5a5a" stroke-width="0.7" stroke-dasharray="1.6 .7" stroke-linejoin="round"/>
<path d="M24 89H86.5M31.4 89v1M33.9 89v1M35.8 89v1M37.2 89v1M38.3 89v1M39.3 89v1M40.1 89v1M40.9 89v1M45.9 89v1M48.5 89v1M50.3 89v1M51.7 89v1M52.8 89v1M53.8 89v1M54.7 89v1M55.4 89v1M60.4 89v1M63 89v1M64.8 89v1M66.2 89v1M67.4 89v1M68.4 89v1M69.2 89v1M69.9 89v1M75 89v1M77.5 89v1M79.4 89v1M80.8 89v1M81.9 89v1M82.9 89v1M83.7 89v1M84.5 89v1M24 80.6h-.8M24 78.1h-.8M24 76.2h-.8M24 74.8h-.8M24 73.7h-.8M24 72.7h-.8M24 71.9h-.8M24 71.1h-.8M24 66.1h-.8M24 63.5h-.8M24 61.7h-.8M24 60.3h-.8M24 59.2h-.8M24 58.2h-.8M24 57.3h-.8M24 56.6h-.8M24 51.6h-.8M24 49h-.8M24 47.2h-.8M24 45.8h-.8M24 44.6h-.8M24 43.6h-.8M24 42.8h-.8M24 42.1h-.8M24 37h-.8M24 34.5h-.8M24 32.6h-.8M24 31.2h-.8M24 30.1h-.8M24 29.1h-.8M24 28.3h-.8M24 27.5h-.8M131.3 88.4H194.7M138.7 88.4v1M141.3 88.4v1M143.2 88.4v1M144.6 88.4v1M145.8 88.4v1M146.8 88.4v1M147.6 88.4v1M148.4 88.4v1M153.5 88.4v1M156.1 88.4v1M157.9 88.4v1M159.3 88.4v1M160.5 88.4v1M161.5 88.4v1M162.4 88.4v1M163.1 88.4v1M168.2 88.4v1M170.8 88.4v1M172.7 88.4v1M174.1 88.4v1M175.3 88.4v1M176.2 88.4v1M177.1 88.4v1M177.9 88.4v1M183 88.4v1M185.6 88.4v1M187.4 88.4v1M188.8 88.4v1M190 88.4v1M191 88.4v1M191.8 88.4v1M192.6 88.4v1M131.3 80h-.8M131.3 77.4h-.8M131.3 75.5h-.8M131.3 74.1h-.8M131.3 72.9h-.8M131.3 71.9h-.8M131.3 71.1h-.8M131.3 70.3h-.8M131.3 65.2h-.8M131.3 62.6h-.8M131.3 60.8h-.8M131.3 59.4h-.8M131.3 58.2h-.8M131.3 57.2h-.8M131.3 56.3h-.8M131.3 55.6h-.8M131.3 50.5h-.8M131.3 47.9h-.8M131.3 46h-.8M131.3 44.6h-.8M131.3 43.4h-.8M131.3 42.5h-.8M131.3 41.6h-.8M131.3 40.8h-.8M131.3 35.7h-.8M131.3 33.1h-.8M131.3 31.3h-.8M131.3 29.9h-.8M131.3 28.7h-.8M131.3 27.7h-.8M131.3 26.9h-.8M131.3 26.1h-.8M237.3 88.8H300.8M244.7 88.8v1M247.3 88.8v1M249.2 88.8v1M250.6 88.8v1M251.8 88.8v1M252.8 88.8v1M253.6 88.8v1M254.4 88.8v1M259.5 88.8v1M262.1 88.8v1M264 88.8v1M265.4 88.8v1M266.6 88.8v1M267.5 88.8v1M268.4 88.8v1M269.2 88.8v1M274.3 88.8v1M276.9 88.8v1M278.7 88.8v1M280.2 88.8v1M281.3 88.8v1M282.3 88.8v1M283.2 88.8v1M283.9 88.8v1M289 88.8v1M291.6 88.8v1M293.5 88.8v1M294.9 88.8v1M296.1 88.8v1M297.1 88.8v1M297.9 88.8v1M298.7 88.8v1M237.3 80.4h-.8M237.3 77.8h-.8M237.3 75.9h-.8M237.3 74.5h-.8M237.3 73.3h-.8M237.3 72.3h-.8M237.3 71.5h-.8M237.3 70.7h-.8M237.3 65.6h-.8M237.3 63h-.8M237.3 61.1h-.8M237.3 59.7h-.8M237.3 58.5h-.8M237.3 57.6h-.8M237.3 56.7h-.8M237.3 55.9h-.8M237.3 50.8h-.8M237.3 48.2h-.8M237.3 46.4h-.8M237.3 44.9h-.8M237.3 43.8h-.8M237.3 42.8h-.8M237.3 41.9h-.8M237.3 41.2h-.8M237.3 36.1h-.8M237.3 33.5h-.8M237.3 31.6h-.8M237.3 30.2h-.8M237.3 29h-.8M237.3 28h-.8M237.3 27.2h-.8M237.3 26.4h-.8M342.3 88.8H405.1M349.7 88.8v1M352.3 88.8v1M354.1 88.8v1M355.5 88.8v1M356.7 88.8v1M357.6 88.8v1M358.5 88.8v1M359.2 88.8v1M364.3 88.8v1M366.9 88.8v1M368.7 88.8v1M370.1 88.8v1M371.3 88.8v1M372.2 88.8v1M373.1 88.8v1M373.8 88.8v1M378.9 88.8v1M381.5 88.8v1M383.3 88.8v1M384.7 88.8v1M385.9 88.8v1M386.9 88.8v1M387.7 88.8v1M388.4 88.8v1M393.5 88.8v1M396.1 88.8v1M397.9 88.8v1M399.3 88.8v1M400.5 88.8v1M401.5 88.8v1M402.3 88.8v1M403.1 88.8v1M342.3 80.4h-.8M342.3 77.8h-.8M342.3 76h-.8M342.3 74.6h-.8M342.3 73.4h-.8M342.3 72.5h-.8M342.3 71.6h-.8M342.3 70.9h-.8M342.3 65.8h-.8M342.3 63.2h-.8M342.3 61.4h-.8M342.3 60h-.8M342.3 58.8h-.8M342.3 57.9h-.8M342.3 57h-.8M342.3 56.3h-.8M342.3 51.2h-.8M342.3 48.6h-.8M342.3 46.8h-.8M342.3 45.4h-.8M342.3 44.2h-.8M342.3 43.2h-.8M342.3 42.4h-.8M342.3 41.7h-.8M342.3 36.6h-.8M342.3 34h-.8M342.3 32.2h-.8M342.3 30.8h-.8M342.3 29.6h-.8M342.3 28.6h-.8M342.3 27.8h-.8M342.3 27h-.8M448.1 88.4H511.5M455.5 88.4v1M458.1 88.4v1M460 88.4v1M461.4 88.4v1M462.6 88.4v1M463.6 88.4v1M464.4 88.4v1M465.2 88.4v1M470.3 88.4v1M472.9 88.4v1M474.7 88.4v1M476.1 88.4v1M477.3 88.4v1M478.3 88.4v1M479.2 88.4v1M479.9 88.4v1M485 88.4v1M487.6 88.4v1M489.5 88.4v1M490.9 88.4v1M492.1 88.4v1M493 88.4v1M493.9 88.4v1M494.7 88.4v1M499.8 88.4v1M502.4 88.4v1M504.2 88.4v1M505.6 88.4v1M506.8 88.4v1M507.8 88.4v1M508.6 88.4v1M509.4 88.4v1M448.1 80h-.8M448.1 77.4h-.8M448.1 75.5h-.8M448.1 74.1h-.8M448.1 72.9h-.8M448.1 71.9h-.8M448.1 71.1h-.8M448.1 70.3h-.8M448.1 65.2h-.8M448.1 62.6h-.8M448.1 60.8h-.8M448.1 59.4h-.8M448.1 58.2h-.8M448.1 57.2h-.8M448.1 56.3h-.8M448.1 55.6h-.8M448.1 50.5h-.8M448.1 47.9h-.8M448.1 46h-.8M448.1 44.6h-.8M448.1 43.4h-.8M448.1 42.5h-.8M448.1 41.6h-.8M448.1 40.8h-.8M448.1 35.7h-.8M448.1 33.1h-.8M448.1 31.3h-.8M448.1 29.9h-.8M448.1 28.7h-.8M448.1 27.7h-.8M448.1 26.9h-.8M448.1 26.1h-.8M26 203.8H89.2M33.4 203.8v1M36 203.8v1M37.8 203.8v1M39.3 203.8v1M40.4 203.8v1M41.4 203.8v1M42.3 203.8v1M43 203.8v1M48.1 203.8v1M50.7 203.8v1M52.5 203.8v1M54 203.8v1M55.1 203.8v1M56.1 203.8v1M57 203.8v1M57.7 203.8v1M62.8 203.8v1M65.4 203.8v1M67.2 203.8v1M68.7 203.8v1M69.8 203.8v1M70.8 203.8v1M71.7 203.8v1M72.4 203.8v1M77.5 203.8v1M80.1 203.8v1M81.9 203.8v1M83.4 203.8v1M84.5 203.8v1M85.5 203.8v1M86.4 203.8v1M87.1 203.8v1M26 195.4h-.8M26 192.8h-.8M26 191h-.8M26 189.5h-.8M26 188.4h-.8M26 187.4h-.8M26 186.5h-.8M26 185.8h-.8M26 180.7h-.8M26 178.1h-.8M26 176.3h-.8M26 174.8h-.8M26 173.7h-.8M26 172.7h-.8M26 171.8h-.8M26 171.1h-.8M26 166h-.8M26 163.4h-.8M26 161.6h-.8M26 160.1h-.8M26 159h-.8M26 158h-.8M26 157.1h-.8M26 156.4h-.8M26 151.3h-.8M26 148.7h-.8M26 146.9h-.8M26 145.4h-.8M26 144.3h-.8M26 143.3h-.8M26 142.4h-.8M26 141.7h-.8M131.4 203.4H194.4M138.8 203.4v1M141.4 203.4v1M143.2 203.4v1M144.6 203.4v1M145.8 203.4v1M146.8 203.4v1M147.6 203.4v1M148.4 203.4v1M153.5 203.4v1M156 203.4v1M157.9 203.4v1M159.3 203.4v1M160.5 203.4v1M161.4 203.4v1M162.3 203.4v1M163 203.4v1M168.1 203.4v1M170.7 203.4v1M172.5 203.4v1M173.9 203.4v1M175.1 203.4v1M176.1 203.4v1M176.9 203.4v1M177.7 203.4v1M182.8 203.4v1M185.3 203.4v1M187.2 203.4v1M188.6 203.4v1M189.8 203.4v1M190.7 203.4v1M191.6 203.4v1M192.3 203.4v1M131.4 195h-.8M131.4 192.4h-.8M131.4 190.6h-.8M131.4 189.2h-.8M131.4 188h-.8M131.4 187h-.8M131.4 186.2h-.8M131.4 185.4h-.8M131.4 180.3h-.8M131.4 177.8h-.8M131.4 175.9h-.8M131.4 174.5h-.8M131.4 173.3h-.8M131.4 172.4h-.8M131.4 171.5h-.8M131.4 170.8h-.8M131.4 165.7h-.8M131.4 163.1h-.8M131.4 161.3h-.8M131.4 159.9h-.8M131.4 158.7h-.8M131.4 157.7h-.8M131.4 156.9h-.8M131.4 156.1h-.8M131.4 151h-.8M131.4 148.5h-.8M131.4 146.6h-.8M131.4 145.2h-.8M131.4 144h-.8M131.4 143.1h-.8M131.4 142.2h-.8M131.4 141.5h-.8M237 203.4H300M244.4 203.4v1M247 203.4v1M248.8 203.4v1M250.2 203.4v1M251.4 203.4v1M252.4 203.4v1M253.2 203.4v1M254 203.4v1M259.1 203.4v1M261.6 203.4v1M263.5 203.4v1M264.9 203.4v1M266.1 203.4v1M267 203.4v1M267.9 203.4v1M268.6 203.4v1M273.7 203.4v1M276.3 203.4v1M278.1 203.4v1M279.5 203.4v1M280.7 203.4v1M281.7 203.4v1M282.5 203.4v1M283.3 203.4v1M288.4 203.4v1M290.9 203.4v1M292.8 203.4v1M294.2 203.4v1M295.4 203.4v1M296.3 203.4v1M297.2 203.4v1M297.9 203.4v1M237 195h-.8M237 192.4h-.8M237 190.6h-.8M237 189.2h-.8M237 188h-.8M237 187h-.8M237 186.2h-.8M237 185.4h-.8M237 180.3h-.8M237 177.8h-.8M237 175.9h-.8M237 174.5h-.8M237 173.3h-.8M237 172.4h-.8M237 171.5h-.8M237 170.8h-.8M237 165.7h-.8M237 163.1h-.8M237 161.3h-.8M237 159.9h-.8M237 158.7h-.8M237 157.7h-.8M237 156.9h-.8M237 156.1h-.8M237 151h-.8M237 148.5h-.8M237 146.6h-.8M237 145.2h-.8M237 144h-.8M237 143.1h-.8M237 142.2h-.8M237 141.5h-.8M343.8 203.4H406.2M351.2 203.4v1M353.7 203.4v1M355.5 203.4v1M356.9 203.4v1M358.1 203.4v1M359.1 203.4v1M359.9 203.4v1M360.6 203.4v1M365.7 203.4v1M368.2 203.4v1M370 203.4v1M371.5 203.4v1M372.6 203.4v1M373.6 203.4v1M374.4 203.4v1M375.2 203.4v1M380.2 203.4v1M382.7 203.4v1M384.6 203.4v1M386 203.4v1M387.1 203.4v1M388.1 203.4v1M388.9 203.4v1M389.7 203.4v1M394.7 203.4v1M397.3 203.4v1M399.1 203.4v1M400.5 203.4v1M401.6 203.4v1M402.6 203.4v1M403.4 203.4v1M404.2 203.4v1M343.8 195h-.8M343.8 192.5h-.8M343.8 190.7h-.8M343.8 189.3h-.8M343.8 188.1h-.8M343.8 187.1h-.8M343.8 186.3h-.8M343.8 185.6h-.8M343.8 180.5h-.8M343.8 178h-.8M343.8 176.2h-.8M343.8 174.7h-.8M343.8 173.6h-.8M343.8 172.6h-.8M343.8 171.8h-.8M343.8 171h-.8M343.8 166h-.8M343.8 163.5h-.8M343.8 161.6h-.8M343.8 160.2h-.8M343.8 159.1h-.8M343.8 158.1h-.8M343.8 157.3h-.8M343.8 156.5h-.8M343.8 151.5h-.8M343.8 148.9h-.8M343.8 147.1h-.8M343.8 145.7h-.8M343.8 144.6h-.8M343.8 143.6h-.8M343.8 142.8h-.8M343.8 142h-.8M82.7 422.7H147.7M90.3 422.7v1M92.9 422.7v1M94.8 422.7v1M96.3 422.7v1M97.5 422.7v1M98.5 422.7v1M99.4 422.7v1M100.1 422.7v1M105.4 422.7v1M108 422.7v1M109.9 422.7v1M111.4 422.7v1M112.6 422.7v1M113.6 422.7v1M114.5 422.7v1M115.2 422.7v1M120.5 422.7v1M123.1 422.7v1M125 422.7v1M126.5 422.7v1M127.7 422.7v1M128.7 422.7v1M129.6 422.7v1M130.4 422.7v1M135.6 422.7v1M138.3 422.7v1M140.1 422.7v1M141.6 422.7v1M142.8 422.7v1M143.8 422.7v1M144.7 422.7v1M145.5 422.7v1M82.7 414.1h-.8M82.7 411.5h-.8M82.7 409.6h-.8M82.7 408.1h-.8M82.7 406.9h-.8M82.7 405.9h-.8M82.7 405h-.8M82.7 404.3h-.8M82.7 399h-.8M82.7 396.4h-.8M82.7 394.5h-.8M82.7 393h-.8M82.7 391.8h-.8M82.7 390.8h-.8M82.7 389.9h-.8M82.7 389.2h-.8M82.7 383.9h-.8M82.7 381.3h-.8M82.7 379.4h-.8M82.7 377.9h-.8M82.7 376.7h-.8M82.7 375.7h-.8M82.7 374.8h-.8M82.7 374h-.8M82.7 368.8h-.8M82.7 366.1h-.8M82.7 364.3h-.8M82.7 362.8h-.8M82.7 361.6h-.8M82.7 360.6h-.8M82.7 359.7h-.8M82.7 358.9h-.8M190.7 422.7H255.7M198.3 422.7v1M200.9 422.7v1M202.8 422.7v1M204.3 422.7v1M205.5 422.7v1M206.5 422.7v1M207.4 422.7v1M208.1 422.7v1M213.4 422.7v1M216 422.7v1M217.9 422.7v1M219.4 422.7v1M220.6 422.7v1M221.6 422.7v1M222.5 422.7v1M223.2 422.7v1M228.5 422.7v1M231.1 422.7v1M233 422.7v1M234.5 422.7v1M235.7 422.7v1M236.7 422.7v1M237.6 422.7v1M238.4 422.7v1M243.6 422.7v1M246.3 422.7v1M248.1 422.7v1M249.6 422.7v1M250.8 422.7v1M251.8 422.7v1M252.7 422.7v1M253.5 422.7v1M190.7 414.1h-.8M190.7 411.5h-.8M190.7 409.6h-.8M190.7 408.1h-.8M190.7 406.9h-.8M190.7 405.9h-.8M190.7 405h-.8M190.7 404.3h-.8M190.7 399h-.8M190.7 396.4h-.8M190.7 394.5h-.8M190.7 393h-.8M190.7 391.8h-.8M190.7 390.8h-.8M190.7 389.9h-.8M190.7 389.2h-.8M190.7 383.9h-.8M190.7 381.3h-.8M190.7 379.4h-.8M190.7 377.9h-.8M190.7 376.7h-.8M190.7 375.7h-.8M190.7 374.8h-.8M190.7 374h-.8M190.7 368.8h-.8M190.7 366.1h-.8M190.7 364.3h-.8M190.7 362.8h-.8M190.7 361.6h-.8M190.7 360.6h-.8M190.7 359.7h-.8M190.7 358.9h-.8M291.4 422.7H355.7M298.9 422.7v1M301.5 422.7v1M303.4 422.7v1M304.9 422.7v1M306 422.7v1M307 422.7v1M307.9 422.7v1M308.7 422.7v1M313.9 422.7v1M316.5 422.7v1M318.4 422.7v1M319.8 422.7v1M321 422.7v1M322 422.7v1M322.9 422.7v1M323.6 422.7v1M328.8 422.7v1M331.4 422.7v1M333.3 422.7v1M334.8 422.7v1M335.9 422.7v1M336.9 422.7v1M337.8 422.7v1M338.6 422.7v1M343.8 422.7v1M346.4 422.7v1M348.3 422.7v1M349.7 422.7v1M350.9 422.7v1M351.9 422.7v1M352.8 422.7v1M353.5 422.7v1M291.4 414.2h-.8M291.4 411.6h-.8M291.4 409.7h-.8M291.4 408.2h-.8M291.4 407.1h-.8M291.4 406.1h-.8M291.4 405.2h-.8M291.4 404.4h-.8M291.4 399.2h-.8M291.4 396.6h-.8M291.4 394.7h-.8M291.4 393.3h-.8M291.4 392.1h-.8M291.4 391.1h-.8M291.4 390.2h-.8M291.4 389.5h-.8M291.4 384.3h-.8M291.4 381.7h-.8M291.4 379.8h-.8M291.4 378.3h-.8M291.4 377.2h-.8M291.4 376.2h-.8M291.4 375.3h-.8M291.4 374.5h-.8M291.4 369.3h-.8M291.4 366.7h-.8M291.4 364.8h-.8M291.4 363.4h-.8M291.4 362.2h-.8M291.4 361.2h-.8M291.4 360.3h-.8M291.4 359.6h-.8M83 517.4H147.7M90.5 517.4v1M93.2 517.4v1M95.1 517.4v1M96.5 517.4v1M97.7 517.4v1M98.7 517.4v1M99.6 517.4v1M100.4 517.4v1M105.6 517.4v1M108.2 517.4v1M110.1 517.4v1M111.6 517.4v1M112.8 517.4v1M113.8 517.4v1M114.6 517.4v1M115.4 517.4v1M120.6 517.4v1M123.3 517.4v1M125.2 517.4v1M126.6 517.4v1M127.8 517.4v1M128.8 517.4v1M129.7 517.4v1M130.5 517.4v1M135.7 517.4v1M138.3 517.4v1M140.2 517.4v1M141.7 517.4v1M142.8 517.4v1M143.9 517.4v1M144.7 517.4v1M145.5 517.4v1M83 508.9h-.8M83 506.2h-.8M83 504.3h-.8M83 502.9h-.8M83 501.7h-.8M83 500.7h-.8M83 499.8h-.8M83 499h-.8M83 493.8h-.8M83 491.2h-.8M83 489.3h-.8M83 487.8h-.8M83 486.6h-.8M83 485.6h-.8M83 484.8h-.8M83 484h-.8M83 478.8h-.8M83 476.1h-.8M83 474.2h-.8M83 472.8h-.8M83 471.6h-.8M83 470.6h-.8M83 469.7h-.8M83 468.9h-.8M83 463.7h-.8M83 461.1h-.8M83 459.2h-.8M83 457.7h-.8M83 456.6h-.8M83 455.5h-.8M83 454.7h-.8M190.7 517H254.3M198.2 517v1M200.8 517v1M202.6 517v1M204 517v1M205.2 517v1M206.2 517v1M207.1 517v1M207.8 517v1M212.9 517v1M215.5 517v1M217.4 517v1M218.8 517v1M220 517v1M221 517v1M221.8 517v1M222.6 517v1M227.7 517v1M230.3 517v1M232.2 517v1M233.6 517v1M234.8 517v1M235.8 517v1M236.6 517v1M237.4 517v1M242.5 517v1M245.1 517v1M247 517v1M248.4 517v1M249.6 517v1M250.6 517v1M251.4 517v1M252.2 517v1M190.7 508.5h-.8M190.7 505.9h-.8M190.7 504.1h-.8M190.7 502.7h-.8M190.7 501.5h-.8M190.7 500.5h-.8M190.7 499.6h-.8M190.7 498.9h-.8M190.7 493.8h-.8M190.7 491.2h-.8M190.7 489.3h-.8M190.7 487.9h-.8M190.7 486.7h-.8M190.7 485.7h-.8M190.7 484.9h-.8M190.7 484.1h-.8M190.7 479h-.8M190.7 476.4h-.8M190.7 474.5h-.8M190.7 473.1h-.8M190.7 471.9h-.8M190.7 470.9h-.8M190.7 470.1h-.8M190.7 469.3h-.8M190.7 464.2h-.8M190.7 461.6h-.8M190.7 459.7h-.8M190.7 458.3h-.8M190.7 457.1h-.8M190.7 456.1h-.8M190.7 455.3h-.8M190.7 454.5h-.8M292.7 517.4H357.7M300.3 517.4v1M302.9 517.4v1M304.8 517.4v1M306.3 517.4v1M307.5 517.4v1M308.5 517.4v1M309.4 517.4v1M310.1 517.4v1M315.4 517.4v1M318 517.4v1M319.9 517.4v1M321.4 517.4v1M322.6 517.4v1M323.6 517.4v1M324.5 517.4v1M325.2 517.4v1M330.5 517.4v1M333.1 517.4v1M335 517.4v1M336.5 517.4v1M337.7 517.4v1M338.7 517.4v1M339.6 517.4v1M340.4 517.4v1M345.6 517.4v1M348.3 517.4v1M350.1 517.4v1M351.6 517.4v1M352.8 517.4v1M353.8 517.4v1M354.7 517.4v1M355.5 517.4v1M292.7 508.8h-.8M292.7 506.2h-.8M292.7 504.3h-.8M292.7 502.8h-.8M292.7 501.6h-.8M292.7 500.6h-.8M292.7 499.7h-.8M292.7 499h-.8M292.7 493.7h-.8M292.7 491.1h-.8M292.7 489.2h-.8M292.7 487.7h-.8M292.7 486.5h-.8M292.7 485.5h-.8M292.7 484.6h-.8M292.7 483.9h-.8M292.7 478.6h-.8M292.7 476h-.8M292.7 474.1h-.8M292.7 472.6h-.8M292.7 471.4h-.8M292.7 470.4h-.8M292.7 469.5h-.8M292.7 468.7h-.8M292.7 463.5h-.8M292.7 460.8h-.8M292.7 459h-.8M292.7 457.5h-.8M292.7 456.3h-.8M292.7 455.3h-.8" stroke="#888" stroke-width=".45" fill="none"/>
<g filter="url(#tx)"><text x="0" y="12.3" font-size="16.67" font-weight="bold" fill="#111" stroke="#111" stroke-width="0.6" textLength="12" lengthAdjust="spacingAndGlyphs">A</text>
<text x="40" y="15.4" font-size="9.31" font-weight="bold" fill="#111" stroke="#111" stroke-width="0.45" textLength="31" lengthAdjust="spacingAndGlyphs">All cells</text>
<text x="144.6" y="14.4" font-size="8.19" font-weight="bold" fill="#111" stroke="#111" stroke-width="0.45" textLength="32.1" lengthAdjust="spacingAndGlyphs">Singlets</text>
<text x="251" y="15.4" font-size="9.58" font-weight="bold" fill="#111" stroke="#111" stroke-width="0.45" textLength="34" lengthAdjust="spacingAndGlyphs">CD11b+</text>
<text x="356" y="15.4" font-size="9.58" font-weight="bold" fill="#111" stroke="#111" stroke-width="0.45" textLength="34" lengthAdjust="spacingAndGlyphs">CD115+</text>
<text transform="translate(7.3 65.9) rotate(-90)" font-size="9.86" font-weight="bold" fill="#111" stroke="#111" stroke-width="0.45" textLength="15.2" lengthAdjust="spacingAndGlyphs">SSC</text>
<text transform="translate(112.6 74.9) rotate(-90)" font-size="9.31" font-weight="bold" fill="#111" stroke="#111" stroke-width="0.45" textLength="33.3" lengthAdjust="spacingAndGlyphs">FSC (lin)</text>
<text transform="translate(219.1 65.4) rotate(-90)" font-size="10.14" font-weight="bold" fill="#111" stroke="#111" stroke-width="0.45" textLength="14.4" lengthAdjust="spacingAndGlyphs">SSC</text>
<text transform="translate(325.3 65.7) rotate(-90)" font-size="10.42" font-weight="bold" fill="#111" stroke="#111" stroke-width="0.45" textLength="15" lengthAdjust="spacingAndGlyphs">SSC</text>
<text transform="translate(430.2 65.1) rotate(-90)" font-size="10.00" font-weight="bold" fill="#111" stroke="#111" stroke-width="0.45" textLength="13.8" lengthAdjust="spacingAndGlyphs">7/4</text>
<text x="47.2" y="114.4" font-size="10.42" font-weight="bold" fill="#111" stroke="#111" stroke-width="0.45" textLength="14.8" lengthAdjust="spacingAndGlyphs">FSC</text>
<text x="139.7" y="114.2" font-size="10.00" font-weight="bold" fill="#111" stroke="#111" stroke-width="0.45" textLength="41.3" lengthAdjust="spacingAndGlyphs">FSC (area)</text>
<text x="250.3" y="114.3" font-size="9.44" font-weight="bold" fill="#111" stroke="#111" stroke-width="0.45" textLength="26.6" lengthAdjust="spacingAndGlyphs">CD11b</text>
<text x="357.1" y="113.9" font-size="9.44" font-weight="bold" fill="#111" stroke="#111" stroke-width="0.45" textLength="26.7" lengthAdjust="spacingAndGlyphs">CD115</text>
<text x="462.4" y="114.2" font-size="9.72" font-weight="bold" fill="#111" stroke="#111" stroke-width="0.15" textLength="23.1" lengthAdjust="spacingAndGlyphs">Ly-6G</text>
<text transform="translate(7.2 183) rotate(-90)" font-size="10.00" font-weight="bold" fill="#111" stroke="#111" stroke-width="0.45" textLength="15" lengthAdjust="spacingAndGlyphs">SSC</text>
<text transform="translate(113 182.7) rotate(-90)" font-size="9.58" font-weight="bold" fill="#111" stroke="#111" stroke-width="0.45" textLength="14.7" lengthAdjust="spacingAndGlyphs">SSC</text>
<text transform="translate(219.1 179.2) rotate(-90)" font-size="10.42" font-weight="bold" fill="#111" stroke="#111" stroke-width="0.45" textLength="13.5" lengthAdjust="spacingAndGlyphs">IAb</text>
<text transform="translate(324.7 179.8) rotate(-90)" font-size="9.58" font-weight="bold" fill="#111" stroke="#111" stroke-width="0.45" textLength="14.4" lengthAdjust="spacingAndGlyphs">7/4</text>
<text x="40.2" y="230.1" font-size="10.28" font-weight="bold" fill="#111" stroke="#111" stroke-width="0.45" textLength="21.1" lengthAdjust="spacingAndGlyphs">B220</text>
<text x="144.4" y="230.1" font-size="10.28" font-weight="bold" fill="#111" stroke="#111" stroke-width="0.45" textLength="16.9" lengthAdjust="spacingAndGlyphs">CD3</text>
<text x="250.8" y="230.1" font-size="10.28" font-weight="bold" fill="#111" stroke="#111" stroke-width="0.45" textLength="27.1" lengthAdjust="spacingAndGlyphs">CD11c</text>
<text x="355.6" y="229.6" font-size="10.28" font-weight="bold" fill="#111" stroke="#111" stroke-width="0.45" textLength="24.3" lengthAdjust="spacingAndGlyphs">Ly-6G</text>
<text x="428" y="172.9" font-size="9.60" font-weight="normal" fill="#111" stroke="#111" stroke-width="0.5" textLength="93" lengthAdjust="spacingAndGlyphs">CD11b<tspan font-size="5.5" dy="-3.5">+</tspan><tspan dy="3.5">/CD115</tspan><tspan font-size="5.5" dy="-3.5">+</tspan><tspan dy="3.5">/Ly6G</tspan><tspan font-size="5.5" dy="-3.5">-</tspan></text>
<text x="450.8" y="185" font-size="8.89" font-weight="bold" fill="#111" stroke="#111" stroke-width="0.45" textLength="47.1" lengthAdjust="spacingAndGlyphs">Monocytes</text>
<text x="37.7" y="282.6" font-size="8.80" font-weight="normal" fill="#111" stroke="#111" stroke-width="0.5" textLength="23.8" lengthAdjust="spacingAndGlyphs">B220<tspan font-size="5" dy="-3">+</tspan></text>
<text x="37.7" y="295" font-size="9.44" font-weight="bold" fill="#111" stroke="#111" stroke-width="0.45" textLength="25.8" lengthAdjust="spacingAndGlyphs">B cells</text>
<text x="136.5" y="282.6" font-size="8.80" font-weight="normal" fill="#111" stroke="#111" stroke-width="0.5" textLength="19.3" lengthAdjust="spacingAndGlyphs">CD3<tspan font-size="5" dy="-3">+</tspan></text>
<text x="137.7" y="295" font-size="9.44" font-weight="bold" fill="#111" stroke="#111" stroke-width="0.45" textLength="27.7" lengthAdjust="spacingAndGlyphs">T cells</text>
<text x="217.8" y="283.2" font-size="8.90" font-weight="normal" fill="#111" stroke="#111" stroke-width="0.5" textLength="93" lengthAdjust="spacingAndGlyphs">CD11b<tspan font-size="5" dy="-3.2">+</tspan><tspan dy="3.2">/IAb</tspan><tspan font-size="5" dy="-3.2">Hi</tspan><tspan dy="3.2">/CD11c</tspan><tspan font-size="5" dy="-3.2">Hi</tspan></text>
<text x="254" y="295.3" font-size="9.31" font-weight="bold" fill="#111" stroke="#111" stroke-width="0.45" textLength="15.8" lengthAdjust="spacingAndGlyphs">DCs</text>
<text x="326" y="283.2" font-size="8.90" font-weight="normal" fill="#111" stroke="#111" stroke-width="0.5" textLength="83.4" lengthAdjust="spacingAndGlyphs">CD11b<tspan font-size="5" dy="-3.2">+</tspan><tspan dy="3.2">/7/4</tspan><tspan font-size="5" dy="-3.2">+</tspan><tspan dy="3.2">/Ly-6G</tspan><tspan font-size="5" dy="-3.2">+</tspan></text>
<text x="341.7" y="295.3" font-size="9.58" font-weight="bold" fill="#111" stroke="#111" stroke-width="0.45" textLength="50.8" lengthAdjust="spacingAndGlyphs">Neutrophils</text>
<text x="194.8" y="322.2" font-size="10.80" font-weight="normal" fill="#111" stroke="#111" stroke-width="0.4" textLength="94.2" lengthAdjust="spacingAndGlyphs">CD115<tspan font-size="6" dy="-3.8">+</tspan><tspan dy="3.8"> Monocytes</tspan></text>
<text x="98" y="347.1" font-size="10.28" font-weight="normal" fill="#111" stroke="#111" stroke-width="0.45" textLength="24.3" lengthAdjust="spacingAndGlyphs">Blood</text>
<text x="193" y="347.6" font-size="10.00" font-weight="normal" fill="#111" stroke="#111" stroke-width="0.45" textLength="57.8" lengthAdjust="spacingAndGlyphs">Bone Marrow</text>
<text x="302.5" y="346.8" font-size="10.14" font-weight="normal" fill="#111" stroke="#111" stroke-width="0.45" textLength="27.7" lengthAdjust="spacingAndGlyphs">Spleen</text>
<text x="32.2" y="357.8" font-size="18.06" font-weight="bold" fill="#111" stroke="#111" stroke-width="0.5" textLength="11.1" lengthAdjust="spacingAndGlyphs">B</text>
<text x="31.2" y="458" font-size="18.06" font-weight="bold" fill="#111" stroke="#111" stroke-width="0.5" textLength="12.5" lengthAdjust="spacingAndGlyphs">C</text>
<text transform="translate(60 398.7) rotate(-90)" font-size="12.22" font-weight="bold" fill="#111" stroke="#111" stroke-width="0.45" textLength="13.7" lengthAdjust="spacingAndGlyphs">7/4</text>
<text transform="translate(58.7 494.5) rotate(-90)" font-size="12.08" font-weight="bold" fill="#111" stroke="#111" stroke-width="0.45" textLength="14.5" lengthAdjust="spacingAndGlyphs">7/4</text>
<text x="375" y="361.2" font-size="11.39" font-weight="normal" fill="#a3161f" stroke="#a3161f" stroke-width="0.35" textLength="17.3" lengthAdjust="spacingAndGlyphs">WT</text>
<text x="375" y="376.6" font-size="11.67" font-weight="normal" fill="#3d4c8e" stroke="#3d4c8e" stroke-width="0.3" textLength="48.5" lengthAdjust="spacingAndGlyphs">CD68-GFP</text>
<text x="376" y="463.8" font-size="10.80" font-weight="normal" fill="#a3161f" stroke="#a3161f" stroke-width="0.35" textLength="47.5" lengthAdjust="spacingAndGlyphs">CX<tspan font-size="6" dy="2.2">3</tspan><tspan dy="-2.2">CR1</tspan><tspan font-size="5.2" dy="-3.8">GFP</tspan></text>
<text x="376" y="480.4" font-size="10.97" font-weight="normal" fill="#3d4c8e" stroke="#3d4c8e" stroke-width="0.3" textLength="49.8" lengthAdjust="spacingAndGlyphs">CD68-GFP</text>
<text x="213.5" y="544.2" font-size="9.31" font-weight="bold" fill="#111" stroke="#111" stroke-width="0.45" textLength="15.5" lengthAdjust="spacingAndGlyphs">GFP</text>
<text x="-.6" y="589.6" font-size="18.06" font-weight="bold" fill="#111" stroke="#111" stroke-width="0.5" textLength="11.6" lengthAdjust="spacingAndGlyphs">D</text>
<text x="-.4" y="675.2" font-size="17.64" font-weight="bold" fill="#111" stroke="#111" stroke-width="0.5" textLength="10.9" lengthAdjust="spacingAndGlyphs">E</text>
<text x="49.5" y="572.4" font-size="9.80" font-weight="normal" fill="#111" stroke="#111" stroke-width="0.45" textLength="56" lengthAdjust="spacingAndGlyphs">Spleen B cells</text>
<text x="133" y="572.4" font-size="9.80" font-weight="normal" fill="#111" stroke="#111" stroke-width="0.45" textLength="55.8" lengthAdjust="spacingAndGlyphs">Spleen T cells</text>
<text x="217" y="572.4" font-size="9.80" font-weight="normal" fill="#111" stroke="#111" stroke-width="0.45" textLength="45.5" lengthAdjust="spacingAndGlyphs">Spleen DCs</text>
<text x="288.8" y="572.4" font-size="9.80" font-weight="normal" fill="#111" stroke="#111" stroke-width="0.45" textLength="65" lengthAdjust="spacingAndGlyphs">BM Neutrophils</text>
<text x="363" y="572.4" font-size="9.80" font-weight="normal" fill="#111" stroke="#111" stroke-width="0.45" textLength="75.8" lengthAdjust="spacingAndGlyphs">Blood Neutrophils</text>
<text transform="translate(19.4 628.2) rotate(-90)" font-size="10.00" font-weight="normal" fill="#111" stroke="#111" stroke-width="0.35" textLength="14.2" lengthAdjust="spacingAndGlyphs">SSC</text>
<text transform="translate(19.4 708.6) rotate(-90)" font-size="10.00" font-weight="normal" fill="#111" stroke="#111" stroke-width="0.35" textLength="14.4" lengthAdjust="spacingAndGlyphs">SSC</text>
<text x="454.6" y="592.7" font-size="10.14" font-weight="normal" fill="#111" stroke="#111" stroke-width="0.6" textLength="12.6" lengthAdjust="spacingAndGlyphs">WT</text>
<text x="454.6" y="605.8" font-size="10.56" font-weight="normal" fill="#111" stroke="#111" stroke-width="0.6" textLength="39.4" lengthAdjust="spacingAndGlyphs">CD68-GFP</text>
<text x="458.3" y="680.2" font-size="10.28" font-weight="normal" fill="#111" stroke="#111" stroke-width="0.6" textLength="14.1" lengthAdjust="spacingAndGlyphs">WT</text>
<text x="459" y="692.3" font-size="10.30" font-weight="normal" fill="#111" stroke="#111" stroke-width="0.55" textLength="40.3" lengthAdjust="spacingAndGlyphs">CX<tspan font-size="6" dy="2.2">3</tspan><tspan dy="-2.2">CR1</tspan><tspan font-size="5.2" dy="-3.6">GFP</tspan></text>
<text x="220.2" y="758.4" font-size="9.72" font-weight="bold" fill="#111" stroke="#111" stroke-width="0.45" textLength="15.4" lengthAdjust="spacingAndGlyphs">GFP</text>
<g fill="#8a8a8a" font-size="2.8"><text x="84.2" y="357.4">1.56</text><text x="146.2" y="357.4" text-anchor="end">83.4</text><text x="84.2" y="421.2">0.14</text><text x="146.2" y="421.2" text-anchor="end">6.02</text><text x="192.2" y="357.7">2.93</text><text x="254.2" y="357.7" text-anchor="end">71.2</text><text x="192.2" y="421.2">1.32</text><text x="254.2" y="421.2" text-anchor="end">24.5</text><text x="292.9" y="357.7">10.3</text><text x="354.2" y="357.7" text-anchor="end">65.3</text><text x="292.9" y="421.2">4.2</text><text x="354.2" y="421.2" text-anchor="end">1.62</text><text x="84.5" y="457.4">0.87</text><text x="146.2" y="457.4" text-anchor="end">51.7</text><text x="84.5" y="515.9">0.05</text><text x="146.2" y="515.9" text-anchor="end">7.2</text><text x="192.2" y="457.4">1.18</text><text x="252.8" y="457.4" text-anchor="end">65.3</text><text x="192.2" y="515.5">0.28</text><text x="252.8" y="515.5" text-anchor="end">3.86</text><text x="294.2" y="457.4">0.86</text><text x="356.2" y="457.4" text-anchor="end">74.6</text><text x="294.2" y="515.9">1.81</text><text x="356.2" y="515.9" text-anchor="end">16.6</text></g>
<g fill="#999" font-size="3"><text x="56" y="62.5">83.2</text><text x="83" y="188.5">44.1</text><text x="265" y="43.5">74.3</text><text x="397" y="64">57.8</text></g>
<g fill="#8a8a8a" font-size="2.7"><text x="22.7" y="90" text-anchor="end">0</text><rect x="23" y="88.8" width="1" height=".4"/><text x="22.7" y="69" text-anchor="end">10K</text><rect x="23" y="67.8" width="1" height=".4"/><text x="22.7" y="48" text-anchor="end">20K</text><rect x="23" y="46.8" width="1" height=".4"/><text x="22.7" y="27" text-anchor="end">30K</text><rect x="23" y="25.8" width="1" height=".4"/><text x="24.5" y="95" text-anchor="middle">0</text><rect x="24.3" y="89" width=".4" height="1"/><text x="44" y="95" text-anchor="middle">10K</text><rect x="43.8" y="89" width=".4" height="1"/><text x="63" y="95" text-anchor="middle">20K</text><rect x="62.8" y="89" width=".4" height="1"/><text x="82" y="95" text-anchor="middle">30K</text><rect x="81.8" y="89" width=".4" height="1"/><text x="130" y="89.4" text-anchor="end">0</text><rect x="130.3" y="88.2" width="1" height=".4"/><text x="130" y="68.4" text-anchor="end">10K</text><rect x="130.3" y="67.2" width="1" height=".4"/><text x="130" y="47.4" text-anchor="end">20K</text><rect x="130.3" y="46.2" width="1" height=".4"/><text x="130" y="26.4" text-anchor="end">30K</text><rect x="130.3" y="25.2" width="1" height=".4"/><text x="131.8" y="94.4" text-anchor="middle">0</text><rect x="131.6" y="88.4" width=".4" height="1"/><text x="151.3" y="94.4" text-anchor="middle">10K</text><rect x="151.1" y="88.4" width=".4" height="1"/><text x="170.3" y="94.4" text-anchor="middle">20K</text><rect x="170.1" y="88.4" width=".4" height="1"/><text x="189.3" y="94.4" text-anchor="middle">30K</text><rect x="189.1" y="88.4" width=".4" height="1"/><text x="236" y="89.8" text-anchor="end">0</text><rect x="236.3" y="88.6" width="1" height=".4"/><text x="236" y="68.8" text-anchor="end">10K</text><rect x="236.3" y="67.6" width="1" height=".4"/><text x="236" y="47.8" text-anchor="end">20K</text><rect x="236.3" y="46.6" width="1" height=".4"/><text x="236" y="26.8" text-anchor="end">30K</text><rect x="236.3" y="25.6" width="1" height=".4"/><text x="240.3" y="94.8" text-anchor="middle">0</text><rect x="240.1" y="88.8" width=".4" height="1"/><text x="253.3" y="94.8" text-anchor="middle">10³</text><rect x="253.1" y="88.8" width=".4" height="1"/><text x="267.3" y="94.8" text-anchor="middle">10⁴</text><rect x="267.1" y="88.8" width=".4" height="1"/><text x="281.3" y="94.8" text-anchor="middle">10⁵</text><rect x="281.1" y="88.8" width=".4" height="1"/><text x="341" y="89.8" text-anchor="end">0</text><rect x="341.3" y="88.6" width="1" height=".4"/><text x="341" y="68.8" text-anchor="end">10K</text><rect x="341.3" y="67.6" width="1" height=".4"/><text x="341" y="47.8" text-anchor="end">20K</text><rect x="341.3" y="46.6" width="1" height=".4"/><text x="341" y="26.8" text-anchor="end">30K</text><rect x="341.3" y="25.6" width="1" height=".4"/><text x="345.3" y="94.8" text-anchor="middle">0</text><rect x="345.1" y="88.8" width=".4" height="1"/><text x="358.3" y="94.8" text-anchor="middle">10³</text><rect x="358.1" y="88.8" width=".4" height="1"/><text x="372.3" y="94.8" text-anchor="middle">10⁴</text><rect x="372.1" y="88.8" width=".4" height="1"/><text x="386.3" y="94.8" text-anchor="middle">10⁵</text><rect x="386.1" y="88.8" width=".4" height="1"/><text x="446.8" y="85.4" text-anchor="end">0</text><rect x="447.1" y="84.2" width="1" height=".4"/><text x="446.8" y="69.4" text-anchor="end">10³</text><rect x="447.1" y="68.2" width="1" height=".4"/><text x="446.8" y="53.4" text-anchor="end">10⁴</text><rect x="447.1" y="52.2" width="1" height=".4"/><text x="446.8" y="37.4" text-anchor="end">10⁵</text><rect x="447.1" y="36.2" width="1" height=".4"/><text x="451.1" y="94.4" text-anchor="middle">0</text><rect x="450.9" y="88.4" width=".4" height="1"/><text x="464.1" y="94.4" text-anchor="middle">10³</text><rect x="463.9" y="88.4" width=".4" height="1"/><text x="478.1" y="94.4" text-anchor="middle">10⁴</text><rect x="477.9" y="88.4" width=".4" height="1"/><text x="492.1" y="94.4" text-anchor="middle">10⁵</text><rect x="491.9" y="88.4" width=".4" height="1"/><text x="24.7" y="204.8" text-anchor="end">0</text><rect x="25" y="203.6" width="1" height=".4"/><text x="24.7" y="183.8" text-anchor="end">10K</text><rect x="25" y="182.6" width="1" height=".4"/><text x="24.7" y="162.8" text-anchor="end">20K</text><rect x="25" y="161.6" width="1" height=".4"/><text x="24.7" y="141.8" text-anchor="end">30K</text><rect x="25" y="140.6" width="1" height=".4"/><text x="29" y="209.8" text-anchor="middle">0</text><rect x="28.8" y="203.8" width=".4" height="1"/><text x="42" y="209.8" text-anchor="middle">10³</text><rect x="41.8" y="203.8" width=".4" height="1"/><text x="56" y="209.8" text-anchor="middle">10⁴</text><rect x="55.8" y="203.8" width=".4" height="1"/><text x="70" y="209.8" text-anchor="middle">10⁵</text><rect x="69.8" y="203.8" width=".4" height="1"/><text x="130.1" y="204.4" text-anchor="end">0</text><rect x="130.4" y="203.2" width="1" height=".4"/><text x="130.1" y="183.4" text-anchor="end">10K</text><rect x="130.4" y="182.2" width="1" height=".4"/><text x="130.1" y="162.4" text-anchor="end">20K</text><rect x="130.4" y="161.2" width="1" height=".4"/><text x="130.1" y="141.4" text-anchor="end">30K</text><rect x="130.4" y="140.2" width="1" height=".4"/><text x="134.4" y="209.4" text-anchor="middle">0</text><rect x="134.2" y="203.4" width=".4" height="1"/><text x="147.4" y="209.4" text-anchor="middle">10³</text><rect x="147.2" y="203.4" width=".4" height="1"/><text x="161.4" y="209.4" text-anchor="middle">10⁴</text><rect x="161.2" y="203.4" width=".4" height="1"/><text x="175.4" y="209.4" text-anchor="middle">10⁵</text><rect x="175.2" y="203.4" width=".4" height="1"/><text x="235.7" y="199.4" text-anchor="end">0</text><rect x="236" y="198.2" width="1" height=".4"/><text x="235.7" y="183.4" text-anchor="end">10³</text><rect x="236" y="182.2" width="1" height=".4"/><text x="235.7" y="167.4" text-anchor="end">10⁴</text><rect x="236" y="166.2" width="1" height=".4"/><text x="235.7" y="151.4" text-anchor="end">10⁵</text><rect x="236" y="150.2" width="1" height=".4"/><text x="240" y="209.4" text-anchor="middle">0</text><rect x="239.8" y="203.4" width=".4" height="1"/><text x="253" y="209.4" text-anchor="middle">10³</text><rect x="252.8" y="203.4" width=".4" height="1"/><text x="267" y="209.4" text-anchor="middle">10⁴</text><rect x="266.8" y="203.4" width=".4" height="1"/><text x="281" y="209.4" text-anchor="middle">10⁵</text><rect x="280.8" y="203.4" width=".4" height="1"/><text x="342.5" y="199.4" text-anchor="end">0</text><rect x="342.8" y="198.2" width="1" height=".4"/><text x="342.5" y="183.4" text-anchor="end">10³</text><rect x="342.8" y="182.2" width="1" height=".4"/><text x="342.5" y="167.4" text-anchor="end">10⁴</text><rect x="342.8" y="166.2" width="1" height=".4"/><text x="342.5" y="151.4" text-anchor="end">10⁵</text><rect x="342.8" y="150.2" width="1" height=".4"/><text x="346.8" y="209.4" text-anchor="middle">0</text><rect x="346.6" y="203.4" width=".4" height="1"/><text x="359.8" y="209.4" text-anchor="middle">10³</text><rect x="359.6" y="203.4" width=".4" height="1"/><text x="373.8" y="209.4" text-anchor="middle">10⁴</text><rect x="373.6" y="203.4" width=".4" height="1"/><text x="387.8" y="209.4" text-anchor="middle">10⁵</text><rect x="387.6" y="203.4" width=".4" height="1"/><text x="81.4" y="408.7" text-anchor="end">0</text><rect x="81.7" y="407.5" width="1" height=".4"/><text x="81.4" y="396.7" text-anchor="end">10²</text><rect x="81.7" y="395.5" width="1" height=".4"/><text x="81.4" y="382.7" text-anchor="end">10³</text><rect x="81.7" y="381.5" width="1" height=".4"/><text x="81.4" y="368.7" text-anchor="end">10⁴</text><rect x="81.7" y="367.5" width="1" height=".4"/><text x="81.4" y="355.7" text-anchor="end">10⁵</text><rect x="81.7" y="354.5" width="1" height=".4"/><text x="86.7" y="428.7" text-anchor="middle">0</text><rect x="86.5" y="422.7" width=".4" height="1"/><text x="101.7" y="428.7" text-anchor="middle">10³</text><rect x="101.5" y="422.7" width=".4" height="1"/><text x="116.7" y="428.7" text-anchor="middle">10⁴</text><rect x="116.5" y="422.7" width=".4" height="1"/><text x="131.7" y="428.7" text-anchor="middle">10⁵</text><rect x="131.5" y="422.7" width=".4" height="1"/><text x="189.4" y="408.7" text-anchor="end">0</text><rect x="189.7" y="407.5" width="1" height=".4"/><text x="189.4" y="396.7" text-anchor="end">10²</text><rect x="189.7" y="395.5" width="1" height=".4"/><text x="189.4" y="382.7" text-anchor="end">10³</text><rect x="189.7" y="381.5" width="1" height=".4"/><text x="189.4" y="368.7" text-anchor="end">10⁴</text><rect x="189.7" y="367.5" width="1" height=".4"/><text x="189.4" y="355.7" text-anchor="end">10⁵</text><rect x="189.7" y="354.5" width="1" height=".4"/><text x="194.7" y="428.7" text-anchor="middle">0</text><rect x="194.5" y="422.7" width=".4" height="1"/><text x="209.7" y="428.7" text-anchor="middle">10³</text><rect x="209.5" y="422.7" width=".4" height="1"/><text x="224.7" y="428.7" text-anchor="middle">10⁴</text><rect x="224.5" y="422.7" width=".4" height="1"/><text x="239.7" y="428.7" text-anchor="middle">10⁵</text><rect x="239.5" y="422.7" width=".4" height="1"/><text x="290.1" y="408.7" text-anchor="end">0</text><rect x="290.4" y="407.5" width="1" height=".4"/><text x="290.1" y="396.7" text-anchor="end">10²</text><rect x="290.4" y="395.5" width="1" height=".4"/><text x="290.1" y="382.7" text-anchor="end">10³</text><rect x="290.4" y="381.5" width="1" height=".4"/><text x="290.1" y="368.7" text-anchor="end">10⁴</text><rect x="290.4" y="367.5" width="1" height=".4"/><text x="290.1" y="355.7" text-anchor="end">10⁵</text><rect x="290.4" y="354.5" width="1" height=".4"/><text x="295.4" y="428.7" text-anchor="middle">0</text><rect x="295.2" y="422.7" width=".4" height="1"/><text x="310.4" y="428.7" text-anchor="middle">10³</text><rect x="310.2" y="422.7" width=".4" height="1"/><text x="325.4" y="428.7" text-anchor="middle">10⁴</text><rect x="325.2" y="422.7" width=".4" height="1"/><text x="340.4" y="428.7" text-anchor="middle">10⁵</text><rect x="340.2" y="422.7" width=".4" height="1"/><text x="81.7" y="503.4" text-anchor="end">0</text><rect x="82" y="502.2" width="1" height=".4"/><text x="81.7" y="491.4" text-anchor="end">10²</text><rect x="82" y="490.2" width="1" height=".4"/><text x="81.7" y="477.4" text-anchor="end">10³</text><rect x="82" y="476.2" width="1" height=".4"/><text x="81.7" y="463.4" text-anchor="end">10⁴</text><rect x="82" y="462.2" width="1" height=".4"/><text x="81.7" y="450.4" text-anchor="end">10⁵</text><rect x="82" y="449.2" width="1" height=".4"/><text x="87" y="523.4" text-anchor="middle">0</text><rect x="86.8" y="517.4" width=".4" height="1"/><text x="102" y="523.4" text-anchor="middle">10³</text><rect x="101.8" y="517.4" width=".4" height="1"/><text x="117" y="523.4" text-anchor="middle">10⁴</text><rect x="116.8" y="517.4" width=".4" height="1"/><text x="132" y="523.4" text-anchor="middle">10⁵</text><rect x="131.8" y="517.4" width=".4" height="1"/><text x="189.4" y="503" text-anchor="end">0</text><rect x="189.7" y="501.8" width="1" height=".4"/><text x="189.4" y="491" text-anchor="end">10²</text><rect x="189.7" y="489.8" width="1" height=".4"/><text x="189.4" y="477" text-anchor="end">10³</text><rect x="189.7" y="475.8" width="1" height=".4"/><text x="189.4" y="463" text-anchor="end">10⁴</text><rect x="189.7" y="461.8" width="1" height=".4"/><text x="189.4" y="450" text-anchor="end">10⁵</text><rect x="189.7" y="448.8" width="1" height=".4"/><text x="194.7" y="523" text-anchor="middle">0</text><rect x="194.5" y="517" width=".4" height="1"/><text x="209.7" y="523" text-anchor="middle">10³</text><rect x="209.5" y="517" width=".4" height="1"/><text x="224.7" y="523" text-anchor="middle">10⁴</text><rect x="224.5" y="517" width=".4" height="1"/><text x="239.7" y="523" text-anchor="middle">10⁵</text><rect x="239.5" y="517" width=".4" height="1"/><text x="291.4" y="503.4" text-anchor="end">0</text><rect x="291.7" y="502.2" width="1" height=".4"/><text x="291.4" y="491.4" text-anchor="end">10²</text><rect x="291.7" y="490.2" width="1" height=".4"/><text x="291.4" y="477.4" text-anchor="end">10³</text><rect x="291.7" y="476.2" width="1" height=".4"/><text x="291.4" y="463.4" text-anchor="end">10⁴</text><rect x="291.7" y="462.2" width="1" height=".4"/><text x="291.4" y="450.4" text-anchor="end">10⁵</text><rect x="291.7" y="449.2" width="1" height=".4"/><text x="296.7" y="523.4" text-anchor="middle">0</text><rect x="296.5" y="517.4" width=".4" height="1"/><text x="311.7" y="523.4" text-anchor="middle">10³</text><rect x="311.5" y="517.4" width=".4" height="1"/><text x="326.7" y="523.4" text-anchor="middle">10⁴</text><rect x="326.5" y="517.4" width=".4" height="1"/><text x="341.7" y="523.4" text-anchor="middle">10⁵</text><rect x="341.5" y="517.4" width=".4" height="1"/><text x="48.1" y="645.1" text-anchor="end">0</text><rect x="48.4" y="643.9" width="1" height=".4"/><text x="48.1" y="633.7" text-anchor="end">20</text><rect x="48.4" y="632.5" width="1" height=".4"/><text x="48.1" y="622.3" text-anchor="end">40</text><rect x="48.4" y="621.1" width="1" height=".4"/><text x="48.1" y="610.9" text-anchor="end">60</text><rect x="48.4" y="609.7" width="1" height=".4"/><text x="48.1" y="599.5" text-anchor="end">80</text><rect x="48.4" y="598.3" width="1" height=".4"/><text x="48.1" y="588.1" text-anchor="end">100</text><rect x="48.4" y="586.9" width="1" height=".4"/><text x="53.4" y="650.1" text-anchor="middle">0</text><rect x="53.2" y="644.1" width=".4" height="1"/><text x="69.4" y="650.1" text-anchor="middle">10³</text><rect x="69.2" y="644.1" width=".4" height="1"/><text x="82.4" y="650.1" text-anchor="middle">10⁴</text><rect x="82.2" y="644.1" width=".4" height="1"/><text x="95.4" y="650.1" text-anchor="middle">10⁵</text><rect x="95.2" y="644.1" width=".4" height="1"/><text x="129.8" y="645.1" text-anchor="end">0</text><rect x="130.1" y="643.9" width="1" height=".4"/><text x="129.8" y="633.7" text-anchor="end">20</text><rect x="130.1" y="632.5" width="1" height=".4"/><text x="129.8" y="622.3" text-anchor="end">40</text><rect x="130.1" y="621.1" width="1" height=".4"/><text x="129.8" y="610.9" text-anchor="end">60</text><rect x="130.1" y="609.7" width="1" height=".4"/><text x="129.8" y="599.5" text-anchor="end">80</text><rect x="130.1" y="598.3" width="1" height=".4"/><text x="129.8" y="588.1" text-anchor="end">100</text><rect x="130.1" y="586.9" width="1" height=".4"/><text x="135.1" y="650.1" text-anchor="middle">0</text><rect x="134.9" y="644.1" width=".4" height="1"/><text x="151.1" y="650.1" text-anchor="middle">10³</text><rect x="150.9" y="644.1" width=".4" height="1"/><text x="164.1" y="650.1" text-anchor="middle">10⁴</text><rect x="163.9" y="644.1" width=".4" height="1"/><text x="177.1" y="650.1" text-anchor="middle">10⁵</text><rect x="176.9" y="644.1" width=".4" height="1"/><text x="210.2" y="645.1" text-anchor="end">0</text><rect x="210.5" y="643.9" width="1" height=".4"/><text x="210.2" y="633.7" text-anchor="end">20</text><rect x="210.5" y="632.5" width="1" height=".4"/><text x="210.2" y="622.3" text-anchor="end">40</text><rect x="210.5" y="621.1" width="1" height=".4"/><text x="210.2" y="610.9" text-anchor="end">60</text><rect x="210.5" y="609.7" width="1" height=".4"/><text x="210.2" y="599.5" text-anchor="end">80</text><rect x="210.5" y="598.3" width="1" height=".4"/><text x="210.2" y="588.1" text-anchor="end">100</text><rect x="210.5" y="586.9" width="1" height=".4"/><text x="215.5" y="650.1" text-anchor="middle">0</text><rect x="215.3" y="644.1" width=".4" height="1"/><text x="231.5" y="650.1" text-anchor="middle">10³</text><rect x="231.3" y="644.1" width=".4" height="1"/><text x="244.5" y="650.1" text-anchor="middle">10⁴</text><rect x="244.3" y="644.1" width=".4" height="1"/><text x="257.5" y="650.1" text-anchor="middle">10⁵</text><rect x="257.3" y="644.1" width=".4" height="1"/><text x="291.2" y="645.1" text-anchor="end">0</text><rect x="291.5" y="643.9" width="1" height=".4"/><text x="291.2" y="633.7" text-anchor="end">20</text><rect x="291.5" y="632.5" width="1" height=".4"/><text x="291.2" y="622.3" text-anchor="end">40</text><rect x="291.5" y="621.1" width="1" height=".4"/><text x="291.2" y="610.9" text-anchor="end">60</text><rect x="291.5" y="609.7" width="1" height=".4"/><text x="291.2" y="599.5" text-anchor="end">80</text><rect x="291.5" y="598.3" width="1" height=".4"/><text x="291.2" y="588.1" text-anchor="end">100</text><rect x="291.5" y="586.9" width="1" height=".4"/><text x="296.5" y="650.1" text-anchor="middle">0</text><rect x="296.3" y="644.1" width=".4" height="1"/><text x="312.5" y="650.1" text-anchor="middle">10³</text><rect x="312.3" y="644.1" width=".4" height="1"/><text x="325.5" y="650.1" text-anchor="middle">10⁴</text><rect x="325.3" y="644.1" width=".4" height="1"/><text x="338.5" y="650.1" text-anchor="middle">10⁵</text><rect x="338.3" y="644.1" width=".4" height="1"/><text x="368.8" y="645.4" text-anchor="end">0</text><rect x="369.1" y="644.2" width="1" height=".4"/><text x="368.8" y="634" text-anchor="end">20</text><rect x="369.1" y="632.8" width="1" height=".4"/><text x="368.8" y="622.6" text-anchor="end">40</text><rect x="369.1" y="621.4" width="1" height=".4"/><text x="368.8" y="611.2" text-anchor="end">60</text><rect x="369.1" y="610" width="1" height=".4"/><text x="368.8" y="599.8" text-anchor="end">80</text><rect x="369.1" y="598.6" width="1" height=".4"/><text x="368.8" y="588.4" text-anchor="end">100</text><rect x="369.1" y="587.2" width="1" height=".4"/><text x="374.1" y="650.4" text-anchor="middle">0</text><rect x="373.9" y="644.4" width=".4" height="1"/><text x="390.1" y="650.4" text-anchor="middle">10³</text><rect x="389.9" y="644.4" width=".4" height="1"/><text x="403.1" y="650.4" text-anchor="middle">10⁴</text><rect x="402.9" y="644.4" width=".4" height="1"/><text x="416.1" y="650.4" text-anchor="middle">10⁵</text><rect x="415.9" y="644.4" width=".4" height="1"/><text x="48.1" y="728.1" text-anchor="end">0</text><rect x="48.4" y="726.9" width="1" height=".4"/><text x="48.1" y="716.7" text-anchor="end">20</text><rect x="48.4" y="715.5" width="1" height=".4"/><text x="48.1" y="705.3" text-anchor="end">40</text><rect x="48.4" y="704.1" width="1" height=".4"/><text x="48.1" y="693.9" text-anchor="end">60</text><rect x="48.4" y="692.7" width="1" height=".4"/><text x="48.1" y="682.5" text-anchor="end">80</text><rect x="48.4" y="681.3" width="1" height=".4"/><text x="48.1" y="671.1" text-anchor="end">100</text><rect x="48.4" y="669.9" width="1" height=".4"/><text x="53.4" y="733.1" text-anchor="middle">0</text><rect x="53.2" y="727.1" width=".4" height="1"/><text x="69.4" y="733.1" text-anchor="middle">10³</text><rect x="69.2" y="727.1" width=".4" height="1"/><text x="82.4" y="733.1" text-anchor="middle">10⁴</text><rect x="82.2" y="727.1" width=".4" height="1"/><text x="95.4" y="733.1" text-anchor="middle">10⁵</text><rect x="95.2" y="727.1" width=".4" height="1"/><text x="130.9" y="728.1" text-anchor="end">0</text><rect x="131.2" y="726.9" width="1" height=".4"/><text x="130.9" y="716.7" text-anchor="end">20</text><rect x="131.2" y="715.5" width="1" height=".4"/><text x="130.9" y="705.3" text-anchor="end">40</text><rect x="131.2" y="704.1" width="1" height=".4"/><text x="130.9" y="693.9" text-anchor="end">60</text><rect x="131.2" y="692.7" width="1" height=".4"/><text x="130.9" y="682.5" text-anchor="end">80</text><rect x="131.2" y="681.3" width="1" height=".4"/><text x="130.9" y="671.1" text-anchor="end">100</text><rect x="131.2" y="669.9" width="1" height=".4"/><text x="136.2" y="733.1" text-anchor="middle">0</text><rect x="136" y="727.1" width=".4" height="1"/><text x="152.2" y="733.1" text-anchor="middle">10³</text><rect x="152" y="727.1" width=".4" height="1"/><text x="165.2" y="733.1" text-anchor="middle">10⁴</text><rect x="165" y="727.1" width=".4" height="1"/><text x="178.2" y="733.1" text-anchor="middle">10⁵</text><rect x="178" y="727.1" width=".4" height="1"/><text x="210.9" y="728.1" text-anchor="end">0</text><rect x="211.2" y="726.9" width="1" height=".4"/><text x="210.9" y="716.7" text-anchor="end">20</text><rect x="211.2" y="715.5" width="1" height=".4"/><text x="210.9" y="705.3" text-anchor="end">40</text><rect x="211.2" y="704.1" width="1" height=".4"/><text x="210.9" y="693.9" text-anchor="end">60</text><rect x="211.2" y="692.7" width="1" height=".4"/><text x="210.9" y="682.5" text-anchor="end">80</text><rect x="211.2" y="681.3" width="1" height=".4"/><text x="210.9" y="671.1" text-anchor="end">100</text><rect x="211.2" y="669.9" width="1" height=".4"/><text x="216.2" y="733.1" text-anchor="middle">0</text><rect x="216" y="727.1" width=".4" height="1"/><text x="232.2" y="733.1" text-anchor="middle">10³</text><rect x="232" y="727.1" width=".4" height="1"/><text x="245.2" y="733.1" text-anchor="middle">10⁴</text><rect x="245" y="727.1" width=".4" height="1"/><text x="258.2" y="733.1" text-anchor="middle">10⁵</text><rect x="258" y="727.1" width=".4" height="1"/><text x="291.2" y="726.8" text-anchor="end">0</text><rect x="291.5" y="725.6" width="1" height=".4"/><text x="291.2" y="715.4" text-anchor="end">20</text><rect x="291.5" y="714.2" width="1" height=".4"/><text x="291.2" y="704" text-anchor="end">40</text><rect x="291.5" y="702.8" width="1" height=".4"/><text x="291.2" y="692.6" text-anchor="end">60</text><rect x="291.5" y="691.4" width="1" height=".4"/><text x="291.2" y="681.2" text-anchor="end">80</text><rect x="291.5" y="680" width="1" height=".4"/><text x="291.2" y="669.8" text-anchor="end">100</text><rect x="291.5" y="668.6" width="1" height=".4"/><text x="296.5" y="731.8" text-anchor="middle">0</text><rect x="296.3" y="725.8" width=".4" height="1"/><text x="312.5" y="731.8" text-anchor="middle">10³</text><rect x="312.3" y="725.8" width=".4" height="1"/><text x="325.5" y="731.8" text-anchor="middle">10⁴</text><rect x="325.3" y="725.8" width=".4" height="1"/><text x="338.5" y="731.8" text-anchor="middle">10⁵</text><rect x="338.3" y="725.8" width=".4" height="1"/><text x="369.2" y="728.4" text-anchor="end">0</text><rect x="369.5" y="727.2" width="1" height=".4"/><text x="369.2" y="717" text-anchor="end">20</text><rect x="369.5" y="715.8" width="1" height=".4"/><text x="369.2" y="705.6" text-anchor="end">40</text><rect x="369.5" y="704.4" width="1" height=".4"/><text x="369.2" y="694.2" text-anchor="end">60</text><rect x="369.5" y="693" width="1" height=".4"/><text x="369.2" y="682.8" text-anchor="end">80</text><rect x="369.5" y="681.6" width="1" height=".4"/><text x="369.2" y="671.4" text-anchor="end">100</text><rect x="369.5" y="670.2" width="1" height=".4"/><text x="374.5" y="733.4" text-anchor="middle">0</text><rect x="374.3" y="727.4" width=".4" height="1"/><text x="390.5" y="733.4" text-anchor="middle">10³</text><rect x="390.3" y="727.4" width=".4" height="1"/><text x="403.5" y="733.4" text-anchor="middle">10⁴</text><rect x="403.3" y="727.4" width=".4" height="1"/><text x="416.5" y="733.4" text-anchor="middle">10⁵</text><rect x="416.3" y="727.4" width=".4" height="1"/></g></g>
</svg></body></html>
